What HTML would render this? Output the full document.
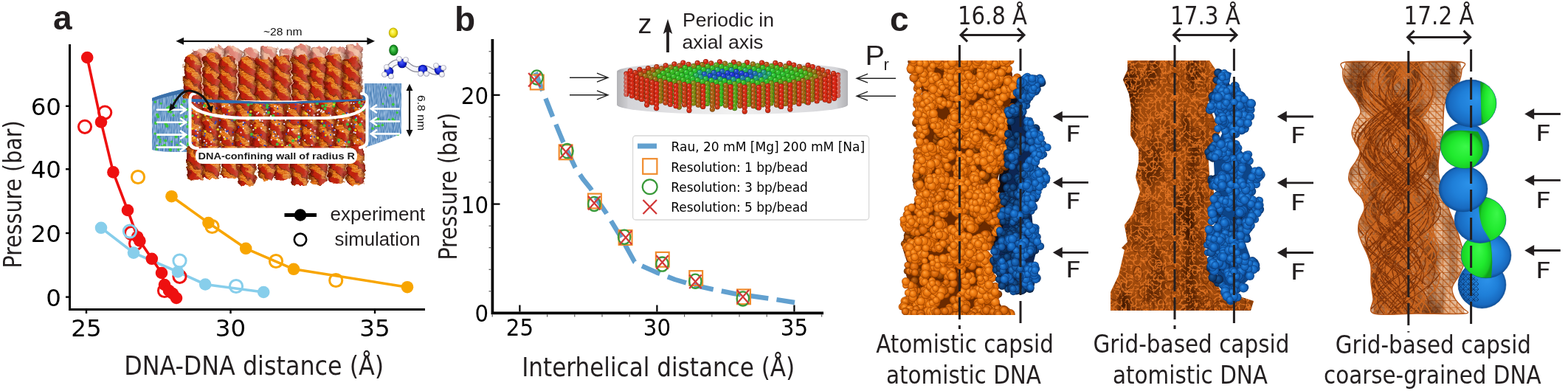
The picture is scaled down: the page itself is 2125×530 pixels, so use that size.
<!DOCTYPE html>
<html><head><meta charset="utf-8"><title>figure</title>
<style>html,body{margin:0;padding:0;background:#fff;} body{width:2125px;height:530px;overflow:hidden;} svg{display:block;}</style>
</head><body>
<svg width="2125" height="530" viewBox="0 0 2125 530">
<rect width="2125" height="530" fill="#fff"/>
<text x="72" y="40" font-family='"Liberation Sans", Arial, sans-serif' font-size="46" font-weight="bold" fill="#231f20" text-anchor="start" >a</text>
<defs><filter id="tWall" x="0" y="0" width="1" height="1" color-interpolation-filters="sRGB"><feTurbulence type="fractalNoise" baseFrequency="0.9 0.12" numOctaves="1" seed="4" result="n"/><feColorMatrix in="n" type="matrix" result="a" values="0 0 0 0 0.85  0 0 0 0 0.92  0 0 0 0 1  3 0 0 0 -1.1"/><feComposite in="a" in2="SourceGraphic" operator="in"/></filter><filter id="tDNA" x="0" y="0" width="1" height="1" color-interpolation-filters="sRGB"><feTurbulence type="fractalNoise" baseFrequency="0.25" numOctaves="2" seed="9" result="n"/><feColorMatrix in="n" type="matrix" result="a" values="0 0 0 0 0.5  0 0 0 0 0.08  0 0 0 0 0.02  2.4 0 0 0 -0.95"/><feComposite in="a" in2="SourceGraphic" operator="in"/></filter><filter id="soft2" x="-5%" y="-5%" width="110%" height="110%"><feGaussianBlur stdDeviation="0.5"/></filter><pattern id="rung" x="0" y="0" width="6" height="3.2" patternUnits="userSpaceOnUse"><rect width="6" height="3.2" fill="#dc640c"/><rect y="0" width="6" height="1.3" fill="#f29434"/></pattern><pattern id="bb1" x="0" y="0" width="16" height="16" patternUnits="userSpaceOnUse" patternTransform="rotate(38)"><rect width="16" height="7.5" fill="#bf1a0c"/><rect y="7.5" width="16" height="1.4" fill="#6a0c04"/></pattern><pattern id="bb2" x="5" y="0" width="16" height="16" patternUnits="userSpaceOnUse" patternTransform="rotate(38) translate(0 7)"><rect width="16" height="7.5" fill="#bf1a0c"/><rect y="7.5" width="16" height="1.4" fill="#6a0c04"/></pattern><pattern id="bbL" x="0" y="0" width="16" height="16" patternUnits="userSpaceOnUse" patternTransform="rotate(38) translate(0 3)"><rect width="16" height="6.5" fill="#dc6a5a"/><rect y="6.5" width="16" height="1.2" fill="#b05040"/></pattern><linearGradient id="colsh" x1="0" y1="0" x2="1" y2="0"><stop offset="0" stop-color="#3a0800" stop-opacity=".7"/><stop offset=".25" stop-color="#3a0800" stop-opacity="0"/><stop offset=".7" stop-color="#fff" stop-opacity="0.12"/><stop offset="1" stop-color="#3a0800" stop-opacity=".55"/></linearGradient><mask id="hmask" maskUnits="userSpaceOnUse" x="200" y="40" width="360" height="230"><rect x="200" y="40" width="360" height="230" fill="#fff"/></mask><filter id="wob" x="-3%" y="-3%" width="106%" height="106%" color-interpolation-filters="sRGB"><feTurbulence type="fractalNoise" baseFrequency="0.13" numOctaves="2" seed="2" result="t"/><feDisplacementMap in="SourceGraphic" in2="t" scale="9" xChannelSelector="R" yChannelSelector="G"/></filter><clipPath id="cMid"><path d="M258 128 Q378 150 497 126 L497 200 L258 200 Z"/></clipPath><clipPath id="cUp"><path d="M240 40 L520 40 L520 133 Q378 140 240 133 Z"/></clipPath><clipPath id="cLow"><rect x="240" y="198" width="280" height="70"/></clipPath></defs>
<g filter="url(#soft2)">
<path d="M206 133 Q230 124 258 119 L258 206 L232 206 Q212 205 206 203 Z" fill="#4f84ba"/>
<path d="M206 133 Q230 124 258 119 L258 206 L232 206 Q212 205 206 203 Z" fill="#000" filter="url(#tWall)" opacity="0.6"/>
<path d="M494 113 L544 113 L544 181 Q520 192 494 200 Z" fill="#4f84ba"/>
<path d="M494 113 L544 113 L544 181 Q520 192 494 200 Z" fill="#000" filter="url(#tWall)" opacity="0.6"/>
<path d="M206 133 Q230 124 258 119 L258 125 Q230 129 206 137 Z" fill="#3a70aa"/>
<g fill="#3cc83c">
<circle cx="238.7" cy="185.4" r="2.2"/>
<circle cx="253.4" cy="185.3" r="2.3"/>
<circle cx="211.3" cy="166.7" r="2.3"/>
<circle cx="239.9" cy="196.3" r="1.5"/>
<circle cx="231.6" cy="151.8" r="1.9"/>
<circle cx="236.4" cy="135.9" r="1.6"/>
<circle cx="222.9" cy="197.3" r="2.2"/>
<circle cx="217.3" cy="189.2" r="1.5"/>
<circle cx="238.4" cy="143.6" r="1.4"/>
<circle cx="250.1" cy="149.2" r="1.6"/>
<circle cx="255.2" cy="194.3" r="1.7"/>
<circle cx="254.2" cy="171.7" r="2.1"/>
<circle cx="219.4" cy="199.0" r="2.1"/>
<circle cx="254.5" cy="195.8" r="1.7"/>
<circle cx="226.6" cy="146.3" r="1.5"/>
<circle cx="213.0" cy="155.5" r="2.0"/>
<circle cx="210.2" cy="181.1" r="1.7"/>
<circle cx="224.3" cy="190.7" r="1.9"/>
<circle cx="224.5" cy="167.7" r="2.1"/>
<circle cx="212.6" cy="201.3" r="1.4"/>
<circle cx="244.5" cy="192.5" r="1.4"/>
<circle cx="246.2" cy="159.9" r="2.0"/>
<circle cx="210.4" cy="138.2" r="1.6"/>
<circle cx="253.9" cy="148.4" r="2.2"/>
<circle cx="252.8" cy="199.1" r="1.7"/>
<circle cx="226.3" cy="170.7" r="2.2"/>
<circle cx="215.0" cy="185.9" r="2.2"/>
<circle cx="249.5" cy="137.5" r="2.3"/>
<circle cx="214.2" cy="158.2" r="2.0"/>
<circle cx="252.2" cy="158.1" r="2.3"/>
<circle cx="235.1" cy="156.2" r="1.7"/>
<circle cx="218.2" cy="140.3" r="1.5"/>
<circle cx="241.7" cy="202.8" r="1.6"/>
<circle cx="212.2" cy="202.1" r="1.9"/>
<circle cx="228.7" cy="151.1" r="2.0"/>
<circle cx="248.0" cy="166.0" r="1.8"/>
<circle cx="212.6" cy="197.3" r="1.4"/>
<circle cx="232.7" cy="192.0" r="1.5"/>
<circle cx="243.7" cy="199.6" r="2.0"/>
<circle cx="246.2" cy="142.3" r="1.8"/>
<circle cx="216.9" cy="192.4" r="1.7"/>
<circle cx="230.8" cy="203.0" r="2.3"/>
<circle cx="254.9" cy="165.8" r="1.9"/>
<circle cx="243.6" cy="167.6" r="1.7"/>
<circle cx="228.6" cy="145.0" r="1.8"/>
<circle cx="539.5" cy="182.3" r="1.7"/>
<circle cx="519.0" cy="140.7" r="1.3"/>
<circle cx="509.4" cy="170.4" r="1.9"/>
<circle cx="513.2" cy="170.7" r="1.8"/>
<circle cx="527.2" cy="162.5" r="1.8"/>
<circle cx="513.3" cy="165.2" r="1.4"/>
<circle cx="518.4" cy="169.6" r="1.8"/>
<circle cx="510.3" cy="181.4" r="1.7"/>
<circle cx="522.4" cy="118.8" r="1.6"/>
<circle cx="508.5" cy="163.0" r="1.6"/>
<circle cx="532.3" cy="161.4" r="1.8"/>
<circle cx="512.6" cy="161.2" r="1.8"/>
<circle cx="532.8" cy="141.5" r="1.9"/>
<circle cx="534.5" cy="164.1" r="2.0"/>
<circle cx="538.2" cy="152.7" r="1.6"/>
<circle cx="505.0" cy="174.1" r="1.9"/>
<circle cx="518.0" cy="164.3" r="1.8"/>
<circle cx="528.7" cy="129.5" r="1.8"/>
</g>
<g clip-path="url(#cMid)">
<rect x="258" y="120" width="240" height="82" fill="#9c2410"/>
<g filter="url(#wob)">
<g>
<rect x="251.5" y="138.0" width="21" height="68.0" rx="7" fill="url(#rung)"/>
<rect x="251.5" y="138.0" width="21" height="68.0" rx="7" fill="url(#bb2)" fill-opacity="0.92" mask="url(#hmask)"/>
<rect x="251.5" y="138.0" width="21" height="68.0" rx="7" fill="url(#colsh)"/>
</g>
<g>
<rect x="274.0" y="138.0" width="21" height="68.0" rx="7" fill="url(#rung)"/>
<rect x="274.0" y="138.0" width="21" height="68.0" rx="7" fill="url(#bb2)" fill-opacity="0.92" mask="url(#hmask)"/>
<rect x="274.0" y="138.0" width="21" height="68.0" rx="7" fill="url(#colsh)"/>
</g>
<g>
<rect x="296.5" y="138.0" width="21" height="68.0" rx="7" fill="url(#rung)"/>
<rect x="296.5" y="138.0" width="21" height="68.0" rx="7" fill="url(#bb2)" fill-opacity="0.92" mask="url(#hmask)"/>
<rect x="296.5" y="138.0" width="21" height="68.0" rx="7" fill="url(#colsh)"/>
</g>
<g>
<rect x="319.0" y="138.0" width="21" height="68.0" rx="7" fill="url(#rung)"/>
<rect x="319.0" y="138.0" width="21" height="68.0" rx="7" fill="url(#bb1)" fill-opacity="0.92" mask="url(#hmask)"/>
<rect x="319.0" y="138.0" width="21" height="68.0" rx="7" fill="url(#colsh)"/>
</g>
<g>
<rect x="341.5" y="138.0" width="21" height="68.0" rx="7" fill="url(#rung)"/>
<rect x="341.5" y="138.0" width="21" height="68.0" rx="7" fill="url(#bb1)" fill-opacity="0.92" mask="url(#hmask)"/>
<rect x="341.5" y="138.0" width="21" height="68.0" rx="7" fill="url(#colsh)"/>
</g>
<g>
<rect x="364.0" y="138.0" width="21" height="68.0" rx="7" fill="url(#rung)"/>
<rect x="364.0" y="138.0" width="21" height="68.0" rx="7" fill="url(#bb1)" fill-opacity="0.92" mask="url(#hmask)"/>
<rect x="364.0" y="138.0" width="21" height="68.0" rx="7" fill="url(#colsh)"/>
</g>
<g>
<rect x="386.5" y="138.0" width="21" height="68.0" rx="7" fill="url(#rung)"/>
<rect x="386.5" y="138.0" width="21" height="68.0" rx="7" fill="url(#bb2)" fill-opacity="0.92" mask="url(#hmask)"/>
<rect x="386.5" y="138.0" width="21" height="68.0" rx="7" fill="url(#colsh)"/>
</g>
<g>
<rect x="409.0" y="138.0" width="21" height="68.0" rx="7" fill="url(#rung)"/>
<rect x="409.0" y="138.0" width="21" height="68.0" rx="7" fill="url(#bb1)" fill-opacity="0.92" mask="url(#hmask)"/>
<rect x="409.0" y="138.0" width="21" height="68.0" rx="7" fill="url(#colsh)"/>
</g>
<g>
<rect x="431.5" y="138.0" width="21" height="68.0" rx="7" fill="url(#rung)"/>
<rect x="431.5" y="138.0" width="21" height="68.0" rx="7" fill="url(#bb1)" fill-opacity="0.92" mask="url(#hmask)"/>
<rect x="431.5" y="138.0" width="21" height="68.0" rx="7" fill="url(#colsh)"/>
</g>
<g>
<rect x="454.0" y="138.0" width="21" height="68.0" rx="7" fill="url(#rung)"/>
<rect x="454.0" y="138.0" width="21" height="68.0" rx="7" fill="url(#bb1)" fill-opacity="0.92" mask="url(#hmask)"/>
<rect x="454.0" y="138.0" width="21" height="68.0" rx="7" fill="url(#colsh)"/>
</g>
<g>
<rect x="476.5" y="138.0" width="21" height="68.0" rx="7" fill="url(#rung)"/>
<rect x="476.5" y="138.0" width="21" height="68.0" rx="7" fill="url(#bb1)" fill-opacity="0.92" mask="url(#hmask)"/>
<rect x="476.5" y="138.0" width="21" height="68.0" rx="7" fill="url(#colsh)"/>
</g>
</g>
<g fill="#f0e8ff">
<circle cx="492.8" cy="198.6" r="1.1"/>
<circle cx="299.1" cy="192.4" r="1.1"/>
<circle cx="286.2" cy="197.8" r="1.1"/>
<circle cx="373.9" cy="168.4" r="1.1"/>
<circle cx="358.1" cy="154.6" r="1.1"/>
<circle cx="416.4" cy="135.0" r="1.1"/>
<circle cx="308.2" cy="180.3" r="1.1"/>
<circle cx="348.3" cy="154.5" r="1.1"/>
<circle cx="484.7" cy="189.9" r="1.1"/>
<circle cx="464.5" cy="178.2" r="1.1"/>
<circle cx="389.1" cy="197.5" r="1.1"/>
<circle cx="389.8" cy="151.1" r="1.1"/>
<circle cx="329.7" cy="165.9" r="1.1"/>
<circle cx="484.5" cy="150.5" r="1.1"/>
<circle cx="343.0" cy="139.0" r="1.1"/>
<circle cx="356.6" cy="169.5" r="1.1"/>
<circle cx="387.1" cy="162.7" r="1.1"/>
<circle cx="297.0" cy="156.8" r="1.1"/>
<circle cx="372.6" cy="143.9" r="1.1"/>
<circle cx="291.4" cy="136.4" r="1.1"/>
<circle cx="453.8" cy="176.3" r="1.1"/>
<circle cx="350.1" cy="152.8" r="1.1"/>
<circle cx="476.3" cy="167.8" r="1.1"/>
<circle cx="336.8" cy="191.4" r="1.1"/>
<circle cx="393.2" cy="160.0" r="1.1"/>
<circle cx="490.5" cy="164.5" r="1.1"/>
<circle cx="373.2" cy="179.6" r="1.1"/>
<circle cx="350.6" cy="189.8" r="1.1"/>
<circle cx="297.5" cy="171.6" r="1.1"/>
<circle cx="434.9" cy="151.1" r="1.1"/>
<circle cx="319.3" cy="131.4" r="1.1"/>
<circle cx="483.1" cy="151.5" r="1.1"/>
<circle cx="479.4" cy="140.0" r="1.1"/>
<circle cx="265.6" cy="176.2" r="1.1"/>
<circle cx="486.8" cy="147.2" r="1.1"/>
<circle cx="269.4" cy="139.6" r="1.1"/>
<circle cx="352.6" cy="163.6" r="1.1"/>
<circle cx="392.2" cy="147.0" r="1.1"/>
<circle cx="371.9" cy="132.6" r="1.1"/>
<circle cx="375.7" cy="189.1" r="1.1"/>
<circle cx="430.3" cy="150.0" r="1.1"/>
<circle cx="376.2" cy="199.5" r="1.1"/>
<circle cx="382.3" cy="190.4" r="1.1"/>
<circle cx="467.8" cy="192.7" r="1.1"/>
<circle cx="263.8" cy="138.8" r="1.1"/>
<circle cx="326.6" cy="179.6" r="1.1"/>
<circle cx="404.8" cy="181.2" r="1.1"/>
<circle cx="266.3" cy="154.5" r="1.1"/>
<circle cx="420.9" cy="186.9" r="1.1"/>
<circle cx="291.3" cy="130.2" r="1.1"/>
<circle cx="390.6" cy="178.0" r="1.1"/>
<circle cx="285.4" cy="178.1" r="1.1"/>
<circle cx="305.1" cy="160.1" r="1.1"/>
<circle cx="450.6" cy="171.6" r="1.1"/>
<circle cx="422.6" cy="196.7" r="1.1"/>
<circle cx="413.1" cy="190.1" r="1.1"/>
<circle cx="458.5" cy="163.3" r="1.1"/>
<circle cx="421.0" cy="180.4" r="1.1"/>
<circle cx="472.1" cy="162.6" r="1.1"/>
<circle cx="438.9" cy="151.3" r="1.1"/>
<circle cx="260.8" cy="184.5" r="1.1"/>
<circle cx="397.4" cy="175.4" r="1.1"/>
<circle cx="371.5" cy="151.8" r="1.1"/>
<circle cx="299.0" cy="178.7" r="1.1"/>
<circle cx="469.7" cy="198.1" r="1.1"/>
<circle cx="387.0" cy="159.8" r="1.1"/>
<circle cx="387.8" cy="133.4" r="1.1"/>
<circle cx="432.9" cy="148.7" r="1.1"/>
<circle cx="280.1" cy="134.4" r="1.1"/>
<circle cx="482.4" cy="153.3" r="1.1"/>
<circle cx="361.3" cy="134.8" r="1.1"/>
<circle cx="355.6" cy="164.1" r="1.1"/>
<circle cx="289.1" cy="138.6" r="1.1"/>
<circle cx="405.0" cy="187.7" r="1.1"/>
<circle cx="286.2" cy="192.6" r="1.1"/>
<circle cx="494.6" cy="179.4" r="1.1"/>
<circle cx="363.4" cy="142.8" r="1.1"/>
<circle cx="303.7" cy="186.1" r="1.1"/>
<circle cx="275.9" cy="144.9" r="1.1"/>
<circle cx="391.1" cy="176.2" r="1.1"/>
<circle cx="435.9" cy="149.6" r="1.1"/>
<circle cx="394.8" cy="138.3" r="1.1"/>
<circle cx="354.1" cy="173.7" r="1.1"/>
<circle cx="262.4" cy="136.4" r="1.1"/>
<circle cx="421.8" cy="164.3" r="1.1"/>
<circle cx="343.4" cy="175.9" r="1.1"/>
<circle cx="475.9" cy="139.7" r="1.1"/>
<circle cx="329.6" cy="169.8" r="1.1"/>
<circle cx="420.0" cy="150.3" r="1.1"/>
<circle cx="482.3" cy="168.5" r="1.1"/>
<circle cx="312.1" cy="134.4" r="1.1"/>
<circle cx="315.6" cy="188.3" r="1.1"/>
<circle cx="326.9" cy="198.3" r="1.1"/>
<circle cx="450.7" cy="190.4" r="1.1"/>
<circle cx="367.0" cy="157.2" r="1.1"/>
<circle cx="291.0" cy="131.3" r="1.1"/>
<circle cx="340.6" cy="170.1" r="1.1"/>
<circle cx="268.5" cy="190.4" r="1.1"/>
<circle cx="379.5" cy="161.7" r="1.1"/>
<circle cx="352.0" cy="162.4" r="1.1"/>
<circle cx="487.3" cy="137.5" r="1.1"/>
<circle cx="385.2" cy="167.9" r="1.1"/>
<circle cx="350.8" cy="189.4" r="1.1"/>
<circle cx="482.9" cy="160.1" r="1.1"/>
<circle cx="447.5" cy="182.5" r="1.1"/>
<circle cx="279.8" cy="193.8" r="1.1"/>
<circle cx="376.0" cy="144.8" r="1.1"/>
<circle cx="425.6" cy="156.3" r="1.1"/>
<circle cx="457.3" cy="150.3" r="1.1"/>
<circle cx="479.6" cy="179.4" r="1.1"/>
<circle cx="447.9" cy="156.5" r="1.1"/>
<circle cx="430.6" cy="155.1" r="1.1"/>
<circle cx="329.8" cy="174.2" r="1.1"/>
<circle cx="486.9" cy="155.4" r="1.1"/>
<circle cx="268.6" cy="199.5" r="1.1"/>
<circle cx="310.7" cy="142.6" r="1.1"/>
<circle cx="274.9" cy="132.6" r="1.1"/>
<circle cx="304.0" cy="143.7" r="1.1"/>
<circle cx="375.6" cy="195.6" r="1.1"/>
<circle cx="416.1" cy="154.4" r="1.1"/>
<circle cx="360.8" cy="151.0" r="1.1"/>
<circle cx="480.6" cy="194.5" r="1.1"/>
<circle cx="336.3" cy="162.3" r="1.1"/>
<circle cx="305.2" cy="175.7" r="1.1"/>
<circle cx="276.8" cy="190.8" r="1.1"/>
<circle cx="465.1" cy="162.9" r="1.1"/>
<circle cx="390.3" cy="137.7" r="1.1"/>
<circle cx="453.1" cy="182.5" r="1.1"/>
<circle cx="418.6" cy="132.3" r="1.1"/>
<circle cx="471.5" cy="154.1" r="1.1"/>
<circle cx="437.5" cy="152.1" r="1.1"/>
<circle cx="273.9" cy="131.5" r="1.1"/>
<circle cx="367.8" cy="189.4" r="1.1"/>
<circle cx="296.8" cy="185.0" r="1.1"/>
<circle cx="336.5" cy="161.8" r="1.1"/>
<circle cx="316.6" cy="199.6" r="1.1"/>
<circle cx="267.9" cy="180.0" r="1.1"/>
<circle cx="395.6" cy="176.0" r="1.1"/>
<circle cx="405.7" cy="193.8" r="1.1"/>
<circle cx="426.8" cy="177.6" r="1.1"/>
<circle cx="303.5" cy="155.3" r="1.1"/>
<circle cx="275.8" cy="199.6" r="1.1"/>
<circle cx="370.5" cy="184.3" r="1.1"/>
<circle cx="301.5" cy="144.6" r="1.1"/>
<circle cx="270.4" cy="172.6" r="1.1"/>
<circle cx="431.4" cy="148.9" r="1.1"/>
<circle cx="369.0" cy="161.7" r="1.1"/>
<circle cx="420.8" cy="141.9" r="1.1"/>
<circle cx="267.9" cy="188.5" r="1.1"/>
<circle cx="457.6" cy="169.6" r="1.1"/>
<circle cx="481.7" cy="180.2" r="1.1"/>
<circle cx="315.9" cy="186.2" r="1.1"/>
<circle cx="281.7" cy="163.0" r="1.1"/>
<circle cx="421.1" cy="175.1" r="1.1"/>
<circle cx="377.4" cy="184.7" r="1.1"/>
<circle cx="271.3" cy="188.3" r="1.1"/>
<circle cx="365.2" cy="174.8" r="1.1"/>
<circle cx="466.5" cy="196.5" r="1.1"/>
<circle cx="305.9" cy="178.7" r="1.1"/>
<circle cx="411.2" cy="143.2" r="1.1"/>
</g>
<g fill="#3040c0">
<circle cx="315.2" cy="194.9" r="1.1"/>
<circle cx="446.6" cy="136.1" r="1.1"/>
<circle cx="492.5" cy="141.3" r="1.1"/>
<circle cx="277.8" cy="181.1" r="1.1"/>
<circle cx="407.5" cy="160.9" r="1.1"/>
<circle cx="344.4" cy="159.6" r="1.1"/>
<circle cx="441.3" cy="166.6" r="1.1"/>
<circle cx="291.3" cy="130.9" r="1.1"/>
<circle cx="438.5" cy="178.2" r="1.1"/>
<circle cx="470.4" cy="200.0" r="1.1"/>
<circle cx="390.9" cy="139.7" r="1.1"/>
<circle cx="374.0" cy="184.6" r="1.1"/>
<circle cx="322.2" cy="158.2" r="1.1"/>
<circle cx="291.3" cy="167.6" r="1.1"/>
<circle cx="371.3" cy="178.8" r="1.1"/>
<circle cx="448.5" cy="197.7" r="1.1"/>
<circle cx="417.2" cy="149.3" r="1.1"/>
<circle cx="376.3" cy="147.4" r="1.1"/>
<circle cx="426.1" cy="185.7" r="1.1"/>
<circle cx="468.3" cy="192.0" r="1.1"/>
<circle cx="277.0" cy="183.9" r="1.1"/>
<circle cx="349.6" cy="183.8" r="1.1"/>
<circle cx="260.0" cy="150.0" r="1.1"/>
<circle cx="481.9" cy="139.2" r="1.1"/>
<circle cx="266.7" cy="140.0" r="1.1"/>
<circle cx="422.3" cy="184.7" r="1.1"/>
<circle cx="264.4" cy="133.3" r="1.1"/>
<circle cx="360.9" cy="137.5" r="1.1"/>
<circle cx="450.0" cy="169.3" r="1.1"/>
<circle cx="335.8" cy="151.5" r="1.1"/>
<circle cx="292.4" cy="164.8" r="1.1"/>
<circle cx="336.3" cy="132.4" r="1.1"/>
<circle cx="388.0" cy="181.7" r="1.1"/>
<circle cx="266.6" cy="138.5" r="1.1"/>
<circle cx="488.8" cy="187.9" r="1.1"/>
<circle cx="362.9" cy="148.1" r="1.1"/>
<circle cx="484.5" cy="131.2" r="1.1"/>
<circle cx="384.5" cy="138.8" r="1.1"/>
<circle cx="307.5" cy="155.1" r="1.1"/>
<circle cx="298.5" cy="173.3" r="1.1"/>
<circle cx="298.5" cy="198.8" r="1.1"/>
<circle cx="323.3" cy="172.4" r="1.1"/>
<circle cx="408.8" cy="140.1" r="1.1"/>
<circle cx="440.5" cy="160.4" r="1.1"/>
<circle cx="361.4" cy="153.3" r="1.1"/>
<circle cx="365.2" cy="146.0" r="1.1"/>
<circle cx="400.7" cy="142.0" r="1.1"/>
<circle cx="271.4" cy="176.8" r="1.1"/>
<circle cx="297.9" cy="163.1" r="1.1"/>
<circle cx="376.0" cy="130.1" r="1.1"/>
<circle cx="289.9" cy="189.5" r="1.1"/>
<circle cx="421.8" cy="144.5" r="1.1"/>
<circle cx="260.3" cy="193.6" r="1.1"/>
<circle cx="315.7" cy="179.4" r="1.1"/>
<circle cx="343.6" cy="162.5" r="1.1"/>
<circle cx="307.5" cy="187.5" r="1.1"/>
<circle cx="331.6" cy="166.1" r="1.1"/>
<circle cx="440.4" cy="185.0" r="1.1"/>
<circle cx="346.5" cy="186.6" r="1.1"/>
<circle cx="452.2" cy="176.4" r="1.1"/>
<circle cx="474.4" cy="134.3" r="1.1"/>
<circle cx="376.7" cy="154.4" r="1.1"/>
<circle cx="293.7" cy="146.7" r="1.1"/>
<circle cx="350.1" cy="136.6" r="1.1"/>
<circle cx="353.7" cy="182.8" r="1.1"/>
<circle cx="326.4" cy="194.5" r="1.1"/>
<circle cx="448.0" cy="182.9" r="1.1"/>
<circle cx="372.6" cy="162.9" r="1.1"/>
<circle cx="386.0" cy="136.4" r="1.1"/>
<circle cx="307.0" cy="178.2" r="1.1"/>
<circle cx="284.4" cy="172.4" r="1.1"/>
<circle cx="406.5" cy="186.9" r="1.1"/>
<circle cx="265.2" cy="177.5" r="1.1"/>
<circle cx="404.0" cy="166.0" r="1.1"/>
<circle cx="378.3" cy="168.2" r="1.1"/>
<circle cx="423.0" cy="161.5" r="1.1"/>
<circle cx="445.9" cy="170.6" r="1.1"/>
<circle cx="480.6" cy="169.0" r="1.1"/>
<circle cx="274.4" cy="140.3" r="1.1"/>
<circle cx="358.3" cy="197.1" r="1.1"/>
<circle cx="264.8" cy="183.9" r="1.1"/>
<circle cx="308.8" cy="150.0" r="1.1"/>
<circle cx="266.5" cy="184.2" r="1.1"/>
<circle cx="404.1" cy="190.4" r="1.1"/>
<circle cx="482.1" cy="158.9" r="1.1"/>
<circle cx="488.6" cy="131.0" r="1.1"/>
<circle cx="479.3" cy="146.4" r="1.1"/>
<circle cx="268.9" cy="136.2" r="1.1"/>
<circle cx="487.0" cy="151.0" r="1.1"/>
<circle cx="342.9" cy="186.1" r="1.1"/>
<circle cx="480.0" cy="172.4" r="1.1"/>
<circle cx="392.6" cy="163.8" r="1.1"/>
<circle cx="281.7" cy="138.5" r="1.1"/>
<circle cx="340.7" cy="185.0" r="1.1"/>
<circle cx="360.0" cy="197.8" r="1.1"/>
<circle cx="418.4" cy="156.5" r="1.1"/>
<circle cx="437.2" cy="167.0" r="1.1"/>
<circle cx="308.9" cy="177.4" r="1.1"/>
<circle cx="335.9" cy="152.7" r="1.1"/>
<circle cx="459.0" cy="192.2" r="1.1"/>
<circle cx="422.4" cy="198.9" r="1.1"/>
<circle cx="318.8" cy="137.0" r="1.1"/>
<circle cx="329.4" cy="185.8" r="1.1"/>
<circle cx="448.1" cy="135.5" r="1.1"/>
<circle cx="484.3" cy="135.4" r="1.1"/>
<circle cx="357.5" cy="143.0" r="1.1"/>
<circle cx="414.8" cy="169.9" r="1.1"/>
<circle cx="407.8" cy="174.8" r="1.1"/>
<circle cx="388.8" cy="158.5" r="1.1"/>
<circle cx="314.5" cy="163.8" r="1.1"/>
<circle cx="400.7" cy="147.1" r="1.1"/>
<circle cx="358.7" cy="135.9" r="1.1"/>
<circle cx="469.9" cy="153.1" r="1.1"/>
<circle cx="359.5" cy="140.4" r="1.1"/>
<circle cx="329.8" cy="168.9" r="1.1"/>
<circle cx="393.0" cy="160.4" r="1.1"/>
<circle cx="336.9" cy="137.2" r="1.1"/>
<circle cx="445.7" cy="153.1" r="1.1"/>
<circle cx="278.0" cy="196.7" r="1.1"/>
<circle cx="292.5" cy="166.4" r="1.1"/>
</g>
<g fill="#40c040">
<circle cx="277.2" cy="143.3" r="2.0"/>
<circle cx="370.4" cy="156.9" r="2.0"/>
<circle cx="472.8" cy="192.5" r="2.0"/>
<circle cx="405.2" cy="185.8" r="2.0"/>
<circle cx="458.2" cy="130.1" r="2.0"/>
<circle cx="418.7" cy="137.8" r="2.0"/>
<circle cx="339.2" cy="155.7" r="2.0"/>
<circle cx="439.5" cy="170.2" r="2.0"/>
<circle cx="364.1" cy="152.6" r="2.0"/>
<circle cx="441.6" cy="142.8" r="2.0"/>
<circle cx="470.9" cy="168.4" r="2.0"/>
<circle cx="397.0" cy="190.8" r="2.0"/>
<circle cx="465.4" cy="155.6" r="2.0"/>
<circle cx="452.2" cy="143.7" r="2.0"/>
<circle cx="336.5" cy="142.1" r="2.0"/>
<circle cx="470.3" cy="199.2" r="2.0"/>
<circle cx="440.6" cy="147.2" r="2.0"/>
<circle cx="482.2" cy="162.6" r="2.0"/>
<circle cx="261.3" cy="198.6" r="2.0"/>
<circle cx="487.1" cy="139.3" r="2.0"/>
<circle cx="260.8" cy="156.7" r="2.0"/>
<circle cx="340.9" cy="182.0" r="2.0"/>
<circle cx="375.8" cy="195.6" r="2.0"/>
<circle cx="428.1" cy="131.1" r="2.0"/>
<circle cx="451.1" cy="199.9" r="2.0"/>
<circle cx="437.2" cy="143.7" r="2.0"/>
<circle cx="341.1" cy="139.9" r="2.0"/>
<circle cx="473.8" cy="175.0" r="2.0"/>
<circle cx="440.8" cy="136.2" r="2.0"/>
<circle cx="285.9" cy="158.6" r="2.0"/>
<circle cx="482.6" cy="134.4" r="2.0"/>
<circle cx="362.0" cy="145.4" r="2.0"/>
<circle cx="492.7" cy="149.0" r="2.0"/>
<circle cx="429.9" cy="140.2" r="2.0"/>
<circle cx="488.3" cy="168.7" r="2.0"/>
<circle cx="362.1" cy="142.6" r="2.0"/>
<circle cx="459.1" cy="189.9" r="2.0"/>
<circle cx="317.8" cy="161.7" r="2.0"/>
<circle cx="290.4" cy="135.9" r="2.0"/>
<circle cx="453.0" cy="139.9" r="2.0"/>
<circle cx="451.3" cy="131.5" r="2.0"/>
<circle cx="392.7" cy="197.0" r="2.0"/>
<circle cx="464.9" cy="135.5" r="2.0"/>
<circle cx="489.3" cy="143.6" r="2.0"/>
<circle cx="449.6" cy="130.9" r="2.0"/>
</g>
<g fill="#e8d020">
<circle cx="382.5" cy="196.9" r="1.6"/>
<circle cx="401.2" cy="188.7" r="1.6"/>
<circle cx="371.0" cy="131.6" r="1.6"/>
<circle cx="297.8" cy="184.0" r="1.6"/>
<circle cx="378.0" cy="190.2" r="1.6"/>
<circle cx="481.8" cy="176.3" r="1.6"/>
<circle cx="405.9" cy="171.1" r="1.6"/>
<circle cx="310.9" cy="159.5" r="1.6"/>
<circle cx="430.7" cy="186.9" r="1.6"/>
<circle cx="454.4" cy="160.3" r="1.6"/>
<circle cx="472.0" cy="131.0" r="1.6"/>
<circle cx="452.5" cy="141.7" r="1.6"/>
<circle cx="339.9" cy="151.2" r="1.6"/>
<circle cx="305.0" cy="188.4" r="1.6"/>
<circle cx="278.1" cy="155.9" r="1.6"/>
<circle cx="352.9" cy="143.3" r="1.6"/>
<circle cx="292.9" cy="155.4" r="1.6"/>
<circle cx="260.6" cy="174.3" r="1.6"/>
<circle cx="441.5" cy="183.1" r="1.6"/>
<circle cx="278.2" cy="178.1" r="1.6"/>
<circle cx="268.5" cy="158.7" r="1.6"/>
<circle cx="295.3" cy="175.4" r="1.6"/>
<circle cx="436.4" cy="164.6" r="1.6"/>
<circle cx="335.0" cy="162.1" r="1.6"/>
<circle cx="370.5" cy="135.4" r="1.6"/>
<circle cx="346.1" cy="173.3" r="1.6"/>
<circle cx="263.4" cy="186.9" r="1.6"/>
<circle cx="280.2" cy="139.2" r="1.6"/>
<circle cx="414.3" cy="153.4" r="1.6"/>
<circle cx="310.6" cy="150.6" r="1.6"/>
</g>
<path d="M258 128 Q378 134 497 126 L497 136 Q378 144 258 138 Z" fill="#2f6cae"/>
</g>
<g clip-path="url(#cUp)"><g filter="url(#wob)">
<g opacity="0.85">
<rect x="260.1" y="66.2" width="23" height="73.8" rx="7" fill="#f0b090"/>
<rect x="260.1" y="66.2" width="23" height="73.8" rx="7" fill="url(#bbL)" fill-opacity="0.92" mask="url(#hmask)"/>
<rect x="260.1" y="66.2" width="23" height="73.8" rx="7" fill="url(#colsh)"/>
</g>
<g opacity="0.85">
<rect x="282.2" y="62.0" width="23" height="78.0" rx="7" fill="#f0b090"/>
<rect x="282.2" y="62.0" width="23" height="78.0" rx="7" fill="url(#bbL)" fill-opacity="0.92" mask="url(#hmask)"/>
<rect x="282.2" y="62.0" width="23" height="78.0" rx="7" fill="url(#colsh)"/>
</g>
<g opacity="0.85">
<rect x="303.9" y="62.8" width="23" height="77.2" rx="7" fill="#f0b090"/>
<rect x="303.9" y="62.8" width="23" height="77.2" rx="7" fill="url(#bbL)" fill-opacity="0.92" mask="url(#hmask)"/>
<rect x="303.9" y="62.8" width="23" height="77.2" rx="7" fill="url(#colsh)"/>
</g>
<g opacity="0.85">
<rect x="328.2" y="66.3" width="23" height="73.7" rx="7" fill="#f0b090"/>
<rect x="328.2" y="66.3" width="23" height="73.7" rx="7" fill="url(#bbL)" fill-opacity="0.92" mask="url(#hmask)"/>
<rect x="328.2" y="66.3" width="23" height="73.7" rx="7" fill="url(#colsh)"/>
</g>
<g opacity="0.85">
<rect x="352.7" y="63.1" width="23" height="76.9" rx="7" fill="#f0b090"/>
<rect x="352.7" y="63.1" width="23" height="76.9" rx="7" fill="url(#bbL)" fill-opacity="0.92" mask="url(#hmask)"/>
<rect x="352.7" y="63.1" width="23" height="76.9" rx="7" fill="url(#colsh)"/>
</g>
<g opacity="0.85">
<rect x="377.5" y="66.8" width="23" height="73.2" rx="7" fill="#f0b090"/>
<rect x="377.5" y="66.8" width="23" height="73.2" rx="7" fill="url(#bbL)" fill-opacity="0.92" mask="url(#hmask)"/>
<rect x="377.5" y="66.8" width="23" height="73.2" rx="7" fill="url(#colsh)"/>
</g>
<g opacity="0.85">
<rect x="398.1" y="60.1" width="23" height="79.9" rx="7" fill="#f0b090"/>
<rect x="398.1" y="60.1" width="23" height="79.9" rx="7" fill="url(#bbL)" fill-opacity="0.92" mask="url(#hmask)"/>
<rect x="398.1" y="60.1" width="23" height="79.9" rx="7" fill="url(#colsh)"/>
</g>
<g opacity="0.85">
<rect x="421.1" y="62.7" width="23" height="77.3" rx="7" fill="#f0b090"/>
<rect x="421.1" y="62.7" width="23" height="77.3" rx="7" fill="url(#bbL)" fill-opacity="0.92" mask="url(#hmask)"/>
<rect x="421.1" y="62.7" width="23" height="77.3" rx="7" fill="url(#colsh)"/>
</g>
<g opacity="0.85">
<rect x="445.5" y="64.7" width="23" height="75.3" rx="7" fill="#f0b090"/>
<rect x="445.5" y="64.7" width="23" height="75.3" rx="7" fill="url(#bbL)" fill-opacity="0.92" mask="url(#hmask)"/>
<rect x="445.5" y="64.7" width="23" height="75.3" rx="7" fill="url(#colsh)"/>
</g>
<g opacity="0.85">
<rect x="468.2" y="60.1" width="23" height="79.9" rx="7" fill="#f0b090"/>
<rect x="468.2" y="60.1" width="23" height="79.9" rx="7" fill="url(#bbL)" fill-opacity="0.92" mask="url(#hmask)"/>
<rect x="468.2" y="60.1" width="23" height="79.9" rx="7" fill="url(#colsh)"/>
</g>
<g>
<rect x="248.8" y="74.3" width="24" height="75.7" rx="7" fill="url(#rung)"/>
<rect x="248.8" y="74.3" width="24" height="75.7" rx="7" fill="url(#bb1)" fill-opacity="0.92" mask="url(#hmask)"/>
<rect x="248.8" y="74.3" width="24" height="75.7" rx="7" fill="url(#colsh)"/>
</g>
<g>
<rect x="275.2" y="72.6" width="24" height="77.4" rx="7" fill="url(#rung)"/>
<rect x="275.2" y="72.6" width="24" height="77.4" rx="7" fill="url(#bb1)" fill-opacity="0.92" mask="url(#hmask)"/>
<rect x="275.2" y="72.6" width="24" height="77.4" rx="7" fill="url(#colsh)"/>
</g>
<g>
<rect x="296.2" y="75.9" width="24" height="74.1" rx="7" fill="url(#rung)"/>
<rect x="296.2" y="75.9" width="24" height="74.1" rx="7" fill="url(#bb2)" fill-opacity="0.92" mask="url(#hmask)"/>
<rect x="296.2" y="75.9" width="24" height="74.1" rx="7" fill="url(#colsh)"/>
</g>
<g>
<rect x="323.1" y="77.6" width="24" height="72.4" rx="7" fill="url(#rung)"/>
<rect x="323.1" y="77.6" width="24" height="72.4" rx="7" fill="url(#bb2)" fill-opacity="0.92" mask="url(#hmask)"/>
<rect x="323.1" y="77.6" width="24" height="72.4" rx="7" fill="url(#colsh)"/>
</g>
<g>
<rect x="345.8" y="78.5" width="24" height="71.5" rx="7" fill="url(#rung)"/>
<rect x="345.8" y="78.5" width="24" height="71.5" rx="7" fill="url(#bb2)" fill-opacity="0.92" mask="url(#hmask)"/>
<rect x="345.8" y="78.5" width="24" height="71.5" rx="7" fill="url(#colsh)"/>
</g>
<g>
<rect x="370.3" y="74.8" width="24" height="75.2" rx="7" fill="url(#rung)"/>
<rect x="370.3" y="74.8" width="24" height="75.2" rx="7" fill="url(#bb2)" fill-opacity="0.92" mask="url(#hmask)"/>
<rect x="370.3" y="74.8" width="24" height="75.2" rx="7" fill="url(#colsh)"/>
</g>
<g>
<rect x="396.0" y="75.0" width="24" height="75.0" rx="7" fill="url(#rung)"/>
<rect x="396.0" y="75.0" width="24" height="75.0" rx="7" fill="url(#bb1)" fill-opacity="0.92" mask="url(#hmask)"/>
<rect x="396.0" y="75.0" width="24" height="75.0" rx="7" fill="url(#colsh)"/>
</g>
<g>
<rect x="418.4" y="78.8" width="24" height="71.2" rx="7" fill="url(#rung)"/>
<rect x="418.4" y="78.8" width="24" height="71.2" rx="7" fill="url(#bb2)" fill-opacity="0.92" mask="url(#hmask)"/>
<rect x="418.4" y="78.8" width="24" height="71.2" rx="7" fill="url(#colsh)"/>
</g>
<g>
<rect x="440.2" y="74.1" width="24" height="75.9" rx="7" fill="url(#rung)"/>
<rect x="440.2" y="74.1" width="24" height="75.9" rx="7" fill="url(#bb2)" fill-opacity="0.92" mask="url(#hmask)"/>
<rect x="440.2" y="74.1" width="24" height="75.9" rx="7" fill="url(#colsh)"/>
</g>
<g>
<rect x="464.4" y="77.1" width="24" height="72.9" rx="7" fill="url(#rung)"/>
<rect x="464.4" y="77.1" width="24" height="72.9" rx="7" fill="url(#bb2)" fill-opacity="0.92" mask="url(#hmask)"/>
<rect x="464.4" y="77.1" width="24" height="72.9" rx="7" fill="url(#colsh)"/>
</g>
</g></g>
<g clip-path="url(#cLow)"><g filter="url(#wob)">
<g>
<rect x="253.3" y="185.0" width="24" height="58.5" rx="7" fill="url(#rung)"/>
<rect x="253.3" y="185.0" width="24" height="58.5" rx="7" fill="url(#bb2)" fill-opacity="0.92" mask="url(#hmask)"/>
<rect x="253.3" y="185.0" width="24" height="58.5" rx="7" fill="url(#colsh)"/>
</g>
<g>
<rect x="274.3" y="185.0" width="24" height="57.0" rx="7" fill="url(#rung)"/>
<rect x="274.3" y="185.0" width="24" height="57.0" rx="7" fill="url(#bb1)" fill-opacity="0.92" mask="url(#hmask)"/>
<rect x="274.3" y="185.0" width="24" height="57.0" rx="7" fill="url(#colsh)"/>
</g>
<g>
<rect x="300.3" y="185.0" width="24" height="57.5" rx="7" fill="url(#rung)"/>
<rect x="300.3" y="185.0" width="24" height="57.5" rx="7" fill="url(#bb1)" fill-opacity="0.92" mask="url(#hmask)"/>
<rect x="300.3" y="185.0" width="24" height="57.5" rx="7" fill="url(#colsh)"/>
</g>
<g>
<rect x="322.5" y="185.0" width="24" height="66.7" rx="7" fill="url(#rung)"/>
<rect x="322.5" y="185.0" width="24" height="66.7" rx="7" fill="url(#bb2)" fill-opacity="0.92" mask="url(#hmask)"/>
<rect x="322.5" y="185.0" width="24" height="66.7" rx="7" fill="url(#colsh)"/>
</g>
<g>
<rect x="349.9" y="185.0" width="24" height="59.9" rx="7" fill="url(#rung)"/>
<rect x="349.9" y="185.0" width="24" height="59.9" rx="7" fill="url(#bb2)" fill-opacity="0.92" mask="url(#hmask)"/>
<rect x="349.9" y="185.0" width="24" height="59.9" rx="7" fill="url(#colsh)"/>
</g>
<g>
<rect x="371.9" y="185.0" width="24" height="58.6" rx="7" fill="url(#rung)"/>
<rect x="371.9" y="185.0" width="24" height="58.6" rx="7" fill="url(#bb1)" fill-opacity="0.92" mask="url(#hmask)"/>
<rect x="371.9" y="185.0" width="24" height="58.6" rx="7" fill="url(#colsh)"/>
</g>
<g>
<rect x="395.0" y="185.0" width="24" height="66.1" rx="7" fill="url(#rung)"/>
<rect x="395.0" y="185.0" width="24" height="66.1" rx="7" fill="url(#bb2)" fill-opacity="0.92" mask="url(#hmask)"/>
<rect x="395.0" y="185.0" width="24" height="66.1" rx="7" fill="url(#colsh)"/>
</g>
<g>
<rect x="419.6" y="185.0" width="24" height="63.9" rx="7" fill="url(#rung)"/>
<rect x="419.6" y="185.0" width="24" height="63.9" rx="7" fill="url(#bb1)" fill-opacity="0.92" mask="url(#hmask)"/>
<rect x="419.6" y="185.0" width="24" height="63.9" rx="7" fill="url(#colsh)"/>
</g>
<g>
<rect x="444.8" y="185.0" width="24" height="63.5" rx="7" fill="url(#rung)"/>
<rect x="444.8" y="185.0" width="24" height="63.5" rx="7" fill="url(#bb2)" fill-opacity="0.92" mask="url(#hmask)"/>
<rect x="444.8" y="185.0" width="24" height="63.5" rx="7" fill="url(#colsh)"/>
</g>
<g>
<rect x="469.7" y="185.0" width="24" height="66.2" rx="7" fill="url(#rung)"/>
<rect x="469.7" y="185.0" width="24" height="66.2" rx="7" fill="url(#bb1)" fill-opacity="0.92" mask="url(#hmask)"/>
<rect x="469.7" y="185.0" width="24" height="66.2" rx="7" fill="url(#colsh)"/>
</g>
</g>
</g>
</g>
<g stroke="#fff" fill="none" stroke-linecap="round">
<path d="M264 127 Q257 127 257.5 136 L257.5 193 Q258 201 268 201" stroke-width="4.2"/>
<path d="M490 127 Q498 127 497.5 136 L497.5 191 Q497 199 488 200" stroke-width="4.2"/>
<path d="M259 142 Q270 158 330 160 L440 160 Q492 158 497 140" stroke-width="4.2"/>
<path d="M213 148.7 H252 M245 143.7 L252 148.7 L245 153.7" stroke-width="2.6"/>
<path d="M213 165.7 H252 M245 160.7 L252 165.7 L245 170.7" stroke-width="2.6"/>
<path d="M213 182.6 H252 M245 177.6 L252 182.6 L245 187.6" stroke-width="2.6"/>
<path d="M213 199.6 H252 M245 194.6 L252 199.6 L245 204.6" stroke-width="2.6"/>
<path d="M541 147.5 H503 M510 142.5 L503 147.5 L510 152.5" stroke-width="2.6"/>
<path d="M541 164.5 H503 M510 159.5 L503 164.5 L510 169.5" stroke-width="2.6"/>
<path d="M541 181.4 H503 M510 176.4 L503 181.4 L510 186.4" stroke-width="2.6"/>
</g>
<path d="M233 146 Q246 118 262 124 Q278 128 285 148" stroke="#111" stroke-width="3" fill="none"/>
<path d="M229 151 L231 140 L238 146 Z" fill="#111"/>
<path d="M287 153 L280 146 L289 143 Z" fill="#111"/>
<rect x="265" y="200.5" width="219" height="21.5" rx="9" fill="#fff"/>
<text x="268.5" y="215.8" font-family='"Liberation Sans", Arial, sans-serif' font-size="13.2" font-weight="bold" fill="#1a1a1a" text-anchor="start" textLength="212.5" lengthAdjust="spacingAndGlyphs" >DNA-confining wall of radius R</text>
<path d="M246 55.8 H500" stroke="#111" stroke-width="2.2"/>
<path d="M238.4 55.8 L249 50.8 L249 60.8 Z" fill="#111"/>
<path d="M508 55.8 L497.4 50.8 L497.4 60.8 Z" fill="#111"/>
<text x="357" y="48.4" font-family='"Liberation Sans", Arial, sans-serif' font-size="14.5" font-weight="normal" fill="#111" text-anchor="start" textLength="52.5" lengthAdjust="spacingAndGlyphs" >~28 nm</text>
<path d="M555 121 V178" stroke="#111" stroke-width="2.2"/>
<path d="M555 113.5 L550.5 123 L559.5 123 Z" fill="#111"/>
<path d="M555 185.5 L550.5 176 L559.5 176 Z" fill="#111"/>
<text x="566" y="129" font-family='"Liberation Sans", Arial, sans-serif' font-size="14.5" font-weight="normal" fill="#111" text-anchor="start" textLength="48" lengthAdjust="spacingAndGlyphs" transform="rotate(90 566 129)">6.8 nm</text>
<defs><radialGradient id="gy" cx=".5" cy=".5" r=".5" fx=".4" fy=".35"><stop offset="0" stop-color="#ffff90"/><stop offset=".6" stop-color="#f2e21a"/><stop offset="1" stop-color="#b0a000"/></radialGradient><radialGradient id="gg" cx=".5" cy=".5" r=".5" fx=".4" fy=".35"><stop offset="0" stop-color="#70e070"/><stop offset=".6" stop-color="#1ea02a"/><stop offset="1" stop-color="#0c6014"/></radialGradient><radialGradient id="gw" cx=".5" cy=".5" r=".5" fx=".4" fy=".35"><stop offset="0" stop-color="#fff"/><stop offset=".7" stop-color="#e8e8f0"/><stop offset="1" stop-color="#9090a8"/></radialGradient><radialGradient id="gn" cx=".5" cy=".5" r=".5" fx=".4" fy=".35"><stop offset="0" stop-color="#5060ff"/><stop offset=".7" stop-color="#1020d0"/><stop offset="1" stop-color="#081080"/></radialGradient></defs>
<ellipse cx="533" cy="44.4" rx="6.2" ry="7" fill="url(#gy)"/>
<ellipse cx="533.4" cy="68" rx="6.2" ry="7.5" fill="url(#gg)"/>
<path d="M525 96 Q531 84 541 84 Q550 85 555 90 Q562 96 570 93 Q578 91 584 96 Q590 100 598 96" stroke="#8a8a98" stroke-width="8" fill="none" stroke-linecap="round"/>
<path d="M525 96 Q531 84 541 84 Q550 85 555 90 Q562 96 570 93 Q578 91 584 96 Q590 100 598 96" stroke="#f4f4f8" stroke-width="5.5" fill="none" stroke-linecap="round"/>
<circle cx="527" cy="97" r="6.3" fill="url(#gn)"/>
<circle cx="545" cy="86" r="6.3" fill="url(#gn)"/>
<circle cx="573" cy="94" r="6.3" fill="url(#gn)"/>
<circle cx="595" cy="95" r="6.3" fill="url(#gn)"/>
<circle cx="521" cy="101" r="3.8" fill="url(#gw)"/>
<circle cx="530" cy="103.5" r="3.8" fill="url(#gw)"/>
<circle cx="524" cy="91" r="3.8" fill="url(#gw)"/>
<circle cx="541" cy="80" r="3.8" fill="url(#gw)"/>
<circle cx="550" cy="81" r="3.8" fill="url(#gw)"/>
<circle cx="570" cy="100" r="3.8" fill="url(#gw)"/>
<circle cx="578" cy="100" r="3.8" fill="url(#gw)"/>
<circle cx="591" cy="89" r="3.8" fill="url(#gw)"/>
<circle cx="599" cy="101" r="3.8" fill="url(#gw)"/>
<circle cx="601" cy="92" r="3.8" fill="url(#gw)"/>
<g stroke="#000" stroke-width="3" fill="none" stroke-linecap="butt">
<path d="M94.5 60 V419.5 H576"/>
<path d="M89 402.6 H94.5" stroke-width="2.4"/>
<path d="M89 316 H94.5" stroke-width="2.4"/>
<path d="M89 229.3 H94.5" stroke-width="2.4"/>
<path d="M89 143.8 H94.5" stroke-width="2.4"/>
<path d="M117 419.5 V425" stroke-width="2.4"/>
<path d="M312.5 419.5 V425" stroke-width="2.4"/>
<path d="M508 419.5 V425" stroke-width="2.4"/>
</g>
<text x="83" y="414.6" font-family='"DejaVu Sans", sans-serif' font-size="32.5" font-weight="normal" fill="#000" text-anchor="end" >0</text>
<text x="83" y="328" font-family='"DejaVu Sans", sans-serif' font-size="32.5" font-weight="normal" fill="#000" text-anchor="end" >20</text>
<text x="83" y="241.3" font-family='"DejaVu Sans", sans-serif' font-size="32.5" font-weight="normal" fill="#000" text-anchor="end" >40</text>
<text x="83" y="155.8" font-family='"DejaVu Sans", sans-serif' font-size="32.5" font-weight="normal" fill="#000" text-anchor="end" >60</text>
<text x="117" y="455.5" font-family='"DejaVu Sans", sans-serif' font-size="32.5" font-weight="normal" fill="#000" text-anchor="middle" >25</text>
<text x="312.5" y="455.5" font-family='"DejaVu Sans", sans-serif' font-size="32.5" font-weight="normal" fill="#000" text-anchor="middle" >30</text>
<text x="508" y="455.5" font-family='"DejaVu Sans", sans-serif' font-size="32.5" font-weight="normal" fill="#000" text-anchor="middle" >35</text>
<text x="29.2" y="363.4" font-family='"DejaVu Sans Condensed", "DejaVu Sans", sans-serif' font-size="34" font-weight="normal" fill="#231f20" text-anchor="start" textLength="200" lengthAdjust="spacingAndGlyphs" transform="rotate(-90 29.2 363.4)">Pressure (bar)</text>
<g transform="rotate(-90 29.2 360.2)"></g>
<text x="168.2" y="507.9" font-family='"DejaVu Sans Condensed", "DejaVu Sans", sans-serif' font-size="35" font-weight="normal" fill="#231f20" text-anchor="start" textLength="352" lengthAdjust="spacingAndGlyphs" >DNA-DNA distance (Å)</text>
<path d="M232.5 266.2 L282.4 302 L333.2 336.8 L398 364.8 L552 389.2" stroke="#f8a500" stroke-width="3.6" fill="none" stroke-linejoin="round"/>
<circle cx="232.5" cy="266.2" r="8.3" fill="#f8a500"/>
<circle cx="282.4" cy="302" r="8.3" fill="#f8a500"/>
<circle cx="333.2" cy="336.8" r="8.3" fill="#f8a500"/>
<circle cx="398" cy="364.8" r="8.3" fill="#f8a500"/>
<circle cx="552" cy="389.2" r="8.3" fill="#f8a500"/>
<circle cx="187" cy="240" r="8.6" fill="none" stroke="#f8a500" stroke-width="3"/>
<circle cx="287.5" cy="307" r="8.6" fill="none" stroke="#f8a500" stroke-width="3"/>
<circle cx="374" cy="354" r="8.6" fill="none" stroke="#f8a500" stroke-width="3"/>
<circle cx="455.2" cy="380" r="8.6" fill="none" stroke="#f8a500" stroke-width="3"/>
<path d="M137 308.8 L181 342.6 L241 368.5 L278.2 385.5 L357.2 396" stroke="#87ceeb" stroke-width="3.6" fill="none" stroke-linejoin="round"/>
<path d="M118.2 78 L137 165.4 L153.4 233.4 L173 285 L186.2 321.2 L189.4 326.5 L205.8 350.8 L219 370 L223 386 L229 394 L234 398 L239 404" stroke="#ee1010" stroke-width="3.6" fill="none" stroke-linejoin="round"/>
<circle cx="118.2" cy="78" r="8.3" fill="#ee1010"/>
<circle cx="137" cy="165.4" r="8.3" fill="#ee1010"/>
<circle cx="153.4" cy="233.4" r="8.3" fill="#ee1010"/>
<circle cx="173" cy="285" r="8.3" fill="#ee1010"/>
<circle cx="186.2" cy="321.2" r="8.3" fill="#ee1010"/>
<circle cx="189.4" cy="326.5" r="8.3" fill="#ee1010"/>
<circle cx="205.8" cy="350.8" r="8.3" fill="#ee1010"/>
<circle cx="219" cy="370" r="8.3" fill="#ee1010"/>
<circle cx="223" cy="386" r="8.3" fill="#ee1010"/>
<circle cx="229" cy="394" r="8.3" fill="#ee1010"/>
<circle cx="234" cy="398" r="8.3" fill="#ee1010"/>
<circle cx="239" cy="404" r="8.3" fill="#ee1010"/>
<circle cx="142.2" cy="152.6" r="8.6" fill="none" stroke="#ee1010" stroke-width="3"/>
<circle cx="115" cy="171.8" r="8.6" fill="none" stroke="#ee1010" stroke-width="3"/>
<circle cx="178" cy="316" r="8.6" fill="none" stroke="#ee1010" stroke-width="3"/>
<circle cx="243.5" cy="374.8" r="8.6" fill="none" stroke="#ee1010" stroke-width="3"/>
<circle cx="223" cy="394" r="8.6" fill="none" stroke="#ee1010" stroke-width="3"/>
<circle cx="184" cy="330" r="8.6" fill="none" stroke="#ee1010" stroke-width="3"/>
<circle cx="137" cy="308.8" r="8.3" fill="#87ceeb"/>
<circle cx="181" cy="342.6" r="8.3" fill="#87ceeb"/>
<circle cx="241" cy="368.5" r="8.3" fill="#87ceeb"/>
<circle cx="278.2" cy="385.5" r="8.3" fill="#87ceeb"/>
<circle cx="357.2" cy="396" r="8.3" fill="#87ceeb"/>
<circle cx="176" cy="313.5" r="8.6" fill="none" stroke="#87ceeb" stroke-width="3"/>
<circle cx="243.5" cy="353.5" r="8.6" fill="none" stroke="#87ceeb" stroke-width="3"/>
<circle cx="320" cy="388" r="8.6" fill="none" stroke="#87ceeb" stroke-width="3"/>
<path d="M385.5 291.5 H429" stroke="#000" stroke-width="5"/>
<circle cx="407" cy="291.5" r="8.3" fill="#000"/>
<circle cx="407" cy="324.8" r="8.2" fill="none" stroke="#000" stroke-width="2.6"/>
<text x="447.6" y="299.4" font-family='"Liberation Sans", Arial, sans-serif' font-size="26" font-weight="normal" fill="#231f20" text-anchor="start" textLength="128.5" lengthAdjust="spacingAndGlyphs" >experiment</text>
<text x="453.6" y="333.3" font-family='"Liberation Sans", Arial, sans-serif' font-size="26" font-weight="normal" fill="#231f20" text-anchor="start" textLength="116" lengthAdjust="spacingAndGlyphs" >simulation</text>
<text x="616" y="42" font-family='"Liberation Sans", Arial, sans-serif' font-size="46" font-weight="bold" fill="#231f20" text-anchor="start" >b</text>
<defs><linearGradient id="cylw" x1="0" y1="0" x2="1" y2="0"><stop offset="0" stop-color="#a8a8ac"/><stop offset="0.05" stop-color="#d4d4d8"/><stop offset="0.5" stop-color="#f2f2f2"/><stop offset="0.95" stop-color="#d4d4d8"/><stop offset="1" stop-color="#a8a8ac"/></linearGradient></defs>
<path d="M836.0 97 A156.5 13 0 0 1 1149.0 97 L1149.0 142 A156.5 13 0 0 1 836.0 142 Z" fill="url(#cylw)"/>
<path d="M956.5 83.6v33.0" stroke="#8c190d" stroke-width="7.2" stroke-dasharray="0 5.5" stroke-linecap="round"/>
<path d="M956.5 83.6v33.0" stroke="#d82714" stroke-width="6.0" stroke-dasharray="0 5.5" stroke-linecap="round"/>
<path d="M955.5 82.6v33.0" stroke="#e67366" stroke-width="2.2" stroke-dasharray="0 5.5" stroke-linecap="round"/>
<path d="M975.4 83.9v33.0" stroke="#891d0d" stroke-width="7.2" stroke-dasharray="0 5.5" stroke-linecap="round"/>
<path d="M975.4 83.9v33.0" stroke="#d32c14" stroke-width="6.0" stroke-dasharray="0 5.5" stroke-linecap="round"/>
<path d="M974.4 82.9v33.0" stroke="#e27666" stroke-width="2.2" stroke-dasharray="0 5.5" stroke-linecap="round"/>
<path d="M994.5 84.3v33.0" stroke="#84220d" stroke-width="7.2" stroke-dasharray="0 5.5" stroke-linecap="round"/>
<path d="M994.5 84.3v33.0" stroke="#cb3514" stroke-width="6.0" stroke-dasharray="0 5.5" stroke-linecap="round"/>
<path d="M993.5 83.3v33.0" stroke="#dd7c66" stroke-width="2.2" stroke-dasharray="0 5.5" stroke-linecap="round"/>
<path d="M1012.5 84.7v33.0" stroke="#881e0d" stroke-width="7.2" stroke-dasharray="0 5.5" stroke-linecap="round"/>
<path d="M1012.5 84.7v33.0" stroke="#d12e14" stroke-width="6.0" stroke-dasharray="0 5.5" stroke-linecap="round"/>
<path d="M1011.5 83.7v33.0" stroke="#e17766" stroke-width="2.2" stroke-dasharray="0 5.5" stroke-linecap="round"/>
<path d="M925.8 85.1v33.0" stroke="#8b1b0d" stroke-width="7.2" stroke-dasharray="0 5.5" stroke-linecap="round"/>
<path d="M925.8 85.1v33.0" stroke="#d62914" stroke-width="6.0" stroke-dasharray="0 5.5" stroke-linecap="round"/>
<path d="M924.8 84.1v33.0" stroke="#e47466" stroke-width="2.2" stroke-dasharray="0 5.5" stroke-linecap="round"/>
<path d="M1032.5 85.1v33.0" stroke="#871f0d" stroke-width="7.2" stroke-dasharray="0 5.5" stroke-linecap="round"/>
<path d="M1032.5 85.1v33.0" stroke="#cf3014" stroke-width="6.0" stroke-dasharray="0 5.5" stroke-linecap="round"/>
<path d="M1031.5 84.1v33.0" stroke="#e07866" stroke-width="2.2" stroke-dasharray="0 5.5" stroke-linecap="round"/>
<path d="M945.2 85.4v33.0" stroke="#871f0d" stroke-width="7.2" stroke-dasharray="0 5.5" stroke-linecap="round"/>
<path d="M945.2 85.4v33.0" stroke="#cf3014" stroke-width="6.0" stroke-dasharray="0 5.5" stroke-linecap="round"/>
<path d="M944.2 84.4v33.0" stroke="#e07866" stroke-width="2.2" stroke-dasharray="0 5.5" stroke-linecap="round"/>
<path d="M1050.8 85.4v33.0" stroke="#871f0d" stroke-width="7.2" stroke-dasharray="0 5.5" stroke-linecap="round"/>
<path d="M1050.8 85.4v33.0" stroke="#d02f14" stroke-width="6.0" stroke-dasharray="0 5.5" stroke-linecap="round"/>
<path d="M1049.8 84.4v33.0" stroke="#e07866" stroke-width="2.2" stroke-dasharray="0 5.5" stroke-linecap="round"/>
<path d="M963.8 85.8v33.0" stroke="#81260d" stroke-width="7.2" stroke-dasharray="0 5.5" stroke-linecap="round"/>
<path d="M963.8 85.8v33.0" stroke="#c63b14" stroke-width="6.0" stroke-dasharray="0 5.5" stroke-linecap="round"/>
<path d="M962.8 84.8v33.0" stroke="#da8066" stroke-width="2.2" stroke-dasharray="0 5.5" stroke-linecap="round"/>
<path d="M1069.4 85.8v33.0" stroke="#8d190d" stroke-width="7.2" stroke-dasharray="0 5.5" stroke-linecap="round"/>
<path d="M1069.4 85.8v33.0" stroke="#d92614" stroke-width="6.0" stroke-dasharray="0 5.5" stroke-linecap="round"/>
<path d="M1068.4 84.8v33.0" stroke="#e67266" stroke-width="2.2" stroke-dasharray="0 5.5" stroke-linecap="round"/>
<path d="M982.6 86.2v33.0" stroke="#634b0d" stroke-width="7.2" stroke-dasharray="0 5.5" stroke-linecap="round"/>
<path d="M982.6 86.2v33.0" stroke="#987414" stroke-width="6.0" stroke-dasharray="0 5.5" stroke-linecap="round"/>
<path d="M981.6 85.2v33.0" stroke="#bca566" stroke-width="2.2" stroke-dasharray="0 5.5" stroke-linecap="round"/>
<path d="M1001.4 86.5v33.0" stroke="#67470d" stroke-width="7.2" stroke-dasharray="0 5.5" stroke-linecap="round"/>
<path d="M1001.4 86.5v33.0" stroke="#9e6d14" stroke-width="6.0" stroke-dasharray="0 5.5" stroke-linecap="round"/>
<path d="M1000.4 85.5v33.0" stroke="#c0a066" stroke-width="2.2" stroke-dasharray="0 5.5" stroke-linecap="round"/>
<path d="M913.9 86.9v33.0" stroke="#871f0d" stroke-width="7.2" stroke-dasharray="0 5.5" stroke-linecap="round"/>
<path d="M913.9 86.9v33.0" stroke="#cf3014" stroke-width="6.0" stroke-dasharray="0 5.5" stroke-linecap="round"/>
<path d="M912.9 85.9v33.0" stroke="#e07866" stroke-width="2.2" stroke-dasharray="0 5.5" stroke-linecap="round"/>
<path d="M1020.3 86.9v33.0" stroke="#644a0d" stroke-width="7.2" stroke-dasharray="0 5.5" stroke-linecap="round"/>
<path d="M1020.3 86.9v33.0" stroke="#9a7214" stroke-width="6.0" stroke-dasharray="0 5.5" stroke-linecap="round"/>
<path d="M1019.3 85.9v33.0" stroke="#bda366" stroke-width="2.2" stroke-dasharray="0 5.5" stroke-linecap="round"/>
<path d="M933.1 87.3v33.0" stroke="#81260d" stroke-width="7.2" stroke-dasharray="0 5.5" stroke-linecap="round"/>
<path d="M933.1 87.3v33.0" stroke="#c73a14" stroke-width="6.0" stroke-dasharray="0 5.5" stroke-linecap="round"/>
<path d="M932.1 86.3v33.0" stroke="#db7f66" stroke-width="2.2" stroke-dasharray="0 5.5" stroke-linecap="round"/>
<path d="M1038.9 87.3v33.0" stroke="#75370d" stroke-width="7.2" stroke-dasharray="0 5.5" stroke-linecap="round"/>
<path d="M1038.9 87.3v33.0" stroke="#b45414" stroke-width="6.0" stroke-dasharray="0 5.5" stroke-linecap="round"/>
<path d="M1037.9 86.3v33.0" stroke="#ce9066" stroke-width="2.2" stroke-dasharray="0 5.5" stroke-linecap="round"/>
<path d="M951.5 87.7v33.0" stroke="#67460d" stroke-width="7.2" stroke-dasharray="0 5.5" stroke-linecap="round"/>
<path d="M951.5 87.7v33.0" stroke="#9f6c14" stroke-width="6.0" stroke-dasharray="0 5.5" stroke-linecap="round"/>
<path d="M950.5 86.7v33.0" stroke="#c19f66" stroke-width="2.2" stroke-dasharray="0 5.5" stroke-linecap="round"/>
<path d="M1057.4 87.7v33.0" stroke="#82240d" stroke-width="7.2" stroke-dasharray="0 5.5" stroke-linecap="round"/>
<path d="M1057.4 87.7v33.0" stroke="#c83814" stroke-width="6.0" stroke-dasharray="0 5.5" stroke-linecap="round"/>
<path d="M1056.4 86.7v33.0" stroke="#db7e66" stroke-width="2.2" stroke-dasharray="0 5.5" stroke-linecap="round"/>
<path d="M970.9 88.0v33.0" stroke="#3a6c11" stroke-width="7.2" stroke-dasharray="0 5.5" stroke-linecap="round"/>
<path d="M970.9 88.0v33.0" stroke="#59a61a" stroke-width="6.0" stroke-dasharray="0 5.5" stroke-linecap="round"/>
<path d="M969.9 87.0v33.0" stroke="#93c56a" stroke-width="2.2" stroke-dasharray="0 5.5" stroke-linecap="round"/>
<path d="M1075.8 88.0v33.0" stroke="#86200d" stroke-width="7.2" stroke-dasharray="0 5.5" stroke-linecap="round"/>
<path d="M1075.8 88.0v33.0" stroke="#ce3114" stroke-width="6.0" stroke-dasharray="0 5.5" stroke-linecap="round"/>
<path d="M1074.8 87.0v33.0" stroke="#df7966" stroke-width="2.2" stroke-dasharray="0 5.5" stroke-linecap="round"/>
<path d="M989.7 88.4v33.0" stroke="#317212" stroke-width="7.2" stroke-dasharray="0 5.5" stroke-linecap="round"/>
<path d="M989.7 88.4v33.0" stroke="#4caf1c" stroke-width="6.0" stroke-dasharray="0 5.5" stroke-linecap="round"/>
<path d="M988.7 87.4v33.0" stroke="#8bcb6b" stroke-width="2.2" stroke-dasharray="0 5.5" stroke-linecap="round"/>
<path d="M1095.1 88.4v33.0" stroke="#8b1b0d" stroke-width="7.2" stroke-dasharray="0 5.5" stroke-linecap="round"/>
<path d="M1095.1 88.4v33.0" stroke="#d62914" stroke-width="6.0" stroke-dasharray="0 5.5" stroke-linecap="round"/>
<path d="M1094.1 87.4v33.0" stroke="#e47466" stroke-width="2.2" stroke-dasharray="0 5.5" stroke-linecap="round"/>
<path d="M902.2 88.8v33.0" stroke="#871f0d" stroke-width="7.2" stroke-dasharray="0 5.5" stroke-linecap="round"/>
<path d="M902.2 88.8v33.0" stroke="#cf3014" stroke-width="6.0" stroke-dasharray="0 5.5" stroke-linecap="round"/>
<path d="M901.2 87.8v33.0" stroke="#e07866" stroke-width="2.2" stroke-dasharray="0 5.5" stroke-linecap="round"/>
<path d="M1007.8 88.8v33.0" stroke="#2f7312" stroke-width="7.2" stroke-dasharray="0 5.5" stroke-linecap="round"/>
<path d="M1007.8 88.8v33.0" stroke="#49b11c" stroke-width="6.0" stroke-dasharray="0 5.5" stroke-linecap="round"/>
<path d="M1006.8 87.8v33.0" stroke="#89cc6b" stroke-width="2.2" stroke-dasharray="0 5.5" stroke-linecap="round"/>
<path d="M921.0 89.1v33.0" stroke="#74370d" stroke-width="7.2" stroke-dasharray="0 5.5" stroke-linecap="round"/>
<path d="M921.0 89.1v33.0" stroke="#b35414" stroke-width="6.0" stroke-dasharray="0 5.5" stroke-linecap="round"/>
<path d="M920.0 88.1v33.0" stroke="#ce9066" stroke-width="2.2" stroke-dasharray="0 5.5" stroke-linecap="round"/>
<path d="M1026.9 89.1v33.0" stroke="#426710" stroke-width="7.2" stroke-dasharray="0 5.5" stroke-linecap="round"/>
<path d="M1026.9 89.1v33.0" stroke="#659e18" stroke-width="6.0" stroke-dasharray="0 5.5" stroke-linecap="round"/>
<path d="M1025.9 88.1v33.0" stroke="#9bc069" stroke-width="2.2" stroke-dasharray="0 5.5" stroke-linecap="round"/>
<path d="M940.1 89.5v33.0" stroke="#57580d" stroke-width="7.2" stroke-dasharray="0 5.5" stroke-linecap="round"/>
<path d="M940.1 89.5v33.0" stroke="#868814" stroke-width="6.0" stroke-dasharray="0 5.5" stroke-linecap="round"/>
<path d="M939.1 88.5v33.0" stroke="#b0b266" stroke-width="2.2" stroke-dasharray="0 5.5" stroke-linecap="round"/>
<path d="M1045.7 89.5v33.0" stroke="#3c6b10" stroke-width="7.2" stroke-dasharray="0 5.5" stroke-linecap="round"/>
<path d="M1045.7 89.5v33.0" stroke="#5ca419" stroke-width="6.0" stroke-dasharray="0 5.5" stroke-linecap="round"/>
<path d="M1044.7 88.5v33.0" stroke="#95c46a" stroke-width="2.2" stroke-dasharray="0 5.5" stroke-linecap="round"/>
<path d="M958.9 89.9v33.0" stroke="#2e7413" stroke-width="7.2" stroke-dasharray="0 5.5" stroke-linecap="round"/>
<path d="M958.9 89.9v33.0" stroke="#46b21d" stroke-width="6.0" stroke-dasharray="0 5.5" stroke-linecap="round"/>
<path d="M957.9 88.9v33.0" stroke="#87cd6c" stroke-width="2.2" stroke-dasharray="0 5.5" stroke-linecap="round"/>
<path d="M1064.7 89.9v33.0" stroke="#624c0d" stroke-width="7.2" stroke-dasharray="0 5.5" stroke-linecap="round"/>
<path d="M1064.7 89.9v33.0" stroke="#977514" stroke-width="6.0" stroke-dasharray="0 5.5" stroke-linecap="round"/>
<path d="M1063.7 88.9v33.0" stroke="#bba566" stroke-width="2.2" stroke-dasharray="0 5.5" stroke-linecap="round"/>
<path d="M977.5 90.2v33.0" stroke="#227a18" stroke-width="7.2" stroke-dasharray="0 5.5" stroke-linecap="round"/>
<path d="M977.5 90.2v33.0" stroke="#35bc25" stroke-width="6.0" stroke-dasharray="0 5.5" stroke-linecap="round"/>
<path d="M976.5 89.2v33.0" stroke="#7cd371" stroke-width="2.2" stroke-dasharray="0 5.5" stroke-linecap="round"/>
<path d="M1083.4 90.3v33.0" stroke="#7c2e0d" stroke-width="7.2" stroke-dasharray="0 5.5" stroke-linecap="round"/>
<path d="M1083.4 90.3v33.0" stroke="#be4714" stroke-width="6.0" stroke-dasharray="0 5.5" stroke-linecap="round"/>
<path d="M1082.4 89.3v33.0" stroke="#d58766" stroke-width="2.2" stroke-dasharray="0 5.5" stroke-linecap="round"/>
<path d="M889.9 90.6v33.0" stroke="#81260d" stroke-width="7.2" stroke-dasharray="0 5.5" stroke-linecap="round"/>
<path d="M889.9 90.6v33.0" stroke="#c63b14" stroke-width="6.0" stroke-dasharray="0 5.5" stroke-linecap="round"/>
<path d="M888.9 89.6v33.0" stroke="#da8066" stroke-width="2.2" stroke-dasharray="0 5.5" stroke-linecap="round"/>
<path d="M996.4 90.6v33.0" stroke="#247a17" stroke-width="7.2" stroke-dasharray="0 5.5" stroke-linecap="round"/>
<path d="M996.4 90.6v33.0" stroke="#37bc23" stroke-width="6.0" stroke-dasharray="0 5.5" stroke-linecap="round"/>
<path d="M995.4 89.6v33.0" stroke="#7dd370" stroke-width="2.2" stroke-dasharray="0 5.5" stroke-linecap="round"/>
<path d="M1101.3 90.6v33.0" stroke="#8a1b0d" stroke-width="7.2" stroke-dasharray="0 5.5" stroke-linecap="round"/>
<path d="M1101.3 90.6v33.0" stroke="#d52a14" stroke-width="6.0" stroke-dasharray="0 5.5" stroke-linecap="round"/>
<path d="M1100.3 89.6v33.0" stroke="#e47566" stroke-width="2.2" stroke-dasharray="0 5.5" stroke-linecap="round"/>
<path d="M908.9 91.0v33.0" stroke="#5d520d" stroke-width="7.2" stroke-dasharray="0 5.5" stroke-linecap="round"/>
<path d="M908.9 91.0v33.0" stroke="#8f7e14" stroke-width="6.0" stroke-dasharray="0 5.5" stroke-linecap="round"/>
<path d="M907.9 90.0v33.0" stroke="#b6ab66" stroke-width="2.2" stroke-dasharray="0 5.5" stroke-linecap="round"/>
<path d="M1014.5 91.0v33.0" stroke="#237a17" stroke-width="7.2" stroke-dasharray="0 5.5" stroke-linecap="round"/>
<path d="M1014.5 91.0v33.0" stroke="#36bc24" stroke-width="6.0" stroke-dasharray="0 5.5" stroke-linecap="round"/>
<path d="M1013.5 90.0v33.0" stroke="#7cd371" stroke-width="2.2" stroke-dasharray="0 5.5" stroke-linecap="round"/>
<path d="M928.2 91.4v33.0" stroke="#277814" stroke-width="7.2" stroke-dasharray="0 5.5" stroke-linecap="round"/>
<path d="M928.2 91.4v33.0" stroke="#3cb91e" stroke-width="6.0" stroke-dasharray="0 5.5" stroke-linecap="round"/>
<path d="M927.2 90.4v33.0" stroke="#80d26d" stroke-width="2.2" stroke-dasharray="0 5.5" stroke-linecap="round"/>
<path d="M1033.7 91.4v33.0" stroke="#227b18" stroke-width="7.2" stroke-dasharray="0 5.5" stroke-linecap="round"/>
<path d="M1033.7 91.4v33.0" stroke="#35bd25" stroke-width="6.0" stroke-dasharray="0 5.5" stroke-linecap="round"/>
<path d="M1032.7 90.4v33.0" stroke="#7cd471" stroke-width="2.2" stroke-dasharray="0 5.5" stroke-linecap="round"/>
<path d="M946.8 91.7v33.0" stroke="#237a17" stroke-width="7.2" stroke-dasharray="0 5.5" stroke-linecap="round"/>
<path d="M946.8 91.7v33.0" stroke="#36bc24" stroke-width="6.0" stroke-dasharray="0 5.5" stroke-linecap="round"/>
<path d="M945.8 90.7v33.0" stroke="#7cd371" stroke-width="2.2" stroke-dasharray="0 5.5" stroke-linecap="round"/>
<path d="M1052.7 91.7v33.0" stroke="#2e7412" stroke-width="7.2" stroke-dasharray="0 5.5" stroke-linecap="round"/>
<path d="M1052.7 91.7v33.0" stroke="#47b21c" stroke-width="6.0" stroke-dasharray="0 5.5" stroke-linecap="round"/>
<path d="M1051.7 90.7v33.0" stroke="#87cd6b" stroke-width="2.2" stroke-dasharray="0 5.5" stroke-linecap="round"/>
<path d="M965.3 92.1v33.0" stroke="#217b19" stroke-width="7.2" stroke-dasharray="0 5.5" stroke-linecap="round"/>
<path d="M965.3 92.1v33.0" stroke="#33bd27" stroke-width="6.0" stroke-dasharray="0 5.5" stroke-linecap="round"/>
<path d="M964.3 91.1v33.0" stroke="#7ad473" stroke-width="2.2" stroke-dasharray="0 5.5" stroke-linecap="round"/>
<path d="M1070.8 92.1v33.0" stroke="#396d11" stroke-width="7.2" stroke-dasharray="0 5.5" stroke-linecap="round"/>
<path d="M1070.8 92.1v33.0" stroke="#58a71a" stroke-width="6.0" stroke-dasharray="0 5.5" stroke-linecap="round"/>
<path d="M1069.8 91.1v33.0" stroke="#92c66a" stroke-width="2.2" stroke-dasharray="0 5.5" stroke-linecap="round"/>
<path d="M878.4 92.5v33.0" stroke="#83230d" stroke-width="7.2" stroke-dasharray="0 5.5" stroke-linecap="round"/>
<path d="M878.4 92.5v33.0" stroke="#ca3614" stroke-width="6.0" stroke-dasharray="0 5.5" stroke-linecap="round"/>
<path d="M877.4 91.5v33.0" stroke="#dd7c66" stroke-width="2.2" stroke-dasharray="0 5.5" stroke-linecap="round"/>
<path d="M983.7 92.5v33.0" stroke="#1d7d1d" stroke-width="7.2" stroke-dasharray="0 5.5" stroke-linecap="round"/>
<path d="M983.7 92.5v33.0" stroke="#2dc12d" stroke-width="6.0" stroke-dasharray="0 5.5" stroke-linecap="round"/>
<path d="M982.7 91.5v33.0" stroke="#76d776" stroke-width="2.2" stroke-dasharray="0 5.5" stroke-linecap="round"/>
<path d="M1089.9 92.5v33.0" stroke="#65490d" stroke-width="7.2" stroke-dasharray="0 5.5" stroke-linecap="round"/>
<path d="M1089.9 92.5v33.0" stroke="#9b7114" stroke-width="6.0" stroke-dasharray="0 5.5" stroke-linecap="round"/>
<path d="M1088.9 91.5v33.0" stroke="#bea366" stroke-width="2.2" stroke-dasharray="0 5.5" stroke-linecap="round"/>
<path d="M896.5 92.8v33.0" stroke="#6d400d" stroke-width="7.2" stroke-dasharray="0 5.5" stroke-linecap="round"/>
<path d="M896.5 92.8v33.0" stroke="#a76314" stroke-width="6.0" stroke-dasharray="0 5.5" stroke-linecap="round"/>
<path d="M895.5 91.8v33.0" stroke="#c69a66" stroke-width="2.2" stroke-dasharray="0 5.5" stroke-linecap="round"/>
<path d="M1002.6 92.8v33.0" stroke="#1e7d1d" stroke-width="7.2" stroke-dasharray="0 5.5" stroke-linecap="round"/>
<path d="M1002.6 92.8v33.0" stroke="#2ec02c" stroke-width="6.0" stroke-dasharray="0 5.5" stroke-linecap="round"/>
<path d="M1001.6 91.8v33.0" stroke="#77d676" stroke-width="2.2" stroke-dasharray="0 5.5" stroke-linecap="round"/>
<path d="M1109.1 92.9v33.0" stroke="#871f0d" stroke-width="7.2" stroke-dasharray="0 5.5" stroke-linecap="round"/>
<path d="M1109.1 92.9v33.0" stroke="#cf3014" stroke-width="6.0" stroke-dasharray="0 5.5" stroke-linecap="round"/>
<path d="M1108.1 91.9v33.0" stroke="#e07866" stroke-width="2.2" stroke-dasharray="0 5.5" stroke-linecap="round"/>
<path d="M915.7 93.2v33.0" stroke="#2d7413" stroke-width="7.2" stroke-dasharray="0 5.5" stroke-linecap="round"/>
<path d="M915.7 93.2v33.0" stroke="#45b31d" stroke-width="6.0" stroke-dasharray="0 5.5" stroke-linecap="round"/>
<path d="M914.7 92.2v33.0" stroke="#86ce6c" stroke-width="2.2" stroke-dasharray="0 5.5" stroke-linecap="round"/>
<path d="M1021.7 93.2v33.0" stroke="#1d7d1d" stroke-width="7.2" stroke-dasharray="0 5.5" stroke-linecap="round"/>
<path d="M1021.7 93.2v33.0" stroke="#2dc02d" stroke-width="6.0" stroke-dasharray="0 5.5" stroke-linecap="round"/>
<path d="M1020.7 92.2v33.0" stroke="#76d676" stroke-width="2.2" stroke-dasharray="0 5.5" stroke-linecap="round"/>
<path d="M934.6 93.6v33.0" stroke="#227b18" stroke-width="7.2" stroke-dasharray="0 5.5" stroke-linecap="round"/>
<path d="M934.6 93.6v33.0" stroke="#35bd25" stroke-width="6.0" stroke-dasharray="0 5.5" stroke-linecap="round"/>
<path d="M933.6 92.6v33.0" stroke="#7cd471" stroke-width="2.2" stroke-dasharray="0 5.5" stroke-linecap="round"/>
<path d="M1040.9 93.6v33.0" stroke="#207c1b" stroke-width="7.2" stroke-dasharray="0 5.5" stroke-linecap="round"/>
<path d="M1040.9 93.6v33.0" stroke="#31bf29" stroke-width="6.0" stroke-dasharray="0 5.5" stroke-linecap="round"/>
<path d="M1039.9 92.6v33.0" stroke="#79d574" stroke-width="2.2" stroke-dasharray="0 5.5" stroke-linecap="round"/>
<path d="M953.2 94.0v33.0" stroke="#1e7d1d" stroke-width="7.2" stroke-dasharray="0 5.5" stroke-linecap="round"/>
<path d="M953.2 94.0v33.0" stroke="#2ec02c" stroke-width="6.0" stroke-dasharray="0 5.5" stroke-linecap="round"/>
<path d="M952.2 93.0v33.0" stroke="#77d676" stroke-width="2.2" stroke-dasharray="0 5.5" stroke-linecap="round"/>
<path d="M1058.8 94.0v33.0" stroke="#237a17" stroke-width="7.2" stroke-dasharray="0 5.5" stroke-linecap="round"/>
<path d="M1058.8 94.0v33.0" stroke="#36bc24" stroke-width="6.0" stroke-dasharray="0 5.5" stroke-linecap="round"/>
<path d="M1057.8 93.0v33.0" stroke="#7cd371" stroke-width="2.2" stroke-dasharray="0 5.5" stroke-linecap="round"/>
<path d="M866.9 94.3v33.0" stroke="#891d0d" stroke-width="7.2" stroke-dasharray="0 5.5" stroke-linecap="round"/>
<path d="M866.9 94.3v33.0" stroke="#d32c14" stroke-width="6.0" stroke-dasharray="0 5.5" stroke-linecap="round"/>
<path d="M865.9 93.3v33.0" stroke="#e27666" stroke-width="2.2" stroke-dasharray="0 5.5" stroke-linecap="round"/>
<path d="M972.1 94.3v33.0" stroke="#17723c" stroke-width="7.2" stroke-dasharray="0 5.5" stroke-linecap="round"/>
<path d="M972.1 94.3v33.0" stroke="#24b05d" stroke-width="6.0" stroke-dasharray="0 5.5" stroke-linecap="round"/>
<path d="M971.1 93.3v33.0" stroke="#71cc96" stroke-width="2.2" stroke-dasharray="0 5.5" stroke-linecap="round"/>
<path d="M1077.8 94.3v33.0" stroke="#366e12" stroke-width="7.2" stroke-dasharray="0 5.5" stroke-linecap="round"/>
<path d="M1077.8 94.3v33.0" stroke="#53aa1b" stroke-width="6.0" stroke-dasharray="0 5.5" stroke-linecap="round"/>
<path d="M1076.8 93.3v33.0" stroke="#8fc86b" stroke-width="2.2" stroke-dasharray="0 5.5" stroke-linecap="round"/>
<path d="M884.5 94.7v33.0" stroke="#6e3e0d" stroke-width="7.2" stroke-dasharray="0 5.5" stroke-linecap="round"/>
<path d="M884.5 94.7v33.0" stroke="#aa5f14" stroke-width="6.0" stroke-dasharray="0 5.5" stroke-linecap="round"/>
<path d="M883.5 93.7v33.0" stroke="#c89766" stroke-width="2.2" stroke-dasharray="0 5.5" stroke-linecap="round"/>
<path d="M991.0 94.7v33.0" stroke="#146558" stroke-width="7.2" stroke-dasharray="0 5.5" stroke-linecap="round"/>
<path d="M991.0 94.7v33.0" stroke="#1f9c88" stroke-width="6.0" stroke-dasharray="0 5.5" stroke-linecap="round"/>
<path d="M990.0 93.7v33.0" stroke="#6dbfb2" stroke-width="2.2" stroke-dasharray="0 5.5" stroke-linecap="round"/>
<path d="M1096.8 94.7v33.0" stroke="#634a0d" stroke-width="7.2" stroke-dasharray="0 5.5" stroke-linecap="round"/>
<path d="M1096.8 94.7v33.0" stroke="#997214" stroke-width="6.0" stroke-dasharray="0 5.5" stroke-linecap="round"/>
<path d="M1095.8 93.7v33.0" stroke="#bda366" stroke-width="2.2" stroke-dasharray="0 5.5" stroke-linecap="round"/>
<path d="M904.0 95.1v33.0" stroke="#2e7412" stroke-width="7.2" stroke-dasharray="0 5.5" stroke-linecap="round"/>
<path d="M904.0 95.1v33.0" stroke="#47b21c" stroke-width="6.0" stroke-dasharray="0 5.5" stroke-linecap="round"/>
<path d="M903.0 94.1v33.0" stroke="#87cd6b" stroke-width="2.2" stroke-dasharray="0 5.5" stroke-linecap="round"/>
<path d="M1009.9 95.1v33.0" stroke="#17723e" stroke-width="7.2" stroke-dasharray="0 5.5" stroke-linecap="round"/>
<path d="M1009.9 95.1v33.0" stroke="#24af5f" stroke-width="6.0" stroke-dasharray="0 5.5" stroke-linecap="round"/>
<path d="M1008.9 94.1v33.0" stroke="#71cb97" stroke-width="2.2" stroke-dasharray="0 5.5" stroke-linecap="round"/>
<path d="M1114.8 95.1v33.0" stroke="#81260d" stroke-width="7.2" stroke-dasharray="0 5.5" stroke-linecap="round"/>
<path d="M1114.8 95.1v33.0" stroke="#c63b14" stroke-width="6.0" stroke-dasharray="0 5.5" stroke-linecap="round"/>
<path d="M1113.8 94.1v33.0" stroke="#da8066" stroke-width="2.2" stroke-dasharray="0 5.5" stroke-linecap="round"/>
<path d="M922.8 95.4v33.0" stroke="#247a17" stroke-width="7.2" stroke-dasharray="0 5.5" stroke-linecap="round"/>
<path d="M922.8 95.4v33.0" stroke="#37bc23" stroke-width="6.0" stroke-dasharray="0 5.5" stroke-linecap="round"/>
<path d="M921.8 94.4v33.0" stroke="#7dd370" stroke-width="2.2" stroke-dasharray="0 5.5" stroke-linecap="round"/>
<path d="M1028.1 95.4v33.0" stroke="#197a2b" stroke-width="7.2" stroke-dasharray="0 5.5" stroke-linecap="round"/>
<path d="M1028.1 95.4v33.0" stroke="#26bc42" stroke-width="6.0" stroke-dasharray="0 5.5" stroke-linecap="round"/>
<path d="M1027.1 94.4v33.0" stroke="#72d384" stroke-width="2.2" stroke-dasharray="0 5.5" stroke-linecap="round"/>
<path d="M941.5 95.8v33.0" stroke="#1c7e1f" stroke-width="7.2" stroke-dasharray="0 5.5" stroke-linecap="round"/>
<path d="M941.5 95.8v33.0" stroke="#2bc22f" stroke-width="6.0" stroke-dasharray="0 5.5" stroke-linecap="round"/>
<path d="M940.5 94.8v33.0" stroke="#75d778" stroke-width="2.2" stroke-dasharray="0 5.5" stroke-linecap="round"/>
<path d="M1047.0 95.8v33.0" stroke="#1d7d1e" stroke-width="7.2" stroke-dasharray="0 5.5" stroke-linecap="round"/>
<path d="M1047.0 95.8v33.0" stroke="#2cc12e" stroke-width="6.0" stroke-dasharray="0 5.5" stroke-linecap="round"/>
<path d="M1046.0 94.8v33.0" stroke="#76d777" stroke-width="2.2" stroke-dasharray="0 5.5" stroke-linecap="round"/>
<path d="M854.2 96.2v33.0" stroke="#8c190d" stroke-width="7.2" stroke-dasharray="0 5.5" stroke-linecap="round"/>
<path d="M854.2 96.2v33.0" stroke="#d82714" stroke-width="6.0" stroke-dasharray="0 5.5" stroke-linecap="round"/>
<path d="M853.2 95.2v33.0" stroke="#e67366" stroke-width="2.2" stroke-dasharray="0 5.5" stroke-linecap="round"/>
<path d="M959.9 96.2v33.0" stroke="#156b4c" stroke-width="7.2" stroke-dasharray="0 5.5" stroke-linecap="round"/>
<path d="M959.9 96.2v33.0" stroke="#21a575" stroke-width="6.0" stroke-dasharray="0 5.5" stroke-linecap="round"/>
<path d="M958.9 95.2v33.0" stroke="#6fc4a5" stroke-width="2.2" stroke-dasharray="0 5.5" stroke-linecap="round"/>
<path d="M1066.2 96.2v33.0" stroke="#207c1a" stroke-width="7.2" stroke-dasharray="0 5.5" stroke-linecap="round"/>
<path d="M1066.2 96.2v33.0" stroke="#32be28" stroke-width="6.0" stroke-dasharray="0 5.5" stroke-linecap="round"/>
<path d="M1065.2 95.2v33.0" stroke="#7ad573" stroke-width="2.2" stroke-dasharray="0 5.5" stroke-linecap="round"/>
<path d="M873.2 96.5v33.0" stroke="#7e2a0d" stroke-width="7.2" stroke-dasharray="0 5.5" stroke-linecap="round"/>
<path d="M873.2 96.5v33.0" stroke="#c24014" stroke-width="6.0" stroke-dasharray="0 5.5" stroke-linecap="round"/>
<path d="M872.2 95.5v33.0" stroke="#d78366" stroke-width="2.2" stroke-dasharray="0 5.5" stroke-linecap="round"/>
<path d="M978.7 96.6v33.0" stroke="#144376" stroke-width="7.2" stroke-dasharray="0 5.5" stroke-linecap="round"/>
<path d="M978.7 96.6v33.0" stroke="#1e67b6" stroke-width="6.0" stroke-dasharray="0 5.5" stroke-linecap="round"/>
<path d="M977.7 95.6v33.0" stroke="#6d9cd0" stroke-width="2.2" stroke-dasharray="0 5.5" stroke-linecap="round"/>
<path d="M1085.0 96.6v33.0" stroke="#277814" stroke-width="7.2" stroke-dasharray="0 5.5" stroke-linecap="round"/>
<path d="M1085.0 96.6v33.0" stroke="#3cb91e" stroke-width="6.0" stroke-dasharray="0 5.5" stroke-linecap="round"/>
<path d="M1084.0 95.6v33.0" stroke="#80d26d" stroke-width="2.2" stroke-dasharray="0 5.5" stroke-linecap="round"/>
<path d="M891.5 96.9v33.0" stroke="#46650f" stroke-width="7.2" stroke-dasharray="0 5.5" stroke-linecap="round"/>
<path d="M891.5 96.9v33.0" stroke="#6b9b17" stroke-width="6.0" stroke-dasharray="0 5.5" stroke-linecap="round"/>
<path d="M890.5 95.9v33.0" stroke="#9fbe68" stroke-width="2.2" stroke-dasharray="0 5.5" stroke-linecap="round"/>
<path d="M997.9 96.9v33.0" stroke="#142e85" stroke-width="7.2" stroke-dasharray="0 5.5" stroke-linecap="round"/>
<path d="M997.9 96.9v33.0" stroke="#1e46cd" stroke-width="6.0" stroke-dasharray="0 5.5" stroke-linecap="round"/>
<path d="M996.9 95.9v33.0" stroke="#6d87de" stroke-width="2.2" stroke-dasharray="0 5.5" stroke-linecap="round"/>
<path d="M1103.2 96.9v33.0" stroke="#614d0d" stroke-width="7.2" stroke-dasharray="0 5.5" stroke-linecap="round"/>
<path d="M1103.2 96.9v33.0" stroke="#957714" stroke-width="6.0" stroke-dasharray="0 5.5" stroke-linecap="round"/>
<path d="M1102.2 95.9v33.0" stroke="#baa766" stroke-width="2.2" stroke-dasharray="0 5.5" stroke-linecap="round"/>
<path d="M911.0 97.3v33.0" stroke="#237a17" stroke-width="7.2" stroke-dasharray="0 5.5" stroke-linecap="round"/>
<path d="M911.0 97.3v33.0" stroke="#36bc24" stroke-width="6.0" stroke-dasharray="0 5.5" stroke-linecap="round"/>
<path d="M910.0 96.3v33.0" stroke="#7cd371" stroke-width="2.2" stroke-dasharray="0 5.5" stroke-linecap="round"/>
<path d="M1016.8 97.3v33.0" stroke="#144178" stroke-width="7.2" stroke-dasharray="0 5.5" stroke-linecap="round"/>
<path d="M1016.8 97.3v33.0" stroke="#1e64b8" stroke-width="6.0" stroke-dasharray="0 5.5" stroke-linecap="round"/>
<path d="M1015.8 96.3v33.0" stroke="#6d9ad1" stroke-width="2.2" stroke-dasharray="0 5.5" stroke-linecap="round"/>
<path d="M1122.0 97.3v33.0" stroke="#881e0d" stroke-width="7.2" stroke-dasharray="0 5.5" stroke-linecap="round"/>
<path d="M1122.0 97.3v33.0" stroke="#d12e14" stroke-width="6.0" stroke-dasharray="0 5.5" stroke-linecap="round"/>
<path d="M1121.0 96.3v33.0" stroke="#e17766" stroke-width="2.2" stroke-dasharray="0 5.5" stroke-linecap="round"/>
<path d="M929.9 97.7v33.0" stroke="#1d7d1d" stroke-width="7.2" stroke-dasharray="0 5.5" stroke-linecap="round"/>
<path d="M929.9 97.7v33.0" stroke="#2dc12d" stroke-width="6.0" stroke-dasharray="0 5.5" stroke-linecap="round"/>
<path d="M928.9 96.7v33.0" stroke="#76d776" stroke-width="2.2" stroke-dasharray="0 5.5" stroke-linecap="round"/>
<path d="M1034.9 97.7v33.0" stroke="#156756" stroke-width="7.2" stroke-dasharray="0 5.5" stroke-linecap="round"/>
<path d="M1034.9 97.7v33.0" stroke="#209e84" stroke-width="6.0" stroke-dasharray="0 5.5" stroke-linecap="round"/>
<path d="M1033.9 96.7v33.0" stroke="#6ec0af" stroke-width="2.2" stroke-dasharray="0 5.5" stroke-linecap="round"/>
<path d="M948.2 98.0v33.0" stroke="#156853" stroke-width="7.2" stroke-dasharray="0 5.5" stroke-linecap="round"/>
<path d="M948.2 98.0v33.0" stroke="#20a080" stroke-width="6.0" stroke-dasharray="0 5.5" stroke-linecap="round"/>
<path d="M947.2 97.0v33.0" stroke="#6ec1ac" stroke-width="2.2" stroke-dasharray="0 5.5" stroke-linecap="round"/>
<path d="M1054.3 98.0v33.0" stroke="#1d7d1d" stroke-width="7.2" stroke-dasharray="0 5.5" stroke-linecap="round"/>
<path d="M1054.3 98.0v33.0" stroke="#2dc02d" stroke-width="6.0" stroke-dasharray="0 5.5" stroke-linecap="round"/>
<path d="M1053.3 97.0v33.0" stroke="#76d676" stroke-width="2.2" stroke-dasharray="0 5.5" stroke-linecap="round"/>
<path d="M860.8 98.4v33.0" stroke="#86200d" stroke-width="7.2" stroke-dasharray="0 5.5" stroke-linecap="round"/>
<path d="M860.8 98.4v33.0" stroke="#ce3114" stroke-width="6.0" stroke-dasharray="0 5.5" stroke-linecap="round"/>
<path d="M859.8 97.4v33.0" stroke="#df7966" stroke-width="2.2" stroke-dasharray="0 5.5" stroke-linecap="round"/>
<path d="M967.3 98.4v33.0" stroke="#143e7a" stroke-width="7.2" stroke-dasharray="0 5.5" stroke-linecap="round"/>
<path d="M967.3 98.4v33.0" stroke="#1e5fbc" stroke-width="6.0" stroke-dasharray="0 5.5" stroke-linecap="round"/>
<path d="M966.3 97.4v33.0" stroke="#6d97d3" stroke-width="2.2" stroke-dasharray="0 5.5" stroke-linecap="round"/>
<path d="M1073.1 98.4v33.0" stroke="#227b19" stroke-width="7.2" stroke-dasharray="0 5.5" stroke-linecap="round"/>
<path d="M1073.1 98.4v33.0" stroke="#34bd26" stroke-width="6.0" stroke-dasharray="0 5.5" stroke-linecap="round"/>
<path d="M1072.1 97.4v33.0" stroke="#7bd472" stroke-width="2.2" stroke-dasharray="0 5.5" stroke-linecap="round"/>
<path d="M879.5 98.8v33.0" stroke="#5c530d" stroke-width="7.2" stroke-dasharray="0 5.5" stroke-linecap="round"/>
<path d="M879.5 98.8v33.0" stroke="#8d7f14" stroke-width="6.0" stroke-dasharray="0 5.5" stroke-linecap="round"/>
<path d="M878.5 97.8v33.0" stroke="#b5ac66" stroke-width="2.2" stroke-dasharray="0 5.5" stroke-linecap="round"/>
<path d="M986.0 98.8v33.0" stroke="#142888" stroke-width="7.2" stroke-dasharray="0 5.5" stroke-linecap="round"/>
<path d="M986.0 98.8v33.0" stroke="#1e3ed1" stroke-width="6.0" stroke-dasharray="0 5.5" stroke-linecap="round"/>
<path d="M985.0 97.8v33.0" stroke="#6d82e1" stroke-width="2.2" stroke-dasharray="0 5.5" stroke-linecap="round"/>
<path d="M1091.3 98.8v33.0" stroke="#317212" stroke-width="7.2" stroke-dasharray="0 5.5" stroke-linecap="round"/>
<path d="M1091.3 98.8v33.0" stroke="#4bb01c" stroke-width="6.0" stroke-dasharray="0 5.5" stroke-linecap="round"/>
<path d="M1090.3 97.8v33.0" stroke="#8acc6b" stroke-width="2.2" stroke-dasharray="0 5.5" stroke-linecap="round"/>
<path d="M898.6 99.1v33.0" stroke="#267915" stroke-width="7.2" stroke-dasharray="0 5.5" stroke-linecap="round"/>
<path d="M898.6 99.1v33.0" stroke="#3aba20" stroke-width="6.0" stroke-dasharray="0 5.5" stroke-linecap="round"/>
<path d="M897.6 98.1v33.0" stroke="#7fd26e" stroke-width="2.2" stroke-dasharray="0 5.5" stroke-linecap="round"/>
<path d="M1005.0 99.1v33.0" stroke="#142888" stroke-width="7.2" stroke-dasharray="0 5.5" stroke-linecap="round"/>
<path d="M1005.0 99.1v33.0" stroke="#1e3dd2" stroke-width="6.0" stroke-dasharray="0 5.5" stroke-linecap="round"/>
<path d="M1004.0 98.1v33.0" stroke="#6d81e2" stroke-width="2.2" stroke-dasharray="0 5.5" stroke-linecap="round"/>
<path d="M1109.7 99.2v33.0" stroke="#76360d" stroke-width="7.2" stroke-dasharray="0 5.5" stroke-linecap="round"/>
<path d="M1109.7 99.2v33.0" stroke="#b55314" stroke-width="6.0" stroke-dasharray="0 5.5" stroke-linecap="round"/>
<path d="M1108.7 98.2v33.0" stroke="#cf8f66" stroke-width="2.2" stroke-dasharray="0 5.5" stroke-linecap="round"/>
<path d="M917.9 99.5v33.0" stroke="#217b19" stroke-width="7.2" stroke-dasharray="0 5.5" stroke-linecap="round"/>
<path d="M917.9 99.5v33.0" stroke="#33bd27" stroke-width="6.0" stroke-dasharray="0 5.5" stroke-linecap="round"/>
<path d="M916.9 98.5v33.0" stroke="#7ad473" stroke-width="2.2" stroke-dasharray="0 5.5" stroke-linecap="round"/>
<path d="M1023.1 99.5v33.0" stroke="#144873" stroke-width="7.2" stroke-dasharray="0 5.5" stroke-linecap="round"/>
<path d="M1023.1 99.5v33.0" stroke="#1e6eb1" stroke-width="6.0" stroke-dasharray="0 5.5" stroke-linecap="round"/>
<path d="M1022.1 98.5v33.0" stroke="#6da1cc" stroke-width="2.2" stroke-dasharray="0 5.5" stroke-linecap="round"/>
<path d="M1129.5 99.5v33.0" stroke="#881e0d" stroke-width="7.2" stroke-dasharray="0 5.5" stroke-linecap="round"/>
<path d="M1129.5 99.5v33.0" stroke="#d12e14" stroke-width="6.0" stroke-dasharray="0 5.5" stroke-linecap="round"/>
<path d="M1128.5 98.5v33.0" stroke="#e17766" stroke-width="2.2" stroke-dasharray="0 5.5" stroke-linecap="round"/>
<path d="M936.5 99.9v33.0" stroke="#1b7f20" stroke-width="7.2" stroke-dasharray="0 5.5" stroke-linecap="round"/>
<path d="M936.5 99.9v33.0" stroke="#29c331" stroke-width="6.0" stroke-dasharray="0 5.5" stroke-linecap="round"/>
<path d="M935.5 98.9v33.0" stroke="#74d879" stroke-width="2.2" stroke-dasharray="0 5.5" stroke-linecap="round"/>
<path d="M1042.2 99.9v33.0" stroke="#166e46" stroke-width="7.2" stroke-dasharray="0 5.5" stroke-linecap="round"/>
<path d="M1042.2 99.9v33.0" stroke="#22a96c" stroke-width="6.0" stroke-dasharray="0 5.5" stroke-linecap="round"/>
<path d="M1041.2 98.9v33.0" stroke="#6fc79f" stroke-width="2.2" stroke-dasharray="0 5.5" stroke-linecap="round"/>
<path d="M848.9 100.2v33.0" stroke="#8c1a0d" stroke-width="7.2" stroke-dasharray="0 5.5" stroke-linecap="round"/>
<path d="M848.9 100.2v33.0" stroke="#d72814" stroke-width="6.0" stroke-dasharray="0 5.5" stroke-linecap="round"/>
<path d="M847.9 99.2v33.0" stroke="#e57366" stroke-width="2.2" stroke-dasharray="0 5.5" stroke-linecap="round"/>
<path d="M954.6 100.3v33.0" stroke="#143e7a" stroke-width="7.2" stroke-dasharray="0 5.5" stroke-linecap="round"/>
<path d="M954.6 100.3v33.0" stroke="#1e5fbc" stroke-width="6.0" stroke-dasharray="0 5.5" stroke-linecap="round"/>
<path d="M953.6 99.3v33.0" stroke="#6d97d3" stroke-width="2.2" stroke-dasharray="0 5.5" stroke-linecap="round"/>
<path d="M1060.9 100.3v33.0" stroke="#1d7d1e" stroke-width="7.2" stroke-dasharray="0 5.5" stroke-linecap="round"/>
<path d="M1060.9 100.3v33.0" stroke="#2cc12e" stroke-width="6.0" stroke-dasharray="0 5.5" stroke-linecap="round"/>
<path d="M1059.9 99.3v33.0" stroke="#76d777" stroke-width="2.2" stroke-dasharray="0 5.5" stroke-linecap="round"/>
<path d="M868.3 100.6v33.0" stroke="#713c0d" stroke-width="7.2" stroke-dasharray="0 5.5" stroke-linecap="round"/>
<path d="M868.3 100.6v33.0" stroke="#ae5c14" stroke-width="6.0" stroke-dasharray="0 5.5" stroke-linecap="round"/>
<path d="M867.3 99.6v33.0" stroke="#ca9566" stroke-width="2.2" stroke-dasharray="0 5.5" stroke-linecap="round"/>
<path d="M974.2 100.6v33.0" stroke="#142a87" stroke-width="7.2" stroke-dasharray="0 5.5" stroke-linecap="round"/>
<path d="M974.2 100.6v33.0" stroke="#1e40d0" stroke-width="6.0" stroke-dasharray="0 5.5" stroke-linecap="round"/>
<path d="M973.2 99.6v33.0" stroke="#6d83e0" stroke-width="2.2" stroke-dasharray="0 5.5" stroke-linecap="round"/>
<path d="M1080.0 100.6v33.0" stroke="#247a16" stroke-width="7.2" stroke-dasharray="0 5.5" stroke-linecap="round"/>
<path d="M1080.0 100.6v33.0" stroke="#38bb22" stroke-width="6.0" stroke-dasharray="0 5.5" stroke-linecap="round"/>
<path d="M1079.0 99.6v33.0" stroke="#7ed36f" stroke-width="2.2" stroke-dasharray="0 5.5" stroke-linecap="round"/>
<path d="M887.2 101.0v33.0" stroke="#4a620e" stroke-width="7.2" stroke-dasharray="0 5.5" stroke-linecap="round"/>
<path d="M887.2 101.0v33.0" stroke="#729616" stroke-width="6.0" stroke-dasharray="0 5.5" stroke-linecap="round"/>
<path d="M886.2 100.0v33.0" stroke="#a3bb68" stroke-width="2.2" stroke-dasharray="0 5.5" stroke-linecap="round"/>
<path d="M991.9 101.0v33.0" stroke="#14218b" stroke-width="7.2" stroke-dasharray="0 5.5" stroke-linecap="round"/>
<path d="M991.9 101.0v33.0" stroke="#1e33d6" stroke-width="6.0" stroke-dasharray="0 5.5" stroke-linecap="round"/>
<path d="M990.9 100.0v33.0" stroke="#6d7ae4" stroke-width="2.2" stroke-dasharray="0 5.5" stroke-linecap="round"/>
<path d="M1097.9 101.0v33.0" stroke="#416810" stroke-width="7.2" stroke-dasharray="0 5.5" stroke-linecap="round"/>
<path d="M1097.9 101.0v33.0" stroke="#64a018" stroke-width="6.0" stroke-dasharray="0 5.5" stroke-linecap="round"/>
<path d="M1096.9 100.0v33.0" stroke="#9ac169" stroke-width="2.2" stroke-dasharray="0 5.5" stroke-linecap="round"/>
<path d="M905.7 101.4v33.0" stroke="#247a17" stroke-width="7.2" stroke-dasharray="0 5.5" stroke-linecap="round"/>
<path d="M905.7 101.4v33.0" stroke="#37bc23" stroke-width="6.0" stroke-dasharray="0 5.5" stroke-linecap="round"/>
<path d="M904.7 100.4v33.0" stroke="#7dd370" stroke-width="2.2" stroke-dasharray="0 5.5" stroke-linecap="round"/>
<path d="M1011.2 101.4v33.0" stroke="#142b87" stroke-width="7.2" stroke-dasharray="0 5.5" stroke-linecap="round"/>
<path d="M1011.2 101.4v33.0" stroke="#1e42cf" stroke-width="6.0" stroke-dasharray="0 5.5" stroke-linecap="round"/>
<path d="M1010.2 100.4v33.0" stroke="#6d84e0" stroke-width="2.2" stroke-dasharray="0 5.5" stroke-linecap="round"/>
<path d="M1117.2 101.4v33.0" stroke="#77340d" stroke-width="7.2" stroke-dasharray="0 5.5" stroke-linecap="round"/>
<path d="M1117.2 101.4v33.0" stroke="#b75014" stroke-width="6.0" stroke-dasharray="0 5.5" stroke-linecap="round"/>
<path d="M1116.2 100.4v33.0" stroke="#d08d66" stroke-width="2.2" stroke-dasharray="0 5.5" stroke-linecap="round"/>
<path d="M923.9 101.7v33.0" stroke="#1f7d1c" stroke-width="7.2" stroke-dasharray="0 5.5" stroke-linecap="round"/>
<path d="M923.9 101.7v33.0" stroke="#2fc02b" stroke-width="6.0" stroke-dasharray="0 5.5" stroke-linecap="round"/>
<path d="M922.9 100.7v33.0" stroke="#78d675" stroke-width="2.2" stroke-dasharray="0 5.5" stroke-linecap="round"/>
<path d="M1030.0 101.7v33.0" stroke="#14546b" stroke-width="7.2" stroke-dasharray="0 5.5" stroke-linecap="round"/>
<path d="M1030.0 101.7v33.0" stroke="#1e82a4" stroke-width="6.0" stroke-dasharray="0 5.5" stroke-linecap="round"/>
<path d="M1029.0 100.7v33.0" stroke="#6daec4" stroke-width="2.2" stroke-dasharray="0 5.5" stroke-linecap="round"/>
<path d="M1135.6 101.8v33.0" stroke="#8b1b0d" stroke-width="7.2" stroke-dasharray="0 5.5" stroke-linecap="round"/>
<path d="M1135.6 101.8v33.0" stroke="#d62914" stroke-width="6.0" stroke-dasharray="0 5.5" stroke-linecap="round"/>
<path d="M1134.6 100.8v33.0" stroke="#e47466" stroke-width="2.2" stroke-dasharray="0 5.5" stroke-linecap="round"/>
<path d="M943.1 102.1v33.0" stroke="#17733a" stroke-width="7.2" stroke-dasharray="0 5.5" stroke-linecap="round"/>
<path d="M943.1 102.1v33.0" stroke="#24b15a" stroke-width="6.0" stroke-dasharray="0 5.5" stroke-linecap="round"/>
<path d="M942.1 101.1v33.0" stroke="#71cc94" stroke-width="2.2" stroke-dasharray="0 5.5" stroke-linecap="round"/>
<path d="M1048.4 102.1v33.0" stroke="#1a7f20" stroke-width="7.2" stroke-dasharray="0 5.5" stroke-linecap="round"/>
<path d="M1048.4 102.1v33.0" stroke="#28c332" stroke-width="6.0" stroke-dasharray="0 5.5" stroke-linecap="round"/>
<path d="M1047.4 101.1v33.0" stroke="#73d87a" stroke-width="2.2" stroke-dasharray="0 5.5" stroke-linecap="round"/>
<path d="M856.5 102.5v33.0" stroke="#8a1b0d" stroke-width="7.2" stroke-dasharray="0 5.5" stroke-linecap="round"/>
<path d="M856.5 102.5v33.0" stroke="#d52a14" stroke-width="6.0" stroke-dasharray="0 5.5" stroke-linecap="round"/>
<path d="M855.5 101.5v33.0" stroke="#e47566" stroke-width="2.2" stroke-dasharray="0 5.5" stroke-linecap="round"/>
<path d="M962.2 102.5v33.0" stroke="#142d85" stroke-width="7.2" stroke-dasharray="0 5.5" stroke-linecap="round"/>
<path d="M962.2 102.5v33.0" stroke="#1e45cd" stroke-width="6.0" stroke-dasharray="0 5.5" stroke-linecap="round"/>
<path d="M961.2 101.5v33.0" stroke="#6d86de" stroke-width="2.2" stroke-dasharray="0 5.5" stroke-linecap="round"/>
<path d="M1067.7 102.5v33.0" stroke="#217c19" stroke-width="7.2" stroke-dasharray="0 5.5" stroke-linecap="round"/>
<path d="M1067.7 102.5v33.0" stroke="#33be27" stroke-width="6.0" stroke-dasharray="0 5.5" stroke-linecap="round"/>
<path d="M1066.7 101.5v33.0" stroke="#7ad573" stroke-width="2.2" stroke-dasharray="0 5.5" stroke-linecap="round"/>
<path d="M874.2 102.8v33.0" stroke="#67460d" stroke-width="7.2" stroke-dasharray="0 5.5" stroke-linecap="round"/>
<path d="M874.2 102.8v33.0" stroke="#9f6c14" stroke-width="6.0" stroke-dasharray="0 5.5" stroke-linecap="round"/>
<path d="M873.2 101.8v33.0" stroke="#c19f66" stroke-width="2.2" stroke-dasharray="0 5.5" stroke-linecap="round"/>
<path d="M980.3 102.9v33.0" stroke="#142987" stroke-width="7.2" stroke-dasharray="0 5.5" stroke-linecap="round"/>
<path d="M980.3 102.9v33.0" stroke="#1e3fd0" stroke-width="6.0" stroke-dasharray="0 5.5" stroke-linecap="round"/>
<path d="M979.3 101.9v33.0" stroke="#6d82e0" stroke-width="2.2" stroke-dasharray="0 5.5" stroke-linecap="round"/>
<path d="M1086.2 102.9v33.0" stroke="#267914" stroke-width="7.2" stroke-dasharray="0 5.5" stroke-linecap="round"/>
<path d="M1086.2 102.9v33.0" stroke="#3bba1f" stroke-width="6.0" stroke-dasharray="0 5.5" stroke-linecap="round"/>
<path d="M1085.2 101.9v33.0" stroke="#80d26d" stroke-width="2.2" stroke-dasharray="0 5.5" stroke-linecap="round"/>
<path d="M893.9 103.2v33.0" stroke="#267814" stroke-width="7.2" stroke-dasharray="0 5.5" stroke-linecap="round"/>
<path d="M893.9 103.2v33.0" stroke="#3bb91f" stroke-width="6.0" stroke-dasharray="0 5.5" stroke-linecap="round"/>
<path d="M892.9 102.2v33.0" stroke="#80d26d" stroke-width="2.2" stroke-dasharray="0 5.5" stroke-linecap="round"/>
<path d="M998.8 103.2v33.0" stroke="#142888" stroke-width="7.2" stroke-dasharray="0 5.5" stroke-linecap="round"/>
<path d="M998.8 103.2v33.0" stroke="#1e3dd2" stroke-width="6.0" stroke-dasharray="0 5.5" stroke-linecap="round"/>
<path d="M997.8 102.2v33.0" stroke="#6d81e2" stroke-width="2.2" stroke-dasharray="0 5.5" stroke-linecap="round"/>
<path d="M1104.6 103.2v33.0" stroke="#57580d" stroke-width="7.2" stroke-dasharray="0 5.5" stroke-linecap="round"/>
<path d="M1104.6 103.2v33.0" stroke="#868814" stroke-width="6.0" stroke-dasharray="0 5.5" stroke-linecap="round"/>
<path d="M1103.6 102.2v33.0" stroke="#b0b266" stroke-width="2.2" stroke-dasharray="0 5.5" stroke-linecap="round"/>
<path d="M912.9 103.6v33.0" stroke="#237a17" stroke-width="7.2" stroke-dasharray="0 5.5" stroke-linecap="round"/>
<path d="M912.9 103.6v33.0" stroke="#36bc24" stroke-width="6.0" stroke-dasharray="0 5.5" stroke-linecap="round"/>
<path d="M911.9 102.6v33.0" stroke="#7cd371" stroke-width="2.2" stroke-dasharray="0 5.5" stroke-linecap="round"/>
<path d="M1017.6 103.6v33.0" stroke="#143a7d" stroke-width="7.2" stroke-dasharray="0 5.5" stroke-linecap="round"/>
<path d="M1017.6 103.6v33.0" stroke="#1e59c0" stroke-width="6.0" stroke-dasharray="0 5.5" stroke-linecap="round"/>
<path d="M1016.6 102.6v33.0" stroke="#6d93d6" stroke-width="2.2" stroke-dasharray="0 5.5" stroke-linecap="round"/>
<path d="M1123.6 103.6v33.0" stroke="#86200d" stroke-width="7.2" stroke-dasharray="0 5.5" stroke-linecap="round"/>
<path d="M1123.6 103.6v33.0" stroke="#ce3114" stroke-width="6.0" stroke-dasharray="0 5.5" stroke-linecap="round"/>
<path d="M1122.6 102.6v33.0" stroke="#df7966" stroke-width="2.2" stroke-dasharray="0 5.5" stroke-linecap="round"/>
<path d="M930.9 104.0v33.0" stroke="#1d7d1e" stroke-width="7.2" stroke-dasharray="0 5.5" stroke-linecap="round"/>
<path d="M930.9 104.0v33.0" stroke="#2cc12e" stroke-width="6.0" stroke-dasharray="0 5.5" stroke-linecap="round"/>
<path d="M929.9 103.0v33.0" stroke="#76d777" stroke-width="2.2" stroke-dasharray="0 5.5" stroke-linecap="round"/>
<path d="M1036.9 104.0v33.0" stroke="#156b4d" stroke-width="7.2" stroke-dasharray="0 5.5" stroke-linecap="round"/>
<path d="M1036.9 104.0v33.0" stroke="#21a576" stroke-width="6.0" stroke-dasharray="0 5.5" stroke-linecap="round"/>
<path d="M1035.9 103.0v33.0" stroke="#6fc4a6" stroke-width="2.2" stroke-dasharray="0 5.5" stroke-linecap="round"/>
<path d="M949.4 104.3v33.0" stroke="#156b4d" stroke-width="7.2" stroke-dasharray="0 5.5" stroke-linecap="round"/>
<path d="M949.4 104.3v33.0" stroke="#21a477" stroke-width="6.0" stroke-dasharray="0 5.5" stroke-linecap="round"/>
<path d="M948.4 103.3v33.0" stroke="#6fc4a7" stroke-width="2.2" stroke-dasharray="0 5.5" stroke-linecap="round"/>
<path d="M1055.2 104.3v33.0" stroke="#1d7d1d" stroke-width="7.2" stroke-dasharray="0 5.5" stroke-linecap="round"/>
<path d="M1055.2 104.3v33.0" stroke="#2dc02d" stroke-width="6.0" stroke-dasharray="0 5.5" stroke-linecap="round"/>
<path d="M1054.2 103.3v33.0" stroke="#76d676" stroke-width="2.2" stroke-dasharray="0 5.5" stroke-linecap="round"/>
<path d="M863.1 104.7v33.0" stroke="#871f0d" stroke-width="7.2" stroke-dasharray="0 5.5" stroke-linecap="round"/>
<path d="M863.1 104.7v33.0" stroke="#cf3014" stroke-width="6.0" stroke-dasharray="0 5.5" stroke-linecap="round"/>
<path d="M862.1 103.7v33.0" stroke="#e07866" stroke-width="2.2" stroke-dasharray="0 5.5" stroke-linecap="round"/>
<path d="M968.1 104.7v33.0" stroke="#144278" stroke-width="7.2" stroke-dasharray="0 5.5" stroke-linecap="round"/>
<path d="M968.1 104.7v33.0" stroke="#1e65b8" stroke-width="6.0" stroke-dasharray="0 5.5" stroke-linecap="round"/>
<path d="M967.1 103.7v33.0" stroke="#6d9bd1" stroke-width="2.2" stroke-dasharray="0 5.5" stroke-linecap="round"/>
<path d="M1074.2 104.7v33.0" stroke="#247a17" stroke-width="7.2" stroke-dasharray="0 5.5" stroke-linecap="round"/>
<path d="M1074.2 104.7v33.0" stroke="#37bb23" stroke-width="6.0" stroke-dasharray="0 5.5" stroke-linecap="round"/>
<path d="M1073.2 103.7v33.0" stroke="#7dd370" stroke-width="2.2" stroke-dasharray="0 5.5" stroke-linecap="round"/>
<path d="M881.9 105.1v33.0" stroke="#624c0d" stroke-width="7.2" stroke-dasharray="0 5.5" stroke-linecap="round"/>
<path d="M881.9 105.1v33.0" stroke="#967514" stroke-width="6.0" stroke-dasharray="0 5.5" stroke-linecap="round"/>
<path d="M880.9 104.1v33.0" stroke="#bba566" stroke-width="2.2" stroke-dasharray="0 5.5" stroke-linecap="round"/>
<path d="M987.7 105.1v33.0" stroke="#143d7a" stroke-width="7.2" stroke-dasharray="0 5.5" stroke-linecap="round"/>
<path d="M987.7 105.1v33.0" stroke="#1e5ebc" stroke-width="6.0" stroke-dasharray="0 5.5" stroke-linecap="round"/>
<path d="M986.7 104.1v33.0" stroke="#6d96d3" stroke-width="2.2" stroke-dasharray="0 5.5" stroke-linecap="round"/>
<path d="M1093.1 105.1v33.0" stroke="#436610" stroke-width="7.2" stroke-dasharray="0 5.5" stroke-linecap="round"/>
<path d="M1093.1 105.1v33.0" stroke="#679d18" stroke-width="6.0" stroke-dasharray="0 5.5" stroke-linecap="round"/>
<path d="M1092.1 104.1v33.0" stroke="#9cbf69" stroke-width="2.2" stroke-dasharray="0 5.5" stroke-linecap="round"/>
<path d="M900.3 105.4v33.0" stroke="#337012" stroke-width="7.2" stroke-dasharray="0 5.5" stroke-linecap="round"/>
<path d="M900.3 105.4v33.0" stroke="#4fad1b" stroke-width="6.0" stroke-dasharray="0 5.5" stroke-linecap="round"/>
<path d="M899.3 104.4v33.0" stroke="#8dca6b" stroke-width="2.2" stroke-dasharray="0 5.5" stroke-linecap="round"/>
<path d="M1006.0 105.4v33.0" stroke="#14516d" stroke-width="7.2" stroke-dasharray="0 5.5" stroke-linecap="round"/>
<path d="M1006.0 105.4v33.0" stroke="#1e7da7" stroke-width="6.0" stroke-dasharray="0 5.5" stroke-linecap="round"/>
<path d="M1005.0 104.4v33.0" stroke="#6daac6" stroke-width="2.2" stroke-dasharray="0 5.5" stroke-linecap="round"/>
<path d="M1111.9 105.5v33.0" stroke="#75370d" stroke-width="7.2" stroke-dasharray="0 5.5" stroke-linecap="round"/>
<path d="M1111.9 105.5v33.0" stroke="#b45414" stroke-width="6.0" stroke-dasharray="0 5.5" stroke-linecap="round"/>
<path d="M1110.9 104.5v33.0" stroke="#ce9066" stroke-width="2.2" stroke-dasharray="0 5.5" stroke-linecap="round"/>
<path d="M919.1 105.8v33.0" stroke="#227a18" stroke-width="7.2" stroke-dasharray="0 5.5" stroke-linecap="round"/>
<path d="M919.1 105.8v33.0" stroke="#35bc25" stroke-width="6.0" stroke-dasharray="0 5.5" stroke-linecap="round"/>
<path d="M918.1 104.8v33.0" stroke="#7cd371" stroke-width="2.2" stroke-dasharray="0 5.5" stroke-linecap="round"/>
<path d="M1024.4 105.8v33.0" stroke="#166c4a" stroke-width="7.2" stroke-dasharray="0 5.5" stroke-linecap="round"/>
<path d="M1024.4 105.8v33.0" stroke="#22a672" stroke-width="6.0" stroke-dasharray="0 5.5" stroke-linecap="round"/>
<path d="M1023.4 104.8v33.0" stroke="#6fc5a3" stroke-width="2.2" stroke-dasharray="0 5.5" stroke-linecap="round"/>
<path d="M1130.6 105.8v33.0" stroke="#8e180d" stroke-width="7.2" stroke-dasharray="0 5.5" stroke-linecap="round"/>
<path d="M1130.6 105.8v33.0" stroke="#da2514" stroke-width="6.0" stroke-dasharray="0 5.5" stroke-linecap="round"/>
<path d="M1129.6 104.8v33.0" stroke="#e77166" stroke-width="2.2" stroke-dasharray="0 5.5" stroke-linecap="round"/>
<path d="M938.4 106.2v33.0" stroke="#1d7d1e" stroke-width="7.2" stroke-dasharray="0 5.5" stroke-linecap="round"/>
<path d="M938.4 106.2v33.0" stroke="#2cc12e" stroke-width="6.0" stroke-dasharray="0 5.5" stroke-linecap="round"/>
<path d="M937.4 105.2v33.0" stroke="#76d777" stroke-width="2.2" stroke-dasharray="0 5.5" stroke-linecap="round"/>
<path d="M1044.1 106.2v33.0" stroke="#1d7d1d" stroke-width="7.2" stroke-dasharray="0 5.5" stroke-linecap="round"/>
<path d="M1044.1 106.2v33.0" stroke="#2dc12d" stroke-width="6.0" stroke-dasharray="0 5.5" stroke-linecap="round"/>
<path d="M1043.1 105.2v33.0" stroke="#76d776" stroke-width="2.2" stroke-dasharray="0 5.5" stroke-linecap="round"/>
<path d="M956.3 106.6v33.0" stroke="#197a2b" stroke-width="7.2" stroke-dasharray="0 5.5" stroke-linecap="round"/>
<path d="M956.3 106.6v33.0" stroke="#26bc42" stroke-width="6.0" stroke-dasharray="0 5.5" stroke-linecap="round"/>
<path d="M955.3 105.6v33.0" stroke="#72d384" stroke-width="2.2" stroke-dasharray="0 5.5" stroke-linecap="round"/>
<path d="M1062.0 106.6v33.0" stroke="#237a17" stroke-width="7.2" stroke-dasharray="0 5.5" stroke-linecap="round"/>
<path d="M1062.0 106.6v33.0" stroke="#36bc24" stroke-width="6.0" stroke-dasharray="0 5.5" stroke-linecap="round"/>
<path d="M1061.0 105.6v33.0" stroke="#7cd371" stroke-width="2.2" stroke-dasharray="0 5.5" stroke-linecap="round"/>
<path d="M869.8 106.9v33.0" stroke="#881e0d" stroke-width="7.2" stroke-dasharray="0 5.5" stroke-linecap="round"/>
<path d="M869.8 106.9v33.0" stroke="#d12e14" stroke-width="6.0" stroke-dasharray="0 5.5" stroke-linecap="round"/>
<path d="M868.8 105.9v33.0" stroke="#e17766" stroke-width="2.2" stroke-dasharray="0 5.5" stroke-linecap="round"/>
<path d="M975.7 106.9v33.0" stroke="#177040" stroke-width="7.2" stroke-dasharray="0 5.5" stroke-linecap="round"/>
<path d="M975.7 106.9v33.0" stroke="#23ad63" stroke-width="6.0" stroke-dasharray="0 5.5" stroke-linecap="round"/>
<path d="M974.7 105.9v33.0" stroke="#70ca9a" stroke-width="2.2" stroke-dasharray="0 5.5" stroke-linecap="round"/>
<path d="M1081.5 106.9v33.0" stroke="#356f12" stroke-width="7.2" stroke-dasharray="0 5.5" stroke-linecap="round"/>
<path d="M1081.5 106.9v33.0" stroke="#52ab1b" stroke-width="6.0" stroke-dasharray="0 5.5" stroke-linecap="round"/>
<path d="M1080.5 105.9v33.0" stroke="#8fc86b" stroke-width="2.2" stroke-dasharray="0 5.5" stroke-linecap="round"/>
<path d="M887.9 107.3v33.0" stroke="#66470d" stroke-width="7.2" stroke-dasharray="0 5.5" stroke-linecap="round"/>
<path d="M887.9 107.3v33.0" stroke="#9d6d14" stroke-width="6.0" stroke-dasharray="0 5.5" stroke-linecap="round"/>
<path d="M886.9 106.3v33.0" stroke="#bfa066" stroke-width="2.2" stroke-dasharray="0 5.5" stroke-linecap="round"/>
<path d="M993.6 107.3v33.0" stroke="#156755" stroke-width="7.2" stroke-dasharray="0 5.5" stroke-linecap="round"/>
<path d="M993.6 107.3v33.0" stroke="#209f83" stroke-width="6.0" stroke-dasharray="0 5.5" stroke-linecap="round"/>
<path d="M992.6 106.3v33.0" stroke="#6ec1ae" stroke-width="2.2" stroke-dasharray="0 5.5" stroke-linecap="round"/>
<path d="M1100.3 107.3v33.0" stroke="#624c0d" stroke-width="7.2" stroke-dasharray="0 5.5" stroke-linecap="round"/>
<path d="M1100.3 107.3v33.0" stroke="#977514" stroke-width="6.0" stroke-dasharray="0 5.5" stroke-linecap="round"/>
<path d="M1099.3 106.3v33.0" stroke="#bba566" stroke-width="2.2" stroke-dasharray="0 5.5" stroke-linecap="round"/>
<path d="M906.6 107.7v33.0" stroke="#277814" stroke-width="7.2" stroke-dasharray="0 5.5" stroke-linecap="round"/>
<path d="M906.6 107.7v33.0" stroke="#3cb91e" stroke-width="6.0" stroke-dasharray="0 5.5" stroke-linecap="round"/>
<path d="M905.6 106.7v33.0" stroke="#80d26d" stroke-width="2.2" stroke-dasharray="0 5.5" stroke-linecap="round"/>
<path d="M1013.4 107.7v33.0" stroke="#187536" stroke-width="7.2" stroke-dasharray="0 5.5" stroke-linecap="round"/>
<path d="M1013.4 107.7v33.0" stroke="#25b453" stroke-width="6.0" stroke-dasharray="0 5.5" stroke-linecap="round"/>
<path d="M1012.4 106.7v33.0" stroke="#71ce8f" stroke-width="2.2" stroke-dasharray="0 5.5" stroke-linecap="round"/>
<path d="M1118.1 107.7v33.0" stroke="#8a1b0d" stroke-width="7.2" stroke-dasharray="0 5.5" stroke-linecap="round"/>
<path d="M1118.1 107.7v33.0" stroke="#d52a14" stroke-width="6.0" stroke-dasharray="0 5.5" stroke-linecap="round"/>
<path d="M1117.1 106.7v33.0" stroke="#e47566" stroke-width="2.2" stroke-dasharray="0 5.5" stroke-linecap="round"/>
<path d="M925.5 108.0v33.0" stroke="#247a16" stroke-width="7.2" stroke-dasharray="0 5.5" stroke-linecap="round"/>
<path d="M925.5 108.0v33.0" stroke="#38bb22" stroke-width="6.0" stroke-dasharray="0 5.5" stroke-linecap="round"/>
<path d="M924.5 107.0v33.0" stroke="#7ed36f" stroke-width="2.2" stroke-dasharray="0 5.5" stroke-linecap="round"/>
<path d="M1031.9 108.0v33.0" stroke="#1f7d1c" stroke-width="7.2" stroke-dasharray="0 5.5" stroke-linecap="round"/>
<path d="M1031.9 108.0v33.0" stroke="#2fc02b" stroke-width="6.0" stroke-dasharray="0 5.5" stroke-linecap="round"/>
<path d="M1030.9 107.0v33.0" stroke="#78d675" stroke-width="2.2" stroke-dasharray="0 5.5" stroke-linecap="round"/>
<path d="M945.2 108.4v33.0" stroke="#207c1b" stroke-width="7.2" stroke-dasharray="0 5.5" stroke-linecap="round"/>
<path d="M945.2 108.4v33.0" stroke="#31be29" stroke-width="6.0" stroke-dasharray="0 5.5" stroke-linecap="round"/>
<path d="M944.2 107.4v33.0" stroke="#79d574" stroke-width="2.2" stroke-dasharray="0 5.5" stroke-linecap="round"/>
<path d="M1050.8 108.4v33.0" stroke="#207c1a" stroke-width="7.2" stroke-dasharray="0 5.5" stroke-linecap="round"/>
<path d="M1050.8 108.4v33.0" stroke="#32be28" stroke-width="6.0" stroke-dasharray="0 5.5" stroke-linecap="round"/>
<path d="M1049.8 107.4v33.0" stroke="#7ad573" stroke-width="2.2" stroke-dasharray="0 5.5" stroke-linecap="round"/>
<path d="M963.8 108.8v33.0" stroke="#1d7d1d" stroke-width="7.2" stroke-dasharray="0 5.5" stroke-linecap="round"/>
<path d="M963.8 108.8v33.0" stroke="#2dc02d" stroke-width="6.0" stroke-dasharray="0 5.5" stroke-linecap="round"/>
<path d="M962.8 107.8v33.0" stroke="#76d676" stroke-width="2.2" stroke-dasharray="0 5.5" stroke-linecap="round"/>
<path d="M1069.5 108.8v33.0" stroke="#267914" stroke-width="7.2" stroke-dasharray="0 5.5" stroke-linecap="round"/>
<path d="M1069.5 108.8v33.0" stroke="#3bba1f" stroke-width="6.0" stroke-dasharray="0 5.5" stroke-linecap="round"/>
<path d="M1068.5 107.8v33.0" stroke="#80d26d" stroke-width="2.2" stroke-dasharray="0 5.5" stroke-linecap="round"/>
<path d="M876.7 109.1v33.0" stroke="#891d0d" stroke-width="7.2" stroke-dasharray="0 5.5" stroke-linecap="round"/>
<path d="M876.7 109.1v33.0" stroke="#d32c14" stroke-width="6.0" stroke-dasharray="0 5.5" stroke-linecap="round"/>
<path d="M875.7 108.1v33.0" stroke="#e27666" stroke-width="2.2" stroke-dasharray="0 5.5" stroke-linecap="round"/>
<path d="M981.7 109.2v33.0" stroke="#1c7e1f" stroke-width="7.2" stroke-dasharray="0 5.5" stroke-linecap="round"/>
<path d="M981.7 109.2v33.0" stroke="#2bc22f" stroke-width="6.0" stroke-dasharray="0 5.5" stroke-linecap="round"/>
<path d="M980.7 108.2v33.0" stroke="#75d778" stroke-width="2.2" stroke-dasharray="0 5.5" stroke-linecap="round"/>
<path d="M1088.1 109.2v33.0" stroke="#6c410d" stroke-width="7.2" stroke-dasharray="0 5.5" stroke-linecap="round"/>
<path d="M1088.1 109.2v33.0" stroke="#a66414" stroke-width="6.0" stroke-dasharray="0 5.5" stroke-linecap="round"/>
<path d="M1087.1 108.2v33.0" stroke="#c59a66" stroke-width="2.2" stroke-dasharray="0 5.5" stroke-linecap="round"/>
<path d="M894.9 109.5v33.0" stroke="#65490d" stroke-width="7.2" stroke-dasharray="0 5.5" stroke-linecap="round"/>
<path d="M894.9 109.5v33.0" stroke="#9b7014" stroke-width="6.0" stroke-dasharray="0 5.5" stroke-linecap="round"/>
<path d="M893.9 108.5v33.0" stroke="#bea266" stroke-width="2.2" stroke-dasharray="0 5.5" stroke-linecap="round"/>
<path d="M1000.7 109.5v33.0" stroke="#1d7d1d" stroke-width="7.2" stroke-dasharray="0 5.5" stroke-linecap="round"/>
<path d="M1000.7 109.5v33.0" stroke="#2dc02d" stroke-width="6.0" stroke-dasharray="0 5.5" stroke-linecap="round"/>
<path d="M999.7 108.5v33.0" stroke="#76d676" stroke-width="2.2" stroke-dasharray="0 5.5" stroke-linecap="round"/>
<path d="M1107.1 109.5v33.0" stroke="#871f0d" stroke-width="7.2" stroke-dasharray="0 5.5" stroke-linecap="round"/>
<path d="M1107.1 109.5v33.0" stroke="#cf3014" stroke-width="6.0" stroke-dasharray="0 5.5" stroke-linecap="round"/>
<path d="M1106.1 108.5v33.0" stroke="#e07866" stroke-width="2.2" stroke-dasharray="0 5.5" stroke-linecap="round"/>
<path d="M913.8 109.9v33.0" stroke="#446510" stroke-width="7.2" stroke-dasharray="0 5.5" stroke-linecap="round"/>
<path d="M913.8 109.9v33.0" stroke="#699c18" stroke-width="6.0" stroke-dasharray="0 5.5" stroke-linecap="round"/>
<path d="M912.8 108.9v33.0" stroke="#9ebf69" stroke-width="2.2" stroke-dasharray="0 5.5" stroke-linecap="round"/>
<path d="M1019.6 109.9v33.0" stroke="#1f7c1b" stroke-width="7.2" stroke-dasharray="0 5.5" stroke-linecap="round"/>
<path d="M1019.6 109.9v33.0" stroke="#30bf2a" stroke-width="6.0" stroke-dasharray="0 5.5" stroke-linecap="round"/>
<path d="M1018.6 108.9v33.0" stroke="#78d575" stroke-width="2.2" stroke-dasharray="0 5.5" stroke-linecap="round"/>
<path d="M932.2 110.3v33.0" stroke="#267914" stroke-width="7.2" stroke-dasharray="0 5.5" stroke-linecap="round"/>
<path d="M932.2 110.3v33.0" stroke="#3bba1f" stroke-width="6.0" stroke-dasharray="0 5.5" stroke-linecap="round"/>
<path d="M931.2 109.3v33.0" stroke="#80d26d" stroke-width="2.2" stroke-dasharray="0 5.5" stroke-linecap="round"/>
<path d="M1039.1 110.3v33.0" stroke="#237a17" stroke-width="7.2" stroke-dasharray="0 5.5" stroke-linecap="round"/>
<path d="M1039.1 110.3v33.0" stroke="#36bc24" stroke-width="6.0" stroke-dasharray="0 5.5" stroke-linecap="round"/>
<path d="M1038.1 109.3v33.0" stroke="#7cd371" stroke-width="2.2" stroke-dasharray="0 5.5" stroke-linecap="round"/>
<path d="M951.8 110.6v33.0" stroke="#227a18" stroke-width="7.2" stroke-dasharray="0 5.5" stroke-linecap="round"/>
<path d="M951.8 110.6v33.0" stroke="#35bc25" stroke-width="6.0" stroke-dasharray="0 5.5" stroke-linecap="round"/>
<path d="M950.8 109.6v33.0" stroke="#7cd371" stroke-width="2.2" stroke-dasharray="0 5.5" stroke-linecap="round"/>
<path d="M1057.5 110.6v33.0" stroke="#3c6b10" stroke-width="7.2" stroke-dasharray="0 5.5" stroke-linecap="round"/>
<path d="M1057.5 110.6v33.0" stroke="#5ca419" stroke-width="6.0" stroke-dasharray="0 5.5" stroke-linecap="round"/>
<path d="M1056.5 109.6v33.0" stroke="#95c46a" stroke-width="2.2" stroke-dasharray="0 5.5" stroke-linecap="round"/>
<path d="M970.5 111.0v33.0" stroke="#227b19" stroke-width="7.2" stroke-dasharray="0 5.5" stroke-linecap="round"/>
<path d="M970.5 111.0v33.0" stroke="#34bd26" stroke-width="6.0" stroke-dasharray="0 5.5" stroke-linecap="round"/>
<path d="M969.5 110.0v33.0" stroke="#7bd472" stroke-width="2.2" stroke-dasharray="0 5.5" stroke-linecap="round"/>
<path d="M1076.0 111.0v33.0" stroke="#67460d" stroke-width="7.2" stroke-dasharray="0 5.5" stroke-linecap="round"/>
<path d="M1076.0 111.0v33.0" stroke="#9f6b14" stroke-width="6.0" stroke-dasharray="0 5.5" stroke-linecap="round"/>
<path d="M1075.0 110.0v33.0" stroke="#c19f66" stroke-width="2.2" stroke-dasharray="0 5.5" stroke-linecap="round"/>
<path d="M883.7 111.4v33.0" stroke="#871f0d" stroke-width="7.2" stroke-dasharray="0 5.5" stroke-linecap="round"/>
<path d="M883.7 111.4v33.0" stroke="#d02f14" stroke-width="6.0" stroke-dasharray="0 5.5" stroke-linecap="round"/>
<path d="M882.7 110.4v33.0" stroke="#e07866" stroke-width="2.2" stroke-dasharray="0 5.5" stroke-linecap="round"/>
<path d="M988.5 111.4v33.0" stroke="#237a17" stroke-width="7.2" stroke-dasharray="0 5.5" stroke-linecap="round"/>
<path d="M988.5 111.4v33.0" stroke="#36bc24" stroke-width="6.0" stroke-dasharray="0 5.5" stroke-linecap="round"/>
<path d="M987.5 110.4v33.0" stroke="#7cd371" stroke-width="2.2" stroke-dasharray="0 5.5" stroke-linecap="round"/>
<path d="M1095.3 111.4v33.0" stroke="#871f0d" stroke-width="7.2" stroke-dasharray="0 5.5" stroke-linecap="round"/>
<path d="M1095.3 111.4v33.0" stroke="#cf3014" stroke-width="6.0" stroke-dasharray="0 5.5" stroke-linecap="round"/>
<path d="M1094.3 110.4v33.0" stroke="#e07866" stroke-width="2.2" stroke-dasharray="0 5.5" stroke-linecap="round"/>
<path d="M901.9 111.7v33.0" stroke="#7e2a0d" stroke-width="7.2" stroke-dasharray="0 5.5" stroke-linecap="round"/>
<path d="M901.9 111.7v33.0" stroke="#c24114" stroke-width="6.0" stroke-dasharray="0 5.5" stroke-linecap="round"/>
<path d="M900.9 110.7v33.0" stroke="#d78466" stroke-width="2.2" stroke-dasharray="0 5.5" stroke-linecap="round"/>
<path d="M1007.4 111.8v33.0" stroke="#237a17" stroke-width="7.2" stroke-dasharray="0 5.5" stroke-linecap="round"/>
<path d="M1007.4 111.8v33.0" stroke="#36bc24" stroke-width="6.0" stroke-dasharray="0 5.5" stroke-linecap="round"/>
<path d="M1006.4 110.8v33.0" stroke="#7cd371" stroke-width="2.2" stroke-dasharray="0 5.5" stroke-linecap="round"/>
<path d="M920.4 112.1v33.0" stroke="#624b0d" stroke-width="7.2" stroke-dasharray="0 5.5" stroke-linecap="round"/>
<path d="M920.4 112.1v33.0" stroke="#977414" stroke-width="6.0" stroke-dasharray="0 5.5" stroke-linecap="round"/>
<path d="M919.4 111.1v33.0" stroke="#bba566" stroke-width="2.2" stroke-dasharray="0 5.5" stroke-linecap="round"/>
<path d="M1026.3 112.1v33.0" stroke="#267915" stroke-width="7.2" stroke-dasharray="0 5.5" stroke-linecap="round"/>
<path d="M1026.3 112.1v33.0" stroke="#3aba20" stroke-width="6.0" stroke-dasharray="0 5.5" stroke-linecap="round"/>
<path d="M1025.3 111.1v33.0" stroke="#7fd26e" stroke-width="2.2" stroke-dasharray="0 5.5" stroke-linecap="round"/>
<path d="M939.8 112.5v33.0" stroke="#56590d" stroke-width="7.2" stroke-dasharray="0 5.5" stroke-linecap="round"/>
<path d="M939.8 112.5v33.0" stroke="#848914" stroke-width="6.0" stroke-dasharray="0 5.5" stroke-linecap="round"/>
<path d="M938.8 111.5v33.0" stroke="#afb266" stroke-width="2.2" stroke-dasharray="0 5.5" stroke-linecap="round"/>
<path d="M1045.1 112.5v33.0" stroke="#4f5f0e" stroke-width="7.2" stroke-dasharray="0 5.5" stroke-linecap="round"/>
<path d="M1045.1 112.5v33.0" stroke="#799215" stroke-width="6.0" stroke-dasharray="0 5.5" stroke-linecap="round"/>
<path d="M1044.1 111.5v33.0" stroke="#a8b867" stroke-width="2.2" stroke-dasharray="0 5.5" stroke-linecap="round"/>
<path d="M958.2 112.9v33.0" stroke="#3f6910" stroke-width="7.2" stroke-dasharray="0 5.5" stroke-linecap="round"/>
<path d="M958.2 112.9v33.0" stroke="#61a119" stroke-width="6.0" stroke-dasharray="0 5.5" stroke-linecap="round"/>
<path d="M957.2 111.9v33.0" stroke="#98c26a" stroke-width="2.2" stroke-dasharray="0 5.5" stroke-linecap="round"/>
<path d="M1064.2 112.9v33.0" stroke="#67460d" stroke-width="7.2" stroke-dasharray="0 5.5" stroke-linecap="round"/>
<path d="M1064.2 112.9v33.0" stroke="#9e6c14" stroke-width="6.0" stroke-dasharray="0 5.5" stroke-linecap="round"/>
<path d="M1063.2 111.9v33.0" stroke="#c09f66" stroke-width="2.2" stroke-dasharray="0 5.5" stroke-linecap="round"/>
<path d="M976.7 113.2v33.0" stroke="#267914" stroke-width="7.2" stroke-dasharray="0 5.5" stroke-linecap="round"/>
<path d="M976.7 113.2v33.0" stroke="#3bba1f" stroke-width="6.0" stroke-dasharray="0 5.5" stroke-linecap="round"/>
<path d="M975.7 112.2v33.0" stroke="#80d26d" stroke-width="2.2" stroke-dasharray="0 5.5" stroke-linecap="round"/>
<path d="M1082.8 113.2v33.0" stroke="#871f0d" stroke-width="7.2" stroke-dasharray="0 5.5" stroke-linecap="round"/>
<path d="M1082.8 113.2v33.0" stroke="#cf3014" stroke-width="6.0" stroke-dasharray="0 5.5" stroke-linecap="round"/>
<path d="M1081.8 112.2v33.0" stroke="#e07866" stroke-width="2.2" stroke-dasharray="0 5.5" stroke-linecap="round"/>
<path d="M889.6 113.6v33.0" stroke="#8c1a0d" stroke-width="7.2" stroke-dasharray="0 5.5" stroke-linecap="round"/>
<path d="M889.6 113.6v33.0" stroke="#d72814" stroke-width="6.0" stroke-dasharray="0 5.5" stroke-linecap="round"/>
<path d="M888.6 112.6v33.0" stroke="#e57366" stroke-width="2.2" stroke-dasharray="0 5.5" stroke-linecap="round"/>
<path d="M995.6 113.6v33.0" stroke="#3c6b10" stroke-width="7.2" stroke-dasharray="0 5.5" stroke-linecap="round"/>
<path d="M995.6 113.6v33.0" stroke="#5da419" stroke-width="6.0" stroke-dasharray="0 5.5" stroke-linecap="round"/>
<path d="M994.6 112.6v33.0" stroke="#96c46a" stroke-width="2.2" stroke-dasharray="0 5.5" stroke-linecap="round"/>
<path d="M908.4 114.0v33.0" stroke="#891d0d" stroke-width="7.2" stroke-dasharray="0 5.5" stroke-linecap="round"/>
<path d="M908.4 114.0v33.0" stroke="#d32c14" stroke-width="6.0" stroke-dasharray="0 5.5" stroke-linecap="round"/>
<path d="M907.4 113.0v33.0" stroke="#e27666" stroke-width="2.2" stroke-dasharray="0 5.5" stroke-linecap="round"/>
<path d="M1014.6 114.0v33.0" stroke="#4b610e" stroke-width="7.2" stroke-dasharray="0 5.5" stroke-linecap="round"/>
<path d="M1014.6 114.0v33.0" stroke="#739516" stroke-width="6.0" stroke-dasharray="0 5.5" stroke-linecap="round"/>
<path d="M1013.6 113.0v33.0" stroke="#a4ba68" stroke-width="2.2" stroke-dasharray="0 5.5" stroke-linecap="round"/>
<path d="M927.5 114.3v33.0" stroke="#80270d" stroke-width="7.2" stroke-dasharray="0 5.5" stroke-linecap="round"/>
<path d="M927.5 114.3v33.0" stroke="#c53c14" stroke-width="6.0" stroke-dasharray="0 5.5" stroke-linecap="round"/>
<path d="M926.5 113.3v33.0" stroke="#d98066" stroke-width="2.2" stroke-dasharray="0 5.5" stroke-linecap="round"/>
<path d="M1033.7 114.3v33.0" stroke="#624c0d" stroke-width="7.2" stroke-dasharray="0 5.5" stroke-linecap="round"/>
<path d="M1033.7 114.3v33.0" stroke="#967514" stroke-width="6.0" stroke-dasharray="0 5.5" stroke-linecap="round"/>
<path d="M1032.7 113.3v33.0" stroke="#bba566" stroke-width="2.2" stroke-dasharray="0 5.5" stroke-linecap="round"/>
<path d="M946.3 114.7v33.0" stroke="#713b0d" stroke-width="7.2" stroke-dasharray="0 5.5" stroke-linecap="round"/>
<path d="M946.3 114.7v33.0" stroke="#ae5b14" stroke-width="6.0" stroke-dasharray="0 5.5" stroke-linecap="round"/>
<path d="M945.3 113.7v33.0" stroke="#ca9466" stroke-width="2.2" stroke-dasharray="0 5.5" stroke-linecap="round"/>
<path d="M1052.5 114.7v33.0" stroke="#78330d" stroke-width="7.2" stroke-dasharray="0 5.5" stroke-linecap="round"/>
<path d="M1052.5 114.7v33.0" stroke="#b84e14" stroke-width="6.0" stroke-dasharray="0 5.5" stroke-linecap="round"/>
<path d="M1051.5 113.7v33.0" stroke="#d18c66" stroke-width="2.2" stroke-dasharray="0 5.5" stroke-linecap="round"/>
<path d="M965.4 115.1v33.0" stroke="#6e3e0d" stroke-width="7.2" stroke-dasharray="0 5.5" stroke-linecap="round"/>
<path d="M965.4 115.1v33.0" stroke="#aa6014" stroke-width="6.0" stroke-dasharray="0 5.5" stroke-linecap="round"/>
<path d="M964.4 114.1v33.0" stroke="#c89866" stroke-width="2.2" stroke-dasharray="0 5.5" stroke-linecap="round"/>
<path d="M1070.8 115.1v33.0" stroke="#881e0d" stroke-width="7.2" stroke-dasharray="0 5.5" stroke-linecap="round"/>
<path d="M1070.8 115.1v33.0" stroke="#d12e14" stroke-width="6.0" stroke-dasharray="0 5.5" stroke-linecap="round"/>
<path d="M1069.8 114.1v33.0" stroke="#e17766" stroke-width="2.2" stroke-dasharray="0 5.5" stroke-linecap="round"/>
<path d="M983.5 115.5v33.0" stroke="#69440d" stroke-width="7.2" stroke-dasharray="0 5.5" stroke-linecap="round"/>
<path d="M983.5 115.5v33.0" stroke="#a26914" stroke-width="6.0" stroke-dasharray="0 5.5" stroke-linecap="round"/>
<path d="M982.5 114.5v33.0" stroke="#c39e66" stroke-width="2.2" stroke-dasharray="0 5.5" stroke-linecap="round"/>
<path d="M1002.8 115.8v33.0" stroke="#76350d" stroke-width="7.2" stroke-dasharray="0 5.5" stroke-linecap="round"/>
<path d="M1002.8 115.8v33.0" stroke="#b55214" stroke-width="6.0" stroke-dasharray="0 5.5" stroke-linecap="round"/>
<path d="M1001.8 114.8v33.0" stroke="#cf8f66" stroke-width="2.2" stroke-dasharray="0 5.5" stroke-linecap="round"/>
<path d="M916.0 116.2v33.0" stroke="#8b1b0d" stroke-width="7.2" stroke-dasharray="0 5.5" stroke-linecap="round"/>
<path d="M916.0 116.2v33.0" stroke="#d62914" stroke-width="6.0" stroke-dasharray="0 5.5" stroke-linecap="round"/>
<path d="M915.0 115.2v33.0" stroke="#e47466" stroke-width="2.2" stroke-dasharray="0 5.5" stroke-linecap="round"/>
<path d="M1021.0 116.2v33.0" stroke="#75360d" stroke-width="7.2" stroke-dasharray="0 5.5" stroke-linecap="round"/>
<path d="M1021.0 116.2v33.0" stroke="#b45314" stroke-width="6.0" stroke-dasharray="0 5.5" stroke-linecap="round"/>
<path d="M1020.0 115.2v33.0" stroke="#ce8f66" stroke-width="2.2" stroke-dasharray="0 5.5" stroke-linecap="round"/>
<path d="M934.0 116.6v33.0" stroke="#8a1c0d" stroke-width="7.2" stroke-dasharray="0 5.5" stroke-linecap="round"/>
<path d="M934.0 116.6v33.0" stroke="#d42b14" stroke-width="6.0" stroke-dasharray="0 5.5" stroke-linecap="round"/>
<path d="M933.0 115.6v33.0" stroke="#e37566" stroke-width="2.2" stroke-dasharray="0 5.5" stroke-linecap="round"/>
<path d="M1040.6 116.6v33.0" stroke="#881d0d" stroke-width="7.2" stroke-dasharray="0 5.5" stroke-linecap="round"/>
<path d="M1040.6 116.6v33.0" stroke="#d22d14" stroke-width="6.0" stroke-dasharray="0 5.5" stroke-linecap="round"/>
<path d="M1039.6 115.6v33.0" stroke="#e27666" stroke-width="2.2" stroke-dasharray="0 5.5" stroke-linecap="round"/>
<path d="M952.8 116.9v33.0" stroke="#881d0d" stroke-width="7.2" stroke-dasharray="0 5.5" stroke-linecap="round"/>
<path d="M952.8 116.9v33.0" stroke="#d22d14" stroke-width="6.0" stroke-dasharray="0 5.5" stroke-linecap="round"/>
<path d="M951.8 115.9v33.0" stroke="#e27666" stroke-width="2.2" stroke-dasharray="0 5.5" stroke-linecap="round"/>
<path d="M1058.7 116.9v33.0" stroke="#8c1a0d" stroke-width="7.2" stroke-dasharray="0 5.5" stroke-linecap="round"/>
<path d="M1058.7 116.9v33.0" stroke="#d72814" stroke-width="6.0" stroke-dasharray="0 5.5" stroke-linecap="round"/>
<path d="M1057.7 115.9v33.0" stroke="#e57366" stroke-width="2.2" stroke-dasharray="0 5.5" stroke-linecap="round"/>
<path d="M972.2 117.3v33.0" stroke="#81260d" stroke-width="7.2" stroke-dasharray="0 5.5" stroke-linecap="round"/>
<path d="M972.2 117.3v33.0" stroke="#c73a14" stroke-width="6.0" stroke-dasharray="0 5.5" stroke-linecap="round"/>
<path d="M971.2 116.3v33.0" stroke="#db7f66" stroke-width="2.2" stroke-dasharray="0 5.5" stroke-linecap="round"/>
<path d="M990.2 117.7v33.0" stroke="#881d0d" stroke-width="7.2" stroke-dasharray="0 5.5" stroke-linecap="round"/>
<path d="M990.2 117.7v33.0" stroke="#d22d14" stroke-width="6.0" stroke-dasharray="0 5.5" stroke-linecap="round"/>
<path d="M989.2 116.7v33.0" stroke="#e27666" stroke-width="2.2" stroke-dasharray="0 5.5" stroke-linecap="round"/>
<path d="M1009.2 118.1v33.0" stroke="#881d0d" stroke-width="7.2" stroke-dasharray="0 5.5" stroke-linecap="round"/>
<path d="M1009.2 118.1v33.0" stroke="#d22d14" stroke-width="6.0" stroke-dasharray="0 5.5" stroke-linecap="round"/>
<path d="M1008.2 117.1v33.0" stroke="#e27666" stroke-width="2.2" stroke-dasharray="0 5.5" stroke-linecap="round"/>
<path d="M1028.3 118.4v33.0" stroke="#8d190d" stroke-width="7.2" stroke-dasharray="0 5.5" stroke-linecap="round"/>
<path d="M1028.3 118.4v33.0" stroke="#d92614" stroke-width="6.0" stroke-dasharray="0 5.5" stroke-linecap="round"/>
<path d="M1027.3 117.4v33.0" stroke="#e67266" stroke-width="2.2" stroke-dasharray="0 5.5" stroke-linecap="round"/>
<path d="M836.0 97 L836.0 142 A156.5 13 0 0 0 850.0 146 L850.0 101 Z" fill="#c8c8cc" opacity="0.35"/>
<path d="M1149.0 97 L1149.0 142 A156.5 13 0 0 1 1135.0 146 L1135.0 101 Z" fill="#c8c8cc" opacity="0.35"/>
<g stroke="#222" stroke-width="1.4" fill="none">
<path d="M772 105.2 H824 M809 99.2 L824 105.2 L809 111.2"/>
<path d="M772 128.8 H824 M809 122.80000000000001 L824 128.8 L809 134.8"/>
<path d="M1214 106.2 H1161 M1176 100.2 L1161 106.2 L1176 112.2"/>
<path d="M1214 130.2 H1161 M1176 124.19999999999999 L1161 130.2 L1176 136.2"/>
</g>
<path d="M905 71 V40" stroke="#231f20" stroke-width="3.8"/>
<path d="M905 25.7 L898.8 46 L905 42 L911.2 46 Z" fill="#231f20"/>
<text x="864.5" y="44.5" font-family='"Liberation Sans", Arial, sans-serif' font-size="37" font-weight="normal" fill="#231f20" text-anchor="start" textLength="19" lengthAdjust="spacingAndGlyphs" >z</text>
<text x="925" y="35.9" font-family='"Liberation Sans", Arial, sans-serif' font-size="26.5" font-weight="normal" fill="#231f20" text-anchor="start" textLength="124" lengthAdjust="spacingAndGlyphs" >Periodic in</text>
<text x="924.5" y="66.4" font-family='"Liberation Sans", Arial, sans-serif' font-size="26.5" font-weight="normal" fill="#231f20" text-anchor="start" textLength="110" lengthAdjust="spacingAndGlyphs" >axial axis</text>
<text x="1172.5" y="88" font-family='"Liberation Sans", Arial, sans-serif' font-size="36.5" font-weight="normal" fill="#231f20" text-anchor="start" textLength="26.5" lengthAdjust="spacingAndGlyphs" >P</text>
<text x="1197.5" y="95" font-family='"Liberation Sans", Arial, sans-serif' font-size="22" font-weight="normal" fill="#231f20" text-anchor="start" >r</text>
<g stroke="#000" fill="none">
<path d="M667.4 53 V424.4 H1116" stroke-width="3.7"/>
<path d="M669 276.6 H677.5" stroke-width="2.2"/>
<path d="M669 128.8 H677.5" stroke-width="2.2"/>
<path d="M704.4 422.5 V413.5" stroke-width="2.2"/>
<path d="M890.4 422.5 V413.5" stroke-width="2.2"/>
<path d="M1076.4 422.5 V413.5" stroke-width="2.2"/>
</g>
<g stroke="#555" fill="none" stroke-width="1.2">
<path d="M662.5 394.8 H665.5"/>
<path d="M662.5 365.3 H665.5"/>
<path d="M662.5 335.7 H665.5"/>
<path d="M662.5 306.2 H665.5"/>
<path d="M662.5 247.0 H665.5"/>
<path d="M662.5 217.5 H665.5"/>
<path d="M662.5 187.9 H665.5"/>
<path d="M662.5 158.4 H665.5"/>
<path d="M662.5 99.2 H665.5"/>
<path d="M662.5 69.7 H665.5"/>
<path d="M667.2 426.2 V429.5"/>
<path d="M741.6 426.2 V429.5"/>
<path d="M778.8 426.2 V429.5"/>
<path d="M816.0 426.2 V429.5"/>
<path d="M853.2 426.2 V429.5"/>
<path d="M927.6 426.2 V429.5"/>
<path d="M964.8 426.2 V429.5"/>
<path d="M1002.0 426.2 V429.5"/>
<path d="M1039.2 426.2 V429.5"/>
<path d="M1113.6 426.2 V429.5"/>
</g>
<text x="662" y="436.4" font-family='"DejaVu Sans Condensed", "DejaVu Sans", sans-serif' font-size="32.5" font-weight="normal" fill="#000" text-anchor="end" textLength="18.6" lengthAdjust="spacingAndGlyphs" >0</text>
<text x="662" y="288.6" font-family='"DejaVu Sans Condensed", "DejaVu Sans", sans-serif' font-size="32.5" font-weight="normal" fill="#000" text-anchor="end" textLength="37.2" lengthAdjust="spacingAndGlyphs" >10</text>
<text x="662" y="140.8" font-family='"DejaVu Sans Condensed", "DejaVu Sans", sans-serif' font-size="32.5" font-weight="normal" fill="#000" text-anchor="end" textLength="37.2" lengthAdjust="spacingAndGlyphs" >20</text>
<text x="704.4" y="454.7" font-family='"DejaVu Sans Condensed", "DejaVu Sans", sans-serif' font-size="32.5" font-weight="normal" fill="#000" text-anchor="middle" textLength="37.2" lengthAdjust="spacingAndGlyphs" >25</text>
<text x="890.4" y="454.7" font-family='"DejaVu Sans Condensed", "DejaVu Sans", sans-serif' font-size="32.5" font-weight="normal" fill="#000" text-anchor="middle" textLength="37.2" lengthAdjust="spacingAndGlyphs" >30</text>
<text x="1076.4" y="454.7" font-family='"DejaVu Sans Condensed", "DejaVu Sans", sans-serif' font-size="32.5" font-weight="normal" fill="#000" text-anchor="middle" textLength="37.2" lengthAdjust="spacingAndGlyphs" >35</text>
<text x="618.7" y="352.6" font-family='"DejaVu Sans Condensed", "DejaVu Sans", sans-serif' font-size="34" font-weight="normal" fill="#231f20" text-anchor="start" textLength="199.8" lengthAdjust="spacingAndGlyphs" transform="rotate(-90 618.7 352.6)">Pressure (bar)</text>
<text x="707.2" y="510.4" font-family='"DejaVu Sans Condensed", "DejaVu Sans", sans-serif' font-size="35" font-weight="normal" fill="#231f20" text-anchor="start" textLength="370" lengthAdjust="spacingAndGlyphs" >Interhelical distance (Å)</text>
<path d="M725.5 97.5 L739 132.4 L748.6 157 L763 192 L779.6 227.2 L790 242.6 L800.6 255.8 L809.8 271.7 L821.7 288.9 L840.2 319.2 L860 355 L869 360 L890 369.4 L915 379 L940 386.5 L965 392 L995 398 L1020 401.5 L1045 405 L1077 410" stroke="#62a0cf" stroke-width="6.5" fill="none" stroke-dasharray="26.5 11.3" stroke-dashoffset="-0.8" stroke-linejoin="round"/>
<rect x="718.9" y="101.6" width="17.8" height="19.8" fill="none" stroke="#f08c2e" stroke-width="2.2"/>
<rect x="757.7" y="196.4" width="17.8" height="19.8" fill="none" stroke="#f08c2e" stroke-width="2.2"/>
<rect x="797.0" y="262.6" width="17.8" height="19.8" fill="none" stroke="#f08c2e" stroke-width="2.2"/>
<rect x="838.7" y="312.1" width="17.8" height="19.8" fill="none" stroke="#f08c2e" stroke-width="2.2"/>
<rect x="888.9" y="341.9" width="17.8" height="19.8" fill="none" stroke="#f08c2e" stroke-width="2.2"/>
<rect x="934.3" y="367.1" width="17.8" height="19.8" fill="none" stroke="#f08c2e" stroke-width="2.2"/>
<rect x="999.1" y="392.4" width="17.8" height="19.8" fill="none" stroke="#f08c2e" stroke-width="2.2"/>
<ellipse cx="727.5" cy="105" rx="8.2" ry="9.6" fill="none" stroke="#3a9a3a" stroke-width="2.3"/>
<ellipse cx="768.5" cy="204.6" rx="8.2" ry="9.6" fill="none" stroke="#3a9a3a" stroke-width="2.3"/>
<ellipse cx="805.3" cy="276.4" rx="8.2" ry="9.6" fill="none" stroke="#3a9a3a" stroke-width="2.3"/>
<ellipse cx="846.1" cy="321.2" rx="8.2" ry="9.6" fill="none" stroke="#3a9a3a" stroke-width="2.3"/>
<ellipse cx="897.5" cy="358.1" rx="8.2" ry="9.6" fill="none" stroke="#3a9a3a" stroke-width="2.3"/>
<ellipse cx="942.3" cy="381.2" rx="8.2" ry="9.6" fill="none" stroke="#3a9a3a" stroke-width="2.3"/>
<ellipse cx="1006.8" cy="404.9" rx="8.2" ry="9.6" fill="none" stroke="#3a9a3a" stroke-width="2.3"/>
<path d="M716.2 99.0 L732.6 117.6 M732.6 99.0 L716.2 117.6" stroke="#d23838" stroke-width="2.3"/>
<path d="M758.7 196.5 L775.1 215.1 M775.1 196.5 L758.7 215.1" stroke="#d23838" stroke-width="2.3"/>
<path d="M797.1 265.9 L813.5 284.5 M813.5 265.9 L797.1 284.5" stroke="#d23838" stroke-width="2.3"/>
<path d="M839.8 312.7 L856.2 331.3 M856.2 312.7 L839.8 331.3" stroke="#d23838" stroke-width="2.3"/>
<path d="M889.3 346.2 L905.7 364.8 M905.7 346.2 L889.3 364.8" stroke="#d23838" stroke-width="2.3"/>
<path d="M934.2 372.5 L950.6 391.1 M950.6 372.5 L934.2 391.1" stroke="#d23838" stroke-width="2.3"/>
<path d="M998.6 393.0 L1015.0 411.6 M1015.0 393.0 L998.6 411.6" stroke="#d23838" stroke-width="2.3"/>
<rect x="857.6" y="184" width="320" height="114" rx="4" fill="#fff" fill-opacity="0.85" stroke="#d8d8d8" stroke-width="1.3"/>
<path d="M864 198 H890" stroke="#62a0cf" stroke-width="7"/>
<rect x="871.2" y="215.2" width="19.2" height="20.6" fill="none" stroke="#f08c2e" stroke-width="2.2"/>
<circle cx="880.7" cy="253.3" r="9.9" fill="none" stroke="#3a9a3a" stroke-width="2.3"/>
<path d="M871.5 271 L890 290 M890 271 L871.5 290" stroke="#d23838" stroke-width="2.3"/>
<text x="909.5" y="205.4" font-family='"DejaVu Sans", sans-serif' font-size="18.4" font-weight="normal" fill="#000" text-anchor="start" textLength="262.6" lengthAdjust="spacingAndGlyphs" >Rau, 20 mM [Mg] 200 mM [Na]</text>
<text x="909.3" y="232.6" font-family='"DejaVu Sans", sans-serif' font-size="18.4" font-weight="normal" fill="#000" text-anchor="start" textLength="185.5" lengthAdjust="spacingAndGlyphs" >Resolution: 1 bp/bead</text>
<text x="909.3" y="260" font-family='"DejaVu Sans", sans-serif' font-size="18.4" font-weight="normal" fill="#000" text-anchor="start" textLength="185.5" lengthAdjust="spacingAndGlyphs" >Resolution: 3 bp/bead</text>
<text x="909.3" y="287.4" font-family='"DejaVu Sans", sans-serif' font-size="18.4" font-weight="normal" fill="#000" text-anchor="start" textLength="185.5" lengthAdjust="spacingAndGlyphs" >Resolution: 5 bp/bead</text>
<text x="1206" y="41.5" font-family='"Liberation Sans", Arial, sans-serif' font-size="46" font-weight="bold" fill="#231f20" text-anchor="start" >c</text>
<defs>
<radialGradient id="go1" cx="0.5" cy="0.5" r="0.5" fx="0.36" fy="0.32"><stop offset="0" stop-color="#ffa646"/><stop offset="0.4" stop-color="#f5861a"/><stop offset="0.8" stop-color="#dc6a08"/><stop offset="1" stop-color="#9a4000"/></radialGradient>
<radialGradient id="go2" cx="0.5" cy="0.5" r="0.5" fx="0.36" fy="0.32"><stop offset="0" stop-color="#f29238"/><stop offset="0.4" stop-color="#e57412"/><stop offset="0.8" stop-color="#c45a04"/><stop offset="1" stop-color="#7a3000"/></radialGradient>
<radialGradient id="go3" cx="0.5" cy="0.5" r="0.5" fx="0.36" fy="0.32"><stop offset="0" stop-color="#c86e1e"/><stop offset="0.4" stop-color="#a8520a"/><stop offset="0.8" stop-color="#843c02"/><stop offset="1" stop-color="#4a1a00"/></radialGradient>
<radialGradient id="gb1" cx="0.5" cy="0.5" r="0.5" fx="0.36" fy="0.32"><stop offset="0" stop-color="#3590e4"/><stop offset="0.4" stop-color="#1b74d0"/><stop offset="0.8" stop-color="#125cb0"/><stop offset="1" stop-color="#0a3a78"/></radialGradient>
<radialGradient id="gb2" cx="0.5" cy="0.5" r="0.5" fx="0.36" fy="0.32"><stop offset="0" stop-color="#2a80d0"/><stop offset="0.4" stop-color="#1866b8"/><stop offset="0.8" stop-color="#10509a"/><stop offset="1" stop-color="#082c60"/></radialGradient>
<radialGradient id="gb3" cx="0.5" cy="0.5" r="0.5" fx="0.36" fy="0.32"><stop offset="0" stop-color="#1a5ea4"/><stop offset="0.4" stop-color="#124884"/><stop offset="0.8" stop-color="#0c3466"/><stop offset="1" stop-color="#041a38"/></radialGradient>
<radialGradient id="gB" cx="0.5" cy="0.5" r="0.5" fx="0.62" fy="0.38"><stop offset="0" stop-color="#2c92ea"/><stop offset="0.55" stop-color="#1f7fd8"/><stop offset="0.88" stop-color="#186ac0"/><stop offset="1" stop-color="#0f4f98"/></radialGradient>
<radialGradient id="gG" cx="0.5" cy="0.5" r="0.5" fx="0.62" fy="0.38"><stop offset="0" stop-color="#3cf84a"/><stop offset="0.55" stop-color="#20ea2e"/><stop offset="0.88" stop-color="#18cc24"/><stop offset="1" stop-color="#10a01a"/></radialGradient>
<clipPath id="cO1"><rect x="1150" y="82" width="300" height="345"/></clipPath>
<clipPath id="cO3"><path d="M1824.0 84.0 C1837.3 82.2 1874.2 84.0 1900.0 84.0 C1925.8 84.0 1965.5 82.2 1979.0 84.0 C1992.5 85.8 1981.3 90.3 1981.0 95.0 C1980.7 99.7 1979.5 106.5 1977.0 112.0 C1974.5 117.5 1969.2 123.3 1966.0 128.0 C1962.8 132.7 1959.7 134.7 1958.0 140.0 C1956.3 145.3 1956.5 152.8 1956.0 160.0 C1955.5 167.2 1955.8 175.5 1955.0 183.0 C1954.2 190.5 1952.0 198.0 1951.0 205.0 C1950.0 212.0 1949.0 218.3 1949.0 225.0 C1949.0 231.7 1949.5 238.3 1951.0 245.0 C1952.5 251.7 1955.8 258.3 1958.0 265.0 C1960.2 271.7 1961.7 278.3 1964.0 285.0 C1966.3 291.7 1969.3 297.5 1972.0 305.0 C1974.7 312.5 1977.8 322.2 1980.0 330.0 C1982.2 337.8 1985.3 345.0 1985.0 352.0 C1984.7 359.0 1980.8 365.7 1978.0 372.0 C1975.2 378.3 1969.0 384.5 1968.0 390.0 C1967.0 395.5 1969.5 400.3 1972.0 405.0 C1974.5 409.7 1980.8 414.7 1983.0 418.0 C1985.2 421.3 1995.5 423.8 1985.0 425.0 C1974.5 426.2 1940.5 425.0 1920.0 425.0 C1899.5 425.0 1871.8 428.3 1862.0 425.0 C1852.2 421.7 1861.7 412.0 1861.0 405.0 C1860.3 398.0 1858.5 390.2 1858.0 383.0 C1857.5 375.8 1858.8 368.3 1858.0 362.0 C1857.2 355.7 1855.0 350.3 1853.0 345.0 C1851.0 339.7 1848.0 335.0 1846.0 330.0 C1844.0 325.0 1841.7 320.0 1841.0 315.0 C1840.3 310.0 1840.7 305.3 1842.0 300.0 C1843.3 294.7 1848.3 288.0 1849.0 283.0 C1849.7 278.0 1848.2 274.2 1846.0 270.0 C1843.8 265.8 1839.0 262.3 1836.0 258.0 C1833.0 253.7 1829.0 248.7 1828.0 244.0 C1827.0 239.3 1828.3 234.3 1830.0 230.0 C1831.7 225.7 1835.8 222.2 1838.0 218.0 C1840.2 213.8 1843.3 209.3 1843.0 205.0 C1842.7 200.7 1837.8 196.2 1836.0 192.0 C1834.2 187.8 1832.0 184.3 1832.0 180.0 C1832.0 175.7 1834.0 170.7 1836.0 166.0 C1838.0 161.3 1843.7 157.0 1844.0 152.0 C1844.3 147.0 1840.7 141.0 1838.0 136.0 C1835.3 131.0 1830.8 126.7 1828.0 122.0 C1825.2 117.3 1822.3 112.5 1821.0 108.0 C1819.7 103.5 1819.5 99.0 1820.0 95.0 C1820.5 91.0 1810.7 85.8 1824.0 84.0 Z"/></clipPath>
<clipPath id="cO2"><path d="M1528.0 82.0 L1639.0 82.0 L1648.0 95.0 L1656.0 115.0 L1650.0 125.0 L1637.0 138.0 L1645.0 160.0 L1654.0 179.0 L1645.0 190.0 L1637.0 202.0 L1639.0 240.0 L1645.0 260.0 L1645.0 298.0 L1633.0 335.0 L1640.0 370.0 L1655.0 395.0 L1680.0 402.0 L1699.0 408.0 L1695.0 421.0 L1505.0 421.0 L1505.0 396.0 L1516.0 373.0 L1524.0 339.0 L1520.0 336.0 L1528.0 328.0 L1524.0 305.0 L1535.0 290.0 L1545.0 260.0 L1539.0 240.0 L1543.0 221.0 L1543.0 202.0 L1532.0 183.0 L1533.0 146.0 L1530.0 127.0 L1522.0 108.0 L1528.0 95.0 Z"/></clipPath>
<pattern id="grid3b" x="1822" y="84" width="7" height="7" patternUnits="userSpaceOnUse"><path d="M0 0 H7 M0 0 V7 M0 0 L7 7 M7 0 L0 7" stroke="#0a2f60" stroke-width="0.9" fill="none"/></pattern>
<pattern id="grid3" x="1822" y="84" width="9.5" height="9.5" patternUnits="userSpaceOnUse"><path d="M0 0 H9.5 M0 0 V9.5 M0 0 L9.5 9.5" stroke="#b8581a" stroke-width="1.3" fill="none"/></pattern>
<filter id="tMesh" x="0" y="0" width="1" height="1" color-interpolation-filters="sRGB"><feTurbulence type="turbulence" baseFrequency="0.15" numOctaves="2" seed="3" result="n"/><feColorMatrix in="n" type="matrix" result="a" values="0 0 0 0 0.9  0 0 0 0 0.47  0 0 0 0 0.15  -4 0 0 0 1.15"/><feComposite in="a" in2="SourceGraphic" operator="in"/></filter>
<filter id="tDark" x="0" y="0" width="1" height="1" color-interpolation-filters="sRGB"><feTurbulence type="fractalNoise" baseFrequency="0.035 0.012" numOctaves="2" seed="8" result="n"/><feColorMatrix in="n" type="matrix" result="a" values="0 0 0 0 0.25  0 0 0 0 0.09  0 0 0 0 0.0  2.6 0 0 0 -1.15"/><feComposite in="a" in2="SourceGraphic" operator="in"/></filter>
<filter id="tDark3" x="0" y="0" width="1" height="1" color-interpolation-filters="sRGB"><feTurbulence type="fractalNoise" baseFrequency="0.04 0.015" numOctaves="2" seed="21" result="n"/><feColorMatrix in="n" type="matrix" result="a" values="0 0 0 0 0.35  0 0 0 0 0.14  0 0 0 0 0.02  3.0 0 0 0 -1.2"/><feComposite in="a" in2="SourceGraphic" operator="in"/></filter>
<filter id="soft" x="-5%" y="-5%" width="110%" height="110%"><feGaussianBlur stdDeviation="0.45"/></filter>
</defs>
<g filter="url(#soft)">
<path d="M1366 112 L1386 106 L1390 380 L1372 390 L1352 378 L1342 330 L1352 260 L1358 200 L1360 150 Z" fill="#0b0d18"/>
<path d="M1237.0 82.0 L1366.0 82.0 L1372.0 100.0 L1372.0 115.0 L1370.0 138.0 L1359.0 157.0 L1365.0 176.0 L1361.0 195.0 L1365.0 221.0 L1355.0 232.0 L1348.0 259.0 L1350.0 298.0 L1338.0 335.0 L1336.0 373.0 L1344.0 392.0 L1359.0 418.0 L1367.0 427.0 L1227.0 427.0 L1230.0 411.0 L1237.0 400.0 L1228.0 373.0 L1230.0 358.0 L1224.0 339.0 L1233.0 317.0 L1230.0 290.0 L1243.0 268.0 L1247.0 251.0 L1248.0 232.0 L1249.0 217.0 L1243.0 195.0 L1245.0 183.0 L1247.0 146.0 L1250.0 127.0 L1245.0 108.0 Z" fill="#6a2a04"/>
<g clip-path="url(#cO1)">
<g fill="url(#go3)">
<circle cx="1258.2" cy="96.8" r="5.5"/>
<circle cx="1282.8" cy="324.6" r="4.6"/>
<circle cx="1316.1" cy="296.0" r="6.2"/>
<circle cx="1318.3" cy="96.5" r="4.8"/>
<circle cx="1355.4" cy="109.0" r="5.4"/>
<circle cx="1283.4" cy="327.6" r="4.6"/>
<circle cx="1310.1" cy="92.2" r="5.8"/>
<circle cx="1352.9" cy="109.7" r="5.0"/>
<circle cx="1246.3" cy="166.2" r="6.4"/>
<circle cx="1306.6" cy="303.1" r="4.9"/>
<circle cx="1241.1" cy="167.4" r="4.8"/>
<circle cx="1242.6" cy="368.9" r="6.2"/>
<circle cx="1289.2" cy="145.4" r="4.5"/>
<circle cx="1287.6" cy="247.8" r="5.7"/>
<circle cx="1268.8" cy="189.8" r="4.4"/>
<circle cx="1345.6" cy="141.2" r="4.9"/>
<circle cx="1280.7" cy="244.0" r="4.9"/>
<circle cx="1335.8" cy="151.7" r="4.7"/>
<circle cx="1343.6" cy="141.1" r="5.5"/>
<circle cx="1317.9" cy="354.9" r="6.2"/>
<circle cx="1269.2" cy="187.3" r="4.4"/>
<circle cx="1307.2" cy="257.6" r="4.6"/>
<circle cx="1369.2" cy="108.8" r="6.1"/>
<circle cx="1261.2" cy="96.5" r="4.3"/>
<circle cx="1318.5" cy="296.5" r="5.8"/>
<circle cx="1324.4" cy="199.1" r="5.7"/>
<circle cx="1253.8" cy="103.5" r="6.0"/>
<circle cx="1248.7" cy="371.1" r="5.6"/>
<circle cx="1260.5" cy="313.2" r="4.8"/>
<circle cx="1315.0" cy="95.8" r="5.6"/>
<circle cx="1242.7" cy="368.2" r="5.2"/>
<circle cx="1347.7" cy="117.3" r="5.7"/>
<circle cx="1344.5" cy="130.0" r="5.0"/>
<circle cx="1284.9" cy="314.4" r="5.2"/>
<circle cx="1293.0" cy="147.0" r="4.4"/>
<circle cx="1325.9" cy="260.8" r="5.4"/>
<circle cx="1277.2" cy="320.8" r="5.8"/>
<circle cx="1347.0" cy="299.2" r="4.9"/>
<circle cx="1307.7" cy="260.3" r="6.1"/>
<circle cx="1304.3" cy="297.3" r="6.0"/>
<circle cx="1328.1" cy="368.2" r="5.3"/>
<circle cx="1366.4" cy="128.7" r="5.4"/>
<circle cx="1292.1" cy="245.5" r="5.6"/>
<circle cx="1324.0" cy="302.3" r="6.0"/>
<circle cx="1268.0" cy="190.5" r="4.8"/>
<circle cx="1344.9" cy="291.5" r="5.6"/>
<circle cx="1294.8" cy="177.3" r="5.6"/>
<circle cx="1250.7" cy="367.6" r="5.3"/>
<circle cx="1339.2" cy="152.9" r="4.9"/>
<circle cx="1248.4" cy="158.7" r="4.8"/>
<circle cx="1279.1" cy="326.2" r="5.2"/>
<circle cx="1318.1" cy="263.0" r="5.2"/>
<circle cx="1326.8" cy="195.1" r="5.6"/>
<circle cx="1322.4" cy="185.5" r="5.9"/>
<circle cx="1350.9" cy="293.7" r="6.0"/>
<circle cx="1258.8" cy="100.1" r="4.9"/>
<circle cx="1266.5" cy="315.9" r="5.1"/>
<circle cx="1245.6" cy="369.4" r="6.4"/>
<circle cx="1367.0" cy="124.2" r="5.8"/>
<circle cx="1289.8" cy="318.4" r="5.4"/>
<circle cx="1322.1" cy="202.8" r="5.2"/>
<circle cx="1268.8" cy="368.7" r="5.6"/>
<circle cx="1318.6" cy="278.0" r="5.5"/>
<circle cx="1310.2" cy="287.6" r="5.2"/>
<circle cx="1289.9" cy="143.9" r="4.4"/>
<circle cx="1272.7" cy="195.3" r="4.5"/>
<circle cx="1283.8" cy="172.2" r="4.6"/>
<circle cx="1309.3" cy="94.3" r="5.9"/>
<circle cx="1313.8" cy="348.2" r="6.3"/>
<circle cx="1340.6" cy="139.9" r="5.8"/>
<circle cx="1249.0" cy="237.2" r="5.4"/>
<circle cx="1288.3" cy="318.6" r="4.5"/>
<circle cx="1303.5" cy="256.9" r="4.8"/>
<circle cx="1288.6" cy="324.7" r="4.4"/>
<circle cx="1328.1" cy="372.8" r="5.7"/>
<circle cx="1350.6" cy="223.7" r="6.2"/>
<circle cx="1283.4" cy="310.8" r="6.0"/>
<circle cx="1329.6" cy="261.1" r="5.6"/>
<circle cx="1345.7" cy="155.4" r="4.5"/>
<circle cx="1244.5" cy="252.5" r="5.4"/>
<circle cx="1320.1" cy="295.1" r="5.2"/>
<circle cx="1358.7" cy="104.2" r="4.3"/>
<circle cx="1312.0" cy="101.3" r="5.9"/>
<circle cx="1255.9" cy="94.4" r="5.4"/>
<circle cx="1316.2" cy="356.1" r="6.2"/>
<circle cx="1338.5" cy="92.0" r="4.5"/>
<circle cx="1313.2" cy="91.0" r="4.8"/>
<circle cx="1271.9" cy="317.8" r="5.4"/>
<circle cx="1315.1" cy="293.9" r="4.5"/>
<circle cx="1349.7" cy="312.0" r="4.3"/>
<circle cx="1249.6" cy="164.0" r="4.9"/>
<circle cx="1313.9" cy="220.7" r="4.3"/>
<circle cx="1319.3" cy="289.7" r="5.5"/>
<circle cx="1291.0" cy="333.7" r="5.3"/>
<circle cx="1243.8" cy="246.5" r="6.1"/>
<circle cx="1352.1" cy="398.8" r="5.1"/>
<circle cx="1355.4" cy="231.2" r="4.9"/>
<circle cx="1325.1" cy="199.3" r="5.1"/>
<circle cx="1294.3" cy="92.9" r="6.4"/>
<circle cx="1345.4" cy="152.4" r="4.8"/>
<circle cx="1347.9" cy="153.6" r="4.8"/>
<circle cx="1321.9" cy="260.9" r="5.3"/>
<circle cx="1274.1" cy="242.2" r="4.4"/>
<circle cx="1349.5" cy="155.4" r="4.6"/>
<circle cx="1285.8" cy="251.5" r="4.5"/>
<circle cx="1312.9" cy="300.3" r="5.2"/>
<circle cx="1268.5" cy="265.8" r="6.3"/>
<circle cx="1289.5" cy="146.4" r="5.5"/>
<circle cx="1336.7" cy="240.2" r="5.0"/>
<circle cx="1352.7" cy="220.9" r="5.6"/>
<circle cx="1359.1" cy="196.5" r="4.7"/>
<circle cx="1333.9" cy="387.7" r="5.7"/>
<circle cx="1368.8" cy="222.0" r="4.7"/>
<circle cx="1319.9" cy="150.9" r="6.3"/>
<circle cx="1269.8" cy="185.3" r="5.4"/>
<circle cx="1297.7" cy="316.8" r="4.9"/>
<circle cx="1285.4" cy="251.5" r="5.8"/>
<circle cx="1318.7" cy="390.9" r="4.3"/>
<circle cx="1244.9" cy="164.5" r="6.3"/>
<circle cx="1325.1" cy="350.8" r="5.0"/>
<circle cx="1277.8" cy="355.3" r="4.4"/>
<circle cx="1369.4" cy="127.5" r="4.7"/>
<circle cx="1362.6" cy="226.6" r="4.9"/>
<circle cx="1313.5" cy="259.9" r="5.0"/>
<circle cx="1364.1" cy="112.3" r="4.8"/>
<circle cx="1347.9" cy="304.2" r="5.0"/>
<circle cx="1342.5" cy="143.3" r="4.4"/>
<circle cx="1290.8" cy="178.2" r="4.6"/>
<circle cx="1256.4" cy="147.3" r="4.9"/>
<circle cx="1330.6" cy="247.4" r="6.2"/>
<circle cx="1298.4" cy="332.9" r="5.7"/>
<circle cx="1304.9" cy="257.2" r="6.2"/>
<circle cx="1364.2" cy="115.0" r="5.8"/>
<circle cx="1351.3" cy="144.2" r="5.1"/>
<circle cx="1303.1" cy="298.9" r="4.5"/>
<circle cx="1339.3" cy="383.1" r="4.6"/>
<circle cx="1332.9" cy="286.9" r="5.3"/>
<circle cx="1278.6" cy="238.2" r="6.0"/>
<circle cx="1282.1" cy="356.8" r="5.9"/>
<circle cx="1323.5" cy="296.0" r="5.9"/>
<circle cx="1336.0" cy="184.7" r="4.3"/>
<circle cx="1328.6" cy="408.4" r="4.3"/>
<circle cx="1279.7" cy="204.5" r="5.7"/>
<circle cx="1321.4" cy="261.4" r="5.3"/>
<circle cx="1363.3" cy="191.8" r="5.3"/>
<circle cx="1277.2" cy="92.1" r="4.5"/>
<circle cx="1371.8" cy="144.8" r="5.3"/>
<circle cx="1317.9" cy="158.0" r="6.3"/>
<circle cx="1320.2" cy="289.1" r="4.7"/>
<circle cx="1326.5" cy="277.0" r="6.4"/>
<circle cx="1276.0" cy="291.0" r="5.6"/>
<circle cx="1374.6" cy="128.0" r="6.0"/>
<circle cx="1349.0" cy="105.6" r="5.7"/>
<circle cx="1319.9" cy="276.8" r="4.9"/>
<circle cx="1251.0" cy="239.3" r="5.5"/>
<circle cx="1327.6" cy="165.4" r="5.6"/>
<circle cx="1287.3" cy="280.4" r="5.7"/>
<circle cx="1300.8" cy="300.9" r="6.2"/>
<circle cx="1291.3" cy="179.1" r="5.6"/>
<circle cx="1341.2" cy="147.4" r="6.0"/>
<circle cx="1359.1" cy="161.4" r="4.3"/>
<circle cx="1238.1" cy="337.6" r="5.2"/>
<circle cx="1318.9" cy="338.2" r="5.0"/>
<circle cx="1285.2" cy="92.2" r="4.4"/>
<circle cx="1284.5" cy="85.4" r="5.7"/>
<circle cx="1255.0" cy="273.8" r="4.9"/>
<circle cx="1360.6" cy="214.0" r="4.9"/>
<circle cx="1273.3" cy="245.0" r="4.4"/>
<circle cx="1288.3" cy="184.0" r="5.3"/>
<circle cx="1245.3" cy="310.4" r="5.1"/>
<circle cx="1344.9" cy="152.7" r="6.2"/>
<circle cx="1253.5" cy="269.1" r="5.4"/>
<circle cx="1230.8" cy="319.3" r="6.0"/>
<circle cx="1330.6" cy="378.8" r="5.9"/>
<circle cx="1329.8" cy="276.4" r="4.5"/>
<circle cx="1294.1" cy="311.8" r="5.5"/>
<circle cx="1337.4" cy="238.0" r="5.2"/>
<circle cx="1313.8" cy="127.1" r="6.0"/>
<circle cx="1235.9" cy="359.6" r="4.8"/>
<circle cx="1352.0" cy="307.6" r="5.1"/>
<circle cx="1246.0" cy="235.9" r="5.5"/>
<circle cx="1246.3" cy="249.6" r="5.7"/>
<circle cx="1234.5" cy="317.8" r="6.3"/>
<circle cx="1326.8" cy="376.0" r="6.4"/>
<circle cx="1237.6" cy="389.8" r="6.1"/>
<circle cx="1307.6" cy="222.4" r="5.2"/>
<circle cx="1242.5" cy="238.7" r="5.0"/>
<circle cx="1329.7" cy="182.4" r="4.6"/>
<circle cx="1326.3" cy="372.8" r="5.2"/>
<circle cx="1282.7" cy="172.8" r="6.3"/>
<circle cx="1322.7" cy="292.0" r="6.2"/>
<circle cx="1364.3" cy="218.8" r="6.3"/>
<circle cx="1329.4" cy="275.7" r="6.1"/>
<circle cx="1280.7" cy="358.7" r="4.7"/>
<circle cx="1256.0" cy="148.3" r="4.5"/>
<circle cx="1287.7" cy="89.6" r="4.6"/>
<circle cx="1326.3" cy="300.9" r="5.6"/>
<circle cx="1314.8" cy="394.9" r="5.1"/>
<circle cx="1255.0" cy="425.1" r="6.2"/>
<circle cx="1250.8" cy="180.2" r="6.1"/>
<circle cx="1266.7" cy="320.4" r="5.0"/>
<circle cx="1368.9" cy="127.8" r="4.9"/>
<circle cx="1312.6" cy="228.0" r="4.5"/>
<circle cx="1249.9" cy="260.8" r="4.3"/>
<circle cx="1236.2" cy="356.5" r="5.8"/>
<circle cx="1354.7" cy="219.0" r="5.8"/>
<circle cx="1305.5" cy="236.5" r="4.3"/>
<circle cx="1321.4" cy="165.8" r="4.5"/>
<circle cx="1318.3" cy="153.4" r="4.4"/>
<circle cx="1264.5" cy="314.4" r="6.3"/>
<circle cx="1272.9" cy="182.0" r="5.4"/>
<circle cx="1260.9" cy="145.1" r="5.9"/>
<circle cx="1355.6" cy="191.1" r="6.2"/>
<circle cx="1323.0" cy="221.2" r="4.8"/>
<circle cx="1354.1" cy="275.4" r="4.3"/>
<circle cx="1274.3" cy="298.5" r="4.4"/>
<circle cx="1293.8" cy="169.3" r="5.9"/>
<circle cx="1330.9" cy="238.2" r="5.4"/>
<circle cx="1313.2" cy="342.7" r="5.7"/>
<circle cx="1225.2" cy="330.5" r="4.4"/>
<circle cx="1353.2" cy="398.8" r="5.0"/>
<circle cx="1342.6" cy="84.2" r="4.7"/>
<circle cx="1283.0" cy="333.3" r="4.7"/>
<circle cx="1368.0" cy="121.8" r="5.1"/>
<circle cx="1310.0" cy="124.3" r="5.2"/>
<circle cx="1315.2" cy="303.2" r="4.7"/>
<circle cx="1242.1" cy="244.6" r="5.6"/>
<circle cx="1274.0" cy="372.9" r="6.2"/>
<circle cx="1290.8" cy="414.2" r="4.8"/>
<circle cx="1228.3" cy="326.2" r="4.5"/>
<circle cx="1278.1" cy="212.1" r="5.0"/>
<circle cx="1277.5" cy="290.5" r="6.3"/>
<circle cx="1342.6" cy="154.1" r="4.8"/>
<circle cx="1329.4" cy="275.6" r="5.1"/>
<circle cx="1358.5" cy="107.8" r="5.0"/>
<circle cx="1283.2" cy="85.3" r="5.4"/>
<circle cx="1248.3" cy="335.4" r="4.5"/>
<circle cx="1259.2" cy="318.8" r="5.5"/>
<circle cx="1293.8" cy="144.4" r="5.0"/>
<circle cx="1277.5" cy="242.1" r="5.6"/>
<circle cx="1328.7" cy="333.2" r="5.1"/>
<circle cx="1291.1" cy="390.7" r="4.9"/>
<circle cx="1343.0" cy="192.7" r="4.7"/>
<circle cx="1308.3" cy="241.1" r="4.8"/>
<circle cx="1244.1" cy="331.7" r="5.4"/>
<circle cx="1241.9" cy="94.7" r="6.2"/>
<circle cx="1268.4" cy="370.3" r="4.6"/>
<circle cx="1278.0" cy="319.9" r="4.3"/>
<circle cx="1229.4" cy="367.5" r="4.7"/>
<circle cx="1341.6" cy="97.0" r="4.9"/>
<circle cx="1336.2" cy="355.3" r="5.6"/>
<circle cx="1279.1" cy="322.9" r="5.5"/>
<circle cx="1332.4" cy="291.2" r="6.0"/>
<circle cx="1270.3" cy="252.1" r="4.7"/>
<circle cx="1229.8" cy="321.9" r="5.0"/>
<circle cx="1344.5" cy="150.5" r="4.8"/>
<circle cx="1343.3" cy="298.4" r="4.5"/>
<circle cx="1341.2" cy="350.2" r="4.5"/>
<circle cx="1319.2" cy="395.7" r="5.0"/>
<circle cx="1337.3" cy="371.7" r="5.4"/>
<circle cx="1286.6" cy="169.7" r="5.7"/>
<circle cx="1281.2" cy="359.9" r="6.4"/>
<circle cx="1324.9" cy="162.9" r="5.3"/>
<circle cx="1321.3" cy="231.3" r="4.9"/>
<circle cx="1311.8" cy="399.4" r="5.4"/>
<circle cx="1365.1" cy="116.5" r="5.5"/>
<circle cx="1270.8" cy="290.9" r="6.3"/>
<circle cx="1332.6" cy="408.4" r="6.1"/>
<circle cx="1344.6" cy="187.5" r="4.6"/>
<circle cx="1248.0" cy="422.6" r="5.4"/>
<circle cx="1266.6" cy="323.1" r="4.9"/>
<circle cx="1249.7" cy="394.5" r="6.3"/>
<circle cx="1262.7" cy="328.4" r="4.8"/>
<circle cx="1245.6" cy="247.0" r="6.3"/>
<circle cx="1341.6" cy="147.0" r="6.4"/>
<circle cx="1292.6" cy="279.6" r="5.5"/>
<circle cx="1330.4" cy="285.3" r="6.4"/>
<circle cx="1345.9" cy="102.0" r="6.1"/>
<circle cx="1241.6" cy="243.7" r="4.9"/>
<circle cx="1282.2" cy="355.3" r="6.0"/>
<circle cx="1335.2" cy="393.7" r="4.5"/>
<circle cx="1336.0" cy="409.8" r="6.4"/>
<circle cx="1323.4" cy="300.1" r="5.2"/>
<circle cx="1242.3" cy="305.5" r="6.4"/>
<circle cx="1303.1" cy="260.9" r="4.7"/>
<circle cx="1263.8" cy="426.9" r="6.3"/>
<circle cx="1361.4" cy="192.0" r="4.8"/>
<circle cx="1354.5" cy="139.9" r="5.5"/>
<circle cx="1310.1" cy="130.9" r="5.8"/>
<circle cx="1283.2" cy="246.9" r="4.9"/>
<circle cx="1300.5" cy="285.6" r="4.7"/>
<circle cx="1328.8" cy="338.3" r="6.3"/>
<circle cx="1350.7" cy="279.8" r="4.9"/>
<circle cx="1257.4" cy="334.9" r="6.0"/>
<circle cx="1304.2" cy="253.7" r="5.4"/>
<circle cx="1243.3" cy="338.3" r="6.0"/>
<circle cx="1291.3" cy="88.8" r="4.5"/>
<circle cx="1230.2" cy="302.5" r="5.3"/>
<circle cx="1234.9" cy="83.4" r="4.6"/>
<circle cx="1280.7" cy="201.9" r="5.0"/>
<circle cx="1279.6" cy="314.6" r="6.1"/>
<circle cx="1314.3" cy="222.3" r="5.4"/>
<circle cx="1324.2" cy="424.2" r="4.4"/>
<circle cx="1313.7" cy="127.1" r="6.2"/>
<circle cx="1281.6" cy="323.1" r="5.7"/>
<circle cx="1310.0" cy="237.6" r="6.4"/>
<circle cx="1298.2" cy="86.6" r="4.6"/>
<circle cx="1293.1" cy="175.7" r="5.0"/>
<circle cx="1364.5" cy="187.3" r="5.9"/>
<circle cx="1354.1" cy="229.8" r="4.4"/>
<circle cx="1249.5" cy="369.6" r="4.4"/>
<circle cx="1272.9" cy="239.5" r="5.0"/>
<circle cx="1347.3" cy="291.8" r="5.8"/>
<circle cx="1329.3" cy="154.5" r="4.8"/>
<circle cx="1234.7" cy="315.5" r="4.5"/>
<circle cx="1354.2" cy="293.2" r="4.4"/>
<circle cx="1286.8" cy="171.0" r="5.5"/>
<circle cx="1314.1" cy="184.9" r="5.9"/>
<circle cx="1326.4" cy="167.3" r="5.4"/>
<circle cx="1237.0" cy="365.5" r="6.2"/>
<circle cx="1255.4" cy="328.8" r="6.3"/>
<circle cx="1257.8" cy="166.9" r="5.1"/>
<circle cx="1327.9" cy="396.1" r="4.5"/>
<circle cx="1303.4" cy="224.8" r="4.6"/>
<circle cx="1315.2" cy="223.7" r="6.1"/>
<circle cx="1283.6" cy="389.6" r="6.1"/>
<circle cx="1321.9" cy="395.0" r="5.7"/>
</g>
<g fill="url(#go2)">
<circle cx="1306.7" cy="228.7" r="6.1"/>
</g>
<g fill="url(#go3)">
<circle cx="1343.4" cy="150.3" r="4.9"/>
</g>
<g fill="url(#go2)">
<circle cx="1327.4" cy="192.6" r="6.2"/>
<circle cx="1259.2" cy="414.1" r="6.1"/>
<circle cx="1297.3" cy="94.0" r="4.3"/>
<circle cx="1269.5" cy="411.1" r="4.8"/>
</g>
<g fill="url(#go3)">
<circle cx="1242.9" cy="92.0" r="5.5"/>
</g>
<g fill="url(#go2)">
<circle cx="1246.0" cy="261.5" r="5.1"/>
<circle cx="1331.3" cy="269.5" r="6.1"/>
<circle cx="1296.0" cy="288.7" r="4.7"/>
<circle cx="1260.7" cy="145.7" r="5.7"/>
<circle cx="1350.1" cy="401.9" r="4.6"/>
<circle cx="1282.3" cy="177.1" r="5.9"/>
</g>
<g fill="url(#go3)">
<circle cx="1240.5" cy="389.2" r="4.9"/>
</g>
<g fill="url(#go2)">
<circle cx="1257.5" cy="320.1" r="5.7"/>
</g>
<g fill="url(#go3)">
<circle cx="1244.1" cy="338.0" r="6.1"/>
</g>
<g fill="url(#go2)">
<circle cx="1278.5" cy="315.4" r="4.9"/>
</g>
<g fill="url(#go3)">
<circle cx="1350.2" cy="228.1" r="4.8"/>
</g>
<g fill="url(#go2)">
<circle cx="1251.9" cy="220.2" r="6.3"/>
<circle cx="1268.3" cy="85.7" r="4.7"/>
<circle cx="1283.8" cy="363.1" r="5.3"/>
</g>
<g fill="url(#go3)">
<circle cx="1242.1" cy="314.9" r="6.4"/>
</g>
<g fill="url(#go2)">
<circle cx="1343.0" cy="395.3" r="5.3"/>
<circle cx="1369.3" cy="108.1" r="5.3"/>
<circle cx="1276.3" cy="308.9" r="5.9"/>
<circle cx="1340.4" cy="86.3" r="4.4"/>
</g>
<g fill="url(#go3)">
<circle cx="1344.4" cy="143.4" r="5.6"/>
</g>
<g fill="url(#go2)">
<circle cx="1292.0" cy="338.4" r="6.2"/>
<circle cx="1301.2" cy="252.8" r="5.4"/>
</g>
<g fill="url(#go3)">
<circle cx="1349.3" cy="225.7" r="5.2"/>
</g>
<g fill="url(#go2)">
<circle cx="1330.1" cy="273.4" r="5.9"/>
<circle cx="1289.9" cy="418.4" r="5.7"/>
<circle cx="1323.2" cy="189.2" r="5.0"/>
<circle cx="1321.2" cy="353.9" r="5.0"/>
</g>
<g fill="url(#go3)">
<circle cx="1242.0" cy="250.0" r="4.6"/>
</g>
<g fill="url(#go2)">
<circle cx="1293.1" cy="143.7" r="5.1"/>
<circle cx="1315.6" cy="338.2" r="5.9"/>
<circle cx="1288.0" cy="275.6" r="5.5"/>
</g>
<g fill="url(#go3)">
<circle cx="1352.1" cy="292.4" r="5.0"/>
<circle cx="1350.5" cy="289.4" r="4.7"/>
<circle cx="1348.8" cy="189.2" r="4.4"/>
<circle cx="1349.8" cy="297.4" r="4.7"/>
</g>
<g fill="url(#go2)">
<circle cx="1329.0" cy="411.5" r="5.0"/>
<circle cx="1271.2" cy="356.3" r="5.4"/>
<circle cx="1325.1" cy="278.5" r="5.0"/>
</g>
<g fill="url(#go3)">
<circle cx="1241.2" cy="306.2" r="6.1"/>
<circle cx="1347.6" cy="189.0" r="5.0"/>
</g>
<g fill="url(#go2)">
<circle cx="1278.9" cy="259.8" r="4.5"/>
</g>
<g fill="url(#go3)">
<circle cx="1336.1" cy="162.5" r="6.2"/>
<circle cx="1238.4" cy="335.0" r="4.5"/>
</g>
<g fill="url(#go2)">
<circle cx="1304.5" cy="292.1" r="4.8"/>
</g>
<g fill="url(#go3)">
<circle cx="1353.5" cy="289.2" r="6.0"/>
</g>
<g fill="url(#go2)">
<circle cx="1328.9" cy="276.8" r="4.7"/>
<circle cx="1322.0" cy="157.9" r="5.0"/>
</g>
<g fill="url(#go3)">
<circle cx="1355.0" cy="282.4" r="6.2"/>
</g>
<g fill="url(#go2)">
<circle cx="1277.5" cy="349.7" r="5.6"/>
<circle cx="1265.4" cy="325.1" r="6.4"/>
<circle cx="1297.3" cy="289.2" r="5.7"/>
<circle cx="1249.4" cy="408.4" r="4.8"/>
<circle cx="1288.7" cy="358.9" r="4.4"/>
<circle cx="1265.4" cy="369.0" r="6.2"/>
<circle cx="1289.8" cy="184.5" r="5.1"/>
<circle cx="1316.5" cy="356.0" r="6.4"/>
<circle cx="1251.1" cy="330.9" r="6.0"/>
<circle cx="1326.2" cy="422.3" r="5.1"/>
<circle cx="1316.8" cy="346.0" r="6.2"/>
</g>
<g fill="url(#go3)">
<circle cx="1349.0" cy="300.8" r="4.7"/>
</g>
<g fill="url(#go2)">
<circle cx="1265.1" cy="140.8" r="5.4"/>
<circle cx="1308.3" cy="224.5" r="5.4"/>
<circle cx="1249.6" cy="407.5" r="5.4"/>
</g>
<g fill="url(#go3)">
<circle cx="1350.8" cy="225.5" r="5.4"/>
</g>
<g fill="url(#go2)">
<circle cx="1276.6" cy="225.0" r="5.6"/>
<circle cx="1339.5" cy="348.7" r="5.5"/>
<circle cx="1351.8" cy="113.0" r="6.4"/>
</g>
<g fill="url(#go3)">
<circle cx="1238.2" cy="390.5" r="4.8"/>
</g>
<g fill="url(#go2)">
<circle cx="1355.3" cy="110.2" r="4.4"/>
<circle cx="1271.9" cy="248.5" r="6.3"/>
</g>
<g fill="url(#go3)">
<circle cx="1364.3" cy="200.5" r="5.3"/>
</g>
<g fill="url(#go2)">
<circle cx="1288.0" cy="387.0" r="6.3"/>
<circle cx="1254.7" cy="420.7" r="6.4"/>
<circle cx="1306.0" cy="260.5" r="6.3"/>
</g>
<g fill="url(#go3)">
<circle cx="1346.8" cy="229.1" r="6.2"/>
</g>
<g fill="url(#go2)">
<circle cx="1275.1" cy="221.8" r="5.3"/>
<circle cx="1305.5" cy="235.4" r="4.9"/>
<circle cx="1325.8" cy="197.7" r="4.5"/>
<circle cx="1342.7" cy="91.8" r="5.3"/>
<circle cx="1322.6" cy="164.2" r="6.2"/>
<circle cx="1276.6" cy="300.4" r="4.6"/>
<circle cx="1282.3" cy="310.8" r="5.1"/>
<circle cx="1272.8" cy="224.4" r="5.3"/>
<circle cx="1294.6" cy="331.0" r="4.6"/>
</g>
<g fill="url(#go3)">
<circle cx="1240.7" cy="165.9" r="4.6"/>
</g>
<g fill="url(#go2)">
<circle cx="1283.7" cy="362.4" r="5.3"/>
</g>
<g fill="url(#go3)">
<circle cx="1336.7" cy="237.2" r="4.7"/>
</g>
<g fill="url(#go2)">
<circle cx="1257.4" cy="333.3" r="6.3"/>
<circle cx="1315.3" cy="393.4" r="6.0"/>
<circle cx="1248.4" cy="223.1" r="4.6"/>
<circle cx="1318.9" cy="288.2" r="5.4"/>
</g>
<g fill="url(#go3)">
<circle cx="1240.9" cy="389.5" r="5.0"/>
</g>
<g fill="url(#go2)">
<circle cx="1299.5" cy="413.2" r="5.1"/>
<circle cx="1273.7" cy="221.4" r="5.5"/>
<circle cx="1308.6" cy="254.3" r="5.2"/>
</g>
<g fill="url(#go3)">
<circle cx="1359.6" cy="207.3" r="6.2"/>
<circle cx="1343.0" cy="151.3" r="4.8"/>
</g>
<g fill="url(#go2)">
<circle cx="1326.5" cy="289.1" r="6.3"/>
<circle cx="1292.0" cy="120.3" r="5.6"/>
<circle cx="1317.3" cy="360.2" r="6.4"/>
<circle cx="1322.6" cy="419.6" r="5.5"/>
<circle cx="1307.3" cy="295.3" r="5.7"/>
<circle cx="1318.3" cy="349.5" r="4.4"/>
</g>
<g fill="url(#go3)">
<circle cx="1364.4" cy="148.2" r="4.5"/>
</g>
<g fill="url(#go2)">
<circle cx="1274.0" cy="205.6" r="4.6"/>
<circle cx="1255.3" cy="422.6" r="6.0"/>
</g>
<g fill="url(#go3)">
<circle cx="1239.3" cy="380.5" r="5.7"/>
</g>
<g fill="url(#go2)">
<circle cx="1257.2" cy="223.8" r="6.3"/>
<circle cx="1323.0" cy="424.3" r="5.6"/>
<circle cx="1290.8" cy="347.3" r="5.7"/>
</g>
<g fill="url(#go3)">
<circle cx="1335.7" cy="239.1" r="6.2"/>
</g>
<g fill="url(#go2)">
<circle cx="1267.9" cy="320.1" r="5.7"/>
<circle cx="1254.9" cy="391.5" r="4.8"/>
</g>
<g fill="url(#go3)">
<circle cx="1240.8" cy="399.3" r="4.5"/>
</g>
<g fill="url(#go2)">
<circle cx="1270.8" cy="221.3" r="6.2"/>
<circle cx="1306.3" cy="120.8" r="4.5"/>
</g>
<g fill="url(#go3)">
<circle cx="1344.7" cy="288.6" r="6.1"/>
</g>
<g fill="url(#go2)">
<circle cx="1346.7" cy="130.7" r="4.8"/>
<circle cx="1323.3" cy="276.6" r="4.9"/>
<circle cx="1330.5" cy="271.2" r="4.5"/>
<circle cx="1277.7" cy="388.2" r="6.1"/>
</g>
<g fill="url(#go3)">
<circle cx="1340.9" cy="288.0" r="5.8"/>
</g>
<g fill="url(#go2)">
<circle cx="1328.6" cy="184.0" r="5.4"/>
</g>
<g fill="url(#go3)">
<circle cx="1346.1" cy="230.2" r="4.8"/>
</g>
<g fill="url(#go2)">
<circle cx="1337.9" cy="390.9" r="5.0"/>
<circle cx="1315.6" cy="225.5" r="4.9"/>
<circle cx="1306.8" cy="228.9" r="5.9"/>
</g>
<g fill="url(#go3)">
<circle cx="1347.7" cy="236.8" r="5.4"/>
</g>
<g fill="url(#go2)">
<circle cx="1316.2" cy="400.6" r="5.6"/>
<circle cx="1294.5" cy="339.5" r="5.3"/>
</g>
<g fill="url(#go3)">
<circle cx="1239.7" cy="425.9" r="5.2"/>
</g>
<g fill="url(#go2)">
<circle cx="1344.0" cy="395.2" r="6.3"/>
<circle cx="1330.3" cy="348.9" r="6.2"/>
<circle cx="1328.9" cy="332.6" r="5.1"/>
</g>
<g fill="url(#go3)">
<circle cx="1368.5" cy="222.3" r="6.1"/>
</g>
<g fill="url(#go2)">
<circle cx="1310.7" cy="220.1" r="6.3"/>
<circle cx="1252.5" cy="171.8" r="6.1"/>
<circle cx="1288.2" cy="417.3" r="5.5"/>
<circle cx="1323.9" cy="398.6" r="5.7"/>
<circle cx="1299.1" cy="240.6" r="6.1"/>
<circle cx="1247.1" cy="311.2" r="6.1"/>
<circle cx="1322.0" cy="426.4" r="5.7"/>
<circle cx="1284.1" cy="320.4" r="5.4"/>
<circle cx="1264.0" cy="271.5" r="5.6"/>
<circle cx="1278.2" cy="242.3" r="5.1"/>
<circle cx="1281.5" cy="314.0" r="4.3"/>
<circle cx="1302.8" cy="300.1" r="4.8"/>
</g>
<g fill="url(#go3)">
<circle cx="1244.0" cy="221.4" r="6.0"/>
</g>
<g fill="url(#go2)">
<circle cx="1294.4" cy="228.2" r="5.4"/>
</g>
<g fill="url(#go3)">
<circle cx="1341.2" cy="329.6" r="6.1"/>
</g>
<g fill="url(#go2)">
<circle cx="1269.6" cy="423.7" r="5.4"/>
<circle cx="1314.7" cy="182.5" r="4.9"/>
</g>
<g fill="url(#go3)">
<circle cx="1350.0" cy="295.4" r="4.9"/>
</g>
<g fill="url(#go2)">
<circle cx="1264.3" cy="260.3" r="6.4"/>
</g>
<g fill="url(#go3)">
<circle cx="1346.6" cy="308.8" r="4.9"/>
<circle cx="1231.9" cy="308.6" r="4.5"/>
<circle cx="1343.0" cy="141.7" r="5.1"/>
</g>
<g fill="url(#go2)">
<circle cx="1299.9" cy="255.0" r="5.9"/>
<circle cx="1247.4" cy="87.7" r="5.2"/>
<circle cx="1272.6" cy="241.3" r="5.5"/>
<circle cx="1277.1" cy="236.6" r="5.7"/>
<circle cx="1336.0" cy="390.7" r="6.1"/>
<circle cx="1304.8" cy="232.4" r="5.3"/>
</g>
<g fill="url(#go3)">
<circle cx="1353.4" cy="283.5" r="6.1"/>
</g>
<g fill="url(#go2)">
<circle cx="1258.6" cy="220.1" r="4.6"/>
<circle cx="1246.7" cy="335.4" r="5.7"/>
</g>
<g fill="url(#go3)">
<circle cx="1241.5" cy="410.1" r="5.5"/>
</g>
<g fill="url(#go2)">
<circle cx="1304.4" cy="250.7" r="4.6"/>
<circle cx="1258.1" cy="213.0" r="6.2"/>
</g>
<g fill="url(#go3)">
<circle cx="1241.5" cy="311.5" r="5.3"/>
</g>
<g fill="url(#go2)">
<circle cx="1246.3" cy="181.2" r="4.4"/>
<circle cx="1302.4" cy="288.5" r="6.3"/>
</g>
<g fill="url(#go3)">
<circle cx="1361.1" cy="225.9" r="5.0"/>
</g>
<g fill="url(#go2)">
<circle cx="1337.1" cy="408.3" r="5.0"/>
<circle cx="1321.9" cy="160.9" r="4.8"/>
</g>
<g fill="url(#go3)">
<circle cx="1344.5" cy="223.8" r="5.7"/>
</g>
<g fill="url(#go2)">
<circle cx="1281.4" cy="398.1" r="6.4"/>
<circle cx="1327.5" cy="334.7" r="5.4"/>
</g>
<g fill="url(#go3)">
<circle cx="1234.7" cy="390.6" r="4.5"/>
<circle cx="1353.3" cy="278.0" r="5.2"/>
</g>
<g fill="url(#go2)">
<circle cx="1275.8" cy="394.8" r="5.8"/>
<circle cx="1261.8" cy="398.7" r="6.0"/>
</g>
<g fill="url(#go3)">
<circle cx="1354.1" cy="289.5" r="5.4"/>
</g>
<g fill="url(#go2)">
<circle cx="1280.3" cy="389.0" r="6.4"/>
<circle cx="1318.6" cy="241.5" r="4.9"/>
<circle cx="1313.3" cy="183.8" r="6.4"/>
</g>
<g fill="url(#go3)">
<circle cx="1236.4" cy="338.7" r="4.6"/>
<circle cx="1237.8" cy="330.1" r="4.9"/>
</g>
<g fill="url(#go2)">
<circle cx="1330.3" cy="187.5" r="4.7"/>
<circle cx="1296.8" cy="283.5" r="5.3"/>
<circle cx="1325.2" cy="299.2" r="5.1"/>
</g>
<g fill="url(#go3)">
<circle cx="1342.0" cy="221.4" r="6.2"/>
</g>
<g fill="url(#go2)">
<circle cx="1249.5" cy="401.1" r="5.9"/>
<circle cx="1267.8" cy="107.9" r="5.3"/>
<circle cx="1316.4" cy="344.8" r="6.3"/>
</g>
<g fill="url(#go3)">
<circle cx="1235.0" cy="391.9" r="4.8"/>
</g>
<g fill="url(#go2)">
<circle cx="1283.3" cy="166.1" r="5.9"/>
<circle cx="1272.2" cy="241.9" r="6.4"/>
<circle cx="1283.4" cy="376.1" r="5.0"/>
<circle cx="1333.7" cy="272.8" r="5.1"/>
<circle cx="1310.6" cy="241.8" r="4.9"/>
<circle cx="1275.6" cy="232.1" r="4.3"/>
</g>
<g fill="url(#go3)">
<circle cx="1242.2" cy="399.6" r="5.2"/>
</g>
<g fill="url(#go2)">
<circle cx="1292.7" cy="406.6" r="6.0"/>
<circle cx="1349.7" cy="399.2" r="4.7"/>
</g>
<g fill="url(#go3)">
<circle cx="1236.1" cy="299.3" r="4.8"/>
<circle cx="1230.9" cy="314.2" r="4.7"/>
</g>
<g fill="url(#go2)">
<circle cx="1264.6" cy="372.2" r="4.7"/>
<circle cx="1267.3" cy="258.9" r="5.1"/>
<circle cx="1308.3" cy="241.0" r="4.8"/>
<circle cx="1301.1" cy="400.5" r="5.0"/>
<circle cx="1306.5" cy="266.2" r="5.5"/>
<circle cx="1267.1" cy="370.2" r="6.3"/>
<circle cx="1348.7" cy="414.4" r="5.9"/>
<circle cx="1326.0" cy="291.7" r="4.8"/>
<circle cx="1315.0" cy="147.8" r="6.1"/>
<circle cx="1251.7" cy="408.4" r="6.1"/>
<circle cx="1274.3" cy="224.1" r="4.6"/>
</g>
<g fill="url(#go3)">
<circle cx="1361.3" cy="218.5" r="5.9"/>
</g>
<g fill="url(#go2)">
<circle cx="1347.3" cy="389.8" r="5.0"/>
<circle cx="1320.3" cy="148.3" r="5.1"/>
<circle cx="1348.8" cy="388.4" r="5.6"/>
</g>
<g fill="url(#go3)">
<circle cx="1347.8" cy="303.9" r="6.4"/>
</g>
<g fill="url(#go2)">
<circle cx="1285.1" cy="387.0" r="6.3"/>
</g>
<g fill="url(#go3)">
<circle cx="1339.6" cy="287.0" r="5.4"/>
<circle cx="1342.4" cy="225.8" r="5.7"/>
</g>
<g fill="url(#go2)">
<circle cx="1286.8" cy="417.2" r="5.7"/>
</g>
<g fill="url(#go3)">
<circle cx="1351.2" cy="300.3" r="6.1"/>
</g>
<g fill="url(#go2)">
<circle cx="1264.1" cy="264.3" r="5.2"/>
<circle cx="1252.4" cy="177.3" r="5.5"/>
<circle cx="1285.4" cy="311.3" r="5.9"/>
<circle cx="1286.0" cy="319.0" r="4.3"/>
<circle cx="1281.9" cy="90.0" r="5.1"/>
<circle cx="1261.2" cy="336.0" r="4.6"/>
<circle cx="1300.4" cy="269.0" r="4.9"/>
</g>
<g fill="url(#go3)">
<circle cx="1349.7" cy="291.1" r="5.8"/>
<circle cx="1243.0" cy="234.1" r="5.2"/>
</g>
<g fill="url(#go2)">
<circle cx="1248.9" cy="342.9" r="5.7"/>
<circle cx="1328.5" cy="105.2" r="5.3"/>
</g>
<g fill="url(#go3)">
<circle cx="1244.6" cy="168.6" r="4.8"/>
</g>
<g fill="url(#go2)">
<circle cx="1274.2" cy="250.4" r="5.8"/>
<circle cx="1249.5" cy="336.0" r="6.1"/>
<circle cx="1294.3" cy="417.6" r="5.9"/>
<circle cx="1247.3" cy="260.1" r="5.9"/>
<circle cx="1275.6" cy="268.7" r="4.5"/>
<circle cx="1280.6" cy="389.8" r="4.4"/>
<circle cx="1333.8" cy="409.7" r="5.1"/>
<circle cx="1277.3" cy="398.2" r="4.5"/>
<circle cx="1275.6" cy="356.9" r="5.6"/>
<circle cx="1309.3" cy="273.3" r="6.2"/>
<circle cx="1324.2" cy="279.1" r="4.6"/>
<circle cx="1240.8" cy="370.1" r="4.7"/>
<circle cx="1264.6" cy="221.8" r="5.7"/>
</g>
<g fill="url(#go3)">
<circle cx="1361.3" cy="220.5" r="5.6"/>
</g>
<g fill="url(#go2)">
<circle cx="1249.9" cy="160.4" r="6.3"/>
<circle cx="1332.0" cy="405.1" r="4.6"/>
</g>
<g fill="url(#go3)">
<circle cx="1348.3" cy="180.6" r="4.6"/>
</g>
<g fill="url(#go2)">
<circle cx="1278.2" cy="223.1" r="5.3"/>
<circle cx="1352.4" cy="85.9" r="5.4"/>
<circle cx="1285.3" cy="278.2" r="5.9"/>
<circle cx="1269.8" cy="242.2" r="4.5"/>
<circle cx="1275.5" cy="253.5" r="4.9"/>
<circle cx="1286.2" cy="140.8" r="6.0"/>
<circle cx="1303.5" cy="280.0" r="5.5"/>
<circle cx="1287.6" cy="163.8" r="4.5"/>
<circle cx="1278.3" cy="243.5" r="4.6"/>
<circle cx="1256.1" cy="331.8" r="5.9"/>
<circle cx="1263.3" cy="146.2" r="4.4"/>
<circle cx="1312.0" cy="132.6" r="5.1"/>
<circle cx="1287.2" cy="92.4" r="5.1"/>
<circle cx="1324.5" cy="238.3" r="4.7"/>
<circle cx="1253.2" cy="166.8" r="6.1"/>
<circle cx="1243.6" cy="212.6" r="5.9"/>
<circle cx="1310.2" cy="188.3" r="6.2"/>
<circle cx="1307.9" cy="265.3" r="4.5"/>
<circle cx="1331.2" cy="408.6" r="4.8"/>
<circle cx="1243.3" cy="325.6" r="5.9"/>
<circle cx="1265.5" cy="263.1" r="5.6"/>
<circle cx="1241.4" cy="87.2" r="5.8"/>
<circle cx="1309.1" cy="236.8" r="4.9"/>
<circle cx="1334.6" cy="277.2" r="6.4"/>
<circle cx="1343.4" cy="110.3" r="4.5"/>
<circle cx="1251.7" cy="134.2" r="5.6"/>
<circle cx="1290.9" cy="359.8" r="5.1"/>
<circle cx="1239.0" cy="314.4" r="6.1"/>
<circle cx="1253.7" cy="127.0" r="4.3"/>
<circle cx="1312.9" cy="149.8" r="5.1"/>
<circle cx="1247.2" cy="132.1" r="4.4"/>
</g>
<g fill="url(#go3)">
<circle cx="1353.5" cy="281.8" r="5.7"/>
<circle cx="1355.3" cy="277.8" r="5.2"/>
</g>
<g fill="url(#go2)">
<circle cx="1243.6" cy="183.0" r="6.1"/>
<circle cx="1325.1" cy="273.4" r="5.2"/>
</g>
<g fill="url(#go3)">
<circle cx="1355.9" cy="219.0" r="6.2"/>
</g>
<g fill="url(#go2)">
<circle cx="1263.4" cy="112.4" r="5.3"/>
<circle cx="1344.2" cy="105.5" r="4.8"/>
<circle cx="1310.5" cy="123.7" r="5.1"/>
</g>
<g fill="url(#go3)">
<circle cx="1339.3" cy="281.4" r="5.4"/>
</g>
<g fill="url(#go2)">
<circle cx="1334.4" cy="226.4" r="4.6"/>
<circle cx="1341.9" cy="126.4" r="5.0"/>
<circle cx="1341.6" cy="408.4" r="5.1"/>
<circle cx="1276.8" cy="89.4" r="5.1"/>
<circle cx="1252.2" cy="393.3" r="5.2"/>
<circle cx="1244.5" cy="347.3" r="4.8"/>
<circle cx="1260.2" cy="388.7" r="6.0"/>
<circle cx="1287.4" cy="174.8" r="6.2"/>
<circle cx="1286.0" cy="371.9" r="4.8"/>
<circle cx="1267.2" cy="398.2" r="5.6"/>
<circle cx="1292.2" cy="194.9" r="5.1"/>
<circle cx="1308.5" cy="238.1" r="4.8"/>
<circle cx="1279.0" cy="327.5" r="5.0"/>
<circle cx="1261.9" cy="220.5" r="6.1"/>
<circle cx="1251.4" cy="336.3" r="5.0"/>
<circle cx="1279.6" cy="390.0" r="6.2"/>
<circle cx="1254.9" cy="325.7" r="5.4"/>
<circle cx="1269.9" cy="385.6" r="6.0"/>
<circle cx="1269.6" cy="271.4" r="6.3"/>
</g>
<g fill="url(#go3)">
<circle cx="1351.6" cy="284.5" r="5.2"/>
</g>
<g fill="url(#go2)">
<circle cx="1282.2" cy="355.6" r="5.3"/>
<circle cx="1245.1" cy="354.2" r="6.2"/>
<circle cx="1246.6" cy="266.5" r="4.7"/>
<circle cx="1284.8" cy="388.1" r="4.8"/>
<circle cx="1268.5" cy="410.6" r="5.8"/>
<circle cx="1268.2" cy="272.8" r="6.0"/>
<circle cx="1274.4" cy="208.3" r="4.7"/>
<circle cx="1269.3" cy="320.2" r="4.4"/>
<circle cx="1256.2" cy="390.7" r="5.2"/>
</g>
<g fill="url(#go3)">
<circle cx="1347.3" cy="144.4" r="4.4"/>
<circle cx="1344.9" cy="323.8" r="4.7"/>
</g>
<g fill="url(#go2)">
<circle cx="1260.8" cy="226.1" r="5.8"/>
<circle cx="1343.1" cy="351.7" r="5.1"/>
<circle cx="1262.0" cy="267.1" r="5.7"/>
<circle cx="1310.2" cy="356.9" r="5.7"/>
<circle cx="1289.2" cy="125.6" r="6.3"/>
<circle cx="1232.3" cy="367.5" r="5.1"/>
<circle cx="1333.5" cy="282.5" r="6.2"/>
<circle cx="1316.0" cy="255.2" r="5.7"/>
<circle cx="1229.6" cy="412.5" r="6.0"/>
<circle cx="1276.2" cy="391.8" r="4.9"/>
<circle cx="1255.4" cy="93.7" r="6.4"/>
<circle cx="1328.1" cy="256.0" r="4.8"/>
<circle cx="1237.6" cy="362.5" r="5.2"/>
<circle cx="1306.3" cy="296.6" r="4.6"/>
<circle cx="1307.4" cy="349.0" r="4.6"/>
<circle cx="1323.8" cy="247.9" r="5.7"/>
<circle cx="1353.8" cy="106.2" r="5.7"/>
<circle cx="1252.7" cy="174.3" r="4.5"/>
<circle cx="1271.3" cy="265.2" r="6.2"/>
</g>
<g fill="url(#go3)">
<circle cx="1341.8" cy="298.5" r="5.5"/>
</g>
<g fill="url(#go2)">
<circle cx="1243.2" cy="286.4" r="5.0"/>
<circle cx="1327.1" cy="186.3" r="5.3"/>
</g>
<g fill="url(#go3)">
<circle cx="1351.2" cy="223.0" r="4.5"/>
</g>
<g fill="url(#go2)">
<circle cx="1324.7" cy="270.7" r="5.8"/>
<circle cx="1325.3" cy="150.6" r="5.4"/>
<circle cx="1258.7" cy="97.1" r="5.4"/>
<circle cx="1274.2" cy="266.8" r="5.1"/>
<circle cx="1300.2" cy="406.7" r="5.4"/>
<circle cx="1261.5" cy="272.1" r="5.9"/>
<circle cx="1322.4" cy="185.2" r="5.5"/>
<circle cx="1271.9" cy="274.4" r="6.4"/>
<circle cx="1307.0" cy="263.2" r="6.1"/>
<circle cx="1254.4" cy="87.1" r="6.1"/>
</g>
<g fill="url(#go3)">
<circle cx="1354.6" cy="286.7" r="5.0"/>
</g>
<g fill="url(#go2)">
<circle cx="1347.0" cy="108.4" r="5.8"/>
<circle cx="1252.4" cy="334.3" r="5.8"/>
<circle cx="1251.7" cy="380.6" r="4.4"/>
</g>
<g fill="url(#go3)">
<circle cx="1352.5" cy="225.1" r="5.0"/>
</g>
<g fill="url(#go2)">
<circle cx="1325.6" cy="394.2" r="5.4"/>
<circle cx="1268.2" cy="213.5" r="6.0"/>
<circle cx="1298.7" cy="247.6" r="5.0"/>
<circle cx="1242.2" cy="120.0" r="4.6"/>
<circle cx="1244.7" cy="103.0" r="4.4"/>
<circle cx="1267.9" cy="394.4" r="4.4"/>
<circle cx="1325.5" cy="410.5" r="6.3"/>
<circle cx="1255.3" cy="404.5" r="4.5"/>
<circle cx="1264.5" cy="151.4" r="5.4"/>
<circle cx="1243.4" cy="116.8" r="4.7"/>
<circle cx="1234.9" cy="410.0" r="4.4"/>
<circle cx="1285.2" cy="348.4" r="5.5"/>
<circle cx="1314.1" cy="219.0" r="5.3"/>
<circle cx="1289.5" cy="211.6" r="6.0"/>
</g>
<g fill="url(#go3)">
<circle cx="1348.5" cy="227.1" r="4.9"/>
</g>
<g fill="url(#go2)">
<circle cx="1306.0" cy="275.3" r="4.5"/>
<circle cx="1252.2" cy="393.6" r="5.6"/>
</g>
<g fill="url(#go3)">
<circle cx="1346.9" cy="284.7" r="4.8"/>
</g>
<g fill="url(#go2)">
<circle cx="1338.4" cy="111.4" r="4.4"/>
<circle cx="1288.8" cy="393.0" r="5.7"/>
<circle cx="1274.7" cy="258.7" r="6.4"/>
<circle cx="1298.2" cy="405.2" r="4.4"/>
<circle cx="1345.6" cy="128.1" r="6.1"/>
<circle cx="1247.5" cy="139.7" r="5.3"/>
<circle cx="1259.8" cy="103.8" r="4.8"/>
<circle cx="1286.8" cy="358.3" r="6.1"/>
<circle cx="1249.9" cy="331.9" r="6.1"/>
<circle cx="1309.8" cy="301.6" r="6.2"/>
<circle cx="1322.0" cy="249.2" r="4.6"/>
<circle cx="1261.3" cy="328.8" r="5.7"/>
<circle cx="1279.8" cy="363.1" r="6.1"/>
<circle cx="1309.8" cy="238.5" r="5.4"/>
<circle cx="1304.3" cy="262.1" r="4.7"/>
<circle cx="1284.8" cy="385.3" r="4.4"/>
<circle cx="1323.0" cy="290.2" r="5.3"/>
</g>
<g fill="url(#go3)">
<circle cx="1346.8" cy="282.0" r="5.1"/>
</g>
<g fill="url(#go2)">
<circle cx="1285.9" cy="168.9" r="4.8"/>
<circle cx="1229.8" cy="359.3" r="4.4"/>
<circle cx="1265.5" cy="251.4" r="6.1"/>
<circle cx="1310.8" cy="190.9" r="5.8"/>
<circle cx="1321.9" cy="250.9" r="5.9"/>
</g>
<g fill="url(#go3)">
<circle cx="1349.6" cy="231.0" r="5.7"/>
</g>
<g fill="url(#go2)">
<circle cx="1288.9" cy="369.8" r="4.7"/>
<circle cx="1304.5" cy="138.5" r="5.8"/>
<circle cx="1285.6" cy="325.6" r="6.2"/>
<circle cx="1300.3" cy="226.4" r="5.7"/>
<circle cx="1243.1" cy="226.1" r="6.1"/>
<circle cx="1269.8" cy="203.5" r="6.2"/>
<circle cx="1344.4" cy="110.4" r="5.5"/>
<circle cx="1235.8" cy="89.8" r="6.0"/>
<circle cx="1298.3" cy="112.8" r="4.6"/>
<circle cx="1322.9" cy="150.3" r="5.6"/>
<circle cx="1344.5" cy="99.4" r="4.7"/>
<circle cx="1241.6" cy="418.9" r="5.9"/>
<circle cx="1304.9" cy="260.2" r="5.2"/>
<circle cx="1256.0" cy="99.3" r="5.5"/>
</g>
<g fill="url(#go3)">
<circle cx="1351.0" cy="273.2" r="5.3"/>
<circle cx="1343.8" cy="193.8" r="4.3"/>
</g>
<g fill="url(#go2)">
<circle cx="1261.9" cy="421.3" r="6.4"/>
</g>
<g fill="url(#go3)">
<circle cx="1347.1" cy="228.2" r="5.4"/>
</g>
<g fill="url(#go2)">
<circle cx="1270.5" cy="298.0" r="5.7"/>
<circle cx="1275.8" cy="195.7" r="4.6"/>
<circle cx="1281.1" cy="264.8" r="6.0"/>
<circle cx="1337.8" cy="128.4" r="5.5"/>
<circle cx="1239.3" cy="368.7" r="5.9"/>
<circle cx="1349.6" cy="133.7" r="4.3"/>
<circle cx="1243.5" cy="205.1" r="6.2"/>
<circle cx="1243.6" cy="315.5" r="4.9"/>
<circle cx="1292.2" cy="384.2" r="5.7"/>
<circle cx="1263.6" cy="331.8" r="6.4"/>
<circle cx="1246.3" cy="205.5" r="5.7"/>
</g>
<g fill="url(#go3)">
<circle cx="1362.3" cy="158.0" r="6.3"/>
<circle cx="1342.8" cy="222.4" r="5.7"/>
</g>
<g fill="url(#go2)">
<circle cx="1308.1" cy="134.1" r="4.8"/>
<circle cx="1243.3" cy="334.9" r="5.0"/>
<circle cx="1279.1" cy="251.1" r="5.8"/>
<circle cx="1331.0" cy="100.9" r="5.4"/>
<circle cx="1243.2" cy="230.2" r="4.9"/>
<circle cx="1361.1" cy="420.5" r="6.2"/>
<circle cx="1284.9" cy="262.5" r="5.7"/>
</g>
<g fill="url(#go3)">
<circle cx="1346.1" cy="224.8" r="4.3"/>
</g>
<g fill="url(#go2)">
<circle cx="1254.1" cy="163.3" r="5.5"/>
<circle cx="1309.0" cy="277.2" r="4.4"/>
<circle cx="1250.0" cy="308.1" r="5.1"/>
<circle cx="1312.7" cy="110.6" r="5.0"/>
<circle cx="1287.8" cy="131.1" r="6.1"/>
<circle cx="1338.0" cy="357.3" r="5.0"/>
<circle cx="1333.8" cy="406.7" r="5.3"/>
<circle cx="1251.2" cy="311.5" r="6.3"/>
<circle cx="1276.2" cy="242.1" r="4.9"/>
<circle cx="1246.6" cy="211.4" r="5.3"/>
<circle cx="1245.5" cy="332.1" r="6.1"/>
<circle cx="1245.2" cy="214.3" r="6.1"/>
<circle cx="1335.5" cy="376.6" r="6.1"/>
<circle cx="1300.4" cy="195.6" r="5.8"/>
</g>
<g fill="url(#go3)">
<circle cx="1354.7" cy="269.8" r="6.2"/>
</g>
<g fill="url(#go2)">
<circle cx="1305.7" cy="100.7" r="4.7"/>
<circle cx="1325.1" cy="158.7" r="5.1"/>
<circle cx="1262.4" cy="296.0" r="5.2"/>
<circle cx="1312.4" cy="258.9" r="4.3"/>
<circle cx="1280.7" cy="317.0" r="4.9"/>
<circle cx="1290.9" cy="132.9" r="4.9"/>
<circle cx="1292.9" cy="190.6" r="5.0"/>
<circle cx="1268.0" cy="212.8" r="4.3"/>
<circle cx="1346.3" cy="417.0" r="5.3"/>
</g>
<g fill="url(#go3)">
<circle cx="1348.1" cy="147.4" r="5.9"/>
</g>
<g fill="url(#go2)">
<circle cx="1260.3" cy="334.7" r="4.4"/>
</g>
<g fill="url(#go3)">
<circle cx="1360.3" cy="152.8" r="5.5"/>
</g>
<g fill="url(#go2)">
<circle cx="1306.1" cy="244.5" r="6.0"/>
<circle cx="1308.8" cy="388.3" r="5.1"/>
<circle cx="1301.2" cy="273.6" r="5.8"/>
<circle cx="1231.9" cy="331.9" r="6.1"/>
<circle cx="1288.8" cy="159.6" r="5.5"/>
<circle cx="1267.3" cy="214.5" r="5.3"/>
<circle cx="1245.1" cy="183.6" r="5.5"/>
<circle cx="1366.2" cy="111.1" r="6.0"/>
<circle cx="1247.2" cy="344.9" r="4.8"/>
<circle cx="1334.3" cy="279.5" r="5.2"/>
<circle cx="1327.1" cy="276.3" r="6.1"/>
<circle cx="1277.0" cy="110.6" r="5.0"/>
<circle cx="1365.4" cy="421.9" r="4.6"/>
<circle cx="1243.3" cy="163.7" r="5.7"/>
<circle cx="1251.8" cy="294.1" r="5.4"/>
<circle cx="1236.0" cy="367.2" r="4.4"/>
<circle cx="1282.3" cy="365.8" r="6.2"/>
</g>
<g fill="url(#go3)">
<circle cx="1337.8" cy="222.9" r="4.9"/>
</g>
<g fill="url(#go2)">
<circle cx="1327.4" cy="330.9" r="5.1"/>
<circle cx="1343.5" cy="93.6" r="4.5"/>
<circle cx="1284.1" cy="174.9" r="4.9"/>
<circle cx="1290.3" cy="270.3" r="6.1"/>
</g>
<g fill="url(#go3)">
<circle cx="1358.4" cy="148.0" r="5.3"/>
</g>
<g fill="url(#go2)">
<circle cx="1245.6" cy="349.8" r="4.4"/>
<circle cx="1297.7" cy="343.4" r="5.4"/>
<circle cx="1298.3" cy="156.6" r="5.2"/>
<circle cx="1279.7" cy="304.5" r="4.9"/>
<circle cx="1247.5" cy="218.4" r="4.7"/>
<circle cx="1283.6" cy="170.3" r="5.3"/>
<circle cx="1291.7" cy="115.0" r="4.3"/>
<circle cx="1258.2" cy="216.1" r="4.8"/>
<circle cx="1324.7" cy="106.2" r="5.9"/>
<circle cx="1252.4" cy="293.9" r="5.0"/>
<circle cx="1261.5" cy="151.4" r="4.5"/>
<circle cx="1252.3" cy="258.2" r="5.6"/>
<circle cx="1252.2" cy="108.9" r="6.3"/>
<circle cx="1324.6" cy="106.2" r="5.0"/>
<circle cx="1264.0" cy="394.2" r="6.3"/>
<circle cx="1279.4" cy="285.6" r="4.4"/>
<circle cx="1272.0" cy="268.6" r="5.9"/>
<circle cx="1333.8" cy="110.4" r="5.8"/>
<circle cx="1348.1" cy="231.3" r="4.5"/>
<circle cx="1317.9" cy="257.7" r="6.1"/>
<circle cx="1262.5" cy="422.9" r="6.4"/>
<circle cx="1339.8" cy="265.4" r="5.5"/>
<circle cx="1262.7" cy="153.0" r="5.9"/>
<circle cx="1251.0" cy="141.6" r="5.8"/>
<circle cx="1337.6" cy="407.6" r="5.5"/>
<circle cx="1314.3" cy="180.4" r="5.4"/>
<circle cx="1307.9" cy="260.0" r="4.8"/>
<circle cx="1226.1" cy="413.0" r="6.0"/>
<circle cx="1309.7" cy="387.3" r="6.1"/>
<circle cx="1310.7" cy="351.0" r="4.6"/>
<circle cx="1310.9" cy="401.1" r="6.3"/>
<circle cx="1281.2" cy="320.8" r="4.5"/>
<circle cx="1337.5" cy="220.0" r="6.4"/>
<circle cx="1308.5" cy="349.8" r="5.3"/>
<circle cx="1276.2" cy="114.7" r="4.3"/>
<circle cx="1254.8" cy="111.9" r="4.8"/>
<circle cx="1253.2" cy="285.9" r="5.3"/>
<circle cx="1358.2" cy="424.2" r="4.5"/>
<circle cx="1353.1" cy="288.1" r="4.5"/>
<circle cx="1249.7" cy="165.1" r="5.4"/>
<circle cx="1278.4" cy="215.2" r="5.6"/>
<circle cx="1323.6" cy="392.6" r="6.0"/>
<circle cx="1280.9" cy="290.8" r="4.5"/>
<circle cx="1326.7" cy="254.3" r="5.0"/>
<circle cx="1286.3" cy="311.5" r="4.3"/>
<circle cx="1317.7" cy="259.9" r="6.1"/>
<circle cx="1302.1" cy="143.0" r="4.7"/>
<circle cx="1258.1" cy="399.0" r="5.3"/>
<circle cx="1289.5" cy="172.1" r="5.1"/>
<circle cx="1329.9" cy="169.5" r="6.0"/>
<circle cx="1373.4" cy="113.2" r="4.7"/>
<circle cx="1247.6" cy="158.6" r="5.6"/>
<circle cx="1241.3" cy="237.9" r="5.1"/>
<circle cx="1241.5" cy="330.6" r="6.0"/>
<circle cx="1315.5" cy="148.0" r="4.4"/>
<circle cx="1281.0" cy="320.2" r="4.7"/>
<circle cx="1304.2" cy="264.5" r="5.3"/>
<circle cx="1350.8" cy="145.5" r="6.0"/>
<circle cx="1378.5" cy="105.0" r="5.5"/>
<circle cx="1296.4" cy="287.3" r="4.9"/>
<circle cx="1274.6" cy="223.4" r="6.1"/>
<circle cx="1305.9" cy="255.7" r="4.5"/>
<circle cx="1247.5" cy="104.5" r="5.3"/>
<circle cx="1254.3" cy="178.4" r="6.2"/>
<circle cx="1305.8" cy="256.2" r="5.2"/>
<circle cx="1333.7" cy="253.9" r="4.9"/>
<circle cx="1249.9" cy="339.8" r="5.1"/>
<circle cx="1324.1" cy="396.5" r="6.1"/>
<circle cx="1257.8" cy="405.8" r="4.9"/>
<circle cx="1337.5" cy="363.9" r="5.2"/>
<circle cx="1329.8" cy="97.1" r="6.3"/>
<circle cx="1296.8" cy="258.7" r="5.3"/>
<circle cx="1319.6" cy="307.1" r="5.1"/>
<circle cx="1284.9" cy="113.5" r="6.4"/>
<circle cx="1239.1" cy="361.4" r="6.2"/>
<circle cx="1320.8" cy="160.2" r="5.8"/>
<circle cx="1269.1" cy="400.1" r="4.3"/>
<circle cx="1229.9" cy="300.2" r="4.5"/>
<circle cx="1316.4" cy="301.9" r="5.5"/>
<circle cx="1267.8" cy="85.4" r="4.5"/>
<circle cx="1352.6" cy="225.3" r="4.5"/>
<circle cx="1261.5" cy="93.8" r="5.7"/>
<circle cx="1243.2" cy="130.2" r="4.6"/>
<circle cx="1250.9" cy="226.8" r="5.2"/>
<circle cx="1280.4" cy="286.1" r="5.6"/>
<circle cx="1256.4" cy="328.4" r="4.8"/>
<circle cx="1251.2" cy="406.8" r="5.2"/>
<circle cx="1360.0" cy="184.9" r="5.1"/>
<circle cx="1275.6" cy="264.3" r="5.6"/>
<circle cx="1244.0" cy="394.2" r="4.4"/>
<circle cx="1237.6" cy="419.2" r="6.3"/>
<circle cx="1317.5" cy="82.7" r="5.1"/>
<circle cx="1253.7" cy="405.9" r="5.3"/>
<circle cx="1336.0" cy="155.5" r="6.3"/>
<circle cx="1285.5" cy="364.7" r="6.2"/>
<circle cx="1230.6" cy="406.6" r="6.0"/>
<circle cx="1363.0" cy="422.4" r="5.1"/>
<circle cx="1335.5" cy="323.6" r="4.5"/>
<circle cx="1266.5" cy="337.8" r="4.6"/>
<circle cx="1269.2" cy="276.3" r="5.4"/>
<circle cx="1345.9" cy="264.7" r="6.3"/>
<circle cx="1284.8" cy="227.1" r="6.1"/>
<circle cx="1282.2" cy="382.8" r="4.4"/>
<circle cx="1353.0" cy="144.8" r="5.8"/>
<circle cx="1314.5" cy="309.3" r="5.3"/>
<circle cx="1341.1" cy="406.7" r="4.3"/>
<circle cx="1247.7" cy="350.3" r="5.1"/>
<circle cx="1250.2" cy="224.7" r="5.6"/>
<circle cx="1247.8" cy="133.6" r="4.6"/>
<circle cx="1299.7" cy="299.2" r="4.3"/>
<circle cx="1330.0" cy="280.5" r="6.4"/>
<circle cx="1351.2" cy="155.6" r="4.6"/>
<circle cx="1247.7" cy="349.2" r="5.2"/>
<circle cx="1304.8" cy="355.4" r="6.1"/>
<circle cx="1326.1" cy="164.5" r="5.7"/>
<circle cx="1279.8" cy="394.1" r="5.8"/>
<circle cx="1270.6" cy="103.7" r="5.6"/>
<circle cx="1344.8" cy="129.8" r="4.5"/>
<circle cx="1319.8" cy="309.0" r="5.1"/>
<circle cx="1265.2" cy="271.4" r="4.5"/>
<circle cx="1251.5" cy="194.7" r="5.5"/>
<circle cx="1327.3" cy="157.8" r="6.4"/>
<circle cx="1327.9" cy="410.3" r="4.3"/>
<circle cx="1351.7" cy="143.2" r="6.3"/>
<circle cx="1257.2" cy="227.9" r="4.6"/>
<circle cx="1245.2" cy="216.0" r="4.5"/>
<circle cx="1287.7" cy="359.0" r="5.8"/>
<circle cx="1308.8" cy="181.0" r="4.6"/>
<circle cx="1242.1" cy="94.9" r="5.8"/>
<circle cx="1339.7" cy="218.9" r="5.1"/>
<circle cx="1237.8" cy="389.2" r="6.0"/>
<circle cx="1283.9" cy="127.7" r="5.0"/>
<circle cx="1343.3" cy="127.8" r="5.1"/>
<circle cx="1298.4" cy="354.6" r="5.8"/>
<circle cx="1312.7" cy="248.1" r="4.9"/>
<circle cx="1343.0" cy="297.6" r="4.9"/>
<circle cx="1308.7" cy="248.8" r="5.0"/>
<circle cx="1333.0" cy="193.9" r="5.5"/>
<circle cx="1347.5" cy="193.9" r="4.5"/>
<circle cx="1338.8" cy="99.4" r="5.3"/>
<circle cx="1302.3" cy="351.2" r="5.8"/>
<circle cx="1233.9" cy="327.3" r="4.4"/>
<circle cx="1299.3" cy="351.3" r="4.3"/>
<circle cx="1344.7" cy="266.8" r="5.8"/>
<circle cx="1242.4" cy="90.2" r="6.3"/>
<circle cx="1340.1" cy="168.1" r="4.5"/>
<circle cx="1329.2" cy="259.7" r="5.0"/>
<circle cx="1250.2" cy="148.4" r="4.5"/>
<circle cx="1330.8" cy="254.1" r="4.7"/>
<circle cx="1286.7" cy="117.0" r="5.2"/>
<circle cx="1301.2" cy="345.6" r="5.9"/>
<circle cx="1249.1" cy="403.7" r="5.1"/>
<circle cx="1248.0" cy="408.1" r="5.5"/>
<circle cx="1281.4" cy="238.2" r="5.7"/>
<circle cx="1282.1" cy="124.9" r="5.6"/>
<circle cx="1320.7" cy="308.3" r="6.3"/>
<circle cx="1245.1" cy="214.8" r="5.0"/>
<circle cx="1274.6" cy="278.1" r="5.0"/>
<circle cx="1303.7" cy="349.9" r="4.6"/>
<circle cx="1237.4" cy="389.8" r="6.2"/>
<circle cx="1301.5" cy="344.1" r="5.3"/>
<circle cx="1303.1" cy="157.8" r="4.5"/>
<circle cx="1239.9" cy="94.9" r="6.0"/>
<circle cx="1305.0" cy="128.0" r="6.2"/>
<circle cx="1349.9" cy="294.6" r="5.8"/>
<circle cx="1279.8" cy="394.5" r="4.7"/>
<circle cx="1355.1" cy="422.5" r="6.1"/>
<circle cx="1350.9" cy="159.9" r="5.3"/>
<circle cx="1319.0" cy="130.9" r="5.6"/>
<circle cx="1340.4" cy="397.6" r="5.3"/>
<circle cx="1309.0" cy="400.8" r="5.2"/>
<circle cx="1341.2" cy="220.3" r="5.1"/>
<circle cx="1265.1" cy="392.5" r="5.4"/>
<circle cx="1247.5" cy="337.9" r="4.3"/>
<circle cx="1309.6" cy="234.9" r="5.7"/>
<circle cx="1285.5" cy="267.9" r="4.4"/>
<circle cx="1356.3" cy="96.8" r="4.7"/>
<circle cx="1232.9" cy="332.9" r="5.8"/>
<circle cx="1300.4" cy="299.7" r="4.6"/>
<circle cx="1227.6" cy="308.0" r="4.9"/>
<circle cx="1330.1" cy="415.3" r="5.6"/>
<circle cx="1353.5" cy="150.1" r="4.9"/>
<circle cx="1336.3" cy="101.1" r="5.0"/>
<circle cx="1251.2" cy="258.4" r="5.0"/>
<circle cx="1315.4" cy="90.5" r="6.3"/>
<circle cx="1368.1" cy="109.4" r="5.7"/>
<circle cx="1244.3" cy="351.5" r="6.0"/>
<circle cx="1242.7" cy="109.9" r="5.6"/>
<circle cx="1254.9" cy="192.2" r="4.6"/>
<circle cx="1286.2" cy="213.3" r="6.0"/>
<circle cx="1307.2" cy="344.3" r="4.4"/>
<circle cx="1260.2" cy="198.3" r="4.8"/>
<circle cx="1337.6" cy="220.9" r="4.9"/>
<circle cx="1277.9" cy="139.5" r="5.1"/>
<circle cx="1305.1" cy="418.7" r="4.9"/>
<circle cx="1277.0" cy="117.5" r="5.1"/>
<circle cx="1302.9" cy="300.7" r="4.5"/>
<circle cx="1357.0" cy="152.6" r="4.9"/>
<circle cx="1304.8" cy="406.2" r="5.3"/>
<circle cx="1326.5" cy="240.0" r="5.1"/>
<circle cx="1273.4" cy="170.6" r="6.1"/>
<circle cx="1331.1" cy="104.0" r="6.3"/>
<circle cx="1349.3" cy="105.3" r="4.6"/>
<circle cx="1317.8" cy="238.7" r="5.6"/>
<circle cx="1302.5" cy="305.9" r="6.2"/>
<circle cx="1270.9" cy="214.7" r="6.3"/>
<circle cx="1251.0" cy="408.5" r="5.0"/>
<circle cx="1272.6" cy="224.7" r="5.8"/>
<circle cx="1265.3" cy="205.5" r="4.7"/>
<circle cx="1266.7" cy="246.3" r="4.5"/>
<circle cx="1324.3" cy="168.7" r="4.3"/>
<circle cx="1234.9" cy="334.9" r="6.1"/>
<circle cx="1350.3" cy="148.6" r="4.9"/>
<circle cx="1258.7" cy="113.7" r="5.0"/>
<circle cx="1334.8" cy="318.0" r="4.8"/>
<circle cx="1353.4" cy="165.2" r="4.6"/>
<circle cx="1239.3" cy="393.8" r="5.0"/>
<circle cx="1306.0" cy="238.1" r="4.8"/>
<circle cx="1243.8" cy="252.3" r="6.0"/>
<circle cx="1346.1" cy="105.4" r="4.4"/>
<circle cx="1230.7" cy="298.0" r="6.1"/>
<circle cx="1332.4" cy="192.3" r="5.9"/>
<circle cx="1263.0" cy="216.7" r="5.5"/>
<circle cx="1316.4" cy="196.6" r="5.6"/>
<circle cx="1371.4" cy="113.3" r="4.7"/>
<circle cx="1338.5" cy="396.5" r="5.7"/>
<circle cx="1299.1" cy="255.0" r="4.9"/>
<circle cx="1326.0" cy="413.0" r="6.2"/>
<circle cx="1305.9" cy="392.7" r="4.4"/>
<circle cx="1307.8" cy="140.5" r="6.2"/>
<circle cx="1341.5" cy="371.0" r="5.6"/>
</g>
<g fill="url(#go1)">
<circle cx="1323.3" cy="193.4" r="4.7"/>
</g>
<g fill="url(#go2)">
<circle cx="1239.2" cy="411.1" r="4.3"/>
</g>
<g fill="url(#go1)">
<circle cx="1263.2" cy="219.8" r="4.3"/>
</g>
<g fill="url(#go2)">
<circle cx="1352.9" cy="292.7" r="4.9"/>
<circle cx="1237.2" cy="350.6" r="4.6"/>
</g>
<g fill="url(#go1)">
<circle cx="1311.5" cy="260.8" r="4.9"/>
<circle cx="1252.0" cy="227.4" r="6.0"/>
<circle cx="1306.6" cy="244.2" r="4.5"/>
<circle cx="1286.7" cy="354.2" r="5.7"/>
<circle cx="1293.8" cy="191.1" r="4.5"/>
<circle cx="1319.4" cy="256.8" r="4.4"/>
</g>
<g fill="url(#go2)">
<circle cx="1336.3" cy="323.7" r="5.4"/>
<circle cx="1337.3" cy="317.5" r="5.5"/>
</g>
<g fill="url(#go1)">
<circle cx="1360.3" cy="420.0" r="5.8"/>
<circle cx="1310.8" cy="231.6" r="5.7"/>
</g>
<g fill="url(#go2)">
<circle cx="1341.5" cy="225.0" r="5.5"/>
</g>
<g fill="url(#go1)">
<circle cx="1355.0" cy="109.2" r="4.9"/>
<circle cx="1251.4" cy="161.5" r="4.6"/>
<circle cx="1274.5" cy="233.3" r="6.4"/>
<circle cx="1246.5" cy="292.5" r="5.2"/>
<circle cx="1311.6" cy="262.3" r="5.9"/>
<circle cx="1352.2" cy="133.3" r="4.8"/>
</g>
<g fill="url(#go2)">
<circle cx="1335.8" cy="253.0" r="4.4"/>
<circle cx="1228.8" cy="305.8" r="5.0"/>
</g>
<g fill="url(#go1)">
<circle cx="1349.2" cy="416.1" r="5.8"/>
</g>
<g fill="url(#go2)">
<circle cx="1240.0" cy="295.9" r="4.6"/>
</g>
<g fill="url(#go1)">
<circle cx="1346.5" cy="138.2" r="4.9"/>
<circle cx="1342.2" cy="392.0" r="5.0"/>
<circle cx="1318.2" cy="310.1" r="6.1"/>
<circle cx="1255.8" cy="117.4" r="4.5"/>
</g>
<g fill="url(#go2)">
<circle cx="1343.8" cy="140.2" r="6.2"/>
</g>
<g fill="url(#go1)">
<circle cx="1250.1" cy="258.6" r="5.0"/>
<circle cx="1307.5" cy="353.7" r="5.4"/>
</g>
<g fill="url(#go2)">
<circle cx="1337.9" cy="319.2" r="6.3"/>
</g>
<g fill="url(#go1)">
<circle cx="1284.3" cy="373.6" r="5.1"/>
<circle cx="1288.4" cy="166.7" r="5.8"/>
<circle cx="1338.5" cy="98.1" r="4.6"/>
<circle cx="1348.6" cy="419.4" r="4.5"/>
</g>
<g fill="url(#go2)">
<circle cx="1236.7" cy="406.0" r="6.1"/>
</g>
<g fill="url(#go1)">
<circle cx="1322.9" cy="233.5" r="5.0"/>
<circle cx="1304.3" cy="108.2" r="5.0"/>
<circle cx="1313.2" cy="130.1" r="4.7"/>
<circle cx="1366.4" cy="93.7" r="5.5"/>
<circle cx="1305.1" cy="326.6" r="4.5"/>
<circle cx="1328.1" cy="408.5" r="4.4"/>
</g>
<g fill="url(#go2)">
<circle cx="1241.6" cy="99.6" r="5.4"/>
</g>
<g fill="url(#go1)">
<circle cx="1258.3" cy="114.3" r="5.5"/>
<circle cx="1289.7" cy="171.3" r="6.2"/>
<circle cx="1332.8" cy="190.6" r="6.1"/>
<circle cx="1348.7" cy="409.5" r="6.2"/>
<circle cx="1270.3" cy="173.7" r="4.9"/>
<circle cx="1338.1" cy="363.8" r="5.7"/>
<circle cx="1263.7" cy="327.7" r="5.5"/>
<circle cx="1367.2" cy="107.2" r="5.3"/>
<circle cx="1253.5" cy="407.0" r="6.4"/>
<circle cx="1338.6" cy="367.3" r="4.5"/>
<circle cx="1275.4" cy="180.9" r="5.9"/>
<circle cx="1253.7" cy="292.5" r="5.7"/>
<circle cx="1327.4" cy="184.8" r="5.8"/>
<circle cx="1255.9" cy="222.5" r="5.3"/>
</g>
<g fill="url(#go2)">
<circle cx="1337.1" cy="330.8" r="5.2"/>
</g>
<g fill="url(#go1)">
<circle cx="1287.5" cy="281.0" r="6.3"/>
<circle cx="1247.2" cy="290.3" r="5.7"/>
</g>
<g fill="url(#go2)">
<circle cx="1235.5" cy="302.7" r="5.1"/>
</g>
<g fill="url(#go1)">
<circle cx="1369.4" cy="425.2" r="6.1"/>
<circle cx="1299.7" cy="113.6" r="5.2"/>
</g>
<g fill="url(#go2)">
<circle cx="1348.9" cy="145.2" r="4.4"/>
</g>
<g fill="url(#go1)">
<circle cx="1257.2" cy="200.1" r="6.2"/>
<circle cx="1267.7" cy="106.8" r="5.5"/>
</g>
<g fill="url(#go2)">
<circle cx="1336.5" cy="152.5" r="4.7"/>
</g>
<g fill="url(#go1)">
<circle cx="1299.2" cy="104.7" r="6.3"/>
<circle cx="1307.2" cy="196.0" r="6.1"/>
<circle cx="1246.3" cy="111.1" r="6.4"/>
<circle cx="1245.8" cy="228.8" r="5.1"/>
<circle cx="1272.5" cy="115.4" r="6.1"/>
<circle cx="1281.4" cy="216.1" r="5.6"/>
<circle cx="1325.8" cy="394.0" r="5.3"/>
<circle cx="1287.2" cy="352.9" r="6.4"/>
<circle cx="1258.8" cy="329.1" r="5.1"/>
<circle cx="1341.9" cy="107.9" r="6.1"/>
<circle cx="1337.7" cy="368.6" r="4.4"/>
<circle cx="1334.0" cy="318.1" r="5.6"/>
<circle cx="1337.6" cy="117.6" r="4.7"/>
<circle cx="1262.2" cy="210.6" r="4.9"/>
<circle cx="1261.9" cy="159.1" r="5.1"/>
<circle cx="1295.4" cy="100.5" r="4.6"/>
<circle cx="1319.8" cy="165.0" r="4.9"/>
<circle cx="1307.8" cy="356.1" r="4.4"/>
</g>
<g fill="url(#go2)">
<circle cx="1337.8" cy="327.7" r="5.7"/>
<circle cx="1241.2" cy="102.7" r="5.7"/>
<circle cx="1242.7" cy="83.2" r="5.6"/>
<circle cx="1339.2" cy="297.9" r="4.7"/>
</g>
<g fill="url(#go1)">
<circle cx="1330.6" cy="96.7" r="4.6"/>
<circle cx="1245.3" cy="114.2" r="5.2"/>
<circle cx="1302.3" cy="233.5" r="5.6"/>
<circle cx="1284.0" cy="196.4" r="5.8"/>
</g>
<g fill="url(#go2)">
<circle cx="1350.6" cy="150.4" r="5.6"/>
</g>
<g fill="url(#go1)">
<circle cx="1268.7" cy="220.3" r="5.6"/>
<circle cx="1255.5" cy="331.8" r="5.0"/>
</g>
<g fill="url(#go2)">
<circle cx="1241.0" cy="97.1" r="5.9"/>
</g>
<g fill="url(#go1)">
<circle cx="1355.3" cy="139.4" r="4.7"/>
<circle cx="1247.2" cy="262.2" r="4.8"/>
<circle cx="1302.0" cy="303.8" r="5.0"/>
<circle cx="1313.1" cy="352.9" r="5.4"/>
<circle cx="1303.7" cy="100.2" r="4.6"/>
</g>
<g fill="url(#go2)">
<circle cx="1233.2" cy="327.2" r="4.5"/>
</g>
<g fill="url(#go1)">
<circle cx="1254.5" cy="283.9" r="5.9"/>
<circle cx="1274.0" cy="174.9" r="4.8"/>
<circle cx="1306.5" cy="160.8" r="4.8"/>
<circle cx="1304.9" cy="395.6" r="5.2"/>
<circle cx="1272.9" cy="180.1" r="4.5"/>
</g>
<g fill="url(#go2)">
<circle cx="1227.8" cy="298.7" r="4.8"/>
<circle cx="1228.3" cy="297.2" r="5.9"/>
</g>
<g fill="url(#go1)">
<circle cx="1308.1" cy="380.0" r="5.4"/>
<circle cx="1266.0" cy="331.8" r="4.7"/>
<circle cx="1320.8" cy="237.8" r="6.2"/>
</g>
<g fill="url(#go2)">
<circle cx="1346.5" cy="213.7" r="4.3"/>
</g>
<g fill="url(#go1)">
<circle cx="1291.1" cy="150.6" r="4.5"/>
<circle cx="1355.9" cy="426.3" r="4.8"/>
<circle cx="1304.0" cy="364.2" r="5.4"/>
</g>
<g fill="url(#go2)">
<circle cx="1230.9" cy="298.4" r="5.9"/>
</g>
<g fill="url(#go1)">
<circle cx="1290.7" cy="172.7" r="6.2"/>
</g>
<g fill="url(#go2)">
<circle cx="1349.4" cy="298.7" r="6.2"/>
</g>
<g fill="url(#go1)">
<circle cx="1259.4" cy="282.7" r="5.8"/>
<circle cx="1299.2" cy="183.6" r="5.2"/>
</g>
<g fill="url(#go2)">
<circle cx="1353.5" cy="152.2" r="4.4"/>
</g>
<g fill="url(#go1)">
<circle cx="1247.3" cy="132.9" r="5.4"/>
</g>
<g fill="url(#go2)">
<circle cx="1338.2" cy="221.8" r="6.1"/>
</g>
<g fill="url(#go1)">
<circle cx="1266.5" cy="158.6" r="5.0"/>
<circle cx="1258.0" cy="209.7" r="4.5"/>
<circle cx="1255.6" cy="371.9" r="4.8"/>
</g>
<g fill="url(#go2)">
<circle cx="1243.1" cy="212.6" r="5.3"/>
</g>
<g fill="url(#go1)">
<circle cx="1377.9" cy="123.1" r="6.3"/>
<circle cx="1329.5" cy="278.2" r="6.2"/>
<circle cx="1339.2" cy="406.4" r="4.7"/>
<circle cx="1297.1" cy="169.1" r="4.6"/>
<circle cx="1302.1" cy="103.7" r="5.6"/>
<circle cx="1335.1" cy="100.7" r="5.7"/>
</g>
<g fill="url(#go2)">
<circle cx="1238.5" cy="105.4" r="6.1"/>
</g>
<g fill="url(#go1)">
<circle cx="1346.0" cy="109.0" r="4.7"/>
<circle cx="1300.6" cy="358.5" r="6.3"/>
<circle cx="1308.0" cy="331.7" r="5.1"/>
</g>
<g fill="url(#go2)">
<circle cx="1229.7" cy="291.4" r="6.1"/>
<circle cx="1231.9" cy="300.2" r="6.0"/>
</g>
<g fill="url(#go1)">
<circle cx="1285.0" cy="349.4" r="6.3"/>
<circle cx="1299.0" cy="266.7" r="5.6"/>
<circle cx="1252.1" cy="296.0" r="5.5"/>
<circle cx="1300.1" cy="255.9" r="5.2"/>
<circle cx="1246.4" cy="155.8" r="5.8"/>
<circle cx="1258.0" cy="360.7" r="4.4"/>
<circle cx="1282.1" cy="209.2" r="5.7"/>
<circle cx="1256.7" cy="211.1" r="6.2"/>
</g>
<g fill="url(#go2)">
<circle cx="1335.0" cy="317.8" r="5.5"/>
<circle cx="1240.0" cy="369.4" r="5.0"/>
</g>
<g fill="url(#go1)">
<circle cx="1333.1" cy="166.3" r="6.2"/>
<circle cx="1299.3" cy="356.7" r="4.8"/>
<circle cx="1271.8" cy="268.5" r="4.7"/>
<circle cx="1305.1" cy="326.6" r="4.4"/>
<circle cx="1312.5" cy="84.7" r="5.2"/>
<circle cx="1263.1" cy="119.6" r="6.1"/>
<circle cx="1325.1" cy="421.0" r="5.2"/>
<circle cx="1303.6" cy="354.6" r="5.0"/>
</g>
<g fill="url(#go2)">
<circle cx="1241.7" cy="97.3" r="4.9"/>
</g>
<g fill="url(#go1)">
<circle cx="1251.5" cy="411.6" r="6.0"/>
<circle cx="1297.1" cy="240.7" r="6.0"/>
<circle cx="1295.7" cy="329.7" r="4.6"/>
<circle cx="1246.6" cy="278.4" r="6.1"/>
<circle cx="1252.2" cy="156.8" r="5.4"/>
<circle cx="1255.2" cy="228.9" r="5.1"/>
</g>
<g fill="url(#go2)">
<circle cx="1225.4" cy="415.0" r="5.9"/>
</g>
<g fill="url(#go1)">
<circle cx="1306.2" cy="107.9" r="5.5"/>
<circle cx="1322.3" cy="181.0" r="4.4"/>
<circle cx="1296.7" cy="335.4" r="5.6"/>
<circle cx="1330.3" cy="406.7" r="5.9"/>
<circle cx="1257.3" cy="153.1" r="4.8"/>
<circle cx="1333.9" cy="111.8" r="6.1"/>
<circle cx="1308.1" cy="231.3" r="5.9"/>
<circle cx="1317.6" cy="173.7" r="5.4"/>
<circle cx="1375.9" cy="117.4" r="4.9"/>
<circle cx="1254.5" cy="288.9" r="4.5"/>
<circle cx="1341.2" cy="358.2" r="6.0"/>
<circle cx="1314.5" cy="348.5" r="6.0"/>
<circle cx="1247.5" cy="144.9" r="4.9"/>
<circle cx="1279.4" cy="113.8" r="5.4"/>
<circle cx="1302.2" cy="297.6" r="4.5"/>
<circle cx="1310.6" cy="183.5" r="4.5"/>
<circle cx="1324.9" cy="112.5" r="5.4"/>
<circle cx="1302.3" cy="236.6" r="5.5"/>
<circle cx="1338.9" cy="102.1" r="6.0"/>
<circle cx="1322.0" cy="118.5" r="4.4"/>
<circle cx="1306.6" cy="281.5" r="6.0"/>
<circle cx="1312.0" cy="181.9" r="5.5"/>
<circle cx="1299.0" cy="141.2" r="4.9"/>
<circle cx="1327.3" cy="417.6" r="5.0"/>
<circle cx="1297.8" cy="308.2" r="5.3"/>
<circle cx="1265.3" cy="388.5" r="4.6"/>
<circle cx="1255.0" cy="139.1" r="5.6"/>
<circle cx="1247.5" cy="256.5" r="6.3"/>
<circle cx="1324.7" cy="182.6" r="5.5"/>
<circle cx="1329.3" cy="104.0" r="4.9"/>
</g>
<g fill="url(#go2)">
<circle cx="1234.6" cy="94.8" r="5.4"/>
</g>
<g fill="url(#go1)">
<circle cx="1311.8" cy="399.7" r="5.6"/>
<circle cx="1283.7" cy="225.1" r="4.8"/>
<circle cx="1249.7" cy="150.2" r="5.5"/>
<circle cx="1245.5" cy="124.2" r="4.3"/>
<circle cx="1299.4" cy="302.3" r="5.7"/>
</g>
<g fill="url(#go2)">
<circle cx="1347.5" cy="291.0" r="4.9"/>
</g>
<g fill="url(#go1)">
<circle cx="1333.3" cy="193.1" r="5.3"/>
<circle cx="1261.5" cy="226.8" r="5.3"/>
<circle cx="1309.3" cy="322.9" r="5.0"/>
<circle cx="1319.1" cy="85.1" r="5.7"/>
</g>
<g fill="url(#go2)">
<circle cx="1243.1" cy="141.6" r="5.9"/>
</g>
<g fill="url(#go1)">
<circle cx="1260.7" cy="400.7" r="5.6"/>
<circle cx="1346.8" cy="104.6" r="5.5"/>
<circle cx="1303.5" cy="349.5" r="4.7"/>
<circle cx="1281.7" cy="172.5" r="5.2"/>
</g>
<g fill="url(#go2)">
<circle cx="1346.9" cy="216.8" r="5.5"/>
</g>
<g fill="url(#go1)">
<circle cx="1333.8" cy="367.3" r="5.6"/>
<circle cx="1251.4" cy="296.9" r="4.3"/>
<circle cx="1334.1" cy="192.9" r="5.9"/>
</g>
<g fill="url(#go2)">
<circle cx="1340.6" cy="193.8" r="4.5"/>
<circle cx="1363.4" cy="185.3" r="5.4"/>
</g>
<g fill="url(#go1)">
<circle cx="1304.8" cy="301.4" r="5.8"/>
<circle cx="1299.1" cy="323.7" r="4.8"/>
<circle cx="1320.4" cy="181.1" r="4.5"/>
<circle cx="1313.7" cy="190.6" r="5.5"/>
<circle cx="1297.3" cy="234.7" r="5.5"/>
<circle cx="1297.6" cy="314.9" r="6.0"/>
<circle cx="1259.7" cy="395.4" r="5.5"/>
<circle cx="1265.4" cy="200.6" r="5.4"/>
<circle cx="1274.4" cy="166.7" r="5.8"/>
<circle cx="1261.9" cy="389.5" r="4.7"/>
<circle cx="1287.5" cy="161.2" r="4.4"/>
<circle cx="1299.8" cy="277.9" r="4.8"/>
<circle cx="1273.2" cy="306.0" r="5.0"/>
<circle cx="1254.6" cy="101.9" r="5.8"/>
</g>
<g fill="url(#go2)">
<circle cx="1339.7" cy="333.9" r="5.7"/>
</g>
<g fill="url(#go1)">
<circle cx="1279.3" cy="174.3" r="6.2"/>
<circle cx="1265.7" cy="393.8" r="4.9"/>
<circle cx="1333.3" cy="111.5" r="6.1"/>
<circle cx="1241.5" cy="154.3" r="4.9"/>
<circle cx="1281.9" cy="354.3" r="4.4"/>
<circle cx="1284.0" cy="351.1" r="5.7"/>
<circle cx="1230.1" cy="283.5" r="4.9"/>
<circle cx="1355.5" cy="423.9" r="6.3"/>
<circle cx="1233.9" cy="331.6" r="5.6"/>
<circle cx="1249.2" cy="199.1" r="4.9"/>
<circle cx="1250.1" cy="141.5" r="5.3"/>
<circle cx="1309.5" cy="413.2" r="6.1"/>
<circle cx="1333.8" cy="271.7" r="5.5"/>
<circle cx="1313.3" cy="395.8" r="4.7"/>
<circle cx="1334.2" cy="321.5" r="4.8"/>
<circle cx="1300.2" cy="135.1" r="4.7"/>
<circle cx="1242.5" cy="135.2" r="5.4"/>
<circle cx="1246.3" cy="151.5" r="6.4"/>
<circle cx="1255.0" cy="373.3" r="5.3"/>
<circle cx="1347.3" cy="114.2" r="6.4"/>
<circle cx="1349.9" cy="106.9" r="5.5"/>
</g>
<g fill="url(#go2)">
<circle cx="1339.7" cy="277.1" r="5.6"/>
<circle cx="1354.9" cy="163.0" r="5.3"/>
</g>
<g fill="url(#go1)">
<circle cx="1245.4" cy="173.3" r="4.5"/>
<circle cx="1307.6" cy="412.7" r="5.2"/>
<circle cx="1313.1" cy="255.1" r="5.6"/>
<circle cx="1235.4" cy="345.9" r="4.5"/>
<circle cx="1294.7" cy="327.6" r="5.8"/>
<circle cx="1318.5" cy="168.3" r="5.7"/>
<circle cx="1241.4" cy="413.6" r="4.9"/>
</g>
<g fill="url(#go2)">
<circle cx="1335.5" cy="191.7" r="5.4"/>
</g>
<g fill="url(#go1)">
<circle cx="1306.4" cy="331.6" r="6.0"/>
<circle cx="1301.1" cy="343.7" r="6.0"/>
<circle cx="1295.5" cy="154.2" r="6.3"/>
<circle cx="1282.5" cy="178.2" r="4.5"/>
<circle cx="1346.2" cy="113.9" r="5.3"/>
<circle cx="1350.8" cy="99.0" r="5.5"/>
<circle cx="1323.6" cy="191.7" r="6.3"/>
</g>
<g fill="url(#go2)">
<circle cx="1349.1" cy="222.5" r="5.8"/>
</g>
<g fill="url(#go1)">
<circle cx="1226.4" cy="408.1" r="5.9"/>
<circle cx="1293.8" cy="155.4" r="6.2"/>
<circle cx="1255.3" cy="328.0" r="4.8"/>
<circle cx="1248.0" cy="181.0" r="5.9"/>
<circle cx="1341.8" cy="403.3" r="5.1"/>
<circle cx="1313.2" cy="130.7" r="5.1"/>
<circle cx="1297.7" cy="352.0" r="6.2"/>
</g>
<g fill="url(#go2)">
<circle cx="1354.4" cy="218.5" r="4.7"/>
</g>
<g fill="url(#go1)">
<circle cx="1295.8" cy="415.0" r="4.8"/>
<circle cx="1317.7" cy="211.8" r="5.3"/>
<circle cx="1226.1" cy="303.7" r="6.4"/>
<circle cx="1326.7" cy="211.4" r="4.4"/>
<circle cx="1297.1" cy="133.3" r="5.4"/>
<circle cx="1271.9" cy="201.6" r="5.8"/>
<circle cx="1334.0" cy="370.6" r="4.6"/>
</g>
<g fill="url(#go2)">
<circle cx="1354.9" cy="183.8" r="4.8"/>
<circle cx="1356.6" cy="166.5" r="5.3"/>
</g>
<g fill="url(#go1)">
<circle cx="1245.1" cy="255.7" r="4.4"/>
<circle cx="1273.4" cy="337.2" r="5.5"/>
<circle cx="1344.4" cy="376.5" r="6.0"/>
<circle cx="1296.9" cy="347.7" r="6.0"/>
<circle cx="1262.7" cy="329.2" r="5.3"/>
<circle cx="1253.0" cy="228.0" r="4.3"/>
<circle cx="1306.0" cy="413.5" r="4.8"/>
<circle cx="1289.1" cy="243.9" r="4.5"/>
<circle cx="1261.3" cy="208.0" r="5.6"/>
<circle cx="1334.4" cy="145.2" r="4.3"/>
<circle cx="1262.8" cy="107.8" r="6.3"/>
<circle cx="1239.9" cy="98.0" r="4.5"/>
<circle cx="1369.3" cy="426.7" r="6.2"/>
<circle cx="1309.1" cy="116.4" r="4.7"/>
<circle cx="1333.5" cy="92.7" r="4.9"/>
<circle cx="1306.0" cy="231.5" r="6.1"/>
</g>
<g fill="url(#go2)">
<circle cx="1349.7" cy="221.7" r="4.9"/>
<circle cx="1355.0" cy="290.8" r="4.4"/>
<circle cx="1354.3" cy="168.0" r="6.2"/>
</g>
<g fill="url(#go1)">
<circle cx="1257.8" cy="231.4" r="5.8"/>
</g>
<g fill="url(#go2)">
<circle cx="1347.1" cy="163.1" r="5.8"/>
</g>
<g fill="url(#go1)">
<circle cx="1240.7" cy="94.0" r="5.1"/>
<circle cx="1327.2" cy="392.5" r="6.3"/>
<circle cx="1249.9" cy="154.1" r="6.0"/>
<circle cx="1253.4" cy="139.6" r="6.0"/>
</g>
<g fill="url(#go2)">
<circle cx="1343.2" cy="260.6" r="5.1"/>
</g>
<g fill="url(#go1)">
<circle cx="1255.1" cy="370.5" r="6.4"/>
<circle cx="1330.0" cy="323.0" r="5.9"/>
<circle cx="1299.9" cy="318.0" r="5.8"/>
<circle cx="1328.1" cy="399.5" r="5.8"/>
<circle cx="1313.9" cy="215.1" r="5.3"/>
<circle cx="1228.1" cy="309.1" r="5.7"/>
<circle cx="1249.1" cy="264.4" r="4.6"/>
<circle cx="1330.3" cy="170.1" r="6.0"/>
<circle cx="1319.2" cy="397.1" r="6.0"/>
</g>
<g fill="url(#go2)">
<circle cx="1355.6" cy="186.2" r="4.7"/>
</g>
<g fill="url(#go1)">
<circle cx="1281.8" cy="313.8" r="5.0"/>
<circle cx="1360.7" cy="92.0" r="5.1"/>
</g>
<g fill="url(#go2)">
<circle cx="1343.2" cy="277.0" r="4.3"/>
</g>
<g fill="url(#go1)">
<circle cx="1277.8" cy="284.1" r="6.1"/>
<circle cx="1245.2" cy="219.8" r="5.1"/>
<circle cx="1276.1" cy="117.1" r="6.4"/>
<circle cx="1277.7" cy="289.9" r="5.0"/>
<circle cx="1334.9" cy="93.7" r="5.6"/>
<circle cx="1299.3" cy="102.0" r="4.5"/>
<circle cx="1329.4" cy="93.3" r="5.5"/>
<circle cx="1246.4" cy="213.2" r="4.9"/>
<circle cx="1255.2" cy="104.4" r="4.6"/>
<circle cx="1247.6" cy="195.2" r="5.8"/>
<circle cx="1337.3" cy="404.7" r="4.8"/>
<circle cx="1325.7" cy="187.3" r="6.1"/>
<circle cx="1362.2" cy="422.1" r="5.5"/>
<circle cx="1271.8" cy="163.6" r="4.4"/>
<circle cx="1256.9" cy="219.2" r="5.5"/>
<circle cx="1246.9" cy="226.2" r="5.1"/>
<circle cx="1243.4" cy="229.1" r="6.0"/>
<circle cx="1244.4" cy="157.1" r="6.0"/>
<circle cx="1303.0" cy="328.6" r="6.2"/>
<circle cx="1248.7" cy="153.4" r="6.4"/>
<circle cx="1256.9" cy="139.5" r="4.9"/>
<circle cx="1230.7" cy="302.8" r="5.8"/>
</g>
<g fill="url(#go2)">
<circle cx="1345.0" cy="149.4" r="5.6"/>
</g>
<g fill="url(#go1)">
<circle cx="1262.0" cy="104.8" r="6.4"/>
<circle cx="1308.2" cy="156.2" r="4.4"/>
<circle cx="1286.4" cy="178.2" r="4.5"/>
<circle cx="1247.2" cy="175.0" r="5.4"/>
<circle cx="1249.8" cy="184.0" r="4.5"/>
<circle cx="1252.7" cy="107.2" r="6.2"/>
<circle cx="1282.2" cy="114.6" r="5.0"/>
<circle cx="1331.6" cy="423.9" r="6.2"/>
<circle cx="1263.1" cy="421.1" r="5.9"/>
<circle cx="1356.1" cy="100.1" r="5.8"/>
<circle cx="1333.7" cy="196.1" r="5.6"/>
</g>
<g fill="url(#go2)">
<circle cx="1358.4" cy="161.6" r="5.4"/>
</g>
<g fill="url(#go1)">
<circle cx="1310.6" cy="159.1" r="6.0"/>
</g>
<g fill="url(#go2)">
<circle cx="1354.1" cy="192.3" r="4.3"/>
</g>
<g fill="url(#go1)">
<circle cx="1235.4" cy="94.1" r="6.0"/>
</g>
<g fill="url(#go2)">
<circle cx="1338.3" cy="193.9" r="6.3"/>
</g>
<g fill="url(#go1)">
<circle cx="1341.3" cy="372.6" r="4.9"/>
<circle cx="1311.1" cy="161.0" r="4.6"/>
<circle cx="1253.5" cy="272.9" r="5.6"/>
<circle cx="1333.7" cy="196.3" r="4.6"/>
</g>
<g fill="url(#go2)">
<circle cx="1353.0" cy="265.5" r="5.2"/>
</g>
<g fill="url(#go1)">
<circle cx="1310.8" cy="194.8" r="4.7"/>
<circle cx="1302.6" cy="249.0" r="6.1"/>
<circle cx="1232.1" cy="308.6" r="5.9"/>
<circle cx="1305.9" cy="174.9" r="5.1"/>
<circle cx="1319.7" cy="155.0" r="4.3"/>
<circle cx="1318.6" cy="183.4" r="5.3"/>
<circle cx="1275.9" cy="304.5" r="6.2"/>
<circle cx="1310.4" cy="378.9" r="4.3"/>
<circle cx="1254.5" cy="365.7" r="6.1"/>
<circle cx="1337.7" cy="365.6" r="5.3"/>
<circle cx="1252.9" cy="205.4" r="5.0"/>
<circle cx="1302.7" cy="249.7" r="4.8"/>
<circle cx="1299.5" cy="307.2" r="5.7"/>
<circle cx="1375.4" cy="119.7" r="5.0"/>
</g>
<g fill="url(#go2)">
<circle cx="1341.7" cy="299.9" r="5.2"/>
<circle cx="1339.7" cy="294.1" r="6.3"/>
</g>
<g fill="url(#go1)">
<circle cx="1249.9" cy="255.3" r="4.8"/>
<circle cx="1303.4" cy="354.0" r="5.2"/>
</g>
<g fill="url(#go2)">
<circle cx="1354.3" cy="160.5" r="5.6"/>
</g>
<g fill="url(#go1)">
<circle cx="1273.9" cy="88.5" r="5.1"/>
<circle cx="1357.3" cy="98.6" r="5.9"/>
<circle cx="1295.0" cy="331.0" r="5.7"/>
<circle cx="1320.9" cy="170.3" r="4.4"/>
<circle cx="1247.0" cy="415.3" r="5.0"/>
<circle cx="1291.3" cy="323.1" r="6.2"/>
</g>
<g fill="url(#go2)">
<circle cx="1357.3" cy="220.3" r="5.5"/>
</g>
<g fill="url(#go1)">
<circle cx="1355.6" cy="106.4" r="6.0"/>
</g>
<g fill="url(#go2)">
<circle cx="1350.0" cy="188.2" r="4.6"/>
</g>
<g fill="url(#go1)">
<circle cx="1273.6" cy="113.2" r="5.9"/>
</g>
<g fill="url(#go2)">
<circle cx="1340.4" cy="323.4" r="5.2"/>
</g>
<g fill="url(#go1)">
<circle cx="1252.7" cy="408.8" r="5.1"/>
</g>
<g fill="url(#go2)">
<circle cx="1336.5" cy="261.5" r="5.7"/>
</g>
<g fill="url(#go1)">
<circle cx="1226.3" cy="299.5" r="6.1"/>
<circle cx="1281.5" cy="180.3" r="4.8"/>
<circle cx="1286.9" cy="97.5" r="6.3"/>
<circle cx="1256.4" cy="134.7" r="5.1"/>
<circle cx="1270.4" cy="164.8" r="4.7"/>
<circle cx="1310.9" cy="377.5" r="4.6"/>
<circle cx="1265.0" cy="316.2" r="4.4"/>
<circle cx="1264.2" cy="394.2" r="5.1"/>
<circle cx="1276.6" cy="200.7" r="4.9"/>
</g>
<g fill="url(#go2)">
<circle cx="1335.1" cy="317.8" r="5.8"/>
</g>
<g fill="url(#go1)">
<circle cx="1277.4" cy="330.1" r="5.9"/>
<circle cx="1306.1" cy="329.3" r="5.0"/>
</g>
<g fill="url(#go2)">
<circle cx="1344.2" cy="165.1" r="4.6"/>
</g>
<g fill="url(#go1)">
<circle cx="1304.1" cy="322.3" r="5.3"/>
<circle cx="1244.4" cy="252.0" r="6.1"/>
<circle cx="1258.4" cy="399.1" r="5.0"/>
<circle cx="1246.4" cy="139.3" r="4.8"/>
<circle cx="1229.9" cy="289.3" r="4.8"/>
<circle cx="1265.3" cy="163.7" r="4.9"/>
<circle cx="1272.3" cy="333.5" r="6.2"/>
<circle cx="1271.3" cy="399.1" r="5.4"/>
<circle cx="1307.0" cy="385.1" r="4.5"/>
<circle cx="1274.0" cy="175.5" r="5.4"/>
<circle cx="1287.8" cy="337.6" r="4.6"/>
<circle cx="1289.8" cy="206.6" r="4.5"/>
<circle cx="1277.6" cy="200.1" r="5.0"/>
<circle cx="1325.7" cy="107.4" r="5.2"/>
<circle cx="1253.9" cy="178.1" r="4.3"/>
<circle cx="1245.3" cy="147.8" r="5.1"/>
<circle cx="1249.9" cy="102.2" r="4.8"/>
<circle cx="1237.3" cy="301.0" r="4.3"/>
<circle cx="1265.8" cy="311.9" r="4.4"/>
<circle cx="1251.8" cy="223.7" r="5.4"/>
</g>
<g fill="url(#go2)">
<circle cx="1338.0" cy="224.8" r="5.5"/>
</g>
<g fill="url(#go1)">
<circle cx="1268.9" cy="351.8" r="5.9"/>
<circle cx="1266.4" cy="144.3" r="4.8"/>
<circle cx="1309.8" cy="86.8" r="5.9"/>
<circle cx="1251.0" cy="379.6" r="4.5"/>
</g>
<g fill="url(#go2)">
<circle cx="1347.7" cy="274.2" r="5.3"/>
<circle cx="1345.5" cy="206.2" r="6.1"/>
</g>
<g fill="url(#go1)">
<circle cx="1269.1" cy="350.9" r="4.4"/>
<circle cx="1259.0" cy="131.4" r="4.5"/>
<circle cx="1339.5" cy="102.9" r="5.4"/>
<circle cx="1355.0" cy="424.7" r="6.4"/>
<circle cx="1246.4" cy="192.0" r="5.5"/>
</g>
<g fill="url(#go2)">
<circle cx="1342.0" cy="216.8" r="5.4"/>
</g>
<g fill="url(#go1)">
<circle cx="1296.9" cy="104.4" r="5.4"/>
<circle cx="1246.8" cy="253.2" r="4.5"/>
<circle cx="1319.3" cy="242.1" r="5.9"/>
<circle cx="1240.1" cy="303.9" r="5.1"/>
<circle cx="1250.9" cy="378.2" r="5.7"/>
<circle cx="1248.6" cy="142.4" r="6.1"/>
<circle cx="1260.7" cy="390.1" r="5.1"/>
<circle cx="1309.1" cy="245.0" r="4.8"/>
<circle cx="1262.5" cy="100.9" r="5.0"/>
<circle cx="1241.1" cy="304.3" r="4.3"/>
<circle cx="1235.4" cy="281.4" r="5.6"/>
<circle cx="1241.2" cy="341.1" r="6.0"/>
<circle cx="1303.6" cy="272.6" r="5.8"/>
<circle cx="1312.6" cy="162.0" r="4.9"/>
<circle cx="1309.1" cy="345.6" r="4.9"/>
<circle cx="1257.4" cy="212.7" r="5.4"/>
<circle cx="1299.7" cy="95.2" r="4.4"/>
<circle cx="1258.0" cy="284.8" r="4.3"/>
<circle cx="1263.5" cy="163.7" r="5.3"/>
<circle cx="1359.8" cy="157.6" r="5.7"/>
<circle cx="1260.5" cy="362.5" r="5.2"/>
<circle cx="1367.3" cy="126.4" r="4.5"/>
<circle cx="1266.0" cy="162.4" r="5.8"/>
<circle cx="1329.4" cy="368.8" r="5.2"/>
<circle cx="1276.6" cy="282.2" r="5.6"/>
<circle cx="1350.6" cy="217.3" r="5.2"/>
<circle cx="1267.4" cy="169.2" r="4.7"/>
<circle cx="1302.4" cy="335.6" r="6.2"/>
<circle cx="1295.7" cy="320.9" r="5.9"/>
<circle cx="1349.4" cy="158.8" r="6.0"/>
<circle cx="1260.0" cy="128.5" r="4.9"/>
<circle cx="1350.5" cy="107.0" r="4.9"/>
<circle cx="1345.3" cy="300.9" r="4.4"/>
<circle cx="1255.9" cy="131.1" r="6.4"/>
<circle cx="1255.3" cy="262.5" r="5.7"/>
<circle cx="1300.3" cy="214.9" r="5.2"/>
<circle cx="1234.8" cy="394.5" r="6.0"/>
<circle cx="1298.0" cy="247.9" r="6.2"/>
<circle cx="1299.8" cy="207.8" r="4.6"/>
<circle cx="1243.8" cy="409.9" r="4.4"/>
<circle cx="1349.1" cy="110.9" r="5.2"/>
<circle cx="1329.0" cy="276.2" r="6.0"/>
<circle cx="1277.9" cy="330.3" r="5.0"/>
<circle cx="1275.7" cy="143.2" r="4.9"/>
<circle cx="1331.0" cy="188.4" r="5.7"/>
<circle cx="1248.1" cy="146.2" r="4.7"/>
<circle cx="1302.4" cy="354.1" r="5.2"/>
<circle cx="1259.5" cy="413.0" r="5.6"/>
<circle cx="1337.1" cy="363.4" r="5.5"/>
<circle cx="1371.7" cy="128.7" r="5.3"/>
<circle cx="1251.6" cy="381.9" r="5.9"/>
<circle cx="1335.4" cy="198.5" r="6.1"/>
<circle cx="1251.9" cy="372.4" r="4.5"/>
<circle cx="1274.1" cy="169.6" r="5.3"/>
<circle cx="1294.0" cy="353.1" r="4.9"/>
<circle cx="1348.8" cy="229.2" r="4.6"/>
<circle cx="1292.9" cy="125.0" r="6.2"/>
<circle cx="1243.9" cy="340.7" r="4.4"/>
<circle cx="1275.6" cy="239.7" r="5.1"/>
<circle cx="1284.3" cy="196.2" r="4.6"/>
<circle cx="1323.5" cy="181.2" r="5.7"/>
<circle cx="1252.8" cy="98.8" r="5.2"/>
<circle cx="1266.8" cy="103.4" r="5.4"/>
<circle cx="1304.1" cy="316.8" r="4.7"/>
<circle cx="1331.9" cy="203.2" r="4.6"/>
<circle cx="1331.3" cy="236.3" r="5.1"/>
<circle cx="1251.6" cy="300.6" r="6.0"/>
<circle cx="1283.0" cy="99.4" r="4.3"/>
<circle cx="1343.8" cy="103.3" r="6.4"/>
<circle cx="1261.4" cy="222.7" r="6.2"/>
<circle cx="1266.4" cy="313.5" r="5.6"/>
<circle cx="1256.1" cy="200.8" r="5.3"/>
<circle cx="1298.6" cy="319.4" r="5.9"/>
<circle cx="1331.8" cy="288.0" r="5.3"/>
<circle cx="1349.1" cy="315.3" r="5.3"/>
<circle cx="1317.5" cy="220.3" r="4.6"/>
<circle cx="1363.4" cy="164.9" r="4.7"/>
<circle cx="1266.1" cy="141.3" r="5.8"/>
<circle cx="1254.3" cy="112.1" r="6.3"/>
<circle cx="1356.6" cy="98.2" r="5.6"/>
<circle cx="1356.1" cy="205.0" r="4.9"/>
<circle cx="1222.4" cy="415.9" r="4.8"/>
<circle cx="1318.4" cy="347.5" r="4.7"/>
<circle cx="1279.8" cy="283.1" r="4.3"/>
<circle cx="1275.7" cy="359.3" r="5.1"/>
<circle cx="1328.1" cy="96.2" r="4.9"/>
<circle cx="1315.5" cy="350.0" r="4.8"/>
<circle cx="1269.5" cy="406.0" r="5.7"/>
<circle cx="1258.8" cy="391.9" r="4.7"/>
<circle cx="1270.2" cy="314.5" r="4.5"/>
<circle cx="1338.0" cy="262.7" r="5.4"/>
<circle cx="1343.0" cy="279.4" r="4.8"/>
<circle cx="1342.0" cy="365.3" r="5.0"/>
<circle cx="1253.0" cy="171.4" r="5.0"/>
<circle cx="1351.8" cy="217.9" r="5.4"/>
<circle cx="1288.1" cy="350.7" r="5.9"/>
<circle cx="1232.5" cy="386.2" r="4.6"/>
<circle cx="1333.8" cy="323.5" r="4.4"/>
<circle cx="1339.4" cy="269.1" r="5.4"/>
<circle cx="1283.8" cy="93.8" r="5.2"/>
<circle cx="1294.4" cy="336.9" r="4.4"/>
<circle cx="1305.6" cy="348.4" r="4.7"/>
<circle cx="1246.3" cy="250.2" r="6.0"/>
<circle cx="1344.4" cy="270.4" r="5.8"/>
<circle cx="1270.9" cy="250.8" r="4.3"/>
<circle cx="1248.0" cy="158.0" r="4.4"/>
<circle cx="1234.3" cy="93.0" r="5.8"/>
<circle cx="1232.8" cy="305.9" r="4.9"/>
<circle cx="1335.5" cy="189.4" r="6.4"/>
<circle cx="1302.5" cy="412.3" r="5.0"/>
<circle cx="1268.2" cy="252.3" r="6.1"/>
<circle cx="1273.3" cy="303.7" r="4.6"/>
<circle cx="1266.0" cy="251.5" r="6.2"/>
<circle cx="1253.5" cy="382.1" r="5.0"/>
<circle cx="1262.4" cy="243.4" r="4.6"/>
<circle cx="1297.7" cy="335.0" r="5.4"/>
<circle cx="1265.0" cy="311.7" r="5.5"/>
<circle cx="1275.7" cy="142.3" r="4.9"/>
<circle cx="1352.7" cy="309.8" r="5.5"/>
<circle cx="1264.2" cy="358.9" r="4.9"/>
<circle cx="1244.8" cy="134.3" r="5.1"/>
<circle cx="1255.3" cy="396.4" r="5.1"/>
<circle cx="1313.5" cy="110.8" r="5.1"/>
<circle cx="1344.8" cy="270.3" r="5.6"/>
<circle cx="1263.9" cy="85.8" r="4.6"/>
<circle cx="1337.6" cy="145.5" r="5.2"/>
<circle cx="1293.1" cy="343.7" r="5.8"/>
<circle cx="1305.7" cy="173.5" r="6.1"/>
<circle cx="1319.2" cy="228.3" r="4.7"/>
<circle cx="1328.5" cy="342.7" r="5.3"/>
<circle cx="1291.3" cy="211.0" r="4.4"/>
<circle cx="1266.8" cy="134.0" r="6.0"/>
<circle cx="1327.1" cy="286.5" r="6.0"/>
<circle cx="1266.3" cy="240.8" r="6.1"/>
<circle cx="1266.9" cy="362.2" r="6.1"/>
<circle cx="1309.9" cy="377.7" r="5.8"/>
<circle cx="1271.4" cy="126.0" r="5.8"/>
<circle cx="1293.0" cy="247.5" r="5.6"/>
<circle cx="1329.3" cy="296.1" r="5.7"/>
<circle cx="1249.3" cy="217.2" r="5.7"/>
<circle cx="1303.1" cy="222.7" r="4.4"/>
<circle cx="1308.6" cy="304.2" r="4.4"/>
<circle cx="1297.1" cy="328.3" r="5.1"/>
<circle cx="1295.0" cy="284.6" r="5.8"/>
<circle cx="1333.0" cy="146.0" r="6.3"/>
<circle cx="1287.6" cy="208.6" r="5.9"/>
<circle cx="1331.8" cy="327.7" r="5.4"/>
<circle cx="1291.2" cy="127.0" r="5.0"/>
<circle cx="1323.6" cy="213.2" r="5.8"/>
<circle cx="1303.6" cy="193.9" r="4.9"/>
<circle cx="1314.3" cy="299.3" r="6.0"/>
<circle cx="1249.2" cy="148.2" r="5.9"/>
<circle cx="1271.4" cy="281.8" r="6.4"/>
<circle cx="1305.3" cy="284.1" r="6.0"/>
<circle cx="1334.2" cy="348.9" r="5.6"/>
<circle cx="1323.2" cy="242.6" r="4.7"/>
<circle cx="1270.2" cy="175.5" r="5.9"/>
<circle cx="1331.3" cy="369.9" r="6.4"/>
<circle cx="1281.8" cy="278.5" r="6.4"/>
<circle cx="1290.0" cy="245.7" r="5.1"/>
<circle cx="1295.7" cy="108.3" r="4.4"/>
<circle cx="1262.5" cy="203.1" r="5.5"/>
<circle cx="1293.6" cy="105.5" r="4.4"/>
<circle cx="1264.8" cy="121.1" r="6.1"/>
<circle cx="1252.8" cy="156.5" r="4.7"/>
<circle cx="1305.9" cy="213.4" r="5.8"/>
<circle cx="1319.6" cy="121.9" r="5.8"/>
<circle cx="1311.0" cy="279.8" r="4.9"/>
<circle cx="1263.0" cy="108.6" r="5.2"/>
<circle cx="1296.0" cy="105.9" r="6.1"/>
<circle cx="1254.7" cy="362.6" r="6.2"/>
<circle cx="1259.6" cy="277.4" r="4.9"/>
<circle cx="1233.9" cy="386.5" r="5.4"/>
<circle cx="1250.2" cy="142.1" r="5.0"/>
<circle cx="1250.8" cy="107.5" r="5.5"/>
<circle cx="1273.0" cy="241.5" r="5.8"/>
<circle cx="1338.4" cy="208.8" r="5.5"/>
<circle cx="1308.8" cy="386.3" r="6.3"/>
<circle cx="1337.0" cy="191.6" r="4.6"/>
<circle cx="1231.5" cy="345.5" r="5.2"/>
<circle cx="1328.1" cy="142.1" r="5.9"/>
<circle cx="1248.1" cy="408.2" r="6.0"/>
<circle cx="1234.8" cy="349.7" r="6.2"/>
<circle cx="1307.7" cy="296.1" r="5.9"/>
<circle cx="1332.7" cy="214.1" r="6.4"/>
<circle cx="1272.8" cy="85.7" r="5.1"/>
<circle cx="1298.0" cy="168.3" r="5.4"/>
<circle cx="1314.5" cy="208.8" r="4.4"/>
<circle cx="1262.9" cy="396.9" r="5.4"/>
<circle cx="1327.7" cy="355.6" r="6.0"/>
<circle cx="1316.5" cy="373.2" r="4.4"/>
<circle cx="1310.9" cy="102.3" r="6.4"/>
<circle cx="1297.9" cy="283.8" r="5.2"/>
<circle cx="1260.4" cy="424.6" r="6.1"/>
<circle cx="1362.3" cy="131.1" r="5.0"/>
<circle cx="1310.2" cy="297.6" r="4.7"/>
<circle cx="1349.0" cy="87.7" r="5.0"/>
<circle cx="1228.7" cy="334.6" r="6.1"/>
<circle cx="1256.6" cy="305.3" r="4.3"/>
<circle cx="1250.9" cy="140.9" r="4.6"/>
<circle cx="1262.2" cy="349.3" r="4.7"/>
<circle cx="1240.2" cy="339.8" r="5.5"/>
<circle cx="1250.2" cy="230.1" r="4.9"/>
<circle cx="1256.6" cy="208.3" r="4.4"/>
<circle cx="1239.0" cy="336.3" r="5.2"/>
<circle cx="1244.5" cy="154.7" r="5.5"/>
<circle cx="1338.8" cy="359.3" r="5.6"/>
<circle cx="1335.0" cy="199.5" r="5.0"/>
<circle cx="1298.4" cy="345.4" r="5.5"/>
<circle cx="1306.0" cy="257.5" r="5.0"/>
<circle cx="1311.5" cy="342.6" r="6.4"/>
<circle cx="1273.3" cy="316.3" r="4.7"/>
<circle cx="1246.3" cy="299.0" r="4.4"/>
<circle cx="1257.5" cy="389.3" r="4.9"/>
<circle cx="1353.9" cy="201.6" r="5.2"/>
<circle cx="1294.6" cy="91.2" r="4.5"/>
<circle cx="1297.2" cy="121.9" r="5.1"/>
<circle cx="1268.6" cy="105.9" r="4.8"/>
<circle cx="1319.7" cy="121.6" r="6.1"/>
<circle cx="1245.1" cy="333.7" r="5.4"/>
<circle cx="1344.4" cy="225.0" r="5.6"/>
<circle cx="1336.6" cy="195.2" r="5.8"/>
<circle cx="1251.7" cy="100.6" r="4.8"/>
<circle cx="1364.2" cy="127.5" r="5.9"/>
<circle cx="1327.2" cy="367.9" r="5.2"/>
<circle cx="1265.1" cy="423.9" r="5.7"/>
<circle cx="1259.4" cy="301.2" r="5.7"/>
<circle cx="1271.5" cy="336.5" r="5.0"/>
<circle cx="1256.6" cy="233.2" r="4.6"/>
<circle cx="1258.1" cy="421.4" r="5.2"/>
<circle cx="1329.0" cy="355.5" r="5.4"/>
<circle cx="1362.6" cy="127.9" r="5.9"/>
<circle cx="1355.9" cy="163.3" r="6.1"/>
<circle cx="1245.9" cy="344.1" r="6.1"/>
<circle cx="1251.2" cy="274.2" r="5.7"/>
<circle cx="1270.2" cy="353.4" r="4.5"/>
<circle cx="1364.6" cy="120.3" r="5.1"/>
<circle cx="1352.0" cy="209.3" r="6.0"/>
<circle cx="1297.8" cy="348.2" r="5.7"/>
<circle cx="1341.1" cy="361.8" r="4.9"/>
<circle cx="1320.4" cy="350.7" r="5.4"/>
<circle cx="1346.8" cy="212.4" r="5.0"/>
<circle cx="1291.4" cy="82.5" r="4.6"/>
<circle cx="1265.5" cy="406.5" r="4.3"/>
<circle cx="1301.3" cy="315.1" r="5.0"/>
<circle cx="1289.7" cy="310.5" r="6.3"/>
<circle cx="1314.2" cy="341.6" r="4.5"/>
<circle cx="1296.8" cy="353.6" r="6.1"/>
<circle cx="1332.6" cy="292.4" r="5.4"/>
<circle cx="1334.6" cy="334.7" r="5.7"/>
<circle cx="1262.8" cy="141.0" r="6.0"/>
<circle cx="1308.2" cy="256.5" r="5.1"/>
<circle cx="1226.6" cy="408.6" r="4.5"/>
<circle cx="1254.2" cy="371.1" r="5.7"/>
<circle cx="1306.7" cy="178.1" r="5.7"/>
<circle cx="1331.7" cy="137.6" r="5.4"/>
<circle cx="1302.6" cy="278.5" r="5.9"/>
<circle cx="1250.4" cy="164.4" r="6.1"/>
<circle cx="1337.9" cy="284.4" r="5.4"/>
<circle cx="1343.3" cy="250.2" r="5.0"/>
<circle cx="1301.2" cy="216.6" r="5.9"/>
<circle cx="1333.8" cy="143.1" r="5.1"/>
<circle cx="1257.6" cy="422.1" r="6.4"/>
<circle cx="1313.4" cy="216.4" r="5.1"/>
<circle cx="1293.8" cy="121.6" r="5.7"/>
<circle cx="1347.5" cy="168.5" r="5.2"/>
<circle cx="1270.7" cy="170.9" r="4.9"/>
<circle cx="1325.6" cy="350.9" r="4.7"/>
<circle cx="1271.9" cy="397.1" r="5.2"/>
<circle cx="1231.6" cy="304.7" r="4.4"/>
<circle cx="1354.2" cy="213.0" r="5.9"/>
<circle cx="1289.4" cy="252.8" r="4.7"/>
<circle cx="1299.7" cy="249.7" r="6.0"/>
<circle cx="1266.0" cy="400.7" r="6.3"/>
<circle cx="1265.6" cy="393.9" r="6.2"/>
<circle cx="1324.2" cy="324.3" r="6.3"/>
<circle cx="1265.4" cy="362.4" r="4.8"/>
<circle cx="1343.4" cy="175.7" r="6.3"/>
<circle cx="1356.9" cy="203.5" r="5.6"/>
<circle cx="1307.1" cy="348.0" r="4.7"/>
<circle cx="1347.2" cy="213.4" r="5.2"/>
<circle cx="1254.6" cy="395.0" r="5.7"/>
<circle cx="1302.3" cy="265.6" r="5.0"/>
<circle cx="1254.4" cy="398.7" r="6.4"/>
<circle cx="1301.1" cy="254.3" r="5.8"/>
<circle cx="1315.8" cy="126.8" r="5.0"/>
<circle cx="1301.8" cy="346.5" r="5.9"/>
<circle cx="1230.3" cy="337.5" r="5.8"/>
<circle cx="1309.3" cy="108.4" r="4.4"/>
<circle cx="1325.7" cy="192.1" r="6.4"/>
<circle cx="1261.2" cy="394.5" r="4.4"/>
<circle cx="1305.6" cy="222.5" r="4.5"/>
<circle cx="1281.3" cy="194.1" r="5.0"/>
<circle cx="1252.2" cy="277.1" r="6.2"/>
<circle cx="1308.3" cy="255.0" r="4.7"/>
<circle cx="1232.4" cy="296.4" r="6.1"/>
<circle cx="1336.8" cy="369.0" r="6.3"/>
<circle cx="1282.8" cy="209.2" r="5.0"/>
<circle cx="1277.5" cy="137.7" r="5.7"/>
<circle cx="1341.3" cy="90.8" r="5.0"/>
<circle cx="1349.6" cy="248.9" r="6.0"/>
<circle cx="1313.9" cy="116.3" r="4.8"/>
<circle cx="1236.9" cy="330.0" r="6.1"/>
<circle cx="1265.3" cy="416.6" r="4.3"/>
<circle cx="1293.3" cy="313.0" r="5.8"/>
<circle cx="1251.8" cy="299.5" r="5.7"/>
<circle cx="1275.7" cy="115.8" r="4.7"/>
<circle cx="1298.9" cy="90.3" r="4.4"/>
<circle cx="1316.0" cy="118.9" r="6.3"/>
<circle cx="1301.1" cy="124.0" r="4.7"/>
<circle cx="1344.1" cy="197.3" r="6.1"/>
<circle cx="1267.0" cy="311.9" r="5.0"/>
<circle cx="1325.0" cy="186.6" r="4.9"/>
<circle cx="1337.9" cy="369.8" r="5.6"/>
<circle cx="1336.7" cy="402.0" r="5.4"/>
<circle cx="1263.2" cy="410.6" r="4.5"/>
<circle cx="1367.0" cy="198.2" r="6.2"/>
<circle cx="1308.8" cy="176.3" r="5.8"/>
<circle cx="1263.1" cy="380.8" r="5.0"/>
<circle cx="1317.9" cy="274.8" r="5.9"/>
<circle cx="1316.4" cy="329.7" r="5.8"/>
<circle cx="1338.6" cy="266.1" r="5.9"/>
<circle cx="1346.0" cy="178.0" r="4.8"/>
<circle cx="1322.1" cy="326.1" r="4.7"/>
<circle cx="1325.4" cy="419.7" r="5.9"/>
<circle cx="1270.8" cy="362.3" r="6.2"/>
<circle cx="1344.2" cy="201.4" r="4.3"/>
<circle cx="1316.9" cy="379.4" r="6.0"/>
<circle cx="1335.7" cy="345.4" r="6.2"/>
<circle cx="1320.6" cy="425.1" r="5.2"/>
<circle cx="1261.4" cy="422.6" r="6.4"/>
<circle cx="1345.3" cy="174.7" r="5.2"/>
<circle cx="1308.1" cy="380.7" r="5.8"/>
<circle cx="1245.4" cy="341.6" r="5.9"/>
<circle cx="1314.5" cy="333.0" r="4.9"/>
<circle cx="1321.5" cy="266.8" r="5.2"/>
<circle cx="1288.7" cy="211.7" r="5.6"/>
<circle cx="1264.6" cy="139.8" r="4.6"/>
<circle cx="1324.9" cy="262.1" r="5.9"/>
<circle cx="1332.5" cy="108.0" r="5.3"/>
<circle cx="1339.3" cy="146.0" r="5.6"/>
<circle cx="1335.2" cy="290.9" r="6.0"/>
<circle cx="1227.4" cy="386.8" r="4.4"/>
<circle cx="1256.8" cy="328.8" r="5.0"/>
<circle cx="1332.6" cy="357.7" r="4.8"/>
<circle cx="1261.1" cy="329.3" r="5.5"/>
<circle cx="1237.1" cy="403.3" r="5.9"/>
<circle cx="1261.7" cy="198.0" r="5.8"/>
<circle cx="1318.9" cy="281.9" r="4.8"/>
<circle cx="1227.6" cy="381.6" r="5.6"/>
<circle cx="1300.5" cy="261.2" r="5.2"/>
<circle cx="1357.7" cy="202.9" r="6.1"/>
<circle cx="1245.3" cy="334.0" r="4.6"/>
<circle cx="1241.0" cy="338.6" r="4.6"/>
<circle cx="1346.3" cy="215.8" r="5.4"/>
<circle cx="1321.0" cy="348.6" r="5.4"/>
<circle cx="1292.5" cy="332.4" r="5.3"/>
<circle cx="1232.7" cy="335.8" r="6.4"/>
<circle cx="1295.8" cy="343.5" r="4.8"/>
<circle cx="1263.7" cy="131.8" r="5.1"/>
<circle cx="1303.7" cy="120.1" r="5.9"/>
<circle cx="1256.8" cy="396.2" r="6.1"/>
<circle cx="1301.9" cy="312.0" r="4.4"/>
<circle cx="1322.3" cy="272.1" r="4.3"/>
<circle cx="1275.4" cy="280.3" r="4.5"/>
<circle cx="1231.1" cy="343.8" r="4.6"/>
<circle cx="1309.1" cy="173.6" r="5.4"/>
<circle cx="1311.3" cy="322.5" r="5.9"/>
<circle cx="1257.3" cy="249.7" r="4.8"/>
<circle cx="1271.8" cy="242.9" r="4.7"/>
<circle cx="1243.0" cy="351.5" r="5.6"/>
<circle cx="1301.1" cy="163.3" r="6.1"/>
<circle cx="1332.6" cy="426.4" r="5.8"/>
<circle cx="1322.3" cy="325.3" r="5.7"/>
<circle cx="1294.2" cy="283.8" r="6.2"/>
<circle cx="1242.1" cy="330.8" r="4.9"/>
<circle cx="1325.1" cy="284.8" r="4.9"/>
<circle cx="1329.0" cy="259.8" r="5.2"/>
<circle cx="1313.8" cy="207.7" r="5.8"/>
<circle cx="1289.2" cy="95.6" r="6.1"/>
<circle cx="1280.3" cy="206.0" r="5.6"/>
<circle cx="1243.2" cy="348.7" r="5.2"/>
<circle cx="1320.6" cy="331.9" r="6.3"/>
<circle cx="1261.6" cy="389.1" r="6.3"/>
<circle cx="1271.2" cy="395.5" r="5.7"/>
<circle cx="1287.2" cy="106.2" r="5.0"/>
<circle cx="1358.7" cy="199.4" r="4.7"/>
<circle cx="1308.8" cy="322.1" r="5.9"/>
<circle cx="1303.4" cy="83.6" r="6.2"/>
<circle cx="1263.9" cy="205.9" r="5.9"/>
<circle cx="1329.3" cy="122.4" r="5.7"/>
<circle cx="1273.5" cy="136.3" r="5.2"/>
<circle cx="1289.6" cy="159.9" r="4.4"/>
<circle cx="1309.8" cy="169.4" r="5.6"/>
<circle cx="1301.3" cy="234.2" r="6.0"/>
<circle cx="1358.2" cy="203.5" r="5.5"/>
<circle cx="1261.1" cy="144.0" r="6.4"/>
<circle cx="1336.6" cy="160.1" r="6.2"/>
<circle cx="1359.8" cy="131.7" r="6.0"/>
<circle cx="1240.8" cy="340.8" r="5.9"/>
<circle cx="1333.3" cy="209.1" r="5.5"/>
<circle cx="1274.2" cy="123.5" r="4.7"/>
<circle cx="1277.0" cy="118.7" r="4.6"/>
<circle cx="1272.7" cy="304.5" r="6.2"/>
<circle cx="1304.9" cy="102.8" r="5.0"/>
<circle cx="1309.8" cy="347.6" r="5.8"/>
<circle cx="1353.2" cy="123.6" r="4.5"/>
<circle cx="1344.2" cy="400.7" r="5.7"/>
<circle cx="1238.9" cy="348.2" r="5.0"/>
<circle cx="1339.3" cy="216.5" r="4.8"/>
<circle cx="1245.0" cy="341.5" r="4.4"/>
<circle cx="1225.1" cy="415.0" r="5.7"/>
<circle cx="1332.4" cy="284.7" r="4.6"/>
<circle cx="1332.4" cy="161.5" r="6.3"/>
<circle cx="1330.5" cy="283.0" r="5.0"/>
<circle cx="1332.5" cy="392.5" r="4.8"/>
<circle cx="1224.1" cy="297.6" r="4.6"/>
<circle cx="1299.4" cy="222.0" r="5.2"/>
<circle cx="1251.8" cy="231.2" r="6.1"/>
<circle cx="1263.9" cy="391.5" r="5.7"/>
<circle cx="1282.6" cy="202.9" r="5.9"/>
<circle cx="1341.6" cy="169.4" r="6.0"/>
<circle cx="1251.1" cy="327.6" r="6.3"/>
<circle cx="1302.7" cy="342.6" r="5.8"/>
<circle cx="1278.5" cy="350.6" r="6.4"/>
<circle cx="1282.1" cy="191.8" r="6.3"/>
<circle cx="1272.6" cy="335.9" r="4.3"/>
<circle cx="1321.5" cy="146.4" r="4.8"/>
<circle cx="1341.2" cy="90.4" r="4.5"/>
<circle cx="1266.2" cy="420.9" r="6.1"/>
<circle cx="1286.0" cy="199.0" r="5.3"/>
<circle cx="1300.4" cy="158.2" r="5.0"/>
<circle cx="1249.2" cy="347.8" r="5.2"/>
<circle cx="1284.1" cy="197.7" r="6.3"/>
<circle cx="1246.1" cy="94.2" r="6.3"/>
<circle cx="1264.0" cy="356.6" r="4.4"/>
<circle cx="1326.1" cy="343.3" r="4.4"/>
<circle cx="1339.1" cy="157.8" r="5.0"/>
<circle cx="1331.9" cy="260.7" r="4.9"/>
<circle cx="1325.9" cy="273.7" r="5.8"/>
<circle cx="1297.3" cy="264.0" r="5.5"/>
<circle cx="1310.8" cy="247.9" r="5.3"/>
<circle cx="1305.8" cy="220.4" r="4.3"/>
<circle cx="1350.9" cy="250.9" r="4.3"/>
<circle cx="1285.5" cy="140.9" r="4.8"/>
<circle cx="1301.6" cy="311.0" r="4.5"/>
<circle cx="1340.2" cy="198.6" r="4.9"/>
<circle cx="1282.9" cy="104.2" r="5.5"/>
<circle cx="1297.8" cy="263.1" r="5.3"/>
<circle cx="1230.7" cy="396.9" r="4.9"/>
<circle cx="1312.3" cy="374.3" r="5.0"/>
<circle cx="1268.1" cy="423.6" r="4.8"/>
<circle cx="1295.5" cy="287.1" r="6.2"/>
<circle cx="1304.0" cy="91.6" r="4.7"/>
<circle cx="1263.7" cy="424.8" r="4.4"/>
<circle cx="1287.1" cy="108.6" r="5.4"/>
<circle cx="1288.4" cy="373.9" r="4.5"/>
<circle cx="1307.4" cy="110.7" r="6.0"/>
<circle cx="1330.2" cy="158.0" r="4.9"/>
<circle cx="1297.0" cy="256.0" r="4.4"/>
<circle cx="1327.2" cy="322.3" r="6.1"/>
<circle cx="1351.7" cy="310.8" r="5.1"/>
<circle cx="1328.2" cy="141.3" r="6.1"/>
<circle cx="1309.4" cy="303.0" r="6.4"/>
<circle cx="1317.6" cy="422.7" r="5.0"/>
<circle cx="1303.8" cy="243.0" r="4.9"/>
<circle cx="1356.0" cy="177.3" r="5.1"/>
<circle cx="1305.1" cy="255.5" r="6.4"/>
<circle cx="1295.5" cy="165.4" r="5.8"/>
<circle cx="1331.6" cy="392.9" r="6.1"/>
<circle cx="1347.3" cy="247.2" r="6.3"/>
<circle cx="1325.3" cy="143.6" r="6.2"/>
<circle cx="1314.7" cy="121.0" r="6.4"/>
<circle cx="1300.7" cy="228.1" r="4.9"/>
<circle cx="1294.1" cy="272.4" r="5.6"/>
<circle cx="1267.2" cy="319.5" r="4.7"/>
<circle cx="1225.9" cy="416.6" r="5.5"/>
<circle cx="1249.2" cy="325.3" r="5.9"/>
<circle cx="1322.1" cy="422.3" r="4.7"/>
<circle cx="1254.2" cy="299.3" r="5.3"/>
<circle cx="1340.3" cy="172.0" r="6.4"/>
<circle cx="1259.7" cy="135.5" r="5.1"/>
<circle cx="1328.4" cy="350.1" r="5.6"/>
<circle cx="1254.3" cy="201.7" r="6.2"/>
<circle cx="1282.7" cy="278.0" r="5.1"/>
<circle cx="1245.0" cy="270.6" r="6.2"/>
<circle cx="1341.6" cy="388.4" r="6.2"/>
<circle cx="1336.1" cy="224.3" r="6.0"/>
<circle cx="1260.6" cy="387.5" r="5.8"/>
<circle cx="1328.8" cy="422.1" r="4.5"/>
<circle cx="1274.6" cy="314.6" r="5.4"/>
<circle cx="1248.6" cy="344.3" r="6.2"/>
<circle cx="1271.7" cy="397.9" r="5.9"/>
<circle cx="1268.7" cy="395.6" r="5.9"/>
<circle cx="1249.4" cy="274.2" r="5.7"/>
<circle cx="1265.8" cy="202.3" r="4.5"/>
<circle cx="1235.3" cy="300.8" r="5.2"/>
<circle cx="1318.3" cy="115.3" r="5.6"/>
<circle cx="1271.4" cy="232.6" r="4.5"/>
<circle cx="1264.8" cy="170.8" r="4.7"/>
<circle cx="1293.1" cy="347.9" r="5.6"/>
<circle cx="1345.8" cy="219.9" r="5.9"/>
<circle cx="1238.2" cy="342.2" r="4.7"/>
<circle cx="1311.7" cy="320.5" r="5.6"/>
<circle cx="1252.4" cy="345.0" r="4.3"/>
<circle cx="1304.1" cy="225.6" r="4.4"/>
<circle cx="1363.5" cy="198.4" r="4.4"/>
<circle cx="1279.4" cy="140.4" r="4.4"/>
<circle cx="1342.4" cy="393.9" r="5.0"/>
<circle cx="1314.7" cy="303.9" r="6.0"/>
<circle cx="1320.1" cy="342.9" r="4.4"/>
<circle cx="1327.4" cy="147.0" r="4.4"/>
<circle cx="1338.1" cy="425.7" r="4.6"/>
<circle cx="1250.9" cy="277.4" r="4.6"/>
<circle cx="1271.3" cy="316.9" r="4.4"/>
<circle cx="1315.8" cy="261.6" r="5.0"/>
<circle cx="1323.6" cy="115.2" r="6.0"/>
<circle cx="1293.9" cy="345.1" r="5.5"/>
<circle cx="1261.7" cy="331.1" r="4.4"/>
<circle cx="1325.5" cy="262.3" r="6.3"/>
<circle cx="1318.2" cy="339.4" r="5.0"/>
<circle cx="1256.0" cy="149.5" r="5.7"/>
<circle cx="1270.8" cy="359.7" r="4.5"/>
<circle cx="1315.7" cy="309.2" r="6.2"/>
<circle cx="1243.9" cy="336.6" r="4.9"/>
<circle cx="1250.7" cy="345.9" r="4.5"/>
<circle cx="1256.7" cy="147.5" r="4.3"/>
<circle cx="1370.5" cy="113.5" r="5.7"/>
<circle cx="1245.1" cy="273.2" r="4.7"/>
<circle cx="1366.3" cy="114.4" r="6.1"/>
<circle cx="1317.6" cy="108.4" r="6.2"/>
<circle cx="1261.2" cy="156.0" r="4.9"/>
<circle cx="1298.7" cy="285.9" r="6.2"/>
<circle cx="1321.7" cy="324.1" r="5.4"/>
<circle cx="1256.2" cy="137.6" r="4.4"/>
<circle cx="1290.3" cy="367.6" r="5.1"/>
<circle cx="1282.9" cy="109.7" r="6.0"/>
<circle cx="1342.0" cy="91.2" r="4.4"/>
<circle cx="1303.6" cy="372.7" r="5.4"/>
<circle cx="1257.6" cy="244.2" r="5.3"/>
<circle cx="1363.9" cy="113.3" r="4.5"/>
<circle cx="1330.1" cy="266.2" r="5.6"/>
<circle cx="1298.6" cy="279.0" r="4.9"/>
<circle cx="1275.9" cy="395.1" r="6.3"/>
<circle cx="1365.4" cy="197.1" r="4.6"/>
<circle cx="1296.0" cy="84.0" r="5.4"/>
<circle cx="1256.7" cy="329.3" r="6.1"/>
<circle cx="1253.0" cy="343.7" r="4.5"/>
<circle cx="1271.2" cy="315.0" r="4.8"/>
<circle cx="1329.9" cy="326.1" r="5.0"/>
<circle cx="1362.0" cy="121.1" r="6.2"/>
<circle cx="1298.8" cy="259.6" r="6.1"/>
<circle cx="1302.6" cy="368.1" r="4.8"/>
<circle cx="1281.5" cy="244.3" r="5.8"/>
<circle cx="1281.2" cy="195.1" r="6.3"/>
<circle cx="1244.1" cy="225.9" r="5.8"/>
<circle cx="1292.5" cy="165.2" r="6.0"/>
<circle cx="1341.5" cy="215.7" r="5.4"/>
<circle cx="1287.1" cy="104.5" r="5.6"/>
<circle cx="1320.9" cy="191.3" r="5.5"/>
<circle cx="1339.3" cy="361.0" r="5.6"/>
<circle cx="1361.1" cy="178.2" r="6.2"/>
<circle cx="1343.8" cy="201.2" r="5.8"/>
<circle cx="1278.9" cy="366.8" r="5.9"/>
<circle cx="1364.9" cy="107.6" r="5.4"/>
<circle cx="1351.7" cy="208.3" r="4.6"/>
<circle cx="1330.0" cy="383.7" r="6.3"/>
<circle cx="1237.3" cy="398.3" r="5.2"/>
<circle cx="1346.5" cy="209.7" r="6.3"/>
<circle cx="1267.0" cy="246.0" r="6.1"/>
<circle cx="1342.1" cy="367.6" r="6.2"/>
<circle cx="1287.5" cy="371.0" r="5.7"/>
<circle cx="1253.3" cy="344.2" r="5.7"/>
<circle cx="1334.9" cy="353.7" r="5.2"/>
<circle cx="1303.8" cy="105.0" r="5.9"/>
<circle cx="1366.5" cy="115.9" r="4.8"/>
<circle cx="1325.6" cy="334.4" r="4.3"/>
<circle cx="1297.5" cy="317.3" r="4.6"/>
<circle cx="1328.7" cy="348.3" r="6.2"/>
<circle cx="1322.8" cy="120.0" r="5.0"/>
<circle cx="1365.8" cy="110.7" r="6.3"/>
<circle cx="1292.9" cy="343.3" r="5.9"/>
<circle cx="1306.9" cy="104.1" r="4.3"/>
<circle cx="1334.1" cy="161.8" r="4.9"/>
<circle cx="1338.8" cy="116.4" r="6.2"/>
<circle cx="1283.1" cy="197.0" r="5.6"/>
<circle cx="1306.6" cy="320.4" r="6.3"/>
<circle cx="1302.2" cy="83.1" r="4.5"/>
<circle cx="1240.0" cy="352.5" r="5.1"/>
<circle cx="1325.2" cy="425.5" r="4.5"/>
<circle cx="1340.7" cy="230.0" r="5.1"/>
<circle cx="1323.9" cy="277.2" r="6.1"/>
<circle cx="1302.9" cy="250.3" r="4.6"/>
<circle cx="1259.2" cy="250.4" r="6.3"/>
<circle cx="1350.7" cy="207.1" r="5.4"/>
<circle cx="1327.1" cy="154.2" r="6.3"/>
<circle cx="1339.8" cy="366.7" r="5.3"/>
<circle cx="1347.2" cy="253.2" r="5.3"/>
<circle cx="1250.3" cy="231.3" r="5.6"/>
<circle cx="1336.6" cy="217.4" r="5.4"/>
<circle cx="1330.7" cy="377.5" r="5.0"/>
<circle cx="1323.8" cy="282.8" r="5.9"/>
<circle cx="1277.7" cy="319.6" r="6.3"/>
<circle cx="1318.1" cy="282.3" r="5.4"/>
<circle cx="1251.9" cy="326.8" r="6.2"/>
<circle cx="1262.6" cy="252.1" r="6.1"/>
<circle cx="1304.1" cy="89.6" r="4.8"/>
<circle cx="1289.6" cy="267.7" r="4.6"/>
<circle cx="1327.8" cy="273.1" r="5.3"/>
<circle cx="1250.1" cy="230.9" r="5.1"/>
<circle cx="1353.8" cy="180.1" r="4.8"/>
<circle cx="1309.2" cy="158.5" r="4.6"/>
<circle cx="1259.3" cy="153.5" r="4.4"/>
<circle cx="1253.2" cy="353.7" r="4.3"/>
<circle cx="1306.4" cy="255.4" r="5.4"/>
<circle cx="1332.3" cy="426.3" r="6.1"/>
<circle cx="1276.6" cy="243.9" r="5.0"/>
<circle cx="1274.4" cy="401.4" r="5.7"/>
<circle cx="1302.8" cy="163.5" r="5.4"/>
<circle cx="1313.1" cy="264.4" r="5.5"/>
<circle cx="1254.7" cy="336.2" r="5.3"/>
<circle cx="1264.9" cy="154.0" r="6.2"/>
<circle cx="1338.3" cy="257.7" r="4.8"/>
<circle cx="1294.6" cy="82.4" r="5.8"/>
<circle cx="1300.7" cy="308.0" r="5.4"/>
<circle cx="1334.6" cy="145.7" r="4.4"/>
<circle cx="1263.6" cy="384.2" r="4.7"/>
<circle cx="1333.0" cy="381.6" r="5.1"/>
<circle cx="1325.6" cy="217.9" r="5.4"/>
<circle cx="1341.4" cy="391.7" r="5.4"/>
<circle cx="1295.4" cy="268.8" r="5.9"/>
<circle cx="1318.1" cy="105.6" r="4.8"/>
<circle cx="1359.6" cy="172.7" r="6.3"/>
<circle cx="1357.4" cy="181.6" r="6.3"/>
<circle cx="1244.7" cy="327.1" r="5.8"/>
<circle cx="1355.4" cy="83.2" r="4.9"/>
<circle cx="1289.2" cy="112.8" r="4.6"/>
<circle cx="1280.5" cy="194.8" r="6.2"/>
<circle cx="1311.5" cy="151.7" r="4.7"/>
<circle cx="1328.8" cy="101.9" r="5.8"/>
<circle cx="1325.9" cy="334.1" r="5.0"/>
<circle cx="1333.4" cy="385.7" r="6.0"/>
<circle cx="1363.5" cy="202.6" r="5.3"/>
<circle cx="1267.1" cy="391.5" r="4.7"/>
<circle cx="1239.7" cy="348.6" r="5.4"/>
<circle cx="1376.2" cy="108.3" r="6.0"/>
<circle cx="1347.6" cy="255.8" r="5.3"/>
<circle cx="1352.2" cy="205.6" r="5.6"/>
<circle cx="1264.1" cy="201.4" r="6.1"/>
<circle cx="1276.0" cy="194.0" r="5.3"/>
<circle cx="1332.2" cy="285.3" r="6.2"/>
<circle cx="1334.7" cy="166.5" r="4.6"/>
<circle cx="1340.9" cy="114.9" r="5.1"/>
<circle cx="1348.0" cy="398.0" r="4.8"/>
<circle cx="1304.0" cy="139.0" r="5.2"/>
<circle cx="1333.1" cy="219.5" r="6.0"/>
<circle cx="1314.1" cy="343.6" r="6.3"/>
<circle cx="1268.6" cy="406.9" r="4.7"/>
<circle cx="1326.9" cy="190.1" r="5.3"/>
<circle cx="1323.8" cy="282.9" r="5.2"/>
<circle cx="1323.9" cy="186.7" r="6.2"/>
<circle cx="1310.6" cy="152.9" r="4.5"/>
<circle cx="1337.2" cy="390.1" r="4.9"/>
<circle cx="1329.4" cy="113.1" r="6.3"/>
<circle cx="1371.3" cy="113.1" r="4.3"/>
<circle cx="1308.6" cy="116.3" r="4.4"/>
<circle cx="1308.4" cy="326.5" r="4.4"/>
<circle cx="1311.4" cy="100.4" r="5.5"/>
<circle cx="1320.4" cy="153.6" r="4.7"/>
<circle cx="1301.2" cy="86.3" r="4.8"/>
<circle cx="1289.2" cy="263.5" r="5.3"/>
<circle cx="1368.2" cy="121.3" r="4.3"/>
<circle cx="1334.8" cy="423.4" r="4.9"/>
<circle cx="1291.5" cy="372.9" r="5.7"/>
<circle cx="1259.7" cy="239.9" r="4.7"/>
<circle cx="1313.5" cy="103.0" r="5.6"/>
<circle cx="1322.6" cy="187.6" r="5.6"/>
<circle cx="1335.5" cy="377.6" r="4.4"/>
<circle cx="1321.5" cy="275.1" r="4.5"/>
<circle cx="1233.0" cy="419.7" r="6.4"/>
<circle cx="1321.3" cy="328.2" r="6.0"/>
<circle cx="1365.3" cy="208.6" r="5.1"/>
<circle cx="1365.9" cy="110.2" r="5.9"/>
<circle cx="1372.9" cy="117.2" r="6.3"/>
<circle cx="1357.5" cy="171.1" r="4.3"/>
<circle cx="1314.9" cy="334.2" r="4.7"/>
<circle cx="1321.9" cy="266.1" r="4.8"/>
<circle cx="1260.1" cy="244.1" r="5.3"/>
<circle cx="1272.9" cy="318.5" r="5.4"/>
<circle cx="1325.9" cy="330.8" r="5.7"/>
<circle cx="1260.9" cy="199.8" r="5.4"/>
<circle cx="1348.5" cy="395.8" r="5.6"/>
<circle cx="1294.1" cy="158.6" r="6.1"/>
<circle cx="1240.6" cy="420.3" r="5.4"/>
<circle cx="1313.2" cy="320.4" r="4.9"/>
<circle cx="1329.9" cy="380.8" r="5.2"/>
<circle cx="1265.3" cy="393.5" r="5.0"/>
<circle cx="1335.5" cy="162.9" r="5.7"/>
<circle cx="1340.2" cy="386.0" r="6.2"/>
<circle cx="1328.4" cy="377.5" r="4.5"/>
<circle cx="1230.2" cy="423.5" r="5.7"/>
<circle cx="1303.5" cy="149.8" r="5.9"/>
<circle cx="1267.9" cy="390.9" r="4.6"/>
<circle cx="1290.5" cy="374.2" r="6.3"/>
<circle cx="1234.8" cy="423.2" r="5.8"/>
<circle cx="1342.1" cy="215.4" r="5.4"/>
<circle cx="1336.4" cy="117.1" r="4.9"/>
</g>
<g fill="url(#go1)">
<circle cx="1273.3" cy="80.7" r="5.0"/>
<circle cx="1340.2" cy="87.5" r="4.8"/>
<circle cx="1280.1" cy="84.2" r="5.5"/>
<circle cx="1281.7" cy="80.4" r="5.3"/>
<circle cx="1309.1" cy="89.2" r="4.5"/>
<circle cx="1345.0" cy="84.1" r="4.9"/>
<circle cx="1344.4" cy="80.1" r="4.9"/>
<circle cx="1296.6" cy="83.1" r="6.0"/>
<circle cx="1238.2" cy="85.2" r="4.7"/>
<circle cx="1237.7" cy="82.1" r="4.7"/>
<circle cx="1250.9" cy="83.7" r="6.5"/>
<circle cx="1369.4" cy="82.5" r="5.0"/>
<circle cx="1288.3" cy="81.9" r="6.0"/>
<circle cx="1300.0" cy="86.2" r="5.4"/>
<circle cx="1263.9" cy="81.4" r="4.8"/>
<circle cx="1287.7" cy="84.8" r="4.6"/>
<circle cx="1292.1" cy="82.3" r="5.9"/>
<circle cx="1363.5" cy="84.3" r="4.6"/>
<circle cx="1313.0" cy="85.9" r="5.3"/>
<circle cx="1311.7" cy="88.4" r="5.0"/>
<circle cx="1284.1" cy="87.5" r="4.6"/>
<circle cx="1328.8" cy="81.7" r="5.1"/>
<circle cx="1345.2" cy="87.7" r="5.3"/>
<circle cx="1336.2" cy="81.8" r="5.7"/>
<circle cx="1311.6" cy="89.3" r="6.2"/>
<circle cx="1306.1" cy="82.4" r="4.8"/>
<circle cx="1365.1" cy="81.0" r="5.0"/>
<circle cx="1311.8" cy="80.5" r="6.4"/>
<circle cx="1329.4" cy="88.6" r="5.4"/>
<circle cx="1326.0" cy="80.1" r="6.2"/>
<circle cx="1352.2" cy="84.9" r="5.8"/>
<circle cx="1264.2" cy="82.9" r="5.3"/>
<circle cx="1339.3" cy="89.6" r="4.9"/>
<circle cx="1364.4" cy="86.7" r="4.8"/>
<circle cx="1342.9" cy="82.9" r="4.6"/>
<circle cx="1290.0" cy="81.1" r="6.3"/>
<circle cx="1260.5" cy="82.4" r="4.7"/>
<circle cx="1300.6" cy="85.1" r="5.0"/>
<circle cx="1332.2" cy="89.3" r="4.8"/>
<circle cx="1270.1" cy="82.0" r="5.3"/>
<circle cx="1293.6" cy="83.5" r="5.6"/>
<circle cx="1359.3" cy="85.7" r="4.7"/>
<circle cx="1303.1" cy="85.4" r="5.5"/>
<circle cx="1269.2" cy="83.8" r="5.2"/>
<circle cx="1314.9" cy="89.9" r="5.4"/>
<circle cx="1282.5" cy="80.7" r="4.8"/>
<circle cx="1268.1" cy="85.6" r="5.8"/>
<circle cx="1287.5" cy="88.2" r="6.5"/>
<circle cx="1283.4" cy="88.5" r="5.5"/>
<circle cx="1266.1" cy="81.4" r="5.5"/>
<circle cx="1327.3" cy="83.8" r="5.8"/>
<circle cx="1333.3" cy="80.4" r="5.2"/>
<circle cx="1322.1" cy="88.1" r="4.8"/>
<circle cx="1324.0" cy="83.3" r="6.4"/>
<circle cx="1309.1" cy="89.7" r="6.1"/>
<circle cx="1307.8" cy="83.2" r="5.0"/>
<circle cx="1270.7" cy="81.0" r="6.5"/>
<circle cx="1348.3" cy="86.6" r="4.8"/>
<circle cx="1364.7" cy="85.2" r="5.7"/>
<circle cx="1264.0" cy="89.1" r="4.6"/>
<circle cx="1290.6" cy="84.3" r="6.4"/>
<circle cx="1311.9" cy="85.5" r="5.4"/>
<circle cx="1325.9" cy="80.2" r="6.2"/>
<circle cx="1359.4" cy="84.6" r="5.4"/>
<circle cx="1305.7" cy="85.7" r="6.1"/>
<circle cx="1340.8" cy="83.5" r="4.9"/>
<circle cx="1363.1" cy="81.6" r="6.0"/>
<circle cx="1307.0" cy="82.6" r="5.0"/>
<circle cx="1253.6" cy="85.8" r="5.6"/>
<circle cx="1246.8" cy="85.5" r="4.7"/>
</g>
<g fill="url(#go2)">
<circle cx="1364.6" cy="428.3" r="5.0"/>
<circle cx="1320.6" cy="423.1" r="4.8"/>
<circle cx="1316.5" cy="429.5" r="5.9"/>
<circle cx="1363.7" cy="425.3" r="6.1"/>
<circle cx="1241.7" cy="418.9" r="4.8"/>
<circle cx="1336.4" cy="428.8" r="4.9"/>
<circle cx="1290.6" cy="428.3" r="5.9"/>
<circle cx="1283.9" cy="429.3" r="6.1"/>
<circle cx="1231.9" cy="425.1" r="5.5"/>
<circle cx="1311.3" cy="424.7" r="6.1"/>
<circle cx="1339.1" cy="419.2" r="6.3"/>
<circle cx="1294.7" cy="427.3" r="4.9"/>
<circle cx="1278.3" cy="423.2" r="6.5"/>
<circle cx="1364.0" cy="426.6" r="5.1"/>
<circle cx="1285.7" cy="420.6" r="6.1"/>
<circle cx="1317.0" cy="427.1" r="5.3"/>
<circle cx="1226.9" cy="422.2" r="5.1"/>
<circle cx="1280.7" cy="421.8" r="5.2"/>
<circle cx="1351.9" cy="418.5" r="5.2"/>
<circle cx="1306.7" cy="421.6" r="5.8"/>
<circle cx="1334.2" cy="422.3" r="5.9"/>
<circle cx="1268.5" cy="423.2" r="6.1"/>
<circle cx="1239.7" cy="424.5" r="5.5"/>
<circle cx="1336.9" cy="420.7" r="5.8"/>
<circle cx="1304.6" cy="428.4" r="6.3"/>
<circle cx="1344.5" cy="424.5" r="5.1"/>
<circle cx="1345.6" cy="422.9" r="5.1"/>
<circle cx="1273.9" cy="428.7" r="4.8"/>
<circle cx="1351.8" cy="426.1" r="6.0"/>
<circle cx="1318.6" cy="428.1" r="4.6"/>
<circle cx="1300.1" cy="426.5" r="5.1"/>
<circle cx="1359.1" cy="419.4" r="5.4"/>
<circle cx="1248.0" cy="425.8" r="6.1"/>
<circle cx="1248.3" cy="428.6" r="5.4"/>
<circle cx="1352.7" cy="424.7" r="6.0"/>
<circle cx="1270.2" cy="422.9" r="5.3"/>
<circle cx="1360.7" cy="421.0" r="6.0"/>
<circle cx="1326.0" cy="429.2" r="6.2"/>
<circle cx="1308.7" cy="418.3" r="6.4"/>
<circle cx="1353.3" cy="426.0" r="5.2"/>
</g>
</g>
<path d="M1379.0 106.0 L1390.0 101.0 L1401.0 103.0 L1413.0 110.0 L1412.0 117.0 L1399.0 127.0 L1387.0 145.0 L1391.0 164.0 L1406.0 183.0 L1415.0 200.0 L1405.0 221.0 L1412.0 236.0 L1414.0 247.0 L1402.0 262.0 L1397.0 279.0 L1399.0 298.0 L1401.0 317.0 L1406.0 335.0 L1401.0 354.0 L1401.0 377.0 L1391.0 392.0 L1383.0 399.0 L1377.0 397.0 L1367.0 392.0 L1354.0 381.0 L1350.0 354.0 L1351.0 335.0 L1362.0 298.0 L1362.0 260.0 L1367.0 232.0 L1371.0 221.0 L1369.0 195.0 L1371.0 176.0 L1367.0 157.0 L1377.0 140.0 L1385.0 120.0 Z" fill="#072552"/>
<g fill="url(#gb3)">
<circle cx="1386.9" cy="302.0" r="5.2"/>
<circle cx="1367.4" cy="291.4" r="5.1"/>
<circle cx="1367.9" cy="287.9" r="5.1"/>
<circle cx="1403.5" cy="174.3" r="6.0"/>
<circle cx="1370.1" cy="164.4" r="5.6"/>
<circle cx="1367.8" cy="353.7" r="5.5"/>
<circle cx="1382.7" cy="382.3" r="4.9"/>
<circle cx="1347.6" cy="356.4" r="4.3"/>
<circle cx="1372.2" cy="291.4" r="4.9"/>
<circle cx="1397.4" cy="176.4" r="5.3"/>
<circle cx="1396.8" cy="384.6" r="5.5"/>
<circle cx="1361.7" cy="295.5" r="4.5"/>
<circle cx="1395.2" cy="169.9" r="5.2"/>
<circle cx="1367.7" cy="155.9" r="5.2"/>
<circle cx="1402.9" cy="268.3" r="5.8"/>
<circle cx="1385.0" cy="376.8" r="4.4"/>
<circle cx="1388.5" cy="377.1" r="4.5"/>
<circle cx="1374.6" cy="279.7" r="5.0"/>
<circle cx="1368.6" cy="361.3" r="6.0"/>
<circle cx="1370.3" cy="282.6" r="5.6"/>
<circle cx="1346.3" cy="352.7" r="5.3"/>
<circle cx="1362.5" cy="294.0" r="5.9"/>
<circle cx="1375.6" cy="273.2" r="5.2"/>
<circle cx="1369.6" cy="269.6" r="5.2"/>
<circle cx="1361.8" cy="371.2" r="4.6"/>
<circle cx="1387.4" cy="383.5" r="4.3"/>
<circle cx="1373.6" cy="269.7" r="5.9"/>
<circle cx="1402.5" cy="176.9" r="5.1"/>
<circle cx="1396.0" cy="308.6" r="4.7"/>
<circle cx="1394.1" cy="360.5" r="5.8"/>
<circle cx="1373.4" cy="155.2" r="5.7"/>
<circle cx="1384.9" cy="382.7" r="4.4"/>
<circle cx="1375.9" cy="290.8" r="4.6"/>
<circle cx="1369.1" cy="276.5" r="5.7"/>
<circle cx="1363.8" cy="357.9" r="5.8"/>
<circle cx="1386.8" cy="376.3" r="4.9"/>
<circle cx="1386.8" cy="123.7" r="5.2"/>
<circle cx="1368.6" cy="154.2" r="5.9"/>
<circle cx="1370.2" cy="347.3" r="5.7"/>
<circle cx="1353.4" cy="363.1" r="5.2"/>
<circle cx="1368.1" cy="279.0" r="5.9"/>
<circle cx="1403.4" cy="266.0" r="4.8"/>
<circle cx="1350.8" cy="360.0" r="4.5"/>
<circle cx="1378.3" cy="125.9" r="5.0"/>
<circle cx="1388.3" cy="310.3" r="5.5"/>
<circle cx="1386.8" cy="310.4" r="5.9"/>
<circle cx="1395.3" cy="175.0" r="6.0"/>
<circle cx="1392.2" cy="336.8" r="5.0"/>
<circle cx="1391.5" cy="298.5" r="4.6"/>
<circle cx="1385.3" cy="312.9" r="5.8"/>
<circle cx="1359.1" cy="368.0" r="5.0"/>
<circle cx="1399.3" cy="361.2" r="4.5"/>
<circle cx="1359.8" cy="354.8" r="5.2"/>
<circle cx="1403.6" cy="339.7" r="4.6"/>
<circle cx="1386.2" cy="392.3" r="6.0"/>
<circle cx="1364.1" cy="293.3" r="5.2"/>
<circle cx="1391.0" cy="378.5" r="5.5"/>
<circle cx="1360.0" cy="299.6" r="5.6"/>
<circle cx="1360.3" cy="349.7" r="4.6"/>
<circle cx="1398.7" cy="335.7" r="4.8"/>
<circle cx="1393.6" cy="377.4" r="5.4"/>
<circle cx="1385.8" cy="276.0" r="4.8"/>
<circle cx="1396.1" cy="309.9" r="5.0"/>
<circle cx="1364.7" cy="363.8" r="4.7"/>
<circle cx="1391.9" cy="308.9" r="5.6"/>
<circle cx="1387.7" cy="337.1" r="5.6"/>
<circle cx="1358.4" cy="365.5" r="4.5"/>
<circle cx="1358.1" cy="363.9" r="5.6"/>
<circle cx="1405.4" cy="235.8" r="4.3"/>
<circle cx="1383.1" cy="378.0" r="5.1"/>
<circle cx="1399.4" cy="340.4" r="5.9"/>
<circle cx="1399.4" cy="336.5" r="5.3"/>
<circle cx="1398.7" cy="364.6" r="4.6"/>
<circle cx="1395.2" cy="341.5" r="5.3"/>
<circle cx="1402.1" cy="262.2" r="5.1"/>
<circle cx="1370.5" cy="187.5" r="5.2"/>
<circle cx="1370.1" cy="261.7" r="5.0"/>
<circle cx="1359.9" cy="364.2" r="5.2"/>
<circle cx="1384.8" cy="393.5" r="5.7"/>
<circle cx="1364.1" cy="299.7" r="4.6"/>
<circle cx="1393.6" cy="380.4" r="5.4"/>
<circle cx="1368.1" cy="370.1" r="5.3"/>
<circle cx="1367.0" cy="181.4" r="5.7"/>
<circle cx="1373.1" cy="302.2" r="5.1"/>
<circle cx="1409.2" cy="238.5" r="5.6"/>
<circle cx="1396.8" cy="279.0" r="5.9"/>
<circle cx="1394.8" cy="343.6" r="4.4"/>
<circle cx="1371.2" cy="296.2" r="5.5"/>
<circle cx="1396.1" cy="259.8" r="5.8"/>
<circle cx="1392.1" cy="173.8" r="5.0"/>
<circle cx="1391.5" cy="255.1" r="5.7"/>
<circle cx="1394.7" cy="242.5" r="5.8"/>
<circle cx="1366.3" cy="262.7" r="5.8"/>
<circle cx="1381.7" cy="129.7" r="5.2"/>
<circle cx="1367.2" cy="222.7" r="4.6"/>
<circle cx="1395.6" cy="390.9" r="6.0"/>
<circle cx="1356.7" cy="364.4" r="4.4"/>
<circle cx="1388.5" cy="136.4" r="5.4"/>
<circle cx="1390.2" cy="291.8" r="4.9"/>
<circle cx="1399.0" cy="226.1" r="5.1"/>
<circle cx="1411.9" cy="112.2" r="5.5"/>
<circle cx="1368.9" cy="277.8" r="5.6"/>
<circle cx="1366.4" cy="294.3" r="5.6"/>
<circle cx="1388.9" cy="232.4" r="5.2"/>
<circle cx="1377.4" cy="381.7" r="4.6"/>
<circle cx="1360.5" cy="317.5" r="6.0"/>
<circle cx="1371.3" cy="304.3" r="4.5"/>
<circle cx="1395.6" cy="374.7" r="5.4"/>
<circle cx="1373.9" cy="301.6" r="5.2"/>
<circle cx="1382.8" cy="274.3" r="4.9"/>
<circle cx="1385.0" cy="328.6" r="5.4"/>
<circle cx="1381.3" cy="382.0" r="5.6"/>
<circle cx="1371.3" cy="270.9" r="5.5"/>
<circle cx="1390.2" cy="229.3" r="4.7"/>
<circle cx="1370.4" cy="258.2" r="5.5"/>
<circle cx="1380.9" cy="373.2" r="5.4"/>
<circle cx="1384.0" cy="373.0" r="5.1"/>
<circle cx="1363.9" cy="313.9" r="5.7"/>
<circle cx="1377.6" cy="289.0" r="4.7"/>
<circle cx="1394.8" cy="181.7" r="4.9"/>
<circle cx="1357.5" cy="364.8" r="4.9"/>
<circle cx="1401.0" cy="237.1" r="4.8"/>
<circle cx="1387.2" cy="133.7" r="4.8"/>
<circle cx="1391.4" cy="173.3" r="5.4"/>
<circle cx="1379.3" cy="277.6" r="4.7"/>
<circle cx="1386.5" cy="272.6" r="4.9"/>
<circle cx="1384.0" cy="328.8" r="5.4"/>
<circle cx="1392.3" cy="250.8" r="4.8"/>
<circle cx="1391.5" cy="264.2" r="5.2"/>
<circle cx="1372.6" cy="276.1" r="5.9"/>
<circle cx="1351.5" cy="349.6" r="5.6"/>
<circle cx="1367.9" cy="193.0" r="6.0"/>
<circle cx="1357.2" cy="380.0" r="5.9"/>
<circle cx="1405.0" cy="191.3" r="4.3"/>
<circle cx="1381.0" cy="264.0" r="4.5"/>
<circle cx="1398.3" cy="281.5" r="5.3"/>
<circle cx="1384.1" cy="256.1" r="5.4"/>
<circle cx="1370.0" cy="378.0" r="4.5"/>
<circle cx="1395.7" cy="268.8" r="4.5"/>
<circle cx="1388.5" cy="377.5" r="4.6"/>
<circle cx="1396.6" cy="343.9" r="4.8"/>
<circle cx="1363.5" cy="383.2" r="4.9"/>
<circle cx="1365.5" cy="182.0" r="4.3"/>
<circle cx="1386.1" cy="254.0" r="5.5"/>
<circle cx="1358.4" cy="365.5" r="5.7"/>
<circle cx="1381.2" cy="312.5" r="4.6"/>
<circle cx="1362.9" cy="359.9" r="6.0"/>
<circle cx="1385.6" cy="257.8" r="5.0"/>
<circle cx="1404.7" cy="322.0" r="4.3"/>
<circle cx="1370.5" cy="388.0" r="5.7"/>
<circle cx="1394.3" cy="183.3" r="5.1"/>
<circle cx="1378.5" cy="195.6" r="5.9"/>
</g>
<g fill="url(#gb2)">
<circle cx="1391.5" cy="143.2" r="4.7"/>
</g>
<g fill="url(#gb3)">
<circle cx="1366.1" cy="216.2" r="5.8"/>
</g>
<g fill="url(#gb2)">
<circle cx="1400.4" cy="236.2" r="4.6"/>
<circle cx="1389.2" cy="301.5" r="5.2"/>
</g>
<g fill="url(#gb3)">
<circle cx="1361.2" cy="359.6" r="4.6"/>
<circle cx="1365.5" cy="266.7" r="5.1"/>
<circle cx="1362.7" cy="359.2" r="4.8"/>
<circle cx="1354.0" cy="363.9" r="5.3"/>
</g>
<g fill="url(#gb2)">
<circle cx="1391.8" cy="137.2" r="5.0"/>
<circle cx="1386.3" cy="345.5" r="5.0"/>
<circle cx="1395.2" cy="218.8" r="5.9"/>
<circle cx="1393.7" cy="235.1" r="4.7"/>
</g>
<g fill="url(#gb3)">
<circle cx="1381.4" cy="345.0" r="5.8"/>
<circle cx="1375.0" cy="384.1" r="5.5"/>
<circle cx="1370.9" cy="256.4" r="4.4"/>
<circle cx="1379.5" cy="301.8" r="5.2"/>
</g>
<g fill="url(#gb2)">
<circle cx="1401.2" cy="228.0" r="4.9"/>
<circle cx="1385.4" cy="146.7" r="5.8"/>
<circle cx="1398.9" cy="117.8" r="5.4"/>
<circle cx="1396.8" cy="219.7" r="4.9"/>
</g>
<g fill="url(#gb3)">
<circle cx="1379.5" cy="240.7" r="5.5"/>
<circle cx="1377.4" cy="394.6" r="5.0"/>
</g>
<g fill="url(#gb2)">
<circle cx="1394.7" cy="381.0" r="6.0"/>
<circle cx="1394.1" cy="173.9" r="5.7"/>
<circle cx="1402.3" cy="192.5" r="6.0"/>
<circle cx="1386.3" cy="275.2" r="5.7"/>
</g>
<g fill="url(#gb3)">
<circle cx="1359.4" cy="300.4" r="4.5"/>
</g>
<g fill="url(#gb2)">
<circle cx="1409.8" cy="333.8" r="5.4"/>
<circle cx="1399.9" cy="331.2" r="5.2"/>
<circle cx="1387.7" cy="279.2" r="4.4"/>
</g>
<g fill="url(#gb3)">
<circle cx="1362.5" cy="363.0" r="5.6"/>
</g>
<g fill="url(#gb2)">
<circle cx="1394.8" cy="186.3" r="4.3"/>
<circle cx="1396.7" cy="221.3" r="5.4"/>
</g>
<g fill="url(#gb3)">
<circle cx="1380.1" cy="259.2" r="4.3"/>
</g>
<g fill="url(#gb2)">
<circle cx="1384.7" cy="277.8" r="4.6"/>
<circle cx="1394.1" cy="276.4" r="5.9"/>
<circle cx="1388.8" cy="328.1" r="4.9"/>
<circle cx="1393.5" cy="233.0" r="4.5"/>
<circle cx="1397.3" cy="181.1" r="5.1"/>
</g>
<g fill="url(#gb3)">
<circle cx="1365.3" cy="374.5" r="4.8"/>
<circle cx="1372.0" cy="350.0" r="5.6"/>
</g>
<g fill="url(#gb2)">
<circle cx="1386.9" cy="135.1" r="4.8"/>
</g>
<g fill="url(#gb3)">
<circle cx="1360.2" cy="371.6" r="4.9"/>
<circle cx="1365.1" cy="254.7" r="6.0"/>
<circle cx="1379.4" cy="282.4" r="5.2"/>
</g>
<g fill="url(#gb2)">
<circle cx="1399.2" cy="335.6" r="4.6"/>
<circle cx="1404.8" cy="377.0" r="6.0"/>
<circle cx="1390.6" cy="285.6" r="5.2"/>
</g>
<g fill="url(#gb3)">
<circle cx="1355.9" cy="363.7" r="4.7"/>
</g>
<g fill="url(#gb2)">
<circle cx="1395.3" cy="270.5" r="5.4"/>
<circle cx="1405.6" cy="249.0" r="4.7"/>
<circle cx="1395.9" cy="126.0" r="5.2"/>
</g>
<g fill="url(#gb3)">
<circle cx="1369.1" cy="199.7" r="4.9"/>
<circle cx="1355.6" cy="316.2" r="5.1"/>
</g>
<g fill="url(#gb2)">
<circle cx="1398.2" cy="271.1" r="5.7"/>
<circle cx="1401.2" cy="281.3" r="4.9"/>
<circle cx="1400.6" cy="188.2" r="4.4"/>
</g>
<g fill="url(#gb3)">
<circle cx="1380.1" cy="321.9" r="4.4"/>
</g>
<g fill="url(#gb2)">
<circle cx="1395.1" cy="114.0" r="4.4"/>
<circle cx="1401.1" cy="321.1" r="5.8"/>
<circle cx="1393.2" cy="224.8" r="5.0"/>
<circle cx="1397.8" cy="286.3" r="4.7"/>
<circle cx="1396.9" cy="236.2" r="5.8"/>
</g>
<g fill="url(#gb3)">
<circle cx="1350.8" cy="362.1" r="5.4"/>
</g>
<g fill="url(#gb2)">
<circle cx="1390.2" cy="377.0" r="5.5"/>
<circle cx="1394.2" cy="273.6" r="5.9"/>
</g>
<g fill="url(#gb3)">
<circle cx="1378.3" cy="183.0" r="4.7"/>
</g>
<g fill="url(#gb2)">
<circle cx="1403.3" cy="123.6" r="5.8"/>
</g>
<g fill="url(#gb3)">
<circle cx="1377.1" cy="326.0" r="4.5"/>
</g>
<g fill="url(#gb2)">
<circle cx="1406.9" cy="231.0" r="4.6"/>
<circle cx="1400.0" cy="338.8" r="4.4"/>
<circle cx="1406.7" cy="235.2" r="5.3"/>
<circle cx="1401.5" cy="118.9" r="4.3"/>
</g>
<g fill="url(#gb3)">
<circle cx="1380.0" cy="375.7" r="5.9"/>
</g>
<g fill="url(#gb2)">
<circle cx="1390.2" cy="135.7" r="5.3"/>
<circle cx="1395.8" cy="282.3" r="5.0"/>
<circle cx="1392.7" cy="249.3" r="5.1"/>
<circle cx="1398.6" cy="281.1" r="4.9"/>
<circle cx="1406.1" cy="181.0" r="4.4"/>
</g>
<g fill="url(#gb3)">
<circle cx="1375.3" cy="307.7" r="4.5"/>
</g>
<g fill="url(#gb2)">
<circle cx="1388.4" cy="378.9" r="5.3"/>
</g>
<g fill="url(#gb3)">
<circle cx="1380.6" cy="283.0" r="5.1"/>
<circle cx="1350.3" cy="365.9" r="5.5"/>
<circle cx="1359.1" cy="361.3" r="4.3"/>
<circle cx="1360.5" cy="370.4" r="5.5"/>
</g>
<g fill="url(#gb2)">
<circle cx="1389.0" cy="237.7" r="4.5"/>
<circle cx="1391.4" cy="381.3" r="5.5"/>
<circle cx="1387.7" cy="132.4" r="6.0"/>
</g>
<g fill="url(#gb3)">
<circle cx="1375.0" cy="290.0" r="4.5"/>
</g>
<g fill="url(#gb2)">
<circle cx="1385.9" cy="261.3" r="6.0"/>
</g>
<g fill="url(#gb3)">
<circle cx="1373.6" cy="274.6" r="5.3"/>
<circle cx="1383.1" cy="204.5" r="5.1"/>
</g>
<g fill="url(#gb2)">
<circle cx="1400.9" cy="236.0" r="6.0"/>
<circle cx="1389.3" cy="126.0" r="4.5"/>
</g>
<g fill="url(#gb3)">
<circle cx="1370.3" cy="259.0" r="5.5"/>
<circle cx="1382.2" cy="338.9" r="4.5"/>
<circle cx="1383.6" cy="279.0" r="4.8"/>
<circle cx="1381.0" cy="289.1" r="5.5"/>
</g>
<g fill="url(#gb2)">
<circle cx="1395.1" cy="189.2" r="5.4"/>
<circle cx="1395.6" cy="227.4" r="5.4"/>
<circle cx="1397.8" cy="244.3" r="5.9"/>
</g>
<g fill="url(#gb3)">
<circle cx="1379.7" cy="294.4" r="5.4"/>
</g>
<g fill="url(#gb2)">
<circle cx="1384.5" cy="328.3" r="4.8"/>
<circle cx="1390.6" cy="113.2" r="5.5"/>
</g>
<g fill="url(#gb3)">
<circle cx="1380.4" cy="278.5" r="5.3"/>
</g>
<g fill="url(#gb2)">
<circle cx="1397.3" cy="192.0" r="5.3"/>
</g>
<g fill="url(#gb3)">
<circle cx="1383.2" cy="305.1" r="4.5"/>
<circle cx="1366.0" cy="223.3" r="5.3"/>
</g>
<g fill="url(#gb2)">
<circle cx="1400.1" cy="176.1" r="4.9"/>
</g>
<g fill="url(#gb3)">
<circle cx="1351.5" cy="351.9" r="5.9"/>
<circle cx="1358.7" cy="265.6" r="5.0"/>
<circle cx="1375.1" cy="347.1" r="5.1"/>
<circle cx="1382.4" cy="264.1" r="5.9"/>
</g>
<g fill="url(#gb2)">
<circle cx="1395.3" cy="337.6" r="5.5"/>
<circle cx="1412.8" cy="196.4" r="5.8"/>
</g>
<g fill="url(#gb3)">
<circle cx="1359.1" cy="267.1" r="4.4"/>
</g>
<g fill="url(#gb2)">
<circle cx="1387.4" cy="128.8" r="5.6"/>
<circle cx="1399.5" cy="326.7" r="4.6"/>
<circle cx="1385.6" cy="235.0" r="5.3"/>
</g>
<g fill="url(#gb3)">
<circle cx="1369.5" cy="373.6" r="5.1"/>
</g>
<g fill="url(#gb2)">
<circle cx="1385.2" cy="308.3" r="4.6"/>
</g>
<g fill="url(#gb3)">
<circle cx="1353.4" cy="331.1" r="5.5"/>
<circle cx="1373.5" cy="347.9" r="5.9"/>
</g>
<g fill="url(#gb2)">
<circle cx="1400.2" cy="122.7" r="5.4"/>
<circle cx="1385.2" cy="312.7" r="4.6"/>
<circle cx="1396.9" cy="332.3" r="4.7"/>
</g>
<g fill="url(#gb3)">
<circle cx="1374.1" cy="218.7" r="4.7"/>
<circle cx="1380.6" cy="389.6" r="4.6"/>
<circle cx="1367.1" cy="381.8" r="5.4"/>
</g>
<g fill="url(#gb2)">
<circle cx="1401.0" cy="318.7" r="4.3"/>
</g>
<g fill="url(#gb3)">
<circle cx="1376.2" cy="198.9" r="5.2"/>
</g>
<g fill="url(#gb2)">
<circle cx="1392.0" cy="136.0" r="4.7"/>
<circle cx="1391.4" cy="200.5" r="5.2"/>
<circle cx="1385.2" cy="198.1" r="5.6"/>
</g>
<g fill="url(#gb3)">
<circle cx="1381.4" cy="192.2" r="4.5"/>
</g>
<g fill="url(#gb2)">
<circle cx="1404.7" cy="328.9" r="4.4"/>
<circle cx="1391.7" cy="116.1" r="5.4"/>
<circle cx="1411.6" cy="235.4" r="5.5"/>
<circle cx="1392.2" cy="285.6" r="5.0"/>
<circle cx="1390.1" cy="330.9" r="4.4"/>
<circle cx="1389.2" cy="311.9" r="5.9"/>
<circle cx="1396.1" cy="180.5" r="5.3"/>
<circle cx="1389.3" cy="279.8" r="4.6"/>
<circle cx="1400.3" cy="324.0" r="5.8"/>
</g>
<g fill="url(#gb3)">
<circle cx="1364.5" cy="315.5" r="4.9"/>
</g>
<g fill="url(#gb2)">
<circle cx="1392.0" cy="247.7" r="4.9"/>
</g>
<g fill="url(#gb3)">
<circle cx="1365.7" cy="207.8" r="5.8"/>
<circle cx="1379.7" cy="308.4" r="5.2"/>
<circle cx="1369.0" cy="374.8" r="5.5"/>
<circle cx="1370.8" cy="194.8" r="6.0"/>
<circle cx="1367.2" cy="316.0" r="5.4"/>
<circle cx="1358.9" cy="358.9" r="4.5"/>
<circle cx="1362.4" cy="318.7" r="5.1"/>
<circle cx="1371.5" cy="312.6" r="5.8"/>
<circle cx="1380.6" cy="244.2" r="5.2"/>
<circle cx="1381.2" cy="131.3" r="4.6"/>
<circle cx="1361.5" cy="333.2" r="5.3"/>
<circle cx="1366.5" cy="337.0" r="5.6"/>
<circle cx="1378.5" cy="315.1" r="6.0"/>
</g>
<g fill="url(#gb2)">
<circle cx="1405.4" cy="236.4" r="4.7"/>
<circle cx="1399.2" cy="119.8" r="5.8"/>
</g>
<g fill="url(#gb3)">
<circle cx="1363.0" cy="320.0" r="4.6"/>
</g>
<g fill="url(#gb2)">
<circle cx="1384.7" cy="188.9" r="5.3"/>
<circle cx="1384.7" cy="259.9" r="5.5"/>
<circle cx="1384.5" cy="134.8" r="4.6"/>
<circle cx="1392.9" cy="340.9" r="5.3"/>
</g>
<g fill="url(#gb3)">
<circle cx="1369.5" cy="376.4" r="4.7"/>
<circle cx="1382.3" cy="300.4" r="4.9"/>
</g>
<g fill="url(#gb2)">
<circle cx="1397.4" cy="172.0" r="4.9"/>
</g>
<g fill="url(#gb3)">
<circle cx="1372.9" cy="253.8" r="5.0"/>
</g>
<g fill="url(#gb2)">
<circle cx="1399.6" cy="314.2" r="5.7"/>
</g>
<g fill="url(#gb3)">
<circle cx="1359.0" cy="350.1" r="4.8"/>
</g>
<g fill="url(#gb2)">
<circle cx="1396.0" cy="370.4" r="5.5"/>
</g>
<g fill="url(#gb3)">
<circle cx="1366.2" cy="377.0" r="4.7"/>
<circle cx="1376.0" cy="277.7" r="4.5"/>
</g>
<g fill="url(#gb2)">
<circle cx="1397.5" cy="117.7" r="4.5"/>
</g>
<g fill="url(#gb3)">
<circle cx="1371.1" cy="262.8" r="5.4"/>
<circle cx="1379.8" cy="296.3" r="4.6"/>
</g>
<g fill="url(#gb2)">
<circle cx="1394.9" cy="315.1" r="4.4"/>
</g>
<g fill="url(#gb3)">
<circle cx="1362.2" cy="337.2" r="5.3"/>
<circle cx="1369.3" cy="279.6" r="5.2"/>
</g>
<g fill="url(#gb2)">
<circle cx="1385.6" cy="151.3" r="6.0"/>
</g>
<g fill="url(#gb3)">
<circle cx="1359.8" cy="365.9" r="4.3"/>
</g>
<g fill="url(#gb2)">
<circle cx="1388.8" cy="337.8" r="4.5"/>
</g>
<g fill="url(#gb3)">
<circle cx="1360.7" cy="375.5" r="5.2"/>
</g>
<g fill="url(#gb2)">
<circle cx="1389.1" cy="285.8" r="5.0"/>
<circle cx="1414.8" cy="209.3" r="4.4"/>
</g>
<g fill="url(#gb3)">
<circle cx="1368.1" cy="323.6" r="4.7"/>
</g>
<g fill="url(#gb2)">
<circle cx="1409.0" cy="106.3" r="5.7"/>
</g>
<g fill="url(#gb3)">
<circle cx="1361.9" cy="242.0" r="5.7"/>
<circle cx="1380.7" cy="152.9" r="5.6"/>
<circle cx="1380.2" cy="152.4" r="6.0"/>
</g>
<g fill="url(#gb2)">
<circle cx="1416.1" cy="235.0" r="4.8"/>
</g>
<g fill="url(#gb3)">
<circle cx="1363.7" cy="269.4" r="4.6"/>
</g>
<g fill="url(#gb2)">
<circle cx="1401.9" cy="106.3" r="4.9"/>
<circle cx="1405.7" cy="321.0" r="5.1"/>
<circle cx="1394.7" cy="376.1" r="6.0"/>
</g>
<g fill="url(#gb3)">
<circle cx="1383.4" cy="254.0" r="4.7"/>
<circle cx="1380.3" cy="273.9" r="4.9"/>
<circle cx="1365.8" cy="355.7" r="5.0"/>
<circle cx="1367.4" cy="316.4" r="6.0"/>
<circle cx="1363.1" cy="349.4" r="5.1"/>
<circle cx="1373.0" cy="302.6" r="4.3"/>
</g>
<g fill="url(#gb2)">
<circle cx="1387.0" cy="143.5" r="5.1"/>
</g>
<g fill="url(#gb3)">
<circle cx="1366.3" cy="239.8" r="5.7"/>
<circle cx="1373.0" cy="312.8" r="4.4"/>
</g>
<g fill="url(#gb2)">
<circle cx="1385.4" cy="314.0" r="5.4"/>
<circle cx="1404.8" cy="237.2" r="5.9"/>
</g>
<g fill="url(#gb3)">
<circle cx="1366.0" cy="391.9" r="4.8"/>
<circle cx="1383.2" cy="246.6" r="5.1"/>
<circle cx="1358.9" cy="373.0" r="5.7"/>
<circle cx="1370.6" cy="362.6" r="4.5"/>
</g>
<g fill="url(#gb2)">
<circle cx="1401.2" cy="264.0" r="5.7"/>
</g>
<g fill="url(#gb3)">
<circle cx="1360.5" cy="273.8" r="5.0"/>
<circle cx="1362.1" cy="240.0" r="4.4"/>
<circle cx="1381.3" cy="264.4" r="5.6"/>
</g>
<g fill="url(#gb2)">
<circle cx="1390.9" cy="132.2" r="5.6"/>
</g>
<g fill="url(#gb3)">
<circle cx="1359.8" cy="326.8" r="6.0"/>
</g>
<g fill="url(#gb2)">
<circle cx="1393.2" cy="245.5" r="5.6"/>
<circle cx="1394.2" cy="114.3" r="4.4"/>
</g>
<g fill="url(#gb3)">
<circle cx="1361.8" cy="242.1" r="4.7"/>
</g>
<g fill="url(#gb2)">
<circle cx="1395.6" cy="163.5" r="4.5"/>
<circle cx="1396.7" cy="124.0" r="4.4"/>
<circle cx="1390.1" cy="340.0" r="4.5"/>
<circle cx="1398.0" cy="314.9" r="5.3"/>
</g>
<g fill="url(#gb3)">
<circle cx="1352.7" cy="338.1" r="4.4"/>
</g>
<g fill="url(#gb2)">
<circle cx="1391.0" cy="164.8" r="4.7"/>
<circle cx="1401.4" cy="253.4" r="5.2"/>
<circle cx="1413.9" cy="231.6" r="4.3"/>
</g>
<g fill="url(#gb3)">
<circle cx="1373.5" cy="315.6" r="4.4"/>
<circle cx="1360.3" cy="378.0" r="4.8"/>
</g>
<g fill="url(#gb2)">
<circle cx="1389.9" cy="253.8" r="5.2"/>
<circle cx="1399.2" cy="368.3" r="4.6"/>
</g>
<g fill="url(#gb3)">
<circle cx="1371.1" cy="391.0" r="4.9"/>
</g>
<g fill="url(#gb2)">
<circle cx="1394.9" cy="131.7" r="5.7"/>
</g>
<g fill="url(#gb3)">
<circle cx="1349.2" cy="337.2" r="5.5"/>
<circle cx="1376.0" cy="320.9" r="6.0"/>
<circle cx="1381.5" cy="300.9" r="5.8"/>
<circle cx="1379.0" cy="275.3" r="4.7"/>
<circle cx="1378.6" cy="275.6" r="5.6"/>
<circle cx="1356.9" cy="323.6" r="4.4"/>
<circle cx="1363.1" cy="324.4" r="4.4"/>
<circle cx="1359.6" cy="380.6" r="4.6"/>
<circle cx="1379.2" cy="297.7" r="5.0"/>
<circle cx="1375.0" cy="294.8" r="5.0"/>
<circle cx="1367.1" cy="212.4" r="5.9"/>
</g>
<g fill="url(#gb2)">
<circle cx="1392.5" cy="118.7" r="4.9"/>
</g>
<g fill="url(#gb3)">
<circle cx="1354.2" cy="370.5" r="4.5"/>
</g>
<g fill="url(#gb2)">
<circle cx="1413.2" cy="194.9" r="4.5"/>
</g>
<g fill="url(#gb3)">
<circle cx="1366.6" cy="364.3" r="5.2"/>
<circle cx="1378.1" cy="337.9" r="4.7"/>
</g>
<g fill="url(#gb2)">
<circle cx="1391.3" cy="387.2" r="5.3"/>
</g>
<g fill="url(#gb3)">
<circle cx="1354.7" cy="363.3" r="5.2"/>
<circle cx="1361.6" cy="351.5" r="4.4"/>
</g>
<g fill="url(#gb2)">
<circle cx="1384.9" cy="109.3" r="4.4"/>
</g>
<g fill="url(#gb3)">
<circle cx="1371.6" cy="293.2" r="5.8"/>
<circle cx="1371.8" cy="372.2" r="5.9"/>
</g>
<g fill="url(#gb2)">
<circle cx="1387.5" cy="307.3" r="4.5"/>
</g>
<g fill="url(#gb3)">
<circle cx="1364.9" cy="348.5" r="5.3"/>
</g>
<g fill="url(#gb2)">
<circle cx="1405.6" cy="121.0" r="5.2"/>
</g>
<g fill="url(#gb3)">
<circle cx="1380.6" cy="263.2" r="5.1"/>
<circle cx="1373.8" cy="373.2" r="5.8"/>
<circle cx="1357.0" cy="387.3" r="4.4"/>
<circle cx="1356.1" cy="317.2" r="5.1"/>
<circle cx="1363.9" cy="366.1" r="4.4"/>
</g>
<g fill="url(#gb2)">
<circle cx="1401.6" cy="117.6" r="4.6"/>
<circle cx="1392.2" cy="301.4" r="5.0"/>
</g>
<g fill="url(#gb3)">
<circle cx="1376.0" cy="153.7" r="5.6"/>
<circle cx="1361.8" cy="317.5" r="5.9"/>
<circle cx="1375.6" cy="263.5" r="5.7"/>
</g>
<g fill="url(#gb2)">
<circle cx="1397.1" cy="338.3" r="5.7"/>
</g>
<g fill="url(#gb3)">
<circle cx="1365.3" cy="363.7" r="4.5"/>
<circle cx="1375.2" cy="321.9" r="5.6"/>
</g>
<g fill="url(#gb1)">
<circle cx="1391.8" cy="163.4" r="4.8"/>
</g>
<g fill="url(#gb3)">
<circle cx="1372.4" cy="263.3" r="4.9"/>
</g>
<g fill="url(#gb1)">
<circle cx="1399.9" cy="113.4" r="5.5"/>
<circle cx="1405.1" cy="264.7" r="5.4"/>
<circle cx="1392.1" cy="166.0" r="4.6"/>
<circle cx="1406.3" cy="196.3" r="5.3"/>
<circle cx="1410.8" cy="210.6" r="5.7"/>
<circle cx="1385.2" cy="280.8" r="4.5"/>
<circle cx="1385.5" cy="269.0" r="5.0"/>
<circle cx="1417.7" cy="244.1" r="5.4"/>
<circle cx="1401.2" cy="370.8" r="4.6"/>
</g>
<g fill="url(#gb3)">
<circle cx="1373.9" cy="346.3" r="4.5"/>
<circle cx="1362.1" cy="382.9" r="5.0"/>
</g>
<g fill="url(#gb1)">
<circle cx="1385.5" cy="112.9" r="4.9"/>
</g>
<g fill="url(#gb3)">
<circle cx="1355.3" cy="329.6" r="5.2"/>
</g>
<g fill="url(#gb1)">
<circle cx="1393.8" cy="109.4" r="5.8"/>
</g>
<g fill="url(#gb3)">
<circle cx="1369.8" cy="328.9" r="5.6"/>
</g>
<g fill="url(#gb1)">
<circle cx="1387.4" cy="362.9" r="5.9"/>
<circle cx="1401.3" cy="363.8" r="4.5"/>
</g>
<g fill="url(#gb3)">
<circle cx="1375.2" cy="299.7" r="5.8"/>
<circle cx="1380.2" cy="143.6" r="5.9"/>
<circle cx="1380.2" cy="208.2" r="4.6"/>
</g>
<g fill="url(#gb1)">
<circle cx="1419.4" cy="199.7" r="5.2"/>
<circle cx="1390.5" cy="262.1" r="5.6"/>
<circle cx="1396.7" cy="312.4" r="5.0"/>
</g>
<g fill="url(#gb3)">
<circle cx="1359.5" cy="315.6" r="4.3"/>
</g>
<g fill="url(#gb1)">
<circle cx="1392.7" cy="263.6" r="4.4"/>
</g>
<g fill="url(#gb3)">
<circle cx="1381.1" cy="261.1" r="4.6"/>
<circle cx="1366.1" cy="326.4" r="5.5"/>
</g>
<g fill="url(#gb1)">
<circle cx="1392.3" cy="104.2" r="5.5"/>
<circle cx="1394.0" cy="219.2" r="5.1"/>
</g>
<g fill="url(#gb3)">
<circle cx="1381.8" cy="256.5" r="4.3"/>
</g>
<g fill="url(#gb1)">
<circle cx="1406.3" cy="198.3" r="5.5"/>
</g>
<g fill="url(#gb3)">
<circle cx="1381.7" cy="342.5" r="4.6"/>
<circle cx="1372.6" cy="328.7" r="5.8"/>
</g>
<g fill="url(#gb1)">
<circle cx="1403.5" cy="378.9" r="5.2"/>
</g>
<g fill="url(#gb3)">
<circle cx="1351.9" cy="331.7" r="4.6"/>
<circle cx="1373.5" cy="292.6" r="4.7"/>
<circle cx="1370.9" cy="390.4" r="5.7"/>
</g>
<g fill="url(#gb1)">
<circle cx="1394.7" cy="112.0" r="4.6"/>
</g>
<g fill="url(#gb3)">
<circle cx="1371.4" cy="294.0" r="4.8"/>
</g>
<g fill="url(#gb1)">
<circle cx="1390.6" cy="253.2" r="4.8"/>
</g>
<g fill="url(#gb3)">
<circle cx="1378.0" cy="263.2" r="4.3"/>
<circle cx="1373.3" cy="298.0" r="5.5"/>
<circle cx="1357.7" cy="335.7" r="5.4"/>
<circle cx="1367.8" cy="327.6" r="4.3"/>
<circle cx="1369.1" cy="317.6" r="5.1"/>
<circle cx="1357.7" cy="378.8" r="4.9"/>
<circle cx="1367.1" cy="335.8" r="5.3"/>
<circle cx="1383.8" cy="257.6" r="5.5"/>
<circle cx="1383.4" cy="227.5" r="5.8"/>
<circle cx="1382.6" cy="311.4" r="5.1"/>
<circle cx="1380.3" cy="266.3" r="4.4"/>
<circle cx="1351.9" cy="333.7" r="4.4"/>
</g>
<g fill="url(#gb1)">
<circle cx="1408.5" cy="204.4" r="5.3"/>
</g>
<g fill="url(#gb3)">
<circle cx="1358.3" cy="324.7" r="5.3"/>
</g>
<g fill="url(#gb1)">
<circle cx="1407.4" cy="259.9" r="4.3"/>
<circle cx="1400.1" cy="265.8" r="4.6"/>
<circle cx="1412.6" cy="203.2" r="4.9"/>
<circle cx="1393.2" cy="381.9" r="4.3"/>
<circle cx="1396.8" cy="167.0" r="4.8"/>
<circle cx="1394.0" cy="371.6" r="5.4"/>
</g>
<g fill="url(#gb3)">
<circle cx="1379.5" cy="373.1" r="5.6"/>
</g>
<g fill="url(#gb1)">
<circle cx="1386.3" cy="347.8" r="5.7"/>
</g>
<g fill="url(#gb3)">
<circle cx="1370.5" cy="366.0" r="4.3"/>
</g>
<g fill="url(#gb1)">
<circle cx="1397.9" cy="371.1" r="4.8"/>
<circle cx="1397.3" cy="360.2" r="5.0"/>
<circle cx="1390.6" cy="252.0" r="4.7"/>
</g>
<g fill="url(#gb3)">
<circle cx="1355.1" cy="334.7" r="5.4"/>
</g>
<g fill="url(#gb1)">
<circle cx="1395.0" cy="386.5" r="5.4"/>
</g>
<g fill="url(#gb3)">
<circle cx="1379.1" cy="374.8" r="4.8"/>
<circle cx="1360.1" cy="336.7" r="5.1"/>
<circle cx="1353.5" cy="378.8" r="4.7"/>
<circle cx="1355.6" cy="334.7" r="5.4"/>
<circle cx="1371.7" cy="327.1" r="4.6"/>
</g>
<g fill="url(#gb1)">
<circle cx="1396.1" cy="366.3" r="5.0"/>
<circle cx="1404.9" cy="364.4" r="4.4"/>
<circle cx="1396.1" cy="341.0" r="4.5"/>
<circle cx="1402.5" cy="361.3" r="5.3"/>
</g>
<g fill="url(#gb3)">
<circle cx="1363.1" cy="361.3" r="4.8"/>
<circle cx="1358.2" cy="334.3" r="5.8"/>
<circle cx="1356.0" cy="352.4" r="5.9"/>
</g>
<g fill="url(#gb1)">
<circle cx="1400.7" cy="369.8" r="5.1"/>
<circle cx="1416.3" cy="243.8" r="4.6"/>
</g>
<g fill="url(#gb3)">
<circle cx="1358.2" cy="387.6" r="5.2"/>
<circle cx="1364.8" cy="285.5" r="4.5"/>
<circle cx="1351.4" cy="349.2" r="5.9"/>
<circle cx="1377.6" cy="261.4" r="4.3"/>
</g>
<g fill="url(#gb1)">
<circle cx="1396.7" cy="389.4" r="5.0"/>
</g>
<g fill="url(#gb2)">
<circle cx="1372.4" cy="301.2" r="4.4"/>
<circle cx="1379.3" cy="263.3" r="5.0"/>
</g>
<g fill="url(#gb1)">
<circle cx="1388.8" cy="384.7" r="4.6"/>
<circle cx="1414.4" cy="250.7" r="4.5"/>
</g>
<g fill="url(#gb2)">
<circle cx="1382.2" cy="374.8" r="4.7"/>
</g>
<g fill="url(#gb1)">
<circle cx="1390.4" cy="346.2" r="4.5"/>
<circle cx="1402.1" cy="373.6" r="5.5"/>
</g>
<g fill="url(#gb2)">
<circle cx="1369.5" cy="150.0" r="5.9"/>
</g>
<g fill="url(#gb1)">
<circle cx="1394.1" cy="255.3" r="5.8"/>
</g>
<g fill="url(#gb2)">
<circle cx="1370.7" cy="361.0" r="6.0"/>
</g>
<g fill="url(#gb1)">
<circle cx="1413.3" cy="247.8" r="4.9"/>
</g>
<g fill="url(#gb2)">
<circle cx="1349.6" cy="346.3" r="4.6"/>
</g>
<g fill="url(#gb1)">
<circle cx="1404.7" cy="185.2" r="5.3"/>
</g>
<g fill="url(#gb2)">
<circle cx="1380.3" cy="127.4" r="5.5"/>
</g>
<g fill="url(#gb1)">
<circle cx="1392.3" cy="226.8" r="5.4"/>
<circle cx="1390.3" cy="378.6" r="5.7"/>
</g>
<g fill="url(#gb2)">
<circle cx="1368.5" cy="289.6" r="5.6"/>
</g>
<g fill="url(#gb1)">
<circle cx="1397.8" cy="269.1" r="5.8"/>
</g>
<g fill="url(#gb2)">
<circle cx="1373.3" cy="395.1" r="5.1"/>
</g>
<g fill="url(#gb1)">
<circle cx="1394.1" cy="107.8" r="5.9"/>
<circle cx="1391.1" cy="372.3" r="4.6"/>
</g>
<g fill="url(#gb2)">
<circle cx="1382.4" cy="258.9" r="4.4"/>
</g>
<g fill="url(#gb1)">
<circle cx="1391.4" cy="227.7" r="4.9"/>
<circle cx="1400.3" cy="367.3" r="4.5"/>
</g>
<g fill="url(#gb2)">
<circle cx="1367.6" cy="284.7" r="4.5"/>
<circle cx="1354.9" cy="312.5" r="5.0"/>
<circle cx="1378.2" cy="125.5" r="5.6"/>
<circle cx="1369.2" cy="357.4" r="5.5"/>
</g>
<g fill="url(#gb1)">
<circle cx="1400.4" cy="178.7" r="5.8"/>
</g>
<g fill="url(#gb2)">
<circle cx="1361.0" cy="360.3" r="5.9"/>
<circle cx="1366.1" cy="290.0" r="5.4"/>
<circle cx="1372.1" cy="149.2" r="5.1"/>
<circle cx="1374.6" cy="218.2" r="5.5"/>
</g>
<g fill="url(#gb1)">
<circle cx="1386.5" cy="367.9" r="5.5"/>
<circle cx="1384.7" cy="275.2" r="4.8"/>
<circle cx="1386.1" cy="356.9" r="4.7"/>
</g>
<g fill="url(#gb2)">
<circle cx="1379.7" cy="358.7" r="4.3"/>
</g>
<g fill="url(#gb1)">
<circle cx="1402.5" cy="239.0" r="5.5"/>
</g>
<g fill="url(#gb2)">
<circle cx="1382.3" cy="376.6" r="5.4"/>
<circle cx="1383.5" cy="365.0" r="5.6"/>
</g>
<g fill="url(#gb1)">
<circle cx="1417.5" cy="241.3" r="5.9"/>
<circle cx="1402.4" cy="360.1" r="5.6"/>
</g>
<g fill="url(#gb2)">
<circle cx="1353.1" cy="336.4" r="5.1"/>
<circle cx="1370.1" cy="327.2" r="4.4"/>
<circle cx="1371.3" cy="366.2" r="5.3"/>
</g>
<g fill="url(#gb1)">
<circle cx="1390.2" cy="224.6" r="4.7"/>
</g>
<g fill="url(#gb2)">
<circle cx="1371.6" cy="225.8" r="4.8"/>
</g>
<g fill="url(#gb1)">
<circle cx="1385.6" cy="252.3" r="5.7"/>
<circle cx="1393.0" cy="365.6" r="6.0"/>
</g>
<g fill="url(#gb2)">
<circle cx="1368.5" cy="327.6" r="5.5"/>
</g>
<g fill="url(#gb1)">
<circle cx="1389.9" cy="271.8" r="4.9"/>
</g>
<g fill="url(#gb2)">
<circle cx="1380.6" cy="329.4" r="5.7"/>
</g>
<g fill="url(#gb1)">
<circle cx="1390.2" cy="286.0" r="4.5"/>
<circle cx="1388.8" cy="311.7" r="4.8"/>
</g>
<g fill="url(#gb2)">
<circle cx="1378.2" cy="347.3" r="5.0"/>
<circle cx="1357.9" cy="327.1" r="5.7"/>
<circle cx="1377.8" cy="371.8" r="5.7"/>
<circle cx="1381.8" cy="116.4" r="4.5"/>
<circle cx="1383.9" cy="367.1" r="4.8"/>
<circle cx="1376.7" cy="361.9" r="5.6"/>
</g>
<g fill="url(#gb1)">
<circle cx="1384.0" cy="322.1" r="4.8"/>
<circle cx="1402.1" cy="363.2" r="4.6"/>
<circle cx="1400.0" cy="310.5" r="4.4"/>
</g>
<g fill="url(#gb2)">
<circle cx="1365.4" cy="288.9" r="4.3"/>
</g>
<g fill="url(#gb1)">
<circle cx="1395.1" cy="182.9" r="5.5"/>
</g>
<g fill="url(#gb2)">
<circle cx="1381.2" cy="366.9" r="4.7"/>
</g>
<g fill="url(#gb1)">
<circle cx="1396.2" cy="118.8" r="5.1"/>
</g>
<g fill="url(#gb2)">
<circle cx="1382.3" cy="369.5" r="5.2"/>
</g>
<g fill="url(#gb1)">
<circle cx="1385.7" cy="108.8" r="4.6"/>
<circle cx="1401.6" cy="312.3" r="5.5"/>
<circle cx="1407.9" cy="250.5" r="5.4"/>
</g>
<g fill="url(#gb2)">
<circle cx="1378.7" cy="392.6" r="5.1"/>
</g>
<g fill="url(#gb1)">
<circle cx="1386.8" cy="373.0" r="4.6"/>
<circle cx="1406.6" cy="184.5" r="4.4"/>
<circle cx="1403.2" cy="316.8" r="4.9"/>
</g>
<g fill="url(#gb2)">
<circle cx="1375.9" cy="355.5" r="5.9"/>
<circle cx="1373.4" cy="146.0" r="5.2"/>
</g>
<g fill="url(#gb1)">
<circle cx="1385.8" cy="269.4" r="5.7"/>
<circle cx="1385.1" cy="324.0" r="5.8"/>
</g>
<g fill="url(#gb2)">
<circle cx="1355.8" cy="356.9" r="5.6"/>
</g>
<g fill="url(#gb1)">
<circle cx="1395.9" cy="112.8" r="4.9"/>
</g>
<g fill="url(#gb2)">
<circle cx="1373.5" cy="285.7" r="4.5"/>
</g>
<g fill="url(#gb1)">
<circle cx="1407.4" cy="253.5" r="4.7"/>
<circle cx="1392.8" cy="371.5" r="4.7"/>
</g>
<g fill="url(#gb2)">
<circle cx="1370.1" cy="323.1" r="5.8"/>
<circle cx="1349.9" cy="341.0" r="5.4"/>
<circle cx="1365.2" cy="328.3" r="5.0"/>
<circle cx="1347.8" cy="340.7" r="5.5"/>
<circle cx="1381.1" cy="265.0" r="4.9"/>
<circle cx="1356.3" cy="356.1" r="4.8"/>
</g>
<g fill="url(#gb1)">
<circle cx="1403.7" cy="237.1" r="5.0"/>
<circle cx="1400.2" cy="319.9" r="4.7"/>
<circle cx="1409.5" cy="181.7" r="4.4"/>
<circle cx="1397.9" cy="366.4" r="5.0"/>
</g>
<g fill="url(#gb2)">
<circle cx="1366.4" cy="150.4" r="5.8"/>
</g>
<g fill="url(#gb1)">
<circle cx="1401.5" cy="369.7" r="5.6"/>
<circle cx="1389.0" cy="269.8" r="4.8"/>
<circle cx="1392.0" cy="111.0" r="4.7"/>
</g>
<g fill="url(#gb2)">
<circle cx="1382.4" cy="364.5" r="4.9"/>
<circle cx="1369.0" cy="323.0" r="5.1"/>
<circle cx="1376.3" cy="151.2" r="4.7"/>
<circle cx="1366.0" cy="323.5" r="4.6"/>
</g>
<g fill="url(#gb1)">
<circle cx="1409.7" cy="243.6" r="5.8"/>
<circle cx="1385.9" cy="130.4" r="5.1"/>
</g>
<g fill="url(#gb2)">
<circle cx="1367.6" cy="154.3" r="5.1"/>
<circle cx="1374.8" cy="323.2" r="5.0"/>
</g>
<g fill="url(#gb1)">
<circle cx="1393.2" cy="272.8" r="5.0"/>
<circle cx="1403.0" cy="212.6" r="4.8"/>
<circle cx="1404.6" cy="121.1" r="5.0"/>
</g>
<g fill="url(#gb2)">
<circle cx="1370.4" cy="323.3" r="6.0"/>
</g>
<g fill="url(#gb1)">
<circle cx="1389.8" cy="105.3" r="4.9"/>
<circle cx="1390.7" cy="253.5" r="5.3"/>
</g>
<g fill="url(#gb2)">
<circle cx="1378.3" cy="338.9" r="4.7"/>
<circle cx="1381.8" cy="373.9" r="5.5"/>
<circle cx="1347.3" cy="340.9" r="4.6"/>
<circle cx="1369.9" cy="332.6" r="5.2"/>
</g>
<g fill="url(#gb1)">
<circle cx="1400.3" cy="211.8" r="4.4"/>
</g>
<g fill="url(#gb2)">
<circle cx="1373.9" cy="208.2" r="4.4"/>
<circle cx="1359.0" cy="367.3" r="4.6"/>
<circle cx="1380.3" cy="373.3" r="4.6"/>
</g>
<g fill="url(#gb1)">
<circle cx="1392.1" cy="107.7" r="5.4"/>
</g>
<g fill="url(#gb2)">
<circle cx="1381.1" cy="124.7" r="5.9"/>
<circle cx="1378.9" cy="321.4" r="5.2"/>
</g>
<g fill="url(#gb1)">
<circle cx="1406.4" cy="183.8" r="4.3"/>
<circle cx="1402.7" cy="366.1" r="5.4"/>
<circle cx="1408.7" cy="253.1" r="5.7"/>
</g>
<g fill="url(#gb2)">
<circle cx="1357.5" cy="334.7" r="5.2"/>
<circle cx="1370.5" cy="380.4" r="4.4"/>
<circle cx="1377.4" cy="391.3" r="4.8"/>
<circle cx="1376.5" cy="296.3" r="4.7"/>
<circle cx="1369.2" cy="336.1" r="4.8"/>
<circle cx="1368.7" cy="286.4" r="5.9"/>
<circle cx="1376.5" cy="283.4" r="5.7"/>
</g>
<g fill="url(#gb1)">
<circle cx="1398.5" cy="127.8" r="4.8"/>
<circle cx="1406.1" cy="206.4" r="6.0"/>
</g>
<g fill="url(#gb2)">
<circle cx="1378.5" cy="206.4" r="5.6"/>
</g>
<g fill="url(#gb1)">
<circle cx="1403.0" cy="248.2" r="5.0"/>
</g>
<g fill="url(#gb2)">
<circle cx="1359.6" cy="285.7" r="5.0"/>
<circle cx="1379.1" cy="346.3" r="4.8"/>
<circle cx="1375.0" cy="211.8" r="5.6"/>
<circle cx="1364.4" cy="291.0" r="5.0"/>
</g>
<g fill="url(#gb1)">
<circle cx="1384.9" cy="277.5" r="4.5"/>
<circle cx="1394.8" cy="255.1" r="5.7"/>
<circle cx="1384.5" cy="340.1" r="4.6"/>
<circle cx="1395.2" cy="318.2" r="4.7"/>
<circle cx="1406.9" cy="191.1" r="5.4"/>
<circle cx="1403.7" cy="309.1" r="5.0"/>
<circle cx="1396.7" cy="306.7" r="5.2"/>
<circle cx="1402.5" cy="308.1" r="4.6"/>
<circle cx="1399.2" cy="121.6" r="5.8"/>
<circle cx="1398.5" cy="110.7" r="4.4"/>
</g>
<g fill="url(#gb2)">
<circle cx="1377.3" cy="148.4" r="4.4"/>
</g>
<g fill="url(#gb1)">
<circle cx="1390.3" cy="282.8" r="5.6"/>
</g>
<g fill="url(#gb2)">
<circle cx="1367.2" cy="283.4" r="5.6"/>
<circle cx="1376.5" cy="319.6" r="4.5"/>
</g>
<g fill="url(#gb1)">
<circle cx="1407.9" cy="235.0" r="5.8"/>
<circle cx="1398.9" cy="203.1" r="4.6"/>
</g>
<g fill="url(#gb2)">
<circle cx="1370.4" cy="150.0" r="4.4"/>
<circle cx="1371.4" cy="214.6" r="5.0"/>
</g>
<g fill="url(#gb1)">
<circle cx="1393.3" cy="274.1" r="5.0"/>
</g>
<g fill="url(#gb2)">
<circle cx="1372.3" cy="288.8" r="5.4"/>
</g>
<g fill="url(#gb1)">
<circle cx="1401.6" cy="182.0" r="5.3"/>
<circle cx="1411.0" cy="187.6" r="4.9"/>
</g>
<g fill="url(#gb2)">
<circle cx="1357.0" cy="357.1" r="5.6"/>
</g>
<g fill="url(#gb1)">
<circle cx="1403.5" cy="312.8" r="4.9"/>
<circle cx="1389.1" cy="327.6" r="5.6"/>
</g>
<g fill="url(#gb2)">
<circle cx="1366.3" cy="285.6" r="5.4"/>
</g>
<g fill="url(#gb1)">
<circle cx="1399.3" cy="307.7" r="4.5"/>
<circle cx="1404.4" cy="115.3" r="5.1"/>
</g>
<g fill="url(#gb2)">
<circle cx="1372.3" cy="150.4" r="4.4"/>
<circle cx="1372.9" cy="391.6" r="4.8"/>
<circle cx="1357.0" cy="292.3" r="5.7"/>
</g>
<g fill="url(#gb1)">
<circle cx="1401.2" cy="119.1" r="4.5"/>
<circle cx="1386.5" cy="112.2" r="5.8"/>
<circle cx="1393.0" cy="247.6" r="5.1"/>
<circle cx="1395.7" cy="217.1" r="5.0"/>
<circle cx="1399.5" cy="201.9" r="5.4"/>
<circle cx="1382.9" cy="110.9" r="5.4"/>
<circle cx="1402.8" cy="107.9" r="5.6"/>
<circle cx="1392.0" cy="269.4" r="4.9"/>
<circle cx="1403.3" cy="209.4" r="5.9"/>
<circle cx="1359.4" cy="361.3" r="4.9"/>
<circle cx="1403.2" cy="219.2" r="6.0"/>
<circle cx="1398.6" cy="280.1" r="6.0"/>
<circle cx="1377.1" cy="339.5" r="4.6"/>
<circle cx="1357.9" cy="354.1" r="4.5"/>
<circle cx="1405.5" cy="215.0" r="4.7"/>
<circle cx="1385.0" cy="332.3" r="5.9"/>
<circle cx="1391.1" cy="251.3" r="5.6"/>
<circle cx="1393.6" cy="314.9" r="5.2"/>
<circle cx="1402.4" cy="311.6" r="4.7"/>
<circle cx="1370.9" cy="212.3" r="5.2"/>
<circle cx="1368.3" cy="328.0" r="5.5"/>
<circle cx="1408.5" cy="209.7" r="4.4"/>
<circle cx="1367.7" cy="324.7" r="5.5"/>
<circle cx="1401.2" cy="309.1" r="4.4"/>
<circle cx="1372.0" cy="323.9" r="6.0"/>
<circle cx="1370.8" cy="333.9" r="5.9"/>
<circle cx="1400.3" cy="279.9" r="5.6"/>
<circle cx="1381.8" cy="292.3" r="5.5"/>
<circle cx="1399.0" cy="311.5" r="5.0"/>
<circle cx="1398.5" cy="277.0" r="5.8"/>
<circle cx="1394.6" cy="305.3" r="5.2"/>
<circle cx="1398.9" cy="110.8" r="5.4"/>
<circle cx="1367.0" cy="375.8" r="5.2"/>
<circle cx="1405.7" cy="327.6" r="5.5"/>
<circle cx="1398.7" cy="106.4" r="5.4"/>
<circle cx="1374.5" cy="289.7" r="5.8"/>
<circle cx="1363.4" cy="375.5" r="4.9"/>
<circle cx="1361.0" cy="378.5" r="5.6"/>
<circle cx="1411.4" cy="109.0" r="5.1"/>
</g>
</g>
<path d="M1528.0 82.0 L1639.0 82.0 L1648.0 95.0 L1656.0 115.0 L1650.0 125.0 L1637.0 138.0 L1645.0 160.0 L1654.0 179.0 L1645.0 190.0 L1637.0 202.0 L1639.0 240.0 L1645.0 260.0 L1645.0 298.0 L1633.0 335.0 L1640.0 370.0 L1655.0 395.0 L1680.0 402.0 L1699.0 408.0 L1695.0 421.0 L1505.0 421.0 L1505.0 396.0 L1516.0 373.0 L1524.0 339.0 L1520.0 336.0 L1528.0 328.0 L1524.0 305.0 L1535.0 290.0 L1545.0 260.0 L1539.0 240.0 L1543.0 221.0 L1543.0 202.0 L1532.0 183.0 L1533.0 146.0 L1530.0 127.0 L1522.0 108.0 L1528.0 95.0 Z" fill="#a04a0c"/>
<path d="M1528.0 82.0 L1639.0 82.0 L1648.0 95.0 L1656.0 115.0 L1650.0 125.0 L1637.0 138.0 L1645.0 160.0 L1654.0 179.0 L1645.0 190.0 L1637.0 202.0 L1639.0 240.0 L1645.0 260.0 L1645.0 298.0 L1633.0 335.0 L1640.0 370.0 L1655.0 395.0 L1680.0 402.0 L1699.0 408.0 L1695.0 421.0 L1505.0 421.0 L1505.0 396.0 L1516.0 373.0 L1524.0 339.0 L1520.0 336.0 L1528.0 328.0 L1524.0 305.0 L1535.0 290.0 L1545.0 260.0 L1539.0 240.0 L1543.0 221.0 L1543.0 202.0 L1532.0 183.0 L1533.0 146.0 L1530.0 127.0 L1522.0 108.0 L1528.0 95.0 Z" fill="#000" filter="url(#tDark)"/>
<path d="M1528.0 82.0 L1639.0 82.0 L1648.0 95.0 L1656.0 115.0 L1650.0 125.0 L1637.0 138.0 L1645.0 160.0 L1654.0 179.0 L1645.0 190.0 L1637.0 202.0 L1639.0 240.0 L1645.0 260.0 L1645.0 298.0 L1633.0 335.0 L1640.0 370.0 L1655.0 395.0 L1680.0 402.0 L1699.0 408.0 L1695.0 421.0 L1505.0 421.0 L1505.0 396.0 L1516.0 373.0 L1524.0 339.0 L1520.0 336.0 L1528.0 328.0 L1524.0 305.0 L1535.0 290.0 L1545.0 260.0 L1539.0 240.0 L1543.0 221.0 L1543.0 202.0 L1532.0 183.0 L1533.0 146.0 L1530.0 127.0 L1522.0 108.0 L1528.0 95.0 Z" fill="#000" filter="url(#tMesh)"/>
<g clip-path="url(#cO2)" fill="none" stroke="#5a2200" stroke-width="1.3" opacity="0.55">
<ellipse cx="1632" cy="317" rx="7" ry="9"/>
<ellipse cx="1511" cy="395" rx="9" ry="12"/>
<ellipse cx="1634" cy="410" rx="10" ry="8"/>
<ellipse cx="1540" cy="335" rx="6" ry="6"/>
<ellipse cx="1606" cy="378" rx="10" ry="11"/>
<ellipse cx="1682" cy="383" rx="6" ry="8"/>
<ellipse cx="1562" cy="279" rx="8" ry="7"/>
<ellipse cx="1626" cy="87" rx="8" ry="11"/>
<ellipse cx="1529" cy="117" rx="9" ry="10"/>
<ellipse cx="1587" cy="387" rx="10" ry="6"/>
<ellipse cx="1630" cy="235" rx="9" ry="6"/>
<ellipse cx="1623" cy="401" rx="10" ry="6"/>
<ellipse cx="1564" cy="99" rx="9" ry="11"/>
<ellipse cx="1615" cy="97" rx="6" ry="11"/>
<ellipse cx="1615" cy="228" rx="6" ry="7"/>
<ellipse cx="1621" cy="412" rx="7" ry="5"/>
<ellipse cx="1649" cy="116" rx="7" ry="12"/>
<ellipse cx="1679" cy="111" rx="9" ry="8"/>
<ellipse cx="1591" cy="335" rx="6" ry="7"/>
<ellipse cx="1516" cy="308" rx="7" ry="5"/>
<ellipse cx="1509" cy="296" rx="7" ry="9"/>
<ellipse cx="1590" cy="107" rx="8" ry="8"/>
<ellipse cx="1557" cy="180" rx="6" ry="11"/>
<ellipse cx="1659" cy="235" rx="8" ry="7"/>
<ellipse cx="1573" cy="317" rx="10" ry="6"/>
<ellipse cx="1698" cy="178" rx="9" ry="10"/>
<ellipse cx="1565" cy="358" rx="11" ry="9"/>
<ellipse cx="1654" cy="389" rx="10" ry="6"/>
<ellipse cx="1512" cy="128" rx="6" ry="5"/>
<ellipse cx="1609" cy="224" rx="6" ry="6"/>
<ellipse cx="1555" cy="416" rx="9" ry="10"/>
<ellipse cx="1682" cy="411" rx="6" ry="11"/>
<ellipse cx="1623" cy="332" rx="6" ry="10"/>
<ellipse cx="1626" cy="327" rx="6" ry="6"/>
<ellipse cx="1594" cy="400" rx="7" ry="12"/>
<ellipse cx="1548" cy="283" rx="9" ry="7"/>
<ellipse cx="1551" cy="196" rx="11" ry="10"/>
<ellipse cx="1542" cy="371" rx="6" ry="10"/>
<ellipse cx="1641" cy="115" rx="7" ry="12"/>
<ellipse cx="1691" cy="150" rx="10" ry="7"/>
<ellipse cx="1601" cy="373" rx="6" ry="7"/>
<ellipse cx="1692" cy="155" rx="7" ry="11"/>
<ellipse cx="1673" cy="349" rx="5" ry="6"/>
<ellipse cx="1667" cy="248" rx="8" ry="8"/>
<ellipse cx="1686" cy="173" rx="8" ry="11"/>
<ellipse cx="1637" cy="412" rx="6" ry="6"/>
<ellipse cx="1505" cy="169" rx="8" ry="7"/>
<ellipse cx="1693" cy="263" rx="10" ry="10"/>
<ellipse cx="1547" cy="283" rx="11" ry="10"/>
<ellipse cx="1568" cy="414" rx="11" ry="11"/>
<ellipse cx="1592" cy="197" rx="10" ry="8"/>
<ellipse cx="1590" cy="83" rx="6" ry="6"/>
<ellipse cx="1644" cy="170" rx="7" ry="5"/>
<ellipse cx="1629" cy="400" rx="10" ry="12"/>
<ellipse cx="1664" cy="137" rx="7" ry="6"/>
<ellipse cx="1698" cy="166" rx="8" ry="8"/>
<ellipse cx="1666" cy="304" rx="11" ry="8"/>
<ellipse cx="1634" cy="375" rx="5" ry="10"/>
<ellipse cx="1583" cy="239" rx="7" ry="8"/>
<ellipse cx="1695" cy="287" rx="5" ry="7"/>
<ellipse cx="1622" cy="181" rx="8" ry="8"/>
<ellipse cx="1607" cy="110" rx="7" ry="10"/>
<ellipse cx="1601" cy="381" rx="10" ry="6"/>
<ellipse cx="1695" cy="212" rx="8" ry="11"/>
<ellipse cx="1667" cy="187" rx="10" ry="6"/>
<ellipse cx="1661" cy="283" rx="5" ry="10"/>
<ellipse cx="1681" cy="166" rx="10" ry="6"/>
<ellipse cx="1620" cy="327" rx="8" ry="10"/>
<ellipse cx="1675" cy="316" rx="10" ry="7"/>
<ellipse cx="1652" cy="224" rx="5" ry="11"/>
<ellipse cx="1505" cy="199" rx="6" ry="8"/>
<ellipse cx="1676" cy="241" rx="10" ry="8"/>
<ellipse cx="1629" cy="151" rx="6" ry="9"/>
<ellipse cx="1549" cy="341" rx="6" ry="8"/>
<ellipse cx="1622" cy="214" rx="6" ry="10"/>
<ellipse cx="1561" cy="403" rx="10" ry="6"/>
<ellipse cx="1515" cy="125" rx="7" ry="8"/>
<ellipse cx="1634" cy="257" rx="8" ry="11"/>
<ellipse cx="1682" cy="119" rx="8" ry="8"/>
<ellipse cx="1671" cy="397" rx="8" ry="8"/>
<ellipse cx="1618" cy="320" rx="10" ry="8"/>
<ellipse cx="1552" cy="396" rx="9" ry="9"/>
<ellipse cx="1507" cy="302" rx="5" ry="5"/>
<ellipse cx="1586" cy="371" rx="10" ry="11"/>
<ellipse cx="1629" cy="239" rx="7" ry="6"/>
<ellipse cx="1612" cy="233" rx="8" ry="11"/>
<ellipse cx="1654" cy="417" rx="10" ry="9"/>
<ellipse cx="1669" cy="411" rx="7" ry="6"/>
<ellipse cx="1582" cy="329" rx="9" ry="11"/>
<ellipse cx="1614" cy="119" rx="7" ry="7"/>
</g>
<g filter="url(#soft)">
<path d="M1652.0 100.0 L1659.0 95.0 L1669.0 99.0 L1665.0 115.0 L1679.0 130.0 L1694.0 145.0 L1689.0 168.0 L1671.0 191.0 L1687.0 210.0 L1702.0 236.0 L1694.0 259.0 L1704.0 275.0 L1698.0 298.0 L1683.0 317.0 L1694.0 347.0 L1698.0 373.0 L1679.0 392.0 L1669.0 405.0 L1672.0 410.0 L1665.0 398.0 L1652.0 385.0 L1642.0 335.0 L1647.0 300.0 L1652.0 260.0 L1646.0 240.0 L1644.0 202.0 L1652.0 190.0 L1657.0 179.0 L1648.0 160.0 L1640.0 138.0 L1653.0 125.0 L1655.0 110.0 Z" fill="#0e4488"/>
<g fill="url(#gb3)">
<circle cx="1683.0" cy="285.1" r="5.8"/>
<circle cx="1657.7" cy="116.6" r="5.4"/>
<circle cx="1658.8" cy="111.3" r="4.6"/>
<circle cx="1663.9" cy="315.9" r="4.9"/>
<circle cx="1651.2" cy="381.0" r="4.9"/>
<circle cx="1684.9" cy="304.3" r="6.3"/>
<circle cx="1678.6" cy="130.6" r="4.9"/>
<circle cx="1678.4" cy="292.8" r="5.9"/>
<circle cx="1659.1" cy="169.8" r="5.9"/>
<circle cx="1685.4" cy="314.8" r="4.9"/>
<circle cx="1680.3" cy="288.2" r="6.2"/>
<circle cx="1661.7" cy="317.6" r="4.8"/>
<circle cx="1678.3" cy="304.4" r="4.8"/>
<circle cx="1644.9" cy="375.6" r="5.4"/>
<circle cx="1661.0" cy="116.1" r="5.9"/>
<circle cx="1640.7" cy="363.1" r="5.7"/>
<circle cx="1643.7" cy="207.4" r="5.6"/>
<circle cx="1643.8" cy="365.9" r="6.0"/>
<circle cx="1678.5" cy="287.6" r="5.0"/>
<circle cx="1670.4" cy="140.9" r="6.1"/>
<circle cx="1664.5" cy="171.0" r="5.7"/>
<circle cx="1685.3" cy="142.4" r="5.7"/>
<circle cx="1659.7" cy="341.9" r="5.7"/>
</g>
<g fill="url(#gb2)">
<circle cx="1671.5" cy="240.0" r="5.3"/>
<circle cx="1662.3" cy="310.3" r="5.0"/>
</g>
<g fill="url(#gb3)">
<circle cx="1646.9" cy="285.7" r="5.3"/>
</g>
<g fill="url(#gb2)">
<circle cx="1690.5" cy="324.0" r="4.9"/>
</g>
<g fill="url(#gb3)">
<circle cx="1651.8" cy="278.2" r="6.1"/>
<circle cx="1647.6" cy="276.7" r="6.1"/>
<circle cx="1645.0" cy="200.5" r="5.2"/>
</g>
<g fill="url(#gb2)">
<circle cx="1692.6" cy="356.2" r="5.0"/>
<circle cx="1667.7" cy="317.1" r="5.2"/>
<circle cx="1686.2" cy="352.6" r="5.3"/>
<circle cx="1652.9" cy="98.7" r="4.6"/>
</g>
<g fill="url(#gb3)">
<circle cx="1649.8" cy="362.5" r="5.4"/>
</g>
<g fill="url(#gb2)">
<circle cx="1688.1" cy="323.1" r="4.8"/>
<circle cx="1671.9" cy="158.0" r="4.9"/>
<circle cx="1695.8" cy="259.3" r="6.4"/>
</g>
<g fill="url(#gb3)">
<circle cx="1642.6" cy="244.8" r="6.3"/>
</g>
<g fill="url(#gb2)">
<circle cx="1666.4" cy="136.0" r="5.4"/>
<circle cx="1669.0" cy="394.3" r="5.6"/>
<circle cx="1679.4" cy="285.5" r="5.5"/>
</g>
<g fill="url(#gb3)">
<circle cx="1641.1" cy="208.8" r="6.1"/>
<circle cx="1652.0" cy="277.0" r="6.1"/>
<circle cx="1641.2" cy="242.1" r="4.6"/>
</g>
<g fill="url(#gb2)">
<circle cx="1667.1" cy="307.8" r="5.7"/>
<circle cx="1659.8" cy="337.0" r="5.8"/>
<circle cx="1662.5" cy="139.1" r="6.0"/>
</g>
<g fill="url(#gb3)">
<circle cx="1647.4" cy="242.6" r="5.8"/>
</g>
<g fill="url(#gb2)">
<circle cx="1662.0" cy="347.5" r="5.5"/>
<circle cx="1692.3" cy="266.6" r="5.7"/>
<circle cx="1674.7" cy="166.5" r="5.1"/>
</g>
<g fill="url(#gb3)">
<circle cx="1650.6" cy="383.1" r="5.7"/>
</g>
<g fill="url(#gb2)">
<circle cx="1696.2" cy="277.7" r="5.2"/>
<circle cx="1658.1" cy="118.8" r="5.8"/>
<circle cx="1692.6" cy="309.2" r="5.5"/>
<circle cx="1682.1" cy="360.3" r="5.0"/>
<circle cx="1699.9" cy="356.2" r="5.9"/>
</g>
<g fill="url(#gb3)">
<circle cx="1643.8" cy="245.4" r="5.5"/>
</g>
<g fill="url(#gb2)">
<circle cx="1670.9" cy="173.7" r="6.3"/>
<circle cx="1653.0" cy="347.2" r="5.9"/>
<circle cx="1660.7" cy="165.7" r="4.8"/>
</g>
<g fill="url(#gb3)">
<circle cx="1644.9" cy="129.5" r="6.0"/>
</g>
<g fill="url(#gb2)">
<circle cx="1653.2" cy="211.7" r="5.7"/>
<circle cx="1664.7" cy="173.4" r="5.0"/>
<circle cx="1669.5" cy="391.7" r="5.6"/>
<circle cx="1671.9" cy="160.0" r="5.0"/>
<circle cx="1667.3" cy="204.0" r="5.0"/>
<circle cx="1662.7" cy="137.5" r="6.1"/>
<circle cx="1677.0" cy="236.5" r="5.4"/>
</g>
<g fill="url(#gb3)">
<circle cx="1648.7" cy="363.0" r="5.4"/>
</g>
<g fill="url(#gb2)">
<circle cx="1661.3" cy="360.2" r="5.4"/>
</g>
<g fill="url(#gb3)">
<circle cx="1645.5" cy="201.0" r="6.0"/>
</g>
<g fill="url(#gb2)">
<circle cx="1656.5" cy="353.4" r="5.0"/>
<circle cx="1655.4" cy="252.7" r="5.3"/>
<circle cx="1652.7" cy="359.6" r="5.7"/>
</g>
<g fill="url(#gb3)">
<circle cx="1648.6" cy="202.8" r="5.1"/>
</g>
<g fill="url(#gb2)">
<circle cx="1674.6" cy="136.2" r="5.6"/>
</g>
<g fill="url(#gb3)">
<circle cx="1650.9" cy="209.7" r="5.0"/>
<circle cx="1643.6" cy="203.1" r="4.8"/>
<circle cx="1652.0" cy="143.2" r="5.6"/>
</g>
<g fill="url(#gb2)">
<circle cx="1653.0" cy="145.2" r="6.4"/>
<circle cx="1668.3" cy="317.7" r="6.1"/>
<circle cx="1667.5" cy="206.1" r="5.6"/>
<circle cx="1654.2" cy="279.5" r="5.8"/>
<circle cx="1674.1" cy="140.2" r="6.1"/>
<circle cx="1675.9" cy="391.6" r="6.2"/>
<circle cx="1661.8" cy="355.3" r="4.8"/>
<circle cx="1688.6" cy="320.8" r="5.7"/>
<circle cx="1659.9" cy="365.8" r="5.8"/>
<circle cx="1670.0" cy="198.1" r="5.6"/>
<circle cx="1663.1" cy="164.4" r="6.3"/>
<circle cx="1667.1" cy="174.4" r="5.7"/>
<circle cx="1664.1" cy="143.4" r="4.8"/>
<circle cx="1652.4" cy="286.8" r="5.1"/>
<circle cx="1658.4" cy="362.4" r="4.8"/>
<circle cx="1695.1" cy="279.4" r="5.3"/>
<circle cx="1677.5" cy="307.7" r="6.1"/>
<circle cx="1687.7" cy="312.2" r="6.0"/>
<circle cx="1672.4" cy="306.4" r="5.4"/>
<circle cx="1669.8" cy="153.1" r="5.4"/>
<circle cx="1686.5" cy="352.6" r="4.9"/>
<circle cx="1662.6" cy="139.5" r="4.7"/>
</g>
<g fill="url(#gb3)">
<circle cx="1650.8" cy="98.5" r="5.7"/>
</g>
<g fill="url(#gb2)">
<circle cx="1674.1" cy="242.5" r="5.6"/>
<circle cx="1697.3" cy="278.1" r="5.3"/>
<circle cx="1676.5" cy="385.9" r="5.5"/>
<circle cx="1657.7" cy="112.5" r="6.1"/>
<circle cx="1673.5" cy="132.0" r="5.0"/>
<circle cx="1654.9" cy="341.3" r="4.7"/>
<circle cx="1660.7" cy="361.8" r="5.4"/>
</g>
<g fill="url(#gb3)">
<circle cx="1652.0" cy="282.6" r="4.9"/>
</g>
<g fill="url(#gb2)">
<circle cx="1679.4" cy="135.4" r="5.1"/>
</g>
<g fill="url(#gb3)">
<circle cx="1645.6" cy="326.4" r="6.2"/>
<circle cx="1642.3" cy="328.4" r="5.8"/>
</g>
<g fill="url(#gb2)">
<circle cx="1657.1" cy="151.6" r="5.5"/>
<circle cx="1655.9" cy="297.0" r="6.2"/>
<circle cx="1656.6" cy="122.2" r="5.6"/>
<circle cx="1670.9" cy="135.6" r="5.0"/>
<circle cx="1694.7" cy="272.5" r="5.5"/>
</g>
<g fill="url(#gb3)">
<circle cx="1646.8" cy="378.7" r="5.5"/>
</g>
<g fill="url(#gb2)">
<circle cx="1683.1" cy="315.8" r="6.2"/>
<circle cx="1676.2" cy="132.1" r="6.0"/>
<circle cx="1684.5" cy="356.1" r="6.0"/>
<circle cx="1679.1" cy="300.9" r="4.9"/>
<circle cx="1665.5" cy="153.7" r="5.9"/>
<circle cx="1656.5" cy="386.4" r="5.2"/>
<circle cx="1690.9" cy="355.0" r="6.3"/>
</g>
<g fill="url(#gb3)">
<circle cx="1640.3" cy="331.2" r="5.2"/>
</g>
<g fill="url(#gb2)">
<circle cx="1686.3" cy="314.8" r="4.9"/>
<circle cx="1671.9" cy="223.5" r="4.8"/>
<circle cx="1699.8" cy="360.0" r="5.3"/>
<circle cx="1668.3" cy="393.3" r="4.7"/>
</g>
<g fill="url(#gb3)">
<circle cx="1648.0" cy="296.3" r="5.7"/>
</g>
<g fill="url(#gb2)">
<circle cx="1656.9" cy="271.3" r="6.1"/>
</g>
<g fill="url(#gb3)">
<circle cx="1643.3" cy="311.2" r="5.0"/>
</g>
<g fill="url(#gb2)">
<circle cx="1687.4" cy="316.0" r="5.7"/>
<circle cx="1665.8" cy="144.9" r="5.8"/>
</g>
<g fill="url(#gb3)">
<circle cx="1642.8" cy="329.0" r="5.0"/>
<circle cx="1643.2" cy="136.8" r="4.9"/>
</g>
<g fill="url(#gb2)">
<circle cx="1665.8" cy="279.1" r="6.0"/>
</g>
<g fill="url(#gb3)">
<circle cx="1651.7" cy="378.7" r="6.1"/>
</g>
<g fill="url(#gb2)">
<circle cx="1660.8" cy="312.9" r="5.4"/>
<circle cx="1667.2" cy="303.2" r="6.0"/>
<circle cx="1654.1" cy="246.5" r="4.7"/>
</g>
<g fill="url(#gb3)">
<circle cx="1641.6" cy="202.0" r="6.0"/>
<circle cx="1650.3" cy="198.0" r="5.7"/>
<circle cx="1643.2" cy="283.1" r="5.0"/>
<circle cx="1638.2" cy="209.0" r="4.8"/>
<circle cx="1643.5" cy="130.8" r="6.0"/>
</g>
<g fill="url(#gb2)">
<circle cx="1653.8" cy="335.4" r="6.3"/>
</g>
<g fill="url(#gb3)">
<circle cx="1643.4" cy="376.1" r="6.0"/>
<circle cx="1650.5" cy="294.3" r="4.7"/>
</g>
<g fill="url(#gb2)">
<circle cx="1676.7" cy="242.2" r="5.5"/>
<circle cx="1661.4" cy="351.8" r="6.1"/>
<circle cx="1669.2" cy="148.6" r="5.4"/>
<circle cx="1678.8" cy="284.7" r="5.8"/>
</g>
<g fill="url(#gb3)">
<circle cx="1645.2" cy="316.1" r="4.6"/>
<circle cx="1646.0" cy="281.0" r="4.9"/>
</g>
<g fill="url(#gb2)">
<circle cx="1664.3" cy="133.4" r="6.3"/>
<circle cx="1692.9" cy="148.9" r="4.7"/>
<circle cx="1659.1" cy="276.6" r="5.1"/>
<circle cx="1657.3" cy="357.1" r="5.0"/>
</g>
<g fill="url(#gb3)">
<circle cx="1646.7" cy="285.8" r="4.9"/>
</g>
<g fill="url(#gb2)">
<circle cx="1656.2" cy="109.2" r="6.3"/>
</g>
<g fill="url(#gb3)">
<circle cx="1650.9" cy="207.4" r="6.3"/>
</g>
<g fill="url(#gb2)">
<circle cx="1664.6" cy="303.4" r="5.0"/>
<circle cx="1657.1" cy="121.8" r="6.1"/>
<circle cx="1683.2" cy="371.4" r="4.7"/>
<circle cx="1668.1" cy="139.2" r="4.9"/>
</g>
<g fill="url(#gb3)">
<circle cx="1645.7" cy="354.2" r="5.0"/>
</g>
<g fill="url(#gb2)">
<circle cx="1676.5" cy="245.7" r="5.5"/>
</g>
<g fill="url(#gb3)">
<circle cx="1644.9" cy="324.1" r="6.4"/>
</g>
<g fill="url(#gb2)">
<circle cx="1663.6" cy="253.8" r="5.9"/>
<circle cx="1666.6" cy="353.0" r="5.4"/>
</g>
<g fill="url(#gb3)">
<circle cx="1647.8" cy="339.2" r="5.7"/>
</g>
<g fill="url(#gb2)">
<circle cx="1673.0" cy="169.3" r="5.6"/>
<circle cx="1667.6" cy="308.8" r="6.1"/>
<circle cx="1683.3" cy="289.3" r="5.3"/>
<circle cx="1701.0" cy="359.5" r="6.3"/>
<circle cx="1689.0" cy="323.7" r="5.3"/>
</g>
<g fill="url(#gb3)">
<circle cx="1648.9" cy="201.5" r="5.8"/>
<circle cx="1643.6" cy="214.3" r="5.4"/>
</g>
<g fill="url(#gb2)">
<circle cx="1655.1" cy="279.8" r="5.9"/>
<circle cx="1657.2" cy="147.0" r="6.0"/>
</g>
<g fill="url(#gb3)">
<circle cx="1642.9" cy="244.6" r="4.9"/>
</g>
<g fill="url(#gb2)">
<circle cx="1685.3" cy="252.7" r="5.8"/>
</g>
<g fill="url(#gb3)">
<circle cx="1637.5" cy="206.1" r="5.4"/>
</g>
<g fill="url(#gb2)">
<circle cx="1657.4" cy="121.2" r="5.7"/>
<circle cx="1668.9" cy="309.4" r="4.8"/>
<circle cx="1706.8" cy="283.9" r="6.3"/>
<circle cx="1691.2" cy="253.8" r="6.3"/>
<circle cx="1661.1" cy="330.8" r="6.0"/>
</g>
<g fill="url(#gb3)">
<circle cx="1638.8" cy="331.9" r="5.6"/>
</g>
<g fill="url(#gb2)">
<circle cx="1667.9" cy="162.2" r="4.7"/>
</g>
<g fill="url(#gb3)">
<circle cx="1643.5" cy="198.6" r="5.0"/>
</g>
<g fill="url(#gb2)">
<circle cx="1682.3" cy="311.2" r="5.5"/>
<circle cx="1697.2" cy="354.5" r="6.4"/>
<circle cx="1652.6" cy="282.4" r="5.6"/>
</g>
<g fill="url(#gb3)">
<circle cx="1639.3" cy="212.5" r="5.0"/>
</g>
<g fill="url(#gb2)">
<circle cx="1662.4" cy="308.0" r="4.7"/>
<circle cx="1658.4" cy="253.2" r="5.7"/>
<circle cx="1675.0" cy="374.6" r="5.8"/>
</g>
<g fill="url(#gb3)">
<circle cx="1647.4" cy="242.7" r="5.1"/>
</g>
<g fill="url(#gb2)">
<circle cx="1658.0" cy="252.6" r="6.1"/>
<circle cx="1653.0" cy="339.5" r="5.3"/>
</g>
<g fill="url(#gb3)">
<circle cx="1645.9" cy="362.0" r="5.4"/>
</g>
<g fill="url(#gb2)">
<circle cx="1702.5" cy="363.7" r="5.0"/>
</g>
<g fill="url(#gb3)">
<circle cx="1648.7" cy="108.7" r="4.9"/>
</g>
<g fill="url(#gb2)">
<circle cx="1672.5" cy="203.0" r="6.0"/>
<circle cx="1672.6" cy="173.2" r="5.0"/>
<circle cx="1674.2" cy="318.4" r="5.2"/>
<circle cx="1697.1" cy="288.5" r="4.9"/>
<circle cx="1706.0" cy="272.0" r="5.4"/>
<circle cx="1663.8" cy="138.4" r="4.9"/>
</g>
<g fill="url(#gb3)">
<circle cx="1641.5" cy="353.0" r="5.6"/>
<circle cx="1645.5" cy="321.8" r="5.0"/>
</g>
<g fill="url(#gb1)">
<circle cx="1697.7" cy="359.1" r="5.7"/>
<circle cx="1684.9" cy="284.7" r="5.8"/>
<circle cx="1662.4" cy="129.8" r="5.6"/>
<circle cx="1654.7" cy="111.8" r="5.9"/>
<circle cx="1652.6" cy="348.7" r="4.9"/>
<circle cx="1652.1" cy="247.9" r="6.1"/>
</g>
<g fill="url(#gb3)">
<circle cx="1647.7" cy="185.7" r="5.1"/>
</g>
<g fill="url(#gb1)">
<circle cx="1653.8" cy="240.5" r="4.7"/>
<circle cx="1655.7" cy="275.7" r="5.1"/>
<circle cx="1706.6" cy="285.1" r="4.7"/>
</g>
<g fill="url(#gb3)">
<circle cx="1650.6" cy="211.4" r="4.9"/>
<circle cx="1646.2" cy="290.0" r="4.8"/>
</g>
<g fill="url(#gb1)">
<circle cx="1674.9" cy="181.6" r="5.6"/>
<circle cx="1667.7" cy="407.8" r="5.6"/>
<circle cx="1682.2" cy="320.5" r="5.3"/>
</g>
<g fill="url(#gb3)">
<circle cx="1649.6" cy="350.5" r="4.7"/>
</g>
<g fill="url(#gb1)">
<circle cx="1698.4" cy="358.8" r="6.0"/>
<circle cx="1671.8" cy="400.6" r="5.9"/>
<circle cx="1654.5" cy="159.6" r="6.0"/>
<circle cx="1655.2" cy="141.7" r="4.8"/>
</g>
<g fill="url(#gb3)">
<circle cx="1648.6" cy="296.3" r="5.9"/>
<circle cx="1648.4" cy="326.6" r="4.9"/>
</g>
<g fill="url(#gb1)">
<circle cx="1664.3" cy="133.5" r="6.3"/>
<circle cx="1673.4" cy="117.0" r="6.4"/>
</g>
<g fill="url(#gb2)">
<circle cx="1645.9" cy="246.1" r="5.4"/>
</g>
<g fill="url(#gb1)">
<circle cx="1680.0" cy="373.4" r="6.1"/>
<circle cx="1676.2" cy="370.3" r="5.1"/>
</g>
<g fill="url(#gb2)">
<circle cx="1643.9" cy="198.8" r="5.1"/>
</g>
<g fill="url(#gb1)">
<circle cx="1670.3" cy="229.1" r="5.7"/>
<circle cx="1653.7" cy="131.3" r="5.9"/>
<circle cx="1659.4" cy="153.3" r="4.8"/>
<circle cx="1692.4" cy="260.9" r="5.3"/>
<circle cx="1680.1" cy="272.6" r="5.1"/>
</g>
<g fill="url(#gb2)">
<circle cx="1639.6" cy="323.7" r="5.7"/>
<circle cx="1651.3" cy="343.0" r="4.8"/>
</g>
<g fill="url(#gb1)">
<circle cx="1672.6" cy="205.3" r="5.5"/>
<circle cx="1664.2" cy="369.4" r="6.2"/>
</g>
<g fill="url(#gb2)">
<circle cx="1641.6" cy="333.0" r="5.5"/>
</g>
<g fill="url(#gb1)">
<circle cx="1661.9" cy="154.4" r="6.0"/>
<circle cx="1682.4" cy="131.0" r="6.2"/>
<circle cx="1667.4" cy="224.1" r="5.5"/>
</g>
<g fill="url(#gb2)">
<circle cx="1647.6" cy="130.4" r="6.2"/>
</g>
<g fill="url(#gb1)">
<circle cx="1663.4" cy="254.0" r="5.1"/>
<circle cx="1671.1" cy="368.1" r="6.3"/>
<circle cx="1692.8" cy="141.8" r="5.3"/>
<circle cx="1666.8" cy="227.2" r="5.1"/>
<circle cx="1665.2" cy="398.2" r="6.1"/>
</g>
<g fill="url(#gb2)">
<circle cx="1646.2" cy="348.5" r="5.4"/>
</g>
<g fill="url(#gb1)">
<circle cx="1670.6" cy="406.4" r="5.5"/>
<circle cx="1659.4" cy="305.1" r="5.1"/>
<circle cx="1672.7" cy="222.4" r="5.7"/>
</g>
<g fill="url(#gb2)">
<circle cx="1644.3" cy="350.5" r="5.4"/>
</g>
<g fill="url(#gb1)">
<circle cx="1680.8" cy="319.2" r="6.1"/>
</g>
<g fill="url(#gb2)">
<circle cx="1649.1" cy="141.5" r="5.9"/>
</g>
<g fill="url(#gb1)">
<circle cx="1663.3" cy="402.1" r="6.3"/>
</g>
<g fill="url(#gb2)">
<circle cx="1642.5" cy="211.4" r="5.8"/>
<circle cx="1646.2" cy="196.4" r="5.4"/>
</g>
<g fill="url(#gb1)">
<circle cx="1655.7" cy="144.7" r="5.7"/>
<circle cx="1667.2" cy="167.3" r="6.3"/>
</g>
<g fill="url(#gb2)">
<circle cx="1644.6" cy="280.7" r="5.4"/>
</g>
<g fill="url(#gb1)">
<circle cx="1658.2" cy="338.2" r="6.0"/>
<circle cx="1690.2" cy="307.8" r="6.0"/>
</g>
<g fill="url(#gb2)">
<circle cx="1646.3" cy="137.5" r="5.6"/>
<circle cx="1636.5" cy="342.4" r="4.7"/>
<circle cx="1640.8" cy="318.8" r="6.0"/>
<circle cx="1648.6" cy="188.0" r="5.4"/>
<circle cx="1641.0" cy="352.1" r="5.2"/>
<circle cx="1648.6" cy="123.2" r="4.7"/>
<circle cx="1651.2" cy="146.8" r="5.4"/>
</g>
<g fill="url(#gb1)">
<circle cx="1675.8" cy="122.9" r="6.1"/>
<circle cx="1671.9" cy="393.9" r="6.1"/>
<circle cx="1689.7" cy="312.1" r="6.0"/>
<circle cx="1653.0" cy="205.6" r="5.0"/>
<circle cx="1702.3" cy="282.7" r="6.0"/>
<circle cx="1654.0" cy="303.8" r="5.1"/>
<circle cx="1658.0" cy="272.9" r="5.0"/>
<circle cx="1657.6" cy="148.9" r="6.0"/>
</g>
<g fill="url(#gb2)">
<circle cx="1644.1" cy="367.1" r="5.7"/>
</g>
<g fill="url(#gb1)">
<circle cx="1652.9" cy="326.3" r="5.4"/>
<circle cx="1682.9" cy="148.3" r="5.6"/>
<circle cx="1660.6" cy="316.1" r="5.1"/>
<circle cx="1673.4" cy="123.5" r="5.1"/>
<circle cx="1674.3" cy="157.5" r="5.1"/>
<circle cx="1683.9" cy="139.5" r="5.3"/>
</g>
<g fill="url(#gb2)">
<circle cx="1642.0" cy="314.4" r="5.4"/>
</g>
<g fill="url(#gb1)">
<circle cx="1680.6" cy="272.9" r="5.6"/>
<circle cx="1681.6" cy="160.4" r="6.2"/>
</g>
<g fill="url(#gb2)">
<circle cx="1648.7" cy="353.3" r="5.9"/>
</g>
<g fill="url(#gb1)">
<circle cx="1660.8" cy="201.9" r="6.1"/>
<circle cx="1688.1" cy="164.5" r="6.3"/>
<circle cx="1681.8" cy="224.9" r="4.6"/>
<circle cx="1674.5" cy="156.0" r="5.4"/>
<circle cx="1690.9" cy="141.3" r="5.7"/>
<circle cx="1656.6" cy="359.6" r="6.1"/>
<circle cx="1656.5" cy="299.2" r="6.0"/>
<circle cx="1675.5" cy="217.5" r="5.5"/>
</g>
<g fill="url(#gb2)">
<circle cx="1648.0" cy="332.8" r="5.0"/>
</g>
<g fill="url(#gb1)">
<circle cx="1672.9" cy="162.8" r="6.2"/>
<circle cx="1678.1" cy="152.3" r="6.2"/>
<circle cx="1653.4" cy="111.2" r="4.8"/>
</g>
<g fill="url(#gb2)">
<circle cx="1646.7" cy="322.6" r="6.2"/>
</g>
<g fill="url(#gb1)">
<circle cx="1666.1" cy="202.0" r="5.8"/>
</g>
<g fill="url(#gb2)">
<circle cx="1649.0" cy="251.4" r="6.1"/>
</g>
<g fill="url(#gb1)">
<circle cx="1668.2" cy="254.0" r="5.6"/>
<circle cx="1656.5" cy="237.5" r="6.3"/>
</g>
<g fill="url(#gb2)">
<circle cx="1643.1" cy="363.7" r="4.6"/>
</g>
<g fill="url(#gb1)">
<circle cx="1691.6" cy="362.3" r="5.3"/>
<circle cx="1695.7" cy="149.0" r="5.0"/>
<circle cx="1662.4" cy="184.4" r="6.1"/>
<circle cx="1669.2" cy="262.7" r="5.9"/>
</g>
<g fill="url(#gb2)">
<circle cx="1643.8" cy="251.6" r="5.9"/>
</g>
<g fill="url(#gb1)">
<circle cx="1655.1" cy="116.5" r="4.7"/>
<circle cx="1671.9" cy="152.3" r="4.9"/>
<circle cx="1682.0" cy="286.3" r="6.2"/>
</g>
<g fill="url(#gb2)">
<circle cx="1643.0" cy="200.9" r="5.1"/>
</g>
<g fill="url(#gb1)">
<circle cx="1658.7" cy="210.6" r="6.3"/>
<circle cx="1652.1" cy="119.4" r="5.5"/>
<circle cx="1678.9" cy="370.0" r="5.0"/>
<circle cx="1659.2" cy="322.6" r="6.2"/>
<circle cx="1700.3" cy="359.8" r="6.1"/>
<circle cx="1661.2" cy="323.0" r="5.0"/>
<circle cx="1698.8" cy="365.3" r="6.0"/>
</g>
<g fill="url(#gb2)">
<circle cx="1642.6" cy="318.1" r="6.2"/>
</g>
<g fill="url(#gb1)">
<circle cx="1652.1" cy="356.8" r="6.2"/>
</g>
<g fill="url(#gb2)">
<circle cx="1643.4" cy="313.5" r="5.8"/>
</g>
<g fill="url(#gb1)">
<circle cx="1680.1" cy="288.3" r="6.0"/>
</g>
<g fill="url(#gb2)">
<circle cx="1651.0" cy="255.6" r="4.9"/>
</g>
<g fill="url(#gb1)">
<circle cx="1661.5" cy="202.7" r="6.1"/>
</g>
<g fill="url(#gb2)">
<circle cx="1648.3" cy="323.8" r="5.4"/>
</g>
<g fill="url(#gb1)">
<circle cx="1682.2" cy="225.7" r="6.1"/>
<circle cx="1682.5" cy="271.7" r="4.9"/>
<circle cx="1687.6" cy="168.3" r="6.1"/>
<circle cx="1692.1" cy="142.4" r="6.1"/>
<circle cx="1691.0" cy="140.2" r="5.1"/>
</g>
<g fill="url(#gb2)">
<circle cx="1649.8" cy="265.8" r="6.2"/>
<circle cx="1647.6" cy="130.7" r="5.3"/>
</g>
<g fill="url(#gb1)">
<circle cx="1655.9" cy="125.1" r="5.7"/>
<circle cx="1703.5" cy="279.0" r="5.6"/>
<circle cx="1682.0" cy="129.8" r="5.7"/>
<circle cx="1665.3" cy="391.8" r="4.7"/>
<circle cx="1655.2" cy="210.8" r="6.3"/>
<circle cx="1682.7" cy="176.5" r="6.1"/>
<circle cx="1656.8" cy="126.6" r="6.3"/>
<circle cx="1660.0" cy="197.7" r="4.7"/>
<circle cx="1658.2" cy="119.2" r="4.9"/>
<circle cx="1669.0" cy="196.3" r="5.4"/>
<circle cx="1690.1" cy="210.7" r="4.8"/>
<circle cx="1680.3" cy="163.1" r="5.7"/>
<circle cx="1665.5" cy="257.9" r="4.9"/>
<circle cx="1663.8" cy="187.6" r="5.8"/>
<circle cx="1656.5" cy="123.5" r="6.3"/>
<circle cx="1676.9" cy="173.4" r="5.1"/>
<circle cx="1693.4" cy="218.1" r="5.4"/>
<circle cx="1671.1" cy="179.6" r="6.4"/>
<circle cx="1662.5" cy="178.5" r="6.0"/>
<circle cx="1669.4" cy="272.4" r="5.1"/>
<circle cx="1675.4" cy="151.0" r="5.4"/>
<circle cx="1665.5" cy="199.3" r="4.6"/>
<circle cx="1680.8" cy="265.7" r="6.4"/>
<circle cx="1707.4" cy="271.8" r="4.7"/>
<circle cx="1701.7" cy="273.7" r="5.3"/>
<circle cx="1657.6" cy="238.1" r="5.5"/>
</g>
<g fill="url(#gb2)">
<circle cx="1639.8" cy="148.8" r="6.0"/>
</g>
<g fill="url(#gb1)">
<circle cx="1689.8" cy="210.8" r="6.3"/>
<circle cx="1664.5" cy="198.6" r="4.7"/>
<circle cx="1662.2" cy="206.6" r="5.6"/>
</g>
<g fill="url(#gb2)">
<circle cx="1641.3" cy="360.2" r="6.0"/>
<circle cx="1635.7" cy="332.1" r="4.9"/>
</g>
<g fill="url(#gb1)">
<circle cx="1665.4" cy="181.6" r="4.8"/>
<circle cx="1707.2" cy="278.1" r="5.5"/>
<circle cx="1655.8" cy="133.3" r="5.3"/>
<circle cx="1662.6" cy="394.7" r="6.2"/>
<circle cx="1704.0" cy="288.9" r="5.8"/>
<circle cx="1662.3" cy="183.2" r="5.1"/>
<circle cx="1693.9" cy="373.9" r="6.1"/>
<circle cx="1671.4" cy="172.8" r="6.0"/>
<circle cx="1670.9" cy="215.6" r="6.2"/>
</g>
<g fill="url(#gb2)">
<circle cx="1645.4" cy="328.8" r="5.2"/>
<circle cx="1641.3" cy="341.8" r="6.3"/>
</g>
<g fill="url(#gb1)">
<circle cx="1668.4" cy="249.7" r="5.6"/>
<circle cx="1656.1" cy="241.7" r="5.3"/>
<circle cx="1656.5" cy="323.0" r="5.0"/>
<circle cx="1673.2" cy="222.1" r="6.4"/>
<circle cx="1686.6" cy="156.3" r="5.9"/>
</g>
<g fill="url(#gb2)">
<circle cx="1649.7" cy="270.6" r="4.9"/>
</g>
<g fill="url(#gb1)">
<circle cx="1692.4" cy="364.5" r="5.0"/>
<circle cx="1661.6" cy="200.4" r="5.1"/>
</g>
<g fill="url(#gb2)">
<circle cx="1638.7" cy="328.6" r="5.0"/>
<circle cx="1651.1" cy="269.7" r="5.8"/>
</g>
<g fill="url(#gb1)">
<circle cx="1677.9" cy="162.8" r="5.7"/>
<circle cx="1689.1" cy="255.6" r="6.4"/>
<circle cx="1680.8" cy="375.9" r="5.4"/>
</g>
<g fill="url(#gb2)">
<circle cx="1648.5" cy="210.5" r="6.3"/>
</g>
<g fill="url(#gb1)">
<circle cx="1694.5" cy="157.6" r="5.7"/>
<circle cx="1661.3" cy="202.2" r="6.2"/>
<circle cx="1671.9" cy="145.0" r="6.3"/>
<circle cx="1668.2" cy="325.4" r="5.2"/>
</g>
<g fill="url(#gb2)">
<circle cx="1651.1" cy="242.2" r="5.5"/>
</g>
<g fill="url(#gb1)">
<circle cx="1667.1" cy="405.2" r="6.2"/>
<circle cx="1672.7" cy="356.4" r="5.7"/>
<circle cx="1663.4" cy="184.0" r="6.3"/>
<circle cx="1667.0" cy="281.8" r="5.7"/>
<circle cx="1663.3" cy="192.3" r="5.5"/>
<circle cx="1679.2" cy="374.4" r="5.5"/>
<circle cx="1644.5" cy="250.9" r="4.9"/>
<circle cx="1660.3" cy="177.3" r="5.4"/>
<circle cx="1671.6" cy="215.2" r="5.0"/>
<circle cx="1659.0" cy="345.5" r="4.8"/>
<circle cx="1659.1" cy="240.3" r="5.8"/>
<circle cx="1658.0" cy="135.4" r="5.0"/>
<circle cx="1660.5" cy="343.6" r="4.9"/>
<circle cx="1643.5" cy="141.3" r="4.6"/>
<circle cx="1682.4" cy="142.7" r="5.0"/>
<circle cx="1693.6" cy="356.8" r="4.7"/>
<circle cx="1660.1" cy="200.2" r="5.5"/>
<circle cx="1656.6" cy="138.9" r="6.0"/>
<circle cx="1640.3" cy="322.5" r="5.0"/>
<circle cx="1655.8" cy="143.6" r="5.5"/>
<circle cx="1654.5" cy="209.0" r="5.7"/>
<circle cx="1679.2" cy="177.5" r="4.8"/>
<circle cx="1668.0" cy="145.8" r="5.6"/>
<circle cx="1668.7" cy="347.4" r="6.1"/>
<circle cx="1647.8" cy="143.8" r="4.7"/>
<circle cx="1688.1" cy="216.1" r="5.6"/>
<circle cx="1674.6" cy="146.9" r="4.7"/>
<circle cx="1676.3" cy="251.9" r="5.0"/>
<circle cx="1676.2" cy="227.5" r="5.5"/>
<circle cx="1650.4" cy="151.1" r="5.0"/>
<circle cx="1672.2" cy="159.0" r="5.6"/>
<circle cx="1666.8" cy="228.9" r="4.6"/>
<circle cx="1683.4" cy="388.1" r="4.9"/>
<circle cx="1648.0" cy="334.8" r="5.2"/>
<circle cx="1672.1" cy="180.0" r="6.2"/>
<circle cx="1678.2" cy="155.3" r="5.8"/>
<circle cx="1677.1" cy="217.2" r="4.9"/>
<circle cx="1676.1" cy="162.1" r="5.2"/>
<circle cx="1671.2" cy="275.2" r="5.3"/>
<circle cx="1647.7" cy="334.8" r="5.8"/>
<circle cx="1646.3" cy="271.5" r="5.8"/>
<circle cx="1651.9" cy="355.7" r="6.0"/>
<circle cx="1693.7" cy="146.0" r="5.1"/>
<circle cx="1656.3" cy="151.2" r="5.4"/>
<circle cx="1671.6" cy="330.2" r="4.8"/>
<circle cx="1682.0" cy="368.1" r="6.2"/>
<circle cx="1674.4" cy="195.9" r="6.2"/>
<circle cx="1679.8" cy="224.1" r="5.4"/>
<circle cx="1681.1" cy="219.7" r="5.5"/>
<circle cx="1642.8" cy="147.7" r="5.3"/>
<circle cx="1646.7" cy="249.8" r="6.4"/>
<circle cx="1659.1" cy="99.0" r="4.9"/>
<circle cx="1658.7" cy="389.3" r="4.7"/>
<circle cx="1687.1" cy="389.5" r="5.2"/>
<circle cx="1677.0" cy="172.5" r="5.2"/>
<circle cx="1645.0" cy="336.0" r="5.9"/>
<circle cx="1685.2" cy="390.4" r="6.2"/>
<circle cx="1669.3" cy="330.1" r="6.4"/>
<circle cx="1661.8" cy="109.0" r="5.2"/>
<circle cx="1690.0" cy="166.9" r="5.5"/>
<circle cx="1655.9" cy="169.8" r="6.2"/>
<circle cx="1665.5" cy="282.1" r="5.4"/>
<circle cx="1652.3" cy="206.5" r="5.4"/>
<circle cx="1687.1" cy="174.3" r="5.7"/>
<circle cx="1671.8" cy="323.4" r="5.8"/>
<circle cx="1695.1" cy="146.0" r="4.9"/>
<circle cx="1661.3" cy="103.0" r="6.1"/>
<circle cx="1643.2" cy="334.1" r="5.9"/>
<circle cx="1655.4" cy="321.8" r="5.8"/>
<circle cx="1661.3" cy="131.7" r="5.0"/>
<circle cx="1653.9" cy="210.2" r="6.0"/>
<circle cx="1664.2" cy="199.3" r="6.4"/>
<circle cx="1684.2" cy="258.1" r="6.1"/>
<circle cx="1679.7" cy="128.9" r="6.1"/>
<circle cx="1661.7" cy="201.9" r="5.1"/>
<circle cx="1646.9" cy="334.6" r="5.8"/>
<circle cx="1666.8" cy="161.4" r="6.0"/>
<circle cx="1687.5" cy="174.6" r="4.9"/>
<circle cx="1660.8" cy="298.6" r="5.5"/>
<circle cx="1658.1" cy="298.3" r="4.8"/>
<circle cx="1654.6" cy="348.1" r="5.7"/>
<circle cx="1663.4" cy="216.0" r="4.7"/>
<circle cx="1679.2" cy="350.4" r="5.6"/>
<circle cx="1646.4" cy="131.7" r="5.0"/>
<circle cx="1645.0" cy="335.2" r="5.9"/>
<circle cx="1685.2" cy="163.9" r="5.1"/>
<circle cx="1670.9" cy="402.9" r="6.0"/>
<circle cx="1687.0" cy="169.0" r="6.1"/>
<circle cx="1645.8" cy="366.9" r="6.3"/>
<circle cx="1699.7" cy="240.9" r="5.6"/>
<circle cx="1680.5" cy="167.8" r="5.3"/>
<circle cx="1676.8" cy="402.8" r="5.8"/>
<circle cx="1664.9" cy="372.5" r="5.6"/>
<circle cx="1698.3" cy="273.1" r="5.4"/>
<circle cx="1681.3" cy="329.6" r="5.8"/>
<circle cx="1673.2" cy="237.5" r="4.7"/>
<circle cx="1689.2" cy="167.6" r="4.7"/>
<circle cx="1640.9" cy="143.7" r="5.3"/>
<circle cx="1667.6" cy="395.1" r="5.3"/>
<circle cx="1702.5" cy="249.7" r="5.5"/>
<circle cx="1656.3" cy="139.3" r="5.3"/>
<circle cx="1673.6" cy="377.9" r="4.7"/>
<circle cx="1685.3" cy="167.6" r="6.2"/>
<circle cx="1648.6" cy="249.3" r="5.1"/>
<circle cx="1683.7" cy="264.7" r="5.5"/>
<circle cx="1651.2" cy="134.5" r="6.1"/>
<circle cx="1645.0" cy="269.6" r="5.7"/>
<circle cx="1683.6" cy="349.9" r="5.2"/>
<circle cx="1660.5" cy="212.0" r="6.2"/>
<circle cx="1697.4" cy="270.8" r="5.9"/>
<circle cx="1678.6" cy="374.4" r="5.5"/>
<circle cx="1667.7" cy="230.0" r="5.7"/>
<circle cx="1687.0" cy="361.2" r="5.8"/>
<circle cx="1705.4" cy="278.8" r="5.5"/>
<circle cx="1676.9" cy="174.6" r="4.8"/>
<circle cx="1657.1" cy="271.2" r="5.2"/>
<circle cx="1665.9" cy="325.7" r="5.3"/>
<circle cx="1657.5" cy="128.6" r="5.9"/>
<circle cx="1664.7" cy="192.4" r="6.0"/>
<circle cx="1695.4" cy="276.6" r="5.5"/>
<circle cx="1664.0" cy="207.0" r="4.9"/>
<circle cx="1643.6" cy="363.0" r="5.0"/>
<circle cx="1651.0" cy="131.7" r="6.3"/>
<circle cx="1655.9" cy="103.2" r="5.5"/>
<circle cx="1671.9" cy="377.3" r="4.9"/>
<circle cx="1644.1" cy="359.2" r="5.0"/>
<circle cx="1657.2" cy="143.8" r="5.5"/>
<circle cx="1658.9" cy="149.5" r="5.0"/>
<circle cx="1670.4" cy="325.5" r="6.2"/>
<circle cx="1667.1" cy="229.4" r="5.1"/>
<circle cx="1644.5" cy="359.7" r="5.2"/>
<circle cx="1656.6" cy="249.4" r="6.1"/>
<circle cx="1669.4" cy="197.5" r="5.3"/>
<circle cx="1683.6" cy="168.9" r="4.7"/>
<circle cx="1655.0" cy="251.1" r="5.9"/>
<circle cx="1660.6" cy="226.1" r="5.9"/>
<circle cx="1658.8" cy="162.6" r="5.5"/>
<circle cx="1668.3" cy="373.0" r="4.8"/>
<circle cx="1643.8" cy="356.8" r="6.3"/>
<circle cx="1656.9" cy="275.8" r="6.3"/>
<circle cx="1681.0" cy="166.6" r="5.8"/>
<circle cx="1679.3" cy="239.1" r="4.7"/>
<circle cx="1694.3" cy="246.1" r="5.0"/>
<circle cx="1656.6" cy="105.4" r="4.6"/>
<circle cx="1668.2" cy="405.3" r="6.2"/>
<circle cx="1654.0" cy="148.4" r="5.4"/>
<circle cx="1703.0" cy="242.2" r="6.3"/>
<circle cx="1655.9" cy="165.5" r="4.7"/>
<circle cx="1641.8" cy="300.2" r="5.1"/>
<circle cx="1692.7" cy="159.8" r="5.1"/>
<circle cx="1657.4" cy="144.8" r="5.6"/>
<circle cx="1655.6" cy="247.1" r="4.7"/>
<circle cx="1677.8" cy="200.6" r="5.6"/>
<circle cx="1673.5" cy="352.3" r="4.6"/>
<circle cx="1675.2" cy="260.4" r="5.2"/>
<circle cx="1659.3" cy="165.4" r="6.3"/>
<circle cx="1705.9" cy="231.3" r="5.5"/>
<circle cx="1683.0" cy="176.4" r="4.8"/>
<circle cx="1658.2" cy="340.6" r="6.0"/>
<circle cx="1676.6" cy="370.8" r="4.6"/>
<circle cx="1696.0" cy="298.6" r="5.0"/>
<circle cx="1682.3" cy="246.4" r="5.8"/>
<circle cx="1667.3" cy="120.8" r="5.8"/>
<circle cx="1671.1" cy="267.4" r="4.8"/>
<circle cx="1691.5" cy="253.8" r="5.3"/>
<circle cx="1675.2" cy="374.0" r="5.9"/>
<circle cx="1658.0" cy="165.1" r="5.0"/>
<circle cx="1669.8" cy="396.2" r="5.1"/>
<circle cx="1657.9" cy="164.1" r="4.7"/>
<circle cx="1664.1" cy="226.3" r="5.6"/>
<circle cx="1649.6" cy="205.4" r="5.5"/>
<circle cx="1647.4" cy="252.0" r="5.4"/>
<circle cx="1646.9" cy="359.4" r="5.3"/>
<circle cx="1653.2" cy="206.9" r="5.0"/>
<circle cx="1645.7" cy="296.9" r="4.7"/>
<circle cx="1662.8" cy="241.3" r="5.9"/>
<circle cx="1677.0" cy="273.6" r="4.7"/>
<circle cx="1708.3" cy="236.7" r="6.4"/>
<circle cx="1692.2" cy="209.2" r="5.0"/>
<circle cx="1669.1" cy="347.8" r="6.2"/>
<circle cx="1674.7" cy="219.1" r="5.0"/>
<circle cx="1653.3" cy="143.4" r="5.8"/>
<circle cx="1682.9" cy="268.9" r="5.6"/>
<circle cx="1666.4" cy="196.4" r="5.8"/>
<circle cx="1686.9" cy="353.8" r="6.0"/>
<circle cx="1686.1" cy="255.0" r="4.8"/>
<circle cx="1656.3" cy="271.3" r="5.7"/>
<circle cx="1656.3" cy="252.9" r="6.2"/>
<circle cx="1663.4" cy="197.6" r="5.6"/>
<circle cx="1639.1" cy="313.1" r="5.0"/>
<circle cx="1656.6" cy="157.9" r="6.1"/>
<circle cx="1700.9" cy="232.5" r="6.1"/>
<circle cx="1694.8" cy="253.0" r="6.3"/>
<circle cx="1650.9" cy="245.5" r="6.3"/>
<circle cx="1677.2" cy="340.0" r="4.6"/>
<circle cx="1661.1" cy="391.5" r="6.1"/>
<circle cx="1669.6" cy="136.9" r="6.4"/>
<circle cx="1684.7" cy="263.8" r="5.6"/>
<circle cx="1653.3" cy="284.0" r="4.9"/>
<circle cx="1666.3" cy="274.9" r="5.1"/>
<circle cx="1672.4" cy="142.5" r="5.3"/>
<circle cx="1673.3" cy="228.8" r="4.8"/>
<circle cx="1656.6" cy="241.6" r="5.9"/>
<circle cx="1664.1" cy="131.9" r="5.7"/>
<circle cx="1675.8" cy="205.0" r="6.2"/>
<circle cx="1655.4" cy="248.7" r="5.6"/>
<circle cx="1689.6" cy="268.0" r="4.7"/>
<circle cx="1670.1" cy="406.6" r="5.0"/>
<circle cx="1705.0" cy="242.4" r="4.7"/>
<circle cx="1650.2" cy="278.3" r="5.0"/>
<circle cx="1653.9" cy="210.7" r="5.3"/>
<circle cx="1662.5" cy="270.3" r="4.9"/>
<circle cx="1672.0" cy="236.5" r="5.7"/>
<circle cx="1650.5" cy="174.4" r="5.2"/>
<circle cx="1652.4" cy="163.9" r="4.6"/>
<circle cx="1680.0" cy="270.4" r="5.2"/>
<circle cx="1672.7" cy="201.9" r="5.7"/>
<circle cx="1672.2" cy="145.6" r="5.0"/>
<circle cx="1662.2" cy="275.7" r="6.0"/>
<circle cx="1672.7" cy="200.0" r="5.9"/>
<circle cx="1681.0" cy="234.5" r="5.1"/>
<circle cx="1706.7" cy="240.5" r="5.0"/>
<circle cx="1675.8" cy="331.9" r="6.3"/>
<circle cx="1682.8" cy="332.9" r="5.8"/>
<circle cx="1652.0" cy="201.1" r="4.7"/>
<circle cx="1674.5" cy="339.6" r="5.4"/>
<circle cx="1666.7" cy="199.9" r="5.2"/>
<circle cx="1657.9" cy="344.2" r="6.1"/>
<circle cx="1687.3" cy="347.7" r="5.2"/>
<circle cx="1678.8" cy="353.1" r="5.0"/>
<circle cx="1678.8" cy="134.4" r="5.8"/>
<circle cx="1675.8" cy="340.5" r="5.4"/>
<circle cx="1660.4" cy="397.1" r="6.3"/>
<circle cx="1667.0" cy="378.4" r="5.3"/>
<circle cx="1680.7" cy="274.2" r="6.0"/>
<circle cx="1654.7" cy="327.0" r="5.6"/>
<circle cx="1669.6" cy="268.1" r="5.3"/>
<circle cx="1705.4" cy="237.2" r="6.0"/>
<circle cx="1648.1" cy="318.2" r="4.6"/>
<circle cx="1696.6" cy="240.1" r="5.7"/>
<circle cx="1659.6" cy="297.9" r="4.8"/>
<circle cx="1695.3" cy="305.5" r="5.5"/>
<circle cx="1662.1" cy="301.0" r="5.9"/>
<circle cx="1665.5" cy="339.3" r="6.2"/>
<circle cx="1670.5" cy="231.0" r="5.7"/>
<circle cx="1660.4" cy="394.8" r="6.3"/>
<circle cx="1666.5" cy="144.4" r="6.4"/>
<circle cx="1662.3" cy="123.4" r="4.8"/>
<circle cx="1706.4" cy="233.3" r="5.7"/>
<circle cx="1682.0" cy="269.2" r="5.8"/>
<circle cx="1668.4" cy="230.2" r="5.2"/>
<circle cx="1652.1" cy="162.8" r="6.1"/>
<circle cx="1683.1" cy="266.6" r="5.4"/>
<circle cx="1659.4" cy="302.2" r="6.2"/>
<circle cx="1642.3" cy="312.6" r="4.8"/>
<circle cx="1691.1" cy="166.8" r="5.9"/>
<circle cx="1664.9" cy="143.2" r="5.8"/>
<circle cx="1690.0" cy="253.2" r="4.7"/>
<circle cx="1683.4" cy="225.0" r="4.9"/>
<circle cx="1681.2" cy="215.5" r="6.2"/>
<circle cx="1675.7" cy="374.6" r="4.8"/>
<circle cx="1672.3" cy="333.9" r="6.1"/>
<circle cx="1691.0" cy="267.1" r="4.9"/>
<circle cx="1672.8" cy="402.2" r="5.3"/>
<circle cx="1683.5" cy="228.6" r="5.8"/>
<circle cx="1701.0" cy="297.4" r="5.1"/>
<circle cx="1667.5" cy="224.6" r="5.1"/>
<circle cx="1649.2" cy="318.7" r="4.6"/>
<circle cx="1657.4" cy="207.7" r="5.3"/>
<circle cx="1641.0" cy="313.7" r="5.2"/>
<circle cx="1688.3" cy="257.4" r="6.0"/>
<circle cx="1672.3" cy="368.2" r="4.9"/>
<circle cx="1662.5" cy="401.3" r="6.2"/>
<circle cx="1667.8" cy="277.9" r="4.6"/>
<circle cx="1686.8" cy="271.1" r="6.2"/>
<circle cx="1668.5" cy="379.8" r="5.8"/>
<circle cx="1654.9" cy="347.3" r="5.0"/>
<circle cx="1657.7" cy="160.8" r="4.9"/>
<circle cx="1659.0" cy="202.1" r="4.7"/>
<circle cx="1659.5" cy="143.3" r="5.0"/>
<circle cx="1657.9" cy="348.4" r="6.2"/>
<circle cx="1642.3" cy="284.4" r="6.2"/>
<circle cx="1666.1" cy="274.9" r="5.5"/>
<circle cx="1656.5" cy="251.3" r="6.0"/>
<circle cx="1669.6" cy="338.6" r="5.4"/>
<circle cx="1688.5" cy="301.1" r="5.7"/>
<circle cx="1660.7" cy="273.4" r="4.8"/>
<circle cx="1654.8" cy="195.6" r="6.2"/>
<circle cx="1676.6" cy="342.6" r="4.7"/>
<circle cx="1670.5" cy="199.2" r="5.7"/>
<circle cx="1668.8" cy="197.0" r="6.1"/>
<circle cx="1667.4" cy="350.6" r="5.0"/>
<circle cx="1642.9" cy="289.7" r="6.2"/>
<circle cx="1695.2" cy="295.1" r="5.0"/>
<circle cx="1684.7" cy="251.1" r="4.9"/>
<circle cx="1647.1" cy="209.1" r="5.4"/>
<circle cx="1673.0" cy="222.0" r="5.6"/>
<circle cx="1691.3" cy="140.0" r="6.1"/>
<circle cx="1696.1" cy="140.8" r="5.6"/>
<circle cx="1661.9" cy="139.3" r="5.1"/>
<circle cx="1650.7" cy="208.0" r="6.3"/>
<circle cx="1650.1" cy="308.3" r="5.9"/>
<circle cx="1680.2" cy="142.9" r="5.9"/>
<circle cx="1663.8" cy="226.8" r="6.2"/>
<circle cx="1693.0" cy="140.7" r="4.7"/>
<circle cx="1638.4" cy="311.1" r="5.8"/>
<circle cx="1698.5" cy="296.5" r="4.7"/>
<circle cx="1672.5" cy="138.6" r="5.2"/>
<circle cx="1686.6" cy="134.6" r="5.6"/>
<circle cx="1696.4" cy="293.7" r="6.4"/>
<circle cx="1690.4" cy="305.5" r="6.1"/>
<circle cx="1666.8" cy="406.3" r="4.8"/>
<circle cx="1681.6" cy="212.9" r="6.3"/>
<circle cx="1653.1" cy="325.3" r="5.3"/>
<circle cx="1645.2" cy="323.9" r="4.7"/>
<circle cx="1685.6" cy="217.2" r="5.1"/>
<circle cx="1690.0" cy="212.7" r="6.0"/>
<circle cx="1646.9" cy="213.2" r="5.2"/>
<circle cx="1693.3" cy="300.0" r="6.3"/>
<circle cx="1695.6" cy="140.3" r="6.3"/>
</g>
</g>
<g clip-path="url(#cO3)">
<path d="M1824.0 84.0 L1900.0 84.0 L1979.0 84.0 L1981.0 95.0 L1977.0 112.0 L1966.0 128.0 L1958.0 140.0 L1956.0 160.0 L1955.0 183.0 L1951.0 205.0 L1949.0 225.0 L1951.0 245.0 L1958.0 265.0 L1964.0 285.0 L1972.0 305.0 L1980.0 330.0 L1985.0 352.0 L1978.0 372.0 L1968.0 390.0 L1972.0 405.0 L1983.0 418.0 L1985.0 425.0 L1920.0 425.0 L1862.0 425.0 L1861.0 405.0 L1858.0 383.0 L1858.0 362.0 L1853.0 345.0 L1846.0 330.0 L1841.0 315.0 L1842.0 300.0 L1849.0 283.0 L1846.0 270.0 L1836.0 258.0 L1828.0 244.0 L1830.0 230.0 L1838.0 218.0 L1843.0 205.0 L1836.0 192.0 L1832.0 180.0 L1836.0 166.0 L1844.0 152.0 L1838.0 136.0 L1828.0 122.0 L1821.0 108.0 L1820.0 95.0 Z" fill="#f2d6bc"/>
<path d="M1824.0 84.0 L1900.0 84.0 L1979.0 84.0 L1981.0 95.0 L1977.0 112.0 L1966.0 128.0 L1958.0 140.0 L1956.0 160.0 L1955.0 183.0 L1951.0 205.0 L1949.0 225.0 L1951.0 245.0 L1958.0 265.0 L1964.0 285.0 L1972.0 305.0 L1980.0 330.0 L1985.0 352.0 L1978.0 372.0 L1968.0 390.0 L1972.0 405.0 L1983.0 418.0 L1985.0 425.0 L1920.0 425.0 L1862.0 425.0 L1861.0 405.0 L1858.0 383.0 L1858.0 362.0 L1853.0 345.0 L1846.0 330.0 L1841.0 315.0 L1842.0 300.0 L1849.0 283.0 L1846.0 270.0 L1836.0 258.0 L1828.0 244.0 L1830.0 230.0 L1838.0 218.0 L1843.0 205.0 L1836.0 192.0 L1832.0 180.0 L1836.0 166.0 L1844.0 152.0 L1838.0 136.0 L1828.0 122.0 L1821.0 108.0 L1820.0 95.0 Z" fill="url(#grid3)"/>
<path d="M1914.2 60.0 L1908.7 66.0 L1902.3 72.0 L1895.4 78.0 L1888.3 84.0 L1881.5 90.0 L1875.4 96.0 L1870.2 102.0 L1866.3 108.0 L1863.8 114.0 L1863.0 120.0 L1863.8 126.0 L1866.3 132.0 L1870.2 138.0 L1875.4 144.0 L1881.5 150.0 L1888.3 156.0 L1895.4 162.0 L1902.3 168.0 L1908.7 174.0 L1914.2 180.0 L1918.6 186.0 L1921.5 192.0 L1922.9 198.0 L1922.6 204.0 L1920.7 210.0 L1917.3 216.0 L1912.5 222.0 L1906.6 228.0 L1900.0 234.0 L1893.0 240.0 L1886.0 246.0 L1879.4 252.0 L1873.5 258.0 L1868.7 264.0 L1865.3 270.0 L1863.4 276.0 L1863.1 282.0 L1864.5 288.0 L1867.4 294.0 L1871.8 300.0 L1877.3 306.0 L1883.7 312.0 L1890.6 318.0 L1897.7 324.0 L1904.5 330.0 L1910.6 336.0 L1915.8 342.0 L1919.7 348.0 L1922.2 354.0 L1923.0 360.0 L1922.2 366.0 L1919.7 372.0 L1915.8 378.0 L1910.6 384.0 L1904.5 390.0 L1897.7 396.0 L1890.6 402.0 L1883.7 408.0 L1877.3 414.0 L1871.8 420.0 L1867.4 426.0 L1864.5 432.0 L1863.1 438.0 L1863.4 444.0 L1865.3 450.0" stroke="#a85018" stroke-width="46" fill="none" opacity="0.55"/>
<path d="M1871.8 60.0 L1877.3 66.0 L1883.7 72.0 L1890.6 78.0 L1897.7 84.0 L1904.5 90.0 L1910.6 96.0 L1915.8 102.0 L1919.7 108.0 L1922.2 114.0 L1923.0 120.0 L1922.2 126.0 L1919.7 132.0 L1915.8 138.0 L1910.6 144.0 L1904.5 150.0 L1897.7 156.0 L1890.6 162.0 L1883.7 168.0 L1877.3 174.0 L1871.8 180.0 L1867.4 186.0 L1864.5 192.0 L1863.1 198.0 L1863.4 204.0 L1865.3 210.0 L1868.7 216.0 L1873.5 222.0 L1879.4 228.0 L1886.0 234.0 L1893.0 240.0 L1900.0 246.0 L1906.6 252.0 L1912.5 258.0 L1917.3 264.0 L1920.7 270.0 L1922.6 276.0 L1922.9 282.0 L1921.5 288.0 L1918.6 294.0 L1914.2 300.0 L1908.7 306.0 L1902.3 312.0 L1895.4 318.0 L1888.3 324.0 L1881.5 330.0 L1875.4 336.0 L1870.2 342.0 L1866.3 348.0 L1863.8 354.0 L1863.0 360.0 L1863.8 366.0 L1866.3 372.0 L1870.2 378.0 L1875.4 384.0 L1881.5 390.0 L1888.3 396.0 L1895.4 402.0 L1902.3 408.0 L1908.7 414.0 L1914.2 420.0 L1918.6 426.0 L1921.5 432.0 L1922.9 438.0 L1922.6 444.0 L1920.7 450.0" stroke="#a85018" stroke-width="46" fill="none" opacity="0.55"/>
<path d="M1824.0 84.0 L1900.0 84.0 L1979.0 84.0 L1981.0 95.0 L1977.0 112.0 L1966.0 128.0 L1958.0 140.0 L1956.0 160.0 L1955.0 183.0 L1951.0 205.0 L1949.0 225.0 L1951.0 245.0 L1958.0 265.0 L1964.0 285.0 L1972.0 305.0 L1980.0 330.0 L1985.0 352.0 L1978.0 372.0 L1968.0 390.0 L1972.0 405.0 L1983.0 418.0 L1985.0 425.0 L1920.0 425.0 L1862.0 425.0 L1861.0 405.0 L1858.0 383.0 L1858.0 362.0 L1853.0 345.0 L1846.0 330.0 L1841.0 315.0 L1842.0 300.0 L1849.0 283.0 L1846.0 270.0 L1836.0 258.0 L1828.0 244.0 L1830.0 230.0 L1838.0 218.0 L1843.0 205.0 L1836.0 192.0 L1832.0 180.0 L1836.0 166.0 L1844.0 152.0 L1838.0 136.0 L1828.0 122.0 L1821.0 108.0 L1820.0 95.0 Z" fill="#b85a1c" opacity="0.22"/>
<path d="M1824.0 84.0 L1900.0 84.0 L1979.0 84.0 L1981.0 95.0 L1977.0 112.0 L1966.0 128.0 L1958.0 140.0 L1956.0 160.0 L1955.0 183.0 L1951.0 205.0 L1949.0 225.0 L1951.0 245.0 L1958.0 265.0 L1964.0 285.0 L1972.0 305.0 L1980.0 330.0 L1985.0 352.0 L1978.0 372.0 L1968.0 390.0 L1972.0 405.0 L1983.0 418.0 L1985.0 425.0 L1920.0 425.0 L1862.0 425.0 L1861.0 405.0 L1858.0 383.0 L1858.0 362.0 L1853.0 345.0 L1846.0 330.0 L1841.0 315.0 L1842.0 300.0 L1849.0 283.0 L1846.0 270.0 L1836.0 258.0 L1828.0 244.0 L1830.0 230.0 L1838.0 218.0 L1843.0 205.0 L1836.0 192.0 L1832.0 180.0 L1836.0 166.0 L1844.0 152.0 L1838.0 136.0 L1828.0 122.0 L1821.0 108.0 L1820.0 95.0 Z" fill="#000" filter="url(#tDark3)" opacity="0.8"/>
<g fill="none" stroke="#c8641e" stroke-width="1.6">
<path d="M1887 91 L1879 99 L1873 107 L1868 115 L1866 123 L1866 131 L1868 139 L1873 147 L1879 155 L1887 163 L1895 171 L1903 179 L1910 187 L1916 195"/>
<path d="M1897 85 L1905 93 L1913 101 L1919 109 L1923 117 L1925 125 L1924 133 L1920 141 L1914 149 L1906 157 L1897 165 L1889 173 L1882 181 L1876 189 L1873 197 L1873 205 L1876 213 L1881 221"/>
<path d="M1875 331 L1882 339 L1889 347 L1896 355 L1903 363 L1908 371 L1911 379 L1912 387 L1911 395 L1908 403 L1903 411 L1897 419 L1890 427 L1883 435 L1876 443 L1870 451 L1865 459"/>
<path d="M1914 226 L1902 234 L1891 242 L1880 250 L1872 258 L1867 266 L1865 274"/>
<path d="M1881 322 L1890 330 L1900 338 L1909 346 L1917 354 L1923 362 L1926 370 L1926 378 L1924 386 L1919 394 L1912 402 L1903 410 L1893 418 L1883 426 L1875 434 L1868 442 L1864 450"/>
<path d="M1908 275 L1914 283 L1917 291 L1919 299 L1918 307 L1915 315 L1910 323 L1904 331 L1897 339 L1889 347 L1882 355 L1876 363 L1872 371 L1870 379"/>
<path d="M1901 189 L1892 197 L1886 205 L1881 213 L1878 221 L1879 229 L1882 237 L1887 245 L1895 253 L1903 261 L1913 269 L1922 277 L1930 285 L1937 293 L1941 301 L1943 309 L1942 317 L1939 325 L1933 333 L1925 341"/>
<path d="M1902 271 L1909 279 L1912 287 L1913 295 L1911 303 L1906 311 L1898 319 L1889 327 L1879 335 L1869 343 L1860 351 L1853 359"/>
<path d="M1935 249 L1939 257 L1940 265 L1938 273 L1931 281 L1922 289 L1912 297 L1900 305 L1889 313 L1880 321 L1873 329"/>
<path d="M1893 239 L1888 247 L1886 255 L1887 263 L1891 271 L1898 279 L1907 287 L1917 295 L1926 303 L1934 311 L1939 319 L1942 327 L1941 335 L1938 343 L1931 351"/>
<path d="M1887 258 L1882 266 L1879 274 L1878 282 L1879 290 L1883 298 L1888 306 L1895 314 L1902 322 L1910 330 L1916 338 L1921 346 L1924 354 L1924 362"/>
<path d="M1890 255 L1897 263 L1904 271 L1910 279 L1914 287 L1915 295 L1915 303 L1912 311 L1907 319 L1900 327 L1893 335"/>
<path d="M1878 329 L1882 337 L1889 345 L1896 353 L1904 361 L1911 369 L1917 377 L1920 385 L1921 393 L1920 401 L1916 409 L1910 417"/>
<path d="M1887 73 L1880 81 L1873 89 L1867 97 L1861 105 L1857 113 L1855 121 L1855 129 L1856 137 L1860 145 L1866 153"/>
<path d="M1904 295 L1900 303 L1894 311 L1886 319 L1878 327 L1870 335 L1863 343 L1857 351 L1854 359 L1853 367 L1855 375 L1860 383 L1866 391 L1874 399 L1882 407 L1890 415"/>
<path d="M1867 111 L1867 119 L1871 127 L1878 135 L1887 143 L1898 151 L1910 159 L1921 167 L1930 175 L1937 183 L1940 191 L1940 199 L1936 207 L1929 215 L1919 223 L1907 231 L1896 239 L1885 247 L1876 255"/>
<path d="M1911 281 L1907 289 L1900 297 L1892 305 L1883 313 L1874 321 L1866 329 L1860 337 L1857 345 L1857 353"/>
<path d="M1845 118 L1848 126 L1854 134 L1863 142 L1872 150 L1881 158 L1890 166 L1897 174 L1901 182 L1902 190 L1900 198 L1896 206 L1888 214 L1880 222 L1870 230 L1861 238 L1853 246 L1847 254 L1844 262 L1844 270"/>
<path d="M1874 71 L1882 79 L1890 87 L1896 95 L1900 103 L1901 111 L1899 119 L1894 127 L1887 135 L1879 143 L1871 151 L1862 159"/>
<path d="M1898 152 L1887 160 L1875 168 L1865 176 L1857 184 L1851 192 L1849 200 L1851 208 L1856 216 L1863 224 L1873 232 L1885 240 L1896 248"/>
<path d="M1871 72 L1877 80 L1884 88 L1891 96 L1897 104 L1903 112 L1907 120 L1909 128"/>
<path d="M1872 75 L1884 83 L1894 91 L1902 99 L1906 107 L1907 115 L1904 123 L1897 131 L1887 139 L1876 147 L1864 155 L1853 163 L1844 171 L1838 179 L1836 187 L1837 195 L1843 203"/>
<path d="M1894 226 L1887 234 L1878 242 L1868 250 L1859 258 L1851 266 L1844 274 L1840 282 L1838 290 L1839 298 L1842 306 L1848 314 L1856 322 L1865 330"/>
<path d="M1871 257 L1866 265 L1864 273 L1865 281 L1868 289 L1874 297 L1881 305 L1889 313 L1898 321 L1905 329"/>
<path d="M1870 130 L1873 138 L1877 146 L1883 154 L1889 162 L1895 170 L1902 178 L1907 186 L1911 194 L1914 202 L1914 210 L1913 218 L1910 226 L1905 234 L1900 242 L1893 250 L1887 258 L1881 266"/>
<path d="M1879 218 L1890 226 L1900 234 L1908 242 L1913 250 L1916 258 L1914 266 L1909 274 L1902 282 L1892 290 L1881 298 L1871 306"/>
<path d="M1847 212 L1848 220 L1852 228 L1860 236 L1869 244 L1879 252 L1890 260 L1901 268 L1910 276 L1917 284 L1921 292 L1922 300 L1919 308 L1914 316 L1906 324"/>
<path d="M1912 361 L1904 369 L1897 377 L1891 385 L1887 393 L1886 401 L1886 409 L1889 417 L1894 425 L1900 433 L1908 441 L1916 449"/>
<path d="M1883 178 L1877 186 L1872 194 L1871 202 L1872 210 L1877 218 L1883 226 L1892 234 L1901 242 L1911 250 L1920 258 L1928 266 L1933 274 L1936 282 L1936 290 L1934 298 L1928 306 L1921 314 L1911 322 L1902 330"/>
<path d="M1859 219 L1871 227 L1883 235 L1895 243 L1904 251 L1909 259 L1910 267 L1907 275 L1899 283 L1889 291 L1877 299 L1864 307 L1852 315 L1843 323 L1838 331 L1837 339 L1840 347 L1847 355 L1857 363 L1869 371"/>
<path d="M1921 81 L1913 89 L1904 97 L1896 105 L1889 113 L1884 121 L1882 129 L1882 137 L1885 145 L1890 153 L1898 161 L1906 169 L1915 177 L1923 185 L1930 193"/>
<path d="M1850 184 L1854 192 L1860 200 L1869 208 L1878 216 L1888 224 L1896 232 L1903 240 L1906 248 L1906 256 L1903 264 L1897 272 L1889 280 L1879 288 L1869 296"/>
<path d="M1862 181 L1858 189 L1856 197 L1856 205 L1860 213 L1866 221 L1873 229 L1882 237"/>
<path d="M1916 251 L1915 259 L1911 267 L1903 275 L1893 283 L1882 291 L1872 299 L1862 307 L1856 315 L1852 323 L1852 331 L1856 339 L1863 347 L1872 355 L1883 363 L1893 371 L1903 379 L1911 387 L1915 395 L1916 403"/>
<path d="M1903 248 L1892 256 L1883 264 L1875 272 L1871 280 L1869 288 L1871 296 L1876 304 L1883 312 L1893 320 L1903 328 L1914 336"/>
<path d="M1850 196 L1851 204 L1855 212 L1863 220 L1872 228 L1883 236 L1895 244 L1905 252 L1914 260 L1921 268"/>
<path d="M1898 95 L1891 103 L1884 111 L1879 119 L1875 127 L1872 135 L1872 143 L1874 151 L1877 159 L1882 167 L1889 175 L1896 183 L1903 191 L1909 199 L1914 207"/>
<path d="M1920 160 L1930 168 L1938 176 L1944 184 L1946 192 L1945 200 L1941 208 L1934 216 L1924 224 L1913 232 L1902 240 L1892 248 L1884 256 L1878 264 L1876 272"/>
<path d="M1921 84 L1925 92 L1927 100 L1926 108 L1921 116 L1914 124 L1905 132 L1896 140 L1887 148 L1879 156 L1874 164 L1871 172 L1871 180"/>
<path d="M1892 347 L1905 355 L1917 363 L1929 371 L1938 379 L1943 387 L1945 395"/>
<path d="M1912 266 L1914 274 L1913 282 L1911 290 L1905 298 L1898 306 L1890 314 L1882 322 L1874 330 L1866 338 L1861 346 L1858 354"/>
<path d="M1908 178 L1912 186 L1912 194 L1909 202 L1903 210 L1895 218 L1884 226"/>
<path d="M1911 293 L1909 301 L1903 309 L1894 317 L1884 325 L1873 333 L1862 341 L1853 349"/>
<path d="M1872 258 L1865 266 L1860 274 L1857 282 L1857 290 L1860 298 L1865 306 L1872 314 L1880 322 L1888 330 L1896 338 L1903 346 L1907 354 L1909 362"/>
<path d="M1894 367 L1887 375 L1879 383 L1871 391 L1864 399 L1857 407 L1853 415 L1852 423"/>
<path d="M1936 201 L1931 209 L1923 217 L1914 225 L1905 233 L1896 241 L1889 249 L1884 257 L1883 265 L1884 273 L1888 281"/>
<path d="M1892 296 L1885 304 L1878 312 L1873 320 L1871 328 L1871 336 L1873 344 L1878 352 L1885 360 L1893 368 L1900 376 L1908 384 L1913 392 L1917 400 L1918 408 L1917 416 L1913 424 L1907 432"/>
<path d="M1941 281 L1944 289 L1944 297 L1942 305 L1936 313 L1929 321 L1919 329 L1909 337 L1899 345 L1890 353 L1883 361 L1878 369 L1876 377 L1877 385 L1880 393 L1887 401 L1895 409 L1905 417 L1915 425 L1925 433"/>
<path d="M1894 164 L1889 172 L1887 180 L1887 188 L1890 196 L1895 204 L1901 212 L1909 220 L1916 228 L1922 236"/>
<path d="M1876 159 L1867 167 L1860 175 L1855 183 L1854 191 L1857 199 L1862 207 L1871 215 L1881 223"/>
<path d="M1917 375 L1909 383 L1902 391 L1895 399 L1889 407 L1885 415 L1884 423"/>
<path d="M1849 272 L1850 280 L1854 288 L1860 296 L1867 304 L1874 312 L1881 320 L1887 328 L1891 336 L1894 344 L1894 352 L1891 360 L1887 368 L1881 376 L1874 384 L1866 392 L1860 400"/>
<path d="M1885 309 L1884 317 L1886 325 L1889 333 L1894 341 L1899 349 L1906 357 L1913 365 L1919 373 L1924 381 L1928 389 L1930 397 L1931 405 L1929 413 L1926 421 L1921 429"/>
<path d="M1932 257 L1931 265 L1927 273 L1921 281 L1913 289 L1904 297 L1896 305 L1888 313 L1882 321"/>
<path d="M1899 178 L1898 186 L1895 194 L1889 202 L1881 210 L1872 218 L1864 226 L1857 234 L1851 242 L1847 250 L1847 258 L1849 266 L1854 274"/>
<path d="M1922 311 L1914 319 L1906 327 L1898 335 L1892 343 L1886 351 L1883 359 L1883 367 L1884 375 L1888 383 L1894 391 L1901 399 L1909 407 L1917 415 L1924 423 L1930 431 L1934 439"/>
<path d="M1909 86 L1901 94 L1894 102 L1888 110 L1884 118 L1882 126 L1883 134 L1885 142 L1890 150 L1897 158 L1904 166 L1912 174 L1919 182 L1925 190 L1929 198"/>
<path d="M1894 167 L1901 175 L1905 183 L1907 191 L1906 199 L1901 207 L1895 215 L1886 223"/>
<path d="M1856 285 L1867 293 L1879 301 L1891 309 L1901 317 L1909 325 L1913 333 L1914 341 L1910 349 L1903 357 L1893 365 L1881 373 L1869 381"/>
<path d="M1936 142 L1930 150 L1922 158 L1913 166 L1904 174 L1897 182 L1890 190 L1886 198"/>
<path d="M1886 81 L1880 89 L1874 97 L1868 105 L1864 113 L1862 121 L1862 129 L1863 137 L1866 145 L1871 153 L1876 161"/>
<path d="M1861 225 L1867 233 L1875 241 L1886 249 L1897 257 L1908 265 L1918 273 L1926 281 L1931 289 L1933 297 L1931 305 L1925 313 L1917 321 L1907 329 L1896 337 L1885 345 L1874 353 L1866 361"/>
<path d="M1894 235 L1883 243 L1871 251 L1861 259 L1853 267 L1847 275 L1846 283 L1847 291 L1853 299 L1861 307 L1871 315 L1882 323 L1894 331"/>
<path d="M1920 310 L1916 318 L1909 326 L1900 334 L1890 342 L1880 350 L1871 358 L1863 366 L1857 374 L1854 382 L1853 390 L1855 398 L1860 406 L1867 414"/>
<path d="M1895 290 L1885 298 L1875 306 L1867 314 L1860 322 L1857 330 L1857 338 L1860 346 L1867 354 L1875 362 L1885 370 L1895 378 L1904 386 L1911 394 L1915 402 L1916 410"/>
<path d="M1895 172 L1888 180 L1881 188 L1875 196 L1871 204 L1868 212 L1868 220 L1870 228 L1874 236 L1880 244"/>
<path d="M1933 282 L1937 290 L1938 298 L1937 306 L1932 314 L1926 322 L1917 330 L1907 338 L1898 346 L1889 354"/>
<path d="M1894 211 L1896 219 L1896 227 L1894 235 L1889 243 L1883 251 L1876 259 L1869 267 L1861 275"/>
<path d="M1886 333 L1878 341 L1869 349 L1862 357 L1857 365 L1854 373 L1854 381 L1856 389 L1860 397 L1866 405 L1874 413 L1882 421"/>
<path d="M1931 322 L1937 330 L1941 338 L1941 346 L1938 354 L1932 362 L1923 370 L1913 378 L1903 386 L1893 394 L1885 402 L1880 410 L1877 418 L1879 426 L1883 434 L1890 442 L1899 450 L1910 458 L1920 466 L1929 474"/>
<path d="M1934 288 L1931 296 L1926 304 L1919 312 L1910 320 L1901 328 L1892 336 L1885 344 L1879 352 L1876 360 L1876 368 L1879 376 L1884 384 L1892 392 L1900 400 L1909 408 L1918 416"/>
<path d="M1843 365 L1847 373 L1853 381 L1861 389 L1870 397 L1879 405 L1888 413 L1894 421 L1899 429 L1901 437 L1900 445 L1896 453 L1890 461 L1882 469 L1873 477"/>
<path d="M1890 335 L1895 343 L1898 351 L1899 359 L1897 367 L1893 375 L1887 383 L1879 391 L1872 399 L1864 407 L1858 415 L1853 423"/>
<path d="M1857 165 L1852 173 L1851 181 L1852 189 L1856 197 L1862 205 L1869 213 L1878 221 L1886 229 L1893 237 L1899 245 L1901 253 L1902 261 L1899 269 L1894 277 L1887 285 L1879 293 L1870 301 L1862 309 L1856 317"/>
<path d="M1843 283 L1846 291 L1852 299 L1861 307 L1871 315 L1882 323 L1893 331 L1902 339 L1909 347 L1914 355"/>
<path d="M1919 239 L1910 247 L1900 255 L1890 263 L1881 271 L1874 279 L1869 287 L1867 295 L1869 303 L1873 311 L1880 319 L1888 327 L1898 335 L1908 343 L1917 351 L1925 359"/>
<path d="M1916 214 L1907 222 L1898 230 L1892 238 L1889 246 L1888 254 L1891 262 L1897 270 L1905 278 L1915 286 L1924 294 L1933 302 L1940 310 L1944 318 L1945 326 L1943 334 L1937 342 L1930 350 L1920 358 L1911 366"/>
<path d="M1877 296 L1868 304 L1862 312 L1858 320 L1856 328 L1858 336 L1862 344 L1868 352 L1877 360 L1885 368 L1894 376 L1901 384 L1906 392 L1908 400 L1907 408 L1904 416 L1898 424 L1890 432"/>
<path d="M1874 133 L1879 141 L1886 149 L1896 157 L1905 165 L1915 173 L1923 181"/>
<path d="M1915 115 L1913 123 L1907 131 L1900 139 L1890 147 L1879 155 L1868 163 L1859 171 L1851 179 L1845 187 L1843 195"/>
<path d="M1913 314 L1911 322 L1907 330 L1902 338 L1895 346 L1888 354 L1881 362 L1874 370 L1869 378 L1865 386 L1864 394 L1864 402 L1866 410 L1871 418 L1876 426 L1883 434 L1890 442 L1897 450 L1904 458 L1909 466"/>
<path d="M1901 75 L1910 83 L1919 91 L1926 99 L1931 107 L1933 115 L1932 123 L1928 131 L1922 139 L1914 147 L1904 155 L1895 163 L1887 171"/>
<path d="M1897 86 L1905 94 L1911 102 L1915 110 L1917 118 L1915 126 L1911 134 L1905 142 L1898 150 L1889 158 L1880 166 L1873 174 L1867 182 L1863 190 L1862 198"/>
<path d="M1856 115 L1859 123 L1865 131 L1872 139 L1880 147 L1889 155 L1897 163 L1904 171 L1908 179 L1910 187 L1909 195"/>
<path d="M1881 212 L1881 220 L1885 228 L1891 236 L1899 244 L1909 252 L1918 260 L1928 268 L1935 276 L1941 284"/>
<path d="M1932 182 L1936 190 L1937 198 L1935 206 L1930 214 L1922 222 L1913 230 L1903 238 L1894 246 L1886 254 L1880 262 L1877 270 L1878 278 L1882 286"/>
<path d="M1862 236 L1851 244 L1843 252 L1837 260 L1836 268 L1837 276 L1843 284 L1851 292 L1862 300 L1873 308 L1884 316 L1894 324 L1901 332 L1906 340 L1906 348 L1903 356 L1896 364 L1887 372 L1876 380 L1864 388"/>
<path d="M1873 343 L1873 351 L1876 359 L1882 367 L1889 375 L1897 383 L1905 391 L1913 399 L1920 407 L1924 415 L1926 423 L1925 431"/>
<path d="M1903 350 L1898 358 L1890 366 L1882 374 L1872 382 L1863 390 L1856 398 L1851 406 L1849 414 L1850 422 L1854 430 L1861 438 L1869 446 L1879 454 L1888 462 L1896 470 L1902 478 L1905 486 L1905 494"/>
<path d="M1888 304 L1898 312 L1908 320 L1916 328 L1923 336 L1927 344 L1927 352 L1924 360"/>
<path d="M1862 149 L1870 157 L1877 165 L1884 173 L1890 181 L1893 189 L1894 197 L1893 205"/>
<path d="M1907 168 L1917 176 L1924 184 L1928 192 L1928 200 L1925 208 L1918 216 L1909 224 L1899 232 L1887 240 L1876 248"/>
<path d="M1883 105 L1875 113 L1870 121 L1866 129 L1866 137 L1868 145 L1873 153 L1880 161 L1889 169 L1898 177 L1907 185 L1915 193 L1921 201 L1924 209 L1925 217 L1923 225 L1919 233"/>
<path d="M1876 368 L1866 376 L1857 384 L1850 392 L1846 400 L1846 408 L1850 416 L1857 424 L1866 432 L1876 440 L1887 448 L1896 456 L1903 464 L1907 472 L1907 480 L1904 488 L1897 496 L1888 504"/>
<path d="M1864 168 L1872 176 L1881 184 L1890 192 L1898 200 L1904 208 L1909 216 L1912 224 L1912 232 L1909 240 L1904 248 L1897 256 L1889 264 L1880 272 L1871 280"/>
<path d="M1908 134 L1903 142 L1895 150 L1885 158 L1875 166 L1864 174 L1854 182 L1846 190"/>
<path d="M1924 320 L1934 328 L1941 336 L1946 344 L1946 352 L1944 360 L1937 368 L1928 376 L1918 384 L1906 392 L1896 400 L1887 408 L1881 416 L1878 424 L1879 432 L1884 440 L1892 448 L1902 456 L1913 464"/>
<path d="M1845 345 L1849 353 L1855 361 L1863 369 L1871 377 L1880 385 L1887 393 L1893 401 L1896 409 L1896 417 L1893 425 L1888 433 L1881 441 L1872 449"/>
<path d="M1874 283 L1877 291 L1882 299 L1888 307 L1896 315 L1904 323 L1913 331 L1920 339"/>
<path d="M1868 303 L1875 311 L1883 319 L1891 327 L1899 335 L1905 343 L1909 351 L1910 359 L1909 367 L1905 375 L1899 383 L1892 391 L1883 399 L1875 407 L1868 415 L1862 423 L1859 431 L1857 439 L1859 447"/>
<path d="M1905 147 L1916 155 L1925 163 L1934 171 L1939 179 L1942 187 L1940 195 L1936 203 L1928 211 L1919 219 L1909 227 L1899 235 L1890 243"/>
<path d="M1909 223 L1901 231 L1894 239 L1888 247 L1884 255 L1882 263 L1882 271 L1885 279 L1891 287"/>
<path d="M1847 106 L1847 114 L1849 122 L1853 130 L1859 138 L1865 146 L1873 154 L1880 162 L1886 170 L1890 178 L1893 186 L1894 194 L1892 202 L1888 210 L1883 218 L1876 226 L1869 234 L1862 242 L1855 250 L1851 258"/>
<path d="M1922 192 L1926 200 L1928 208 L1929 216 L1926 224 L1922 232 L1916 240 L1909 248 L1901 256 L1893 264 L1886 272 L1880 280 L1876 288 L1875 296 L1875 304 L1878 312 L1883 320"/>
<path d="M1936 271 L1927 279 L1916 287 L1904 295 L1894 303 L1885 311 L1879 319 L1878 327 L1880 335 L1885 343"/>
<path d="M1919 118 L1917 126 L1912 134 L1904 142 L1895 150 L1886 158 L1877 166 L1869 174 L1864 182 L1861 190 L1861 198 L1864 206 L1869 214 L1877 222 L1885 230 L1895 238"/>
<path d="M1848 123 L1848 131 L1852 139 L1857 147 L1865 155 L1873 163 L1881 171 L1889 179 L1896 187 L1900 195 L1902 203 L1902 211 L1898 219 L1893 227 L1886 235 L1877 243"/>
<path d="M1898 229 L1909 237 L1919 245 L1926 253 L1931 261 L1931 269 L1928 277 L1922 285 L1913 293 L1902 301 L1891 309 L1881 317 L1873 325"/>
<path d="M1873 336 L1866 344 L1859 352 L1853 360 L1850 368 L1848 376 L1848 384 L1851 392 L1855 400 L1861 408 L1868 416"/>
<path d="M1869 336 L1868 344 L1871 352 L1877 360 L1886 368 L1897 376 L1908 384 L1919 392 L1929 400"/>
<path d="M1883 364 L1878 372 L1876 380 L1876 388 L1879 396 L1884 404 L1891 412 L1899 420 L1908 428 L1917 436 L1924 444 L1930 452 L1934 460 L1935 468 L1933 476"/>
<path d="M1847 365 L1852 373 L1859 381 L1868 389 L1877 397 L1886 405 L1894 413 L1900 421 L1902 429 L1902 437 L1899 445 L1893 453 L1886 461"/>
<path d="M1884 307 L1894 315 L1905 323 L1916 331 L1925 339 L1931 347 L1935 355 L1935 363 L1932 371 L1925 379 L1917 387 L1906 395 L1896 403 L1886 411"/>
<path d="M1856 214 L1865 222 L1876 230 L1887 238 L1896 246 L1904 254 L1910 262 L1912 270 L1910 278 L1905 286 L1898 294 L1888 302 L1877 310 L1867 318 L1857 326 L1849 334 L1845 342 L1843 350"/>
<path d="M1879 339 L1869 347 L1861 355 L1855 363 L1853 371 L1853 379 L1856 387 L1862 395 L1870 403"/>
<path d="M1920 309 L1921 317 L1919 325 L1915 333 L1909 341 L1902 349 L1893 357 L1884 365 L1876 373 L1868 381"/>
<path d="M1846 362 L1853 370 L1861 378 L1871 386 L1882 394 L1892 402 L1900 410 L1906 418 L1908 426 L1908 434"/>
<path d="M1859 182 L1851 190 L1845 198 L1843 206 L1844 214 L1849 222 L1857 230 L1867 238 L1878 246"/>
<path d="M1937 315 L1945 323 L1949 331 L1950 339 L1947 347 L1940 355 L1931 363 L1920 371 L1908 379 L1897 387 L1888 395 L1883 403"/>
<path d="M1908 82 L1915 90 L1923 98 L1930 106 L1936 114 L1939 122 L1941 130 L1940 138 L1937 146 L1932 154 L1925 162 L1918 170 L1910 178"/>
<path d="M1903 227 L1913 235 L1924 243 L1933 251 L1940 259 L1944 267 L1944 275 L1941 283 L1936 291 L1927 299 L1917 307 L1907 315 L1897 323 L1889 331"/>
<path d="M1855 229 L1861 237 L1868 245 L1875 253 L1881 261 L1887 269 L1890 277 L1892 285 L1892 293 L1890 301 L1886 309 L1880 317 L1874 325 L1867 333 L1860 341 L1854 349 L1850 357 L1847 365 L1847 373"/>
<path d="M1927 197 L1922 205 L1914 213 L1904 221 L1894 229 L1885 237 L1877 245 L1871 253 L1868 261 L1868 269 L1871 277 L1878 285"/>
<path d="M1932 181 L1935 189 L1935 197 L1931 205 L1925 213 L1916 221 L1906 229 L1895 237 L1885 245"/>
<path d="M1908 196 L1917 204 L1923 212 L1928 220 L1930 228 L1928 236 L1924 244 L1918 252"/>
<path d="M1888 328 L1898 336 L1907 344 L1915 352 L1921 360 L1924 368 L1925 376 L1922 384 L1917 392 L1910 400 L1901 408 L1892 416 L1882 424 L1874 432 L1868 440 L1864 448 L1863 456 L1865 464 L1870 472"/>
<path d="M1908 235 L1920 243 L1931 251 L1940 259 L1947 267 L1949 275 L1948 283 L1944 291 L1935 299 L1925 307"/>
<path d="M1939 300 L1940 308 L1939 316 L1936 324 L1931 332 L1925 340 L1918 348 L1911 356"/>
<path d="M1920 157 L1926 165 L1929 173 L1928 181 L1923 189 L1914 197 L1904 205"/>
<path d="M1904 74 L1897 82 L1889 90 L1881 98 L1874 106 L1867 114 L1863 122 L1861 130 L1862 138 L1865 146 L1870 154 L1876 162"/>
<path d="M1919 369 L1925 377 L1928 385 L1930 393 L1929 401 L1926 409 L1920 417 L1914 425 L1906 433 L1898 441 L1891 449 L1884 457 L1880 465 L1877 473 L1876 481 L1878 489 L1882 497 L1888 505"/>
<path d="M1927 345 L1937 353 L1945 361 L1950 369 L1951 377 L1949 385 L1944 393 L1936 401 L1926 409 L1915 417 L1904 425 L1894 433"/>
<path d="M1894 311 L1903 319 L1912 327 L1921 335 L1928 343 L1932 351 L1934 359 L1933 367 L1929 375 L1923 383"/>
<path d="M1908 171 L1900 179 L1893 187 L1889 195 L1886 203 L1887 211 L1889 219 L1895 227"/>
<path d="M1871 342 L1868 350 L1869 358 L1873 366 L1881 374 L1891 382 L1902 390 L1914 398 L1924 406 L1933 414 L1938 422 L1940 430 L1938 438 L1933 446 L1925 454 L1914 462 L1903 470"/>
<path d="M1896 252 L1889 260 L1885 268 L1882 276 L1881 284 L1882 292 L1886 300 L1891 308 L1898 316 L1905 324 L1912 332"/>
<path d="M1856 184 L1851 192 L1849 200 L1851 208 L1856 216 L1864 224 L1874 232 L1885 240 L1895 248 L1905 256 L1912 264 L1916 272 L1917 280 L1914 288 L1908 296"/>
<path d="M1883 175 L1876 183 L1871 191 L1867 199 L1866 207 L1867 215 L1871 223 L1876 231 L1883 239 L1891 247 L1899 255 L1907 263 L1913 271 L1918 279 L1921 287 L1921 295 L1918 303"/>
<path d="M1907 333 L1896 341 L1885 349 L1876 357 L1869 365 L1864 373 L1863 381 L1866 389 L1871 397"/>
<path d="M1938 74 L1930 82 L1920 90 L1910 98 L1899 106 L1890 114 L1883 122 L1878 130 L1875 138 L1876 146 L1879 154 L1886 162 L1894 170"/>
<path d="M1877 360 L1884 368 L1890 376 L1895 384 L1898 392 L1900 400 L1899 408 L1895 416 L1891 424"/>
<path d="M1875 180 L1874 188 L1877 196 L1881 204 L1888 212 L1896 220 L1904 228 L1911 236 L1916 244 L1919 252 L1920 260 L1918 268 L1913 276 L1907 284 L1899 292 L1891 300"/>
<path d="M1880 316 L1875 324 L1872 332 L1871 340 L1873 348 L1877 356 L1884 364 L1891 372 L1899 380 L1906 388 L1912 396 L1916 404"/>
<path d="M1870 119 L1873 127 L1879 135 L1888 143 L1900 151 L1912 159 L1924 167 L1934 175 L1941 183 L1945 191 L1945 199 L1941 207 L1934 215 L1924 223 L1912 231 L1899 239 L1888 247 L1879 255 L1872 263 L1870 271"/>
<path d="M1886 246 L1893 254 L1898 262 L1901 270 L1901 278 L1899 286 L1894 294 L1887 302 L1879 310 L1871 318 L1863 326 L1857 334 L1853 342 L1851 350"/>
<path d="M1880 187 L1882 195 L1886 203 L1892 211 L1901 219 L1911 227 L1920 235 L1929 243 L1936 251 L1940 259 L1942 267 L1940 275 L1936 283 L1929 291 L1920 299 L1910 307 L1900 315 L1892 323 L1885 331 L1881 339"/>
<path d="M1926 289 L1923 297 L1918 305 L1911 313 L1904 321 L1897 329 L1890 337 L1885 345 L1882 353 L1880 361 L1881 369 L1884 377 L1889 385 L1896 393 L1903 401 L1910 409 L1917 417"/>
<path d="M1935 217 L1930 225 L1922 233 L1912 241 L1901 249 L1890 257 L1881 265 L1874 273 L1870 281 L1869 289 L1872 297"/>
<path d="M1888 122 L1889 130 L1893 138 L1900 146 L1907 154 L1916 162 L1924 170 L1931 178 L1937 186 L1941 194 L1942 202 L1941 210 L1937 218 L1931 226 L1924 234 L1915 242 L1907 250"/>
<path d="M1857 316 L1865 324 L1874 332 L1883 340 L1892 348 L1901 356 L1908 364 L1912 372 L1915 380"/>
</g>
<g fill="none" stroke="#7a3008" stroke-width="1.3">
<path d="M1897 90 L1891 98 L1888 106 L1887 114 L1889 122 L1894 130 L1900 138 L1908 146 L1915 154 L1923 162 L1929 170 L1933 178 L1934 186 L1933 194 L1929 202 L1923 210 L1916 218"/>
<path d="M1863 179 L1857 187 L1852 195 L1850 203 L1851 211 L1855 219 L1860 227 L1868 235 L1876 243 L1884 251 L1892 259 L1898 267 L1902 275 L1904 283 L1902 291 L1898 299 L1892 307 L1885 315 L1876 323 L1868 331"/>
<path d="M1860 314 L1854 322 L1852 330 L1852 338 L1855 346 L1860 354 L1868 362 L1876 370 L1885 378 L1893 386 L1898 394 L1902 402 L1902 410 L1900 418"/>
<path d="M1939 211 L1932 219 L1923 227 L1913 235 L1902 243 L1892 251 L1884 259 L1878 267 L1876 275 L1876 283 L1880 291 L1887 299 L1896 307"/>
<path d="M1912 205 L1917 213 L1919 221 L1920 229 L1918 237 L1914 245 L1908 253 L1902 261 L1895 269 L1887 277 L1881 285"/>
<path d="M1899 138 L1890 146 L1878 154 L1867 162 L1856 170 L1847 178 L1842 186 L1840 194 L1842 202 L1847 210 L1856 218"/>
<path d="M1881 268 L1887 276 L1895 284 L1903 292 L1912 300 L1920 308 L1925 316"/>
<path d="M1913 309 L1907 317 L1899 325 L1891 333 L1883 341 L1876 349 L1870 357 L1866 365 L1864 373 L1865 381 L1868 389 L1873 397 L1880 405 L1888 413 L1897 421 L1904 429 L1911 437 L1916 445 L1919 453 L1919 461"/>
<path d="M1910 279 L1909 287 L1905 295 L1898 303 L1888 311 L1877 319 L1866 327 L1856 335 L1847 343"/>
<path d="M1870 116 L1869 124 L1871 132 L1876 140 L1883 148 L1893 156 L1902 164 L1912 172 L1919 180 L1924 188 L1927 196 L1926 204 L1922 212 L1915 220 L1906 228 L1896 236 L1887 244 L1879 252 L1872 260 L1869 268"/>
<path d="M1924 144 L1913 152 L1902 160 L1891 168 L1881 176 L1874 184 L1869 192 L1867 200 L1869 208 L1874 216 L1882 224 L1892 232 L1903 240 L1914 248 L1925 256 L1933 264 L1939 272 L1941 280"/>
<path d="M1880 319 L1874 327 L1867 335 L1860 343 L1854 351 L1850 359 L1847 367 L1846 375 L1847 383 L1850 391 L1855 399"/>
<path d="M1876 81 L1866 89 L1856 97 L1849 105 L1843 113 L1840 121 L1840 129 L1843 137 L1849 145 L1857 153 L1867 161 L1877 169 L1887 177 L1896 185 L1903 193 L1908 201 L1909 209"/>
<path d="M1877 134 L1879 142 L1883 150 L1890 158 L1899 166 L1909 174 L1920 182 L1930 190 L1938 198 L1944 206 L1947 214 L1948 222 L1945 230 L1940 238 L1932 246 L1922 254 L1912 262 L1902 270 L1893 278 L1885 286"/>
<path d="M1906 327 L1896 335 L1887 343 L1879 351 L1874 359 L1872 367 L1872 375 L1876 383 L1883 391 L1891 399 L1901 407 L1911 415 L1921 423 L1930 431 L1936 439 L1940 447 L1941 455 L1939 463 L1935 471 L1927 479"/>
<path d="M1878 140 L1886 148 L1895 156 L1903 164 L1910 172 L1916 180 L1918 188 L1918 196 L1915 204 L1909 212 L1902 220 L1894 228 L1885 236 L1877 244 L1871 252 L1866 260 L1865 268 L1866 276 L1870 284 L1876 292"/>
<path d="M1889 181 L1880 189 L1873 197 L1870 205 L1869 213 L1873 221 L1879 229 L1887 237 L1898 245 L1909 253 L1920 261 L1930 269 L1937 277 L1942 285 L1944 293 L1942 301 L1937 309"/>
<path d="M1864 312 L1874 320 L1885 328 L1895 336 L1903 344 L1908 352 L1911 360 L1910 368 L1906 376 L1900 384 L1891 392 L1881 400 L1870 408 L1861 416 L1852 424 L1847 432 L1844 440 L1845 448"/>
<path d="M1902 312 L1909 320 L1918 328 L1926 336 L1933 344 L1939 352 L1943 360 L1945 368 L1943 376 L1940 384 L1934 392"/>
<path d="M1894 222 L1899 230 L1905 238 L1912 246 L1919 254 L1925 262 L1930 270 L1934 278 L1936 286 L1936 294 L1934 302 L1930 310 L1924 318 L1918 326 L1911 334 L1904 342 L1898 350"/>
<path d="M1891 142 L1884 150 L1877 158 L1870 166 L1865 174 L1860 182 L1858 190 L1857 198 L1859 206 L1862 214 L1867 222 L1874 230 L1880 238 L1887 246 L1893 254 L1898 262 L1901 270 L1903 278 L1902 286"/>
<path d="M1930 203 L1934 211 L1936 219 L1935 227 L1931 235 L1925 243 L1918 251 L1909 259 L1899 267 L1890 275 L1882 283 L1875 291"/>
<path d="M1867 290 L1867 298 L1870 306 L1877 314 L1885 322 L1896 330 L1907 338"/>
<path d="M1865 287 L1865 295 L1867 303 L1870 311 L1876 319 L1882 327 L1889 335 L1896 343 L1903 351 L1908 359 L1912 367 L1914 375"/>
<path d="M1889 333 L1877 341 L1866 349 L1857 357 L1851 365 L1848 373 L1849 381 L1853 389 L1860 397 L1870 405 L1881 413"/>
<path d="M1918 234 L1913 242 L1906 250 L1899 258 L1892 266 L1886 274 L1880 282 L1876 290"/>
<path d="M1875 236 L1885 244 L1894 252 L1902 260 L1906 268 L1909 276 L1908 284 L1904 292 L1897 300 L1889 308 L1879 316 L1869 324 L1860 332 L1852 340 L1846 348"/>
<path d="M1862 288 L1865 296 L1870 304 L1877 312 L1885 320 L1894 328 L1903 336 L1910 344"/>
<path d="M1889 152 L1894 160 L1901 168 L1908 176 L1916 184 L1922 192 L1927 200 L1930 208 L1931 216"/>
<path d="M1885 313 L1893 321 L1902 329 L1910 337 L1917 345 L1923 353 L1926 361 L1927 369 L1925 377 L1921 385 L1915 393 L1907 401 L1899 409 L1890 417 L1882 425 L1876 433 L1872 441 L1870 449 L1870 457"/>
<path d="M1920 115 L1913 123 L1903 131 L1891 139 L1878 147 L1867 155 L1857 163 L1851 171 L1849 179 L1852 187 L1858 195 L1868 203 L1880 211 L1892 219 L1904 227 L1914 235"/>
<path d="M1866 363 L1870 371 L1878 379 L1888 387 L1899 395 L1911 403 L1922 411"/>
<path d="M1879 124 L1878 132 L1880 140 L1884 148 L1891 156 L1899 164 L1908 172 L1917 180 L1926 188 L1932 196 L1937 204 L1939 212 L1938 220 L1934 228 L1928 236 L1921 244 L1912 252 L1903 260"/>
<path d="M1860 275 L1866 283 L1875 291 L1885 299 L1896 307 L1906 315 L1914 323 L1919 331 L1921 339 L1919 347 L1914 355 L1906 363 L1895 371 L1885 379 L1874 387 L1866 395 L1860 403 L1858 411 L1859 419"/>
<path d="M1858 239 L1855 247 L1856 255 L1859 263 L1865 271 L1873 279 L1881 287 L1889 295 L1896 303 L1902 311 L1904 319 L1904 327 L1901 335 L1895 343 L1887 351"/>
<path d="M1932 349 L1932 357 L1929 365 L1922 373 L1913 381 L1902 389 L1891 397 L1881 405 L1873 413 L1868 421 L1866 429 L1868 437 L1873 445 L1882 453"/>
<path d="M1892 161 L1885 169 L1880 177 L1877 185 L1877 193 L1880 201 L1885 209 L1892 217 L1900 225"/>
<path d="M1938 329 L1944 337 L1947 345 L1946 353 L1943 361 L1937 369 L1929 377 L1919 385 L1909 393 L1900 401 L1892 409 L1886 417 L1883 425 L1883 433 L1887 441 L1893 449"/>
<path d="M1933 296 L1928 304 L1922 312 L1915 320 L1907 328 L1900 336 L1894 344 L1890 352 L1887 360 L1887 368 L1889 376"/>
<path d="M1873 185 L1873 193 L1876 201 L1882 209 L1889 217 L1897 225 L1905 233 L1912 241 L1918 249 L1921 257 L1921 265"/>
<path d="M1899 325 L1890 333 L1882 341 L1874 349 L1869 357 L1866 365 L1865 373 L1867 381 L1871 389 L1877 397 L1885 405 L1893 413"/>
<path d="M1885 172 L1892 180 L1896 188 L1897 196 L1896 204 L1893 212 L1887 220 L1879 228"/>
<path d="M1852 116 L1859 124 L1867 132 L1878 140 L1888 148 L1898 156 L1905 164 L1909 172 L1910 180 L1907 188 L1900 196 L1892 204 L1881 212 L1871 220 L1861 228 L1854 236"/>
<path d="M1923 145 L1914 153 L1904 161 L1896 169 L1890 177 L1886 185 L1885 193 L1888 201 L1893 209 L1901 217 L1910 225 L1919 233 L1929 241 L1937 249 L1942 257"/>
<path d="M1882 348 L1890 356 L1898 364 L1905 372 L1911 380 L1915 388 L1917 396 L1917 404 L1915 412 L1910 420 L1904 428 L1897 436"/>
<path d="M1898 299 L1908 307 L1918 315 L1925 323 L1929 331 L1929 339 L1926 347 L1919 355 L1910 363 L1899 371 L1888 379 L1879 387 L1871 395 L1867 403 L1867 411 L1870 419 L1876 427 L1885 435 L1896 443"/>
<path d="M1906 304 L1905 312 L1902 320 L1896 328 L1888 336 L1879 344 L1869 352 L1860 360"/>
<path d="M1934 243 L1940 251 L1942 259 L1940 267 L1935 275 L1926 283 L1914 291 L1902 299 L1891 307 L1881 315 L1874 323 L1870 331 L1871 339 L1875 347 L1883 355 L1894 363 L1906 371"/>
<path d="M1918 235 L1909 243 L1900 251 L1892 259 L1886 267 L1881 275 L1879 283 L1879 291 L1882 299 L1887 307 L1895 315 L1903 323 L1912 331"/>
<path d="M1902 245 L1893 253 L1884 261 L1877 269 L1872 277 L1869 285 L1869 293"/>
<path d="M1900 132 L1894 140 L1886 148 L1877 156 L1868 164 L1860 172 L1853 180 L1848 188"/>
<path d="M1917 142 L1911 150 L1904 158 L1895 166 L1887 174 L1878 182 L1871 190 L1866 198 L1862 206 L1862 214 L1864 222 L1868 230 L1874 238 L1882 246 L1891 254 L1900 262"/>
<path d="M1875 355 L1885 363 L1897 371 L1909 379 L1920 387 L1929 395 L1934 403 L1936 411"/>
<path d="M1856 325 L1862 333 L1869 341 L1877 349 L1885 357 L1893 365 L1900 373 L1905 381 L1907 389 L1907 397 L1905 405 L1900 413 L1894 421 L1886 429"/>
<path d="M1854 277 L1850 285 L1850 293 L1853 301 L1859 309 L1867 317 L1877 325 L1888 333 L1899 341 L1908 349 L1915 357 L1919 365 L1920 373 L1918 381 L1912 389 L1904 397"/>
<path d="M1935 324 L1926 332 L1916 340 L1905 348 L1895 356 L1886 364 L1880 372 L1876 380"/>
<path d="M1859 321 L1865 329 L1871 337 L1878 345 L1884 353 L1889 361 L1893 369 L1896 377 L1897 385 L1895 393 L1893 401 L1888 409 L1882 417"/>
<path d="M1857 138 L1864 146 L1874 154 L1883 162 L1893 170 L1901 178 L1906 186 L1908 194 L1907 202 L1902 210"/>
<path d="M1860 221 L1861 229 L1864 237 L1870 245 L1877 253 L1886 261 L1895 269 L1904 277"/>
<path d="M1928 226 L1921 234 L1914 242 L1906 250 L1899 258 L1894 266 L1890 274 L1889 282"/>
<path d="M1866 299 L1858 307 L1852 315 L1850 323 L1852 331 L1858 339 L1867 347 L1878 355 L1889 363 L1900 371 L1909 379"/>
<path d="M1858 82 L1850 90 L1844 98 L1840 106 L1839 114 L1840 122 L1845 130 L1851 138 L1859 146 L1868 154"/>
<path d="M1872 228 L1880 236 L1889 244 L1898 252 L1904 260 L1908 268 L1909 276 L1908 284 L1903 292 L1897 300 L1888 308 L1879 316 L1871 324 L1863 332 L1858 340"/>
<path d="M1868 129 L1876 137 L1886 145 L1897 153 L1907 161 L1915 169 L1921 177 L1924 185 L1923 193 L1919 201 L1912 209 L1903 217 L1893 225"/>
<path d="M1907 293 L1912 301 L1914 309 L1912 317 L1909 325 L1902 333 L1894 341 L1884 349"/>
<path d="M1922 100 L1921 108 L1919 116 L1914 124 L1907 132 L1900 140 L1893 148 L1886 156"/>
<path d="M1878 353 L1871 361 L1866 369 L1863 377 L1862 385 L1865 393 L1869 401 L1876 409 L1884 417 L1893 425 L1902 433 L1910 441 L1916 449 L1921 457"/>
<path d="M1887 104 L1883 112 L1881 120 L1882 128 L1886 136 L1892 144 L1899 152 L1907 160 L1915 168 L1923 176 L1928 184 L1931 192 L1932 200 L1930 208 L1925 216"/>
<path d="M1903 169 L1892 177 L1883 185 L1877 193 L1876 201 L1878 209 L1884 217 L1893 225 L1905 233 L1917 241 L1929 249 L1939 257 L1946 265 L1950 273 L1950 281 L1945 289"/>
<path d="M1870 378 L1876 386 L1883 394 L1890 402 L1898 410 L1904 418 L1910 426 L1913 434"/>
<path d="M1867 167 L1878 175 L1888 183 L1898 191 L1905 199 L1910 207 L1912 215 L1911 223 L1906 231 L1899 239 L1890 247 L1880 255 L1869 263 L1859 271 L1850 279 L1844 287 L1840 295 L1840 303 L1842 311 L1848 319"/>
<path d="M1898 141 L1897 149 L1893 157 L1887 165 L1879 173 L1871 181 L1863 189 L1855 197 L1849 205 L1844 213 L1841 221 L1841 229 L1843 237 L1847 245 L1853 253 L1860 261 L1868 269 L1877 277"/>
<path d="M1893 176 L1886 184 L1882 192 L1881 200 L1882 208 L1887 216 L1893 224 L1902 232 L1912 240 L1921 248 L1931 256"/>
<path d="M1922 235 L1918 243 L1913 251 L1906 259 L1898 267 L1891 275 L1884 283 L1879 291"/>
<path d="M1927 112 L1924 120 L1918 128 L1911 136 L1904 144 L1896 152 L1890 160 L1885 168 L1882 176 L1882 184 L1885 192 L1890 200 L1896 208 L1904 216 L1911 224 L1918 232 L1924 240 L1927 248"/>
<path d="M1866 202 L1868 210 L1873 218 L1881 226 L1890 234 L1901 242 L1911 250 L1920 258 L1927 266 L1931 274"/>
<path d="M1891 349 L1882 357 L1873 365 L1867 373 L1861 381 L1859 389 L1858 397 L1861 405"/>
<path d="M1916 133 L1912 141 L1905 149 L1896 157 L1886 165 L1875 173 L1865 181 L1857 189 L1851 197 L1848 205 L1848 213 L1852 221 L1858 229 L1867 237 L1877 245 L1888 253 L1898 261 L1907 269 L1913 277 L1917 285"/>
<path d="M1888 76 L1880 84 L1873 92 L1869 100 L1868 108 L1869 116 L1873 124 L1879 132 L1886 140 L1895 148 L1903 156 L1911 164 L1917 172 L1921 180 L1922 188 L1921 196"/>
<path d="M1936 272 L1932 280 L1925 288 L1916 296 L1906 304 L1896 312 L1888 320 L1881 328 L1878 336 L1878 344"/>
<path d="M1852 164 L1844 172 L1838 180 L1836 188 L1837 196 L1841 204 L1848 212 L1857 220 L1867 228 L1877 236 L1887 244 L1895 252 L1900 260"/>
<path d="M1879 112 L1882 120 L1887 128 L1895 136 L1904 144 L1912 152 L1920 160 L1927 168 L1931 176"/>
<path d="M1881 289 L1883 297 L1886 305 L1892 313 L1898 321 L1905 329 L1912 337 L1919 345 L1924 353 L1928 361 L1929 369 L1929 377 L1927 385"/>
<path d="M1866 157 L1860 165 L1856 173 L1856 181 L1858 189 L1863 197 L1871 205 L1879 213 L1888 221 L1896 229 L1903 237 L1907 245 L1909 253"/>
<path d="M1890 171 L1881 179 L1873 187 L1867 195 L1863 203 L1862 211 L1864 219 L1868 227"/>
<path d="M1855 191 L1854 199 L1856 207 L1861 215 L1868 223 L1876 231 L1885 239"/>
<path d="M1893 102 L1889 110 L1887 118 L1887 126 L1889 134 L1893 142 L1899 150 L1906 158 L1913 166 L1921 174"/>
<path d="M1898 298 L1887 306 L1878 314 L1872 322 L1870 330 L1872 338 L1878 346 L1888 354 L1899 362 L1911 370 L1923 378 L1932 386"/>
<path d="M1902 79 L1913 87 L1923 95 L1931 103 L1938 111 L1942 119 L1942 127 L1939 135 L1934 143 L1926 151 L1916 159 L1906 167"/>
<path d="M1891 65 L1880 73 L1870 81 L1861 89 L1854 97 L1849 105 L1848 113 L1851 121 L1857 129 L1865 137 L1875 145 L1885 153 L1895 161 L1903 169 L1909 177"/>
<path d="M1913 105 L1915 113 L1915 121 L1912 129 L1907 137 L1901 145 L1894 153 L1886 161 L1879 169 L1872 177 L1867 185 L1864 193 L1862 201 L1864 209 L1867 217"/>
<path d="M1937 274 L1936 282 L1931 290 L1923 298 L1913 306 L1902 314 L1891 322 L1881 330 L1873 338 L1868 346 L1866 354 L1868 362 L1873 370 L1882 378"/>
<path d="M1939 261 L1934 269 L1926 277 L1915 285 L1903 293 L1891 301 L1880 309 L1872 317 L1867 325 L1866 333 L1869 341"/>
<path d="M1837 306 L1836 314 L1839 322 L1845 330 L1853 338 L1863 346 L1874 354 L1884 362"/>
<path d="M1905 247 L1898 255 L1890 263 L1882 271 L1876 279 L1872 287 L1869 295 L1869 303 L1871 311 L1875 319 L1881 327 L1888 335 L1896 343 L1904 351"/>
<path d="M1910 287 L1905 295 L1897 303 L1887 311 L1876 319 L1865 327 L1855 335 L1847 343 L1842 351 L1840 359"/>
<path d="M1904 120 L1900 128 L1893 136 L1884 144 L1874 152 L1864 160 L1854 168 L1847 176 L1841 184 L1839 192 L1839 200 L1843 208 L1849 216 L1857 224 L1867 232 L1877 240 L1887 248"/>
<path d="M1926 190 L1931 198 L1933 206 L1933 214 L1931 222 L1926 230 L1919 238 L1911 246 L1903 254 L1895 262 L1888 270 L1882 278 L1879 286"/>
<path d="M1914 228 L1911 236 L1906 244 L1900 252 L1892 260 L1884 268 L1877 276 L1869 284"/>
<path d="M1893 151 L1882 159 L1872 167 L1863 175 L1857 183 L1854 191 L1855 199 L1860 207 L1867 215"/>
<path d="M1940 265 L1947 273 L1952 281 L1952 289 L1949 297 L1942 305 L1933 313 L1922 321 L1910 329 L1899 337 L1889 345 L1881 353 L1877 361 L1877 369 L1880 377 L1886 385 L1896 393 L1907 401"/>
<path d="M1857 346 L1853 354 L1850 362 L1851 370 L1854 378 L1859 386 L1866 394 L1875 402 L1884 410 L1892 418 L1900 426 L1905 434 L1909 442 L1910 450 L1908 458 L1904 466 L1898 474"/>
<path d="M1876 377 L1883 385 L1891 393 L1897 401 L1903 409 L1906 417 L1907 425 L1905 433 L1901 441 L1895 449 L1888 457 L1881 465 L1874 473 L1867 481 L1863 489 L1861 497 L1861 505 L1863 513 L1868 521"/>
<path d="M1952 370 L1946 378 L1938 386 L1927 394 L1916 402 L1904 410 L1894 418 L1886 426 L1881 434 L1879 442 L1881 450 L1887 458 L1895 466 L1906 474 L1917 482"/>
<path d="M1874 161 L1884 169 L1895 177 L1903 185 L1910 193 L1913 201 L1913 209 L1910 217 L1904 225 L1895 233 L1885 241 L1875 249 L1864 257 L1855 265"/>
<path d="M1858 285 L1862 293 L1870 301 L1879 309 L1890 317 L1901 325 L1911 333 L1918 341 L1923 349 L1925 357 L1923 365 L1917 373 L1909 381"/>
<path d="M1923 105 L1927 113 L1926 121 L1921 129 L1913 137 L1903 145 L1890 153 L1878 161 L1867 169 L1858 177 L1853 185"/>
<path d="M1886 280 L1883 288 L1882 296 L1883 304 L1886 312 L1891 320 L1897 328 L1904 336 L1911 344 L1917 352 L1923 360 L1928 368"/>
<path d="M1909 160 L1919 168 L1927 176 L1933 184 L1935 192 L1933 200 L1928 208 L1921 216 L1911 224 L1900 232 L1890 240 L1881 248 L1874 256 L1870 264 L1869 272 L1872 280"/>
<path d="M1852 109 L1852 117 L1856 125 L1863 133 L1872 141 L1882 149 L1893 157 L1903 165 L1912 173 L1918 181 L1922 189 L1922 197 L1919 205 L1913 213 L1905 221 L1895 229 L1884 237 L1874 245 L1865 253"/>
</g>
<path d="M1824.0 84.0 L1900.0 84.0 L1979.0 84.0 L1981.0 95.0 L1977.0 112.0 L1966.0 128.0 L1958.0 140.0 L1956.0 160.0 L1955.0 183.0 L1951.0 205.0 L1949.0 225.0 L1951.0 245.0 L1958.0 265.0 L1964.0 285.0 L1972.0 305.0 L1980.0 330.0 L1985.0 352.0 L1978.0 372.0 L1968.0 390.0 L1972.0 405.0 L1983.0 418.0 L1985.0 425.0 L1920.0 425.0 L1862.0 425.0 L1861.0 405.0 L1858.0 383.0 L1858.0 362.0 L1853.0 345.0 L1846.0 330.0 L1841.0 315.0 L1842.0 300.0 L1849.0 283.0 L1846.0 270.0 L1836.0 258.0 L1828.0 244.0 L1830.0 230.0 L1838.0 218.0 L1843.0 205.0 L1836.0 192.0 L1832.0 180.0 L1836.0 166.0 L1844.0 152.0 L1838.0 136.0 L1828.0 122.0 L1821.0 108.0 L1820.0 95.0 Z" fill="#000" filter="url(#tMesh)" opacity="0.35"/>
</g>
<path d="M1824.0 84.0 C1837.3 82.2 1874.2 84.0 1900.0 84.0 C1925.8 84.0 1965.5 82.2 1979.0 84.0 C1992.5 85.8 1981.3 90.3 1981.0 95.0 C1980.7 99.7 1979.5 106.5 1977.0 112.0 C1974.5 117.5 1969.2 123.3 1966.0 128.0 C1962.8 132.7 1959.7 134.7 1958.0 140.0 C1956.3 145.3 1956.5 152.8 1956.0 160.0 C1955.5 167.2 1955.8 175.5 1955.0 183.0 C1954.2 190.5 1952.0 198.0 1951.0 205.0 C1950.0 212.0 1949.0 218.3 1949.0 225.0 C1949.0 231.7 1949.5 238.3 1951.0 245.0 C1952.5 251.7 1955.8 258.3 1958.0 265.0 C1960.2 271.7 1961.7 278.3 1964.0 285.0 C1966.3 291.7 1969.3 297.5 1972.0 305.0 C1974.7 312.5 1977.8 322.2 1980.0 330.0 C1982.2 337.8 1985.3 345.0 1985.0 352.0 C1984.7 359.0 1980.8 365.7 1978.0 372.0 C1975.2 378.3 1969.0 384.5 1968.0 390.0 C1967.0 395.5 1969.5 400.3 1972.0 405.0 C1974.5 409.7 1980.8 414.7 1983.0 418.0 C1985.2 421.3 1995.5 423.8 1985.0 425.0 C1974.5 426.2 1940.5 425.0 1920.0 425.0 C1899.5 425.0 1871.8 428.3 1862.0 425.0 C1852.2 421.7 1861.7 412.0 1861.0 405.0 C1860.3 398.0 1858.5 390.2 1858.0 383.0 C1857.5 375.8 1858.8 368.3 1858.0 362.0 C1857.2 355.7 1855.0 350.3 1853.0 345.0 C1851.0 339.7 1848.0 335.0 1846.0 330.0 C1844.0 325.0 1841.7 320.0 1841.0 315.0 C1840.3 310.0 1840.7 305.3 1842.0 300.0 C1843.3 294.7 1848.3 288.0 1849.0 283.0 C1849.7 278.0 1848.2 274.2 1846.0 270.0 C1843.8 265.8 1839.0 262.3 1836.0 258.0 C1833.0 253.7 1829.0 248.7 1828.0 244.0 C1827.0 239.3 1828.3 234.3 1830.0 230.0 C1831.7 225.7 1835.8 222.2 1838.0 218.0 C1840.2 213.8 1843.3 209.3 1843.0 205.0 C1842.7 200.7 1837.8 196.2 1836.0 192.0 C1834.2 187.8 1832.0 184.3 1832.0 180.0 C1832.0 175.7 1834.0 170.7 1836.0 166.0 C1838.0 161.3 1843.7 157.0 1844.0 152.0 C1844.3 147.0 1840.7 141.0 1838.0 136.0 C1835.3 131.0 1830.8 126.7 1828.0 122.0 C1825.2 117.3 1822.3 112.5 1821.0 108.0 C1819.7 103.5 1819.5 99.0 1820.0 95.0 C1820.5 91.0 1810.7 85.8 1824.0 84.0 Z" fill="none" stroke="#b5561a" stroke-width="1.4"/>
<ellipse cx="2008.5" cy="386" rx="32.5" ry="32" fill="url(#gB)"/>
<ellipse cx="2008.5" cy="386" rx="32.5" ry="32" fill="none" stroke="#0d4a8c" stroke-width="0.8" opacity="0.6"/>
<clipPath id="sp6m"><ellipse cx="2008.5" cy="386" rx="32.5" ry="32"/></clipPath>
<path d="M1972 372 Q1990 366 2004 380 L2004 408 Q1988 414 1974 400 Z" fill="url(#grid3b)" clip-path="url(#sp6m)" opacity="0.8"/>
<ellipse cx="2014" cy="346" rx="34" ry="31" fill="url(#gB)"/>
<clipPath id="sp4"><ellipse cx="2014" cy="346" rx="34" ry="31"/></clipPath>
<path d="M2016 309 Q2026 346 2020 383 L1977 383 L1977 309 Z" fill="url(#gG)" clip-path="url(#sp4)"/>
<ellipse cx="2014" cy="346" rx="34" ry="31" fill="none" stroke="#0d4a8c" stroke-width="0.8" opacity="0.6"/>
<ellipse cx="2006" cy="298" rx="35" ry="31.5" fill="url(#gB)"/>
<clipPath id="sp3"><ellipse cx="2006" cy="298" rx="35" ry="31.5"/></clipPath>
<path d="M2005 260 Q2002 293 2010 310 Q2016 320 2024 333 L2044 336 L2044 260 Z" fill="url(#gG)" clip-path="url(#sp3)"/>
<ellipse cx="2006" cy="298" rx="35" ry="31.5" fill="none" stroke="#0d4a8c" stroke-width="0.8" opacity="0.6"/>
<ellipse cx="1983" cy="256" rx="33" ry="31" fill="url(#gB)"/>
<ellipse cx="1983" cy="256" rx="33" ry="31" fill="none" stroke="#0d4a8c" stroke-width="0.8" opacity="0.6"/>
<ellipse cx="1985" cy="197.5" rx="33" ry="31" fill="url(#gB)"/>
<clipPath id="sp1"><ellipse cx="1985" cy="197.5" rx="33" ry="31"/></clipPath>
<path d="M1949 179.5 Q1975 174.5 2003 178.5 Q2012 192.5 2009 209.5 Q2003 221.5 1990 233.5 L1949 233.5 Z" fill="url(#gG)" clip-path="url(#sp1)"/>
<ellipse cx="1985" cy="197.5" rx="33" ry="31" fill="none" stroke="#0d4a8c" stroke-width="0.8" opacity="0.6"/>
<ellipse cx="1993.5" cy="140" rx="34.5" ry="32" fill="url(#gB)"/>
<clipPath id="sp0"><ellipse cx="1993.5" cy="140" rx="34.5" ry="32"/></clipPath>
<path d="M2006.0 102.5 L2008.0 177.5 L2031.0 177.5 L2031.0 102.5 Z" fill="url(#gG)" clip-path="url(#sp0)"/>
<ellipse cx="1993.5" cy="140" rx="34.5" ry="32" fill="none" stroke="#0d4a8c" stroke-width="0.8" opacity="0.6"/>
<g stroke="#231f20" stroke-width="3" stroke-dasharray="30 8" fill="none">
<path d="M1300.4 61 V446"/>
<path d="M1383 66 V438"/>
<path d="M1592 61 V446"/>
<path d="M1672.4 66 V438"/>
<path d="M1908.8 69 V450.5"/>
<path d="M1993.6 67 V439"/>
</g>
<text x="1298" y="32.6" font-family='"DejaVu Sans Condensed", "DejaVu Sans", sans-serif' font-size="34" font-weight="normal" fill="#231f20" text-anchor="start" textLength="94" lengthAdjust="spacingAndGlyphs" >16.8 Å</text>
<text x="1586" y="32.6" font-family='"DejaVu Sans Condensed", "DejaVu Sans", sans-serif' font-size="34" font-weight="normal" fill="#231f20" text-anchor="start" textLength="95" lengthAdjust="spacingAndGlyphs" >17.3 Å</text>
<text x="1902.6" y="32.6" font-family='"DejaVu Sans Condensed", "DejaVu Sans", sans-serif' font-size="34" font-weight="normal" fill="#231f20" text-anchor="start" textLength="95.0" lengthAdjust="spacingAndGlyphs" >17.2 Å</text>
<path d="M1302 47.4 H1388" stroke="#231f20" stroke-width="3"/>
<path d="M1311 38.4 L1302 47.4 L1311 56.4" stroke="#231f20" stroke-width="3" fill="none" stroke-linejoin="miter"/>
<path d="M1379 38.4 L1388 47.4 L1379 56.4" stroke="#231f20" stroke-width="3" fill="none" stroke-linejoin="miter"/>
<path d="M1590.6 47.4 H1676" stroke="#231f20" stroke-width="3"/>
<path d="M1599.6 38.4 L1590.6 47.4 L1599.6 56.4" stroke="#231f20" stroke-width="3" fill="none" stroke-linejoin="miter"/>
<path d="M1667 38.4 L1676 47.4 L1667 56.4" stroke="#231f20" stroke-width="3" fill="none" stroke-linejoin="miter"/>
<path d="M1907.6 50.6 H1992.6" stroke="#231f20" stroke-width="3"/>
<path d="M1916.6 41.6 L1907.6 50.6 L1916.6 59.6" stroke="#231f20" stroke-width="3" fill="none" stroke-linejoin="miter"/>
<path d="M1983.6 41.6 L1992.6 50.6 L1983.6 59.6" stroke="#231f20" stroke-width="3" fill="none" stroke-linejoin="miter"/>
<path d="M1438.8 158.1 H1475" stroke="#231f20" stroke-width="2.8"/>
<path d="M1426.8 158.1 L1439.8 150.7 L1439.8 165.5 Z" fill="#231f20"/>
<path d="M1438.8 247.4 H1475" stroke="#231f20" stroke-width="2.8"/>
<path d="M1426.8 247.4 L1439.8 240.0 L1439.8 254.8 Z" fill="#231f20"/>
<path d="M1438.8 342.3 H1475" stroke="#231f20" stroke-width="2.8"/>
<path d="M1426.8 342.3 L1439.8 334.90000000000003 L1439.8 349.7 Z" fill="#231f20"/>
<text x="1444.0" y="191.9" font-family='"DejaVu Sans", sans-serif' font-size="31" font-weight="normal" fill="#231f20" text-anchor="start" textLength="21" lengthAdjust="spacingAndGlyphs" >F</text>
<text x="1444.0" y="282.8" font-family='"DejaVu Sans", sans-serif' font-size="31" font-weight="normal" fill="#231f20" text-anchor="start" textLength="21" lengthAdjust="spacingAndGlyphs" >F</text>
<text x="1444.0" y="376.4" font-family='"DejaVu Sans", sans-serif' font-size="31" font-weight="normal" fill="#231f20" text-anchor="start" textLength="21" lengthAdjust="spacingAndGlyphs" >F</text>
<path d="M1742.8 158 H1780" stroke="#231f20" stroke-width="2.8"/>
<path d="M1730.8 158 L1743.8 150.6 L1743.8 165.4 Z" fill="#231f20"/>
<path d="M1742.8 247.8 H1780" stroke="#231f20" stroke-width="2.8"/>
<path d="M1730.8 247.8 L1743.8 240.4 L1743.8 255.20000000000002 Z" fill="#231f20"/>
<path d="M1742.8 342.5 H1780" stroke="#231f20" stroke-width="2.8"/>
<path d="M1730.8 342.5 L1743.8 335.1 L1743.8 349.9 Z" fill="#231f20"/>
<text x="1748.8" y="193.8" font-family='"DejaVu Sans", sans-serif' font-size="31" font-weight="normal" fill="#231f20" text-anchor="start" textLength="21" lengthAdjust="spacingAndGlyphs" >F</text>
<text x="1748.8" y="285" font-family='"DejaVu Sans", sans-serif' font-size="31" font-weight="normal" fill="#231f20" text-anchor="start" textLength="21" lengthAdjust="spacingAndGlyphs" >F</text>
<text x="1748.8" y="378.8" font-family='"DejaVu Sans", sans-serif' font-size="31" font-weight="normal" fill="#231f20" text-anchor="start" textLength="21" lengthAdjust="spacingAndGlyphs" >F</text>
<path d="M2078.2 154.5 H2114.8" stroke="#231f20" stroke-width="2.8"/>
<path d="M2066.2 154.5 L2079.2 147.1 L2079.2 161.9 Z" fill="#231f20"/>
<path d="M2078.2 244.3 H2114.8" stroke="#231f20" stroke-width="2.8"/>
<path d="M2066.2 244.3 L2079.2 236.9 L2079.2 251.70000000000002 Z" fill="#231f20"/>
<path d="M2078.2 339.5 H2114.8" stroke="#231f20" stroke-width="2.8"/>
<path d="M2066.2 339.5 L2079.2 332.1 L2079.2 346.9 Z" fill="#231f20"/>
<text x="2081.1000000000004" y="191.3" font-family='"DejaVu Sans", sans-serif' font-size="31" font-weight="normal" fill="#231f20" text-anchor="start" textLength="21" lengthAdjust="spacingAndGlyphs" >F</text>
<text x="2081.1000000000004" y="282" font-family='"DejaVu Sans", sans-serif' font-size="31" font-weight="normal" fill="#231f20" text-anchor="start" textLength="21" lengthAdjust="spacingAndGlyphs" >F</text>
<text x="2081.1000000000004" y="376.8" font-family='"DejaVu Sans", sans-serif' font-size="31" font-weight="normal" fill="#231f20" text-anchor="start" textLength="21" lengthAdjust="spacingAndGlyphs" >F</text>
<text x="1187.2" y="478.2" font-family='"DejaVu Sans Condensed", "DejaVu Sans", sans-serif' font-size="34" font-weight="normal" fill="#231f20" text-anchor="start" textLength="240.7" lengthAdjust="spacingAndGlyphs" >Atomistic capsid</text>
<text x="1201" y="519.8" font-family='"DejaVu Sans Condensed", "DejaVu Sans", sans-serif' font-size="34" font-weight="normal" fill="#231f20" text-anchor="start" textLength="210" lengthAdjust="spacingAndGlyphs" >atomistic DNA</text>
<text x="1481.4" y="478.2" font-family='"DejaVu Sans Condensed", "DejaVu Sans", sans-serif' font-size="34" font-weight="normal" fill="#231f20" text-anchor="start" textLength="266" lengthAdjust="spacingAndGlyphs" >Grid-based capsid</text>
<text x="1508" y="519.8" font-family='"DejaVu Sans Condensed", "DejaVu Sans", sans-serif' font-size="34" font-weight="normal" fill="#231f20" text-anchor="start" textLength="210" lengthAdjust="spacingAndGlyphs" >atomistic DNA</text>
<text x="1809.8" y="478.7" font-family='"DejaVu Sans Condensed", "DejaVu Sans", sans-serif' font-size="34" font-weight="normal" fill="#231f20" text-anchor="start" textLength="265.2" lengthAdjust="spacingAndGlyphs" >Grid-based capsid</text>
<text x="1794" y="520.1" font-family='"DejaVu Sans Condensed", "DejaVu Sans", sans-serif' font-size="34" font-weight="normal" fill="#231f20" text-anchor="start" textLength="294.5" lengthAdjust="spacingAndGlyphs" >coarse-grained DNA</text>
</svg>
</body></html>
